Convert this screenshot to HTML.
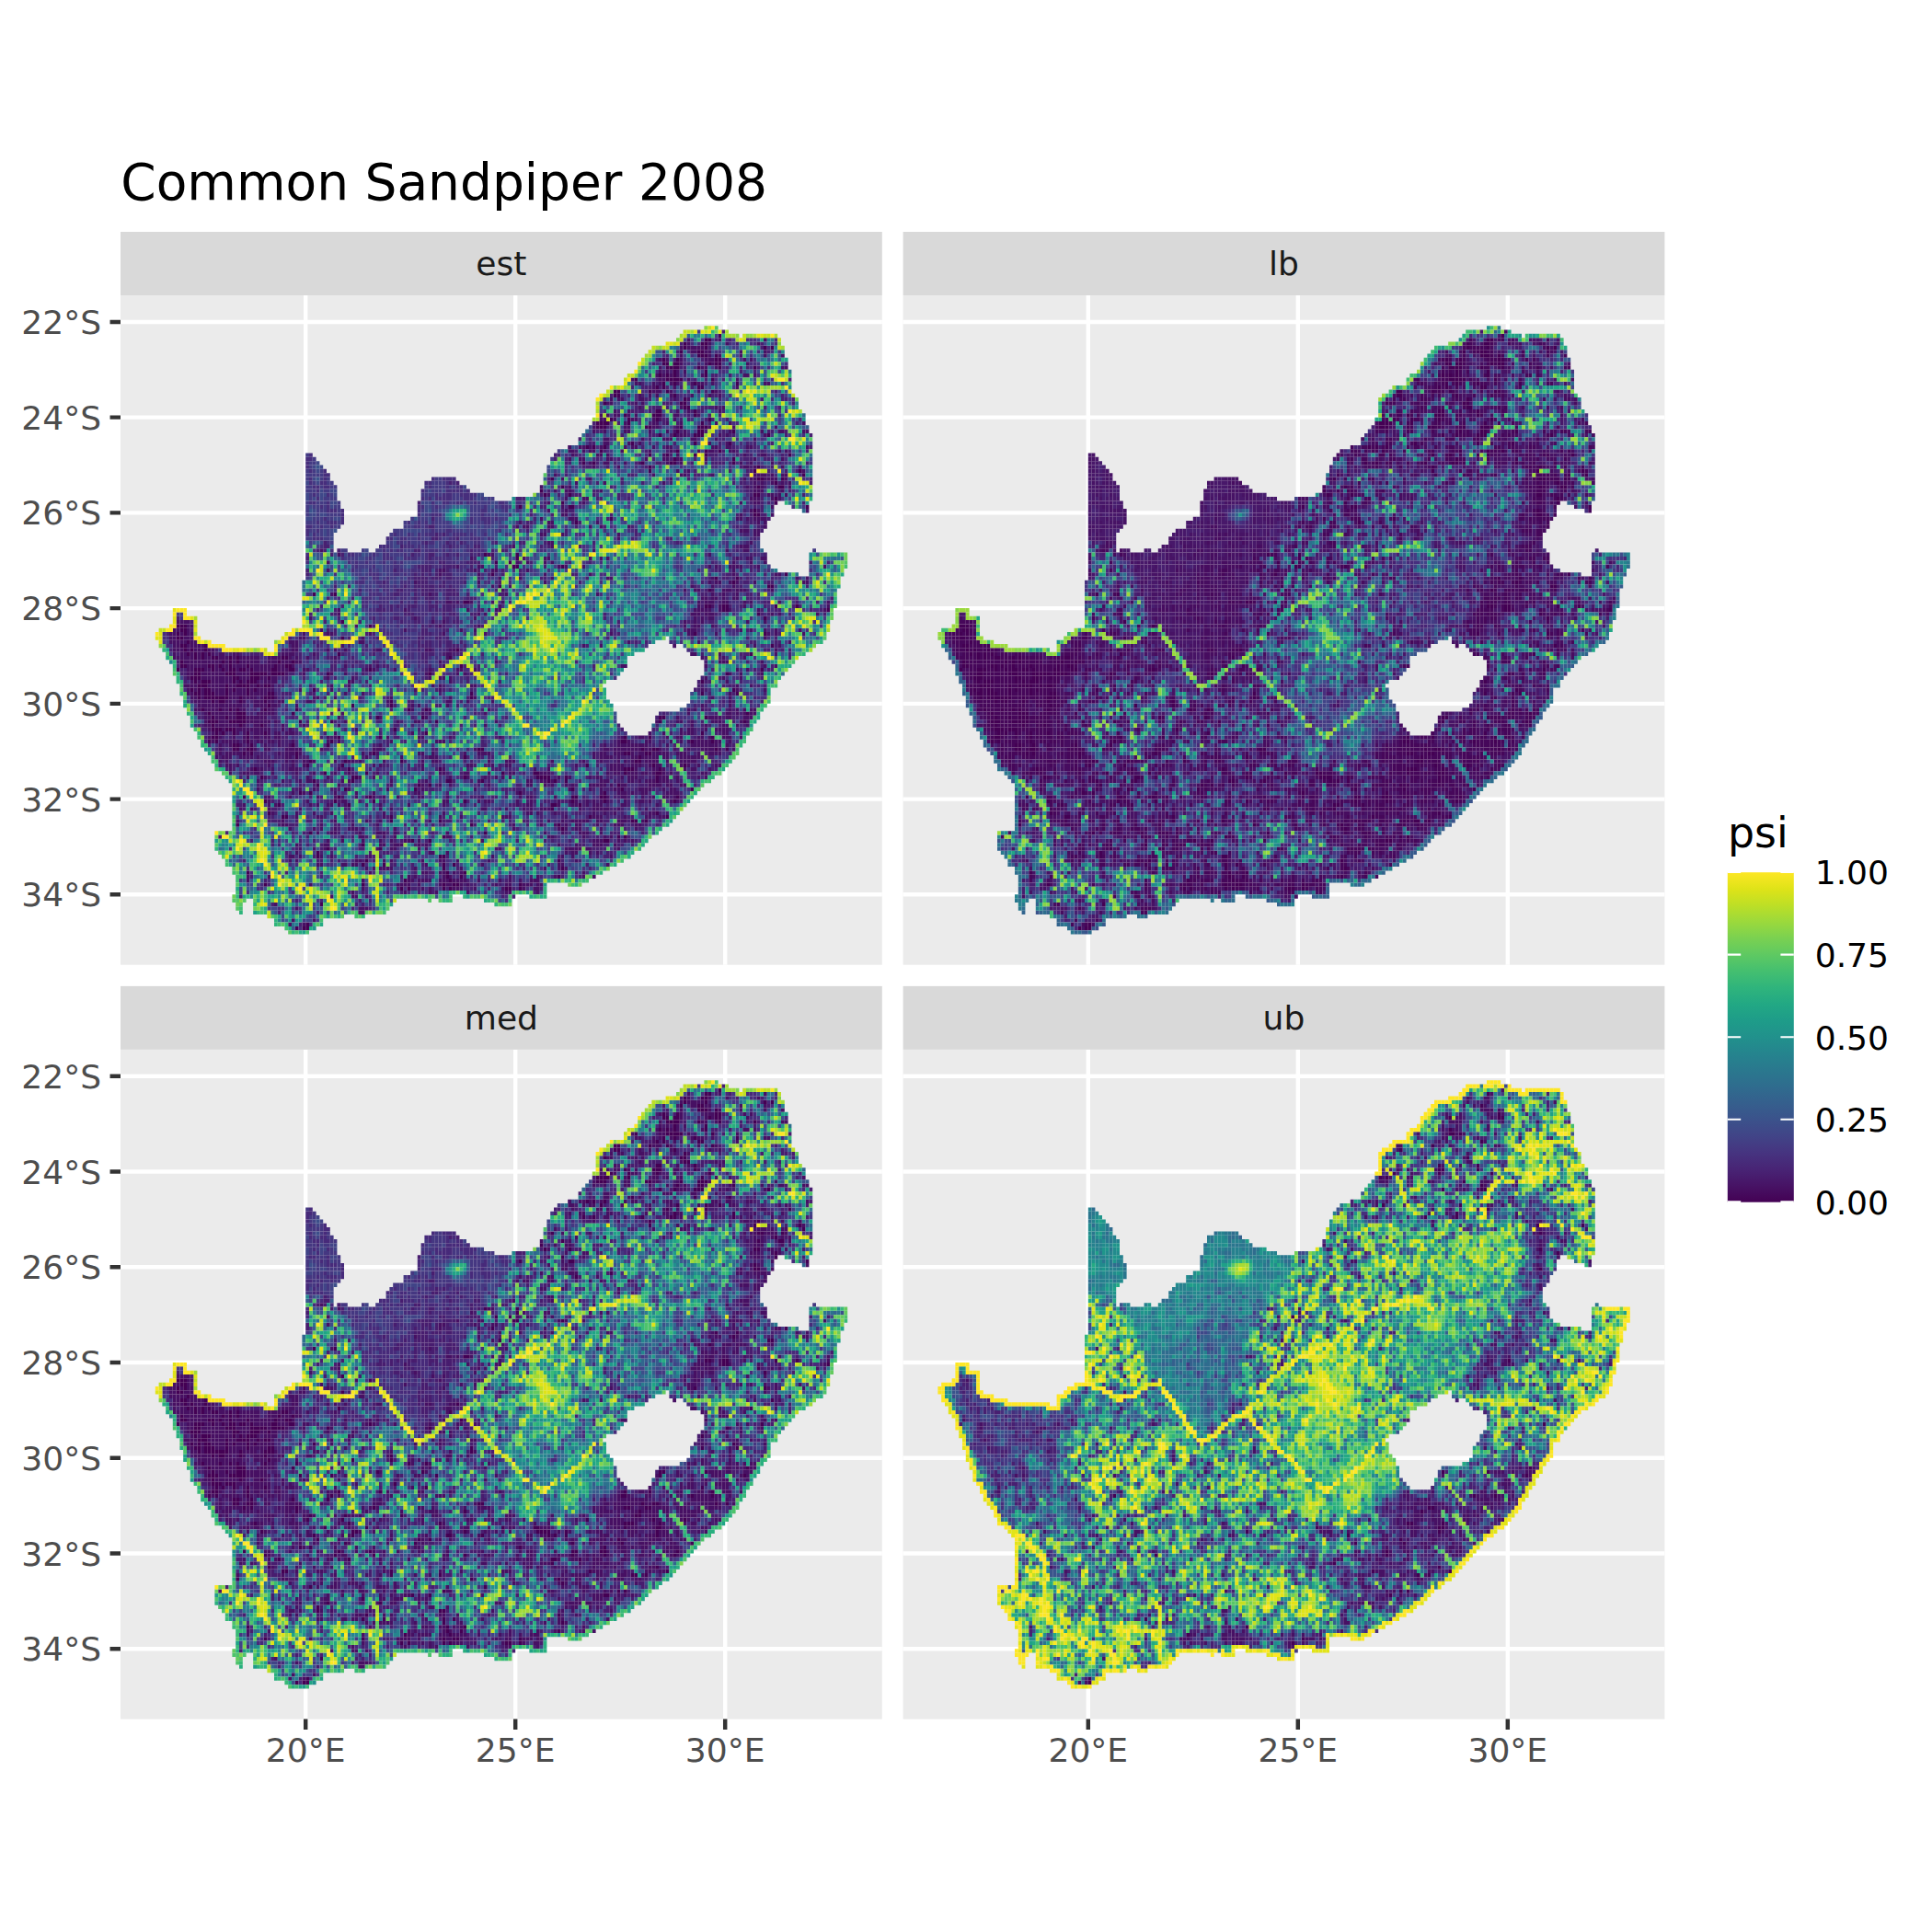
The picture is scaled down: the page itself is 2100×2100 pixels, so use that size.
<!DOCTYPE html>
<html lang="en"><head><meta charset="utf-8"><title>Common Sandpiper 2008</title>
<style>html,body{margin:0;padding:0;background:#fff}svg{display:block}text{font-family:"DejaVu Sans","Liberation Sans",sans-serif}</style></head><body>
<svg width="2100" height="2100" viewBox="0 0 2100 2100">
<defs>
<path id="l0a" d="M162 10h2M156 12h1m5 0h1M160 14h3M150 16h2m2 0h1m11 0h1M162 18h1M142 20h1m9 0h4m8 0h1M148 22h1m1 0h1m9 0h2M136 24h2M156 26h1M148 28h2M140 30h1m7 0h1M132 32h2m12 0h1m13 0h3M160 34h2m18 0h1M132 38h1m21 0h1m7 0h1m3 0h1M170 40h1M146 42h1M190 44h1M182 46h1M182 50h1M124 52h1M176 54h2M108 64h1M102 66h1m3 0h1M180 72h2M50 74h1m5 0h1M94 76h1M168 78h1M12 82h2m52 0h1M14 86h1M16 90h1m1 0h1m3 0h1m3 0h1m1 0h1m13 0h1M12 92h2m6 0h2m4 0h1m15 0h2m48 0h1M16 94h2m8 0h2m4 0h5m1 0h4m12 0h1m113 0h1M16 96h1m1 0h3m11 0h2M20 98h1m29 0h1m119 0h1M20 100h6m10 0h3M72 102h1M20 104h1m7 0h3m13 0h1m129 0h1M20 106h3m3 0h5m15 0h1M22 108h2m2 0h2M22 110h1m123 0h1m17 0h1M28 112h1m3 0h1m11 0h1m9 0h1M30 114h1m1 0h1m107 0h1m5 0h1M142 116h2M60 118h1m25 0h1m53 0h2M62 120h1m51 0h4m4 0h1m25 0h1M80 122h1M46 124h1M36 126h1m19 0h1m67 0h1M118 128h1M42 130h1m29 0h1M28 132h1m91 0h1M78 136h1m55 0h1M54 138h1M86 140h2M64 142h1m5 0h1m19 0h1M88 144h1M76 146h1M106 148h1M52 152h1M48 158h1"/>
<path id="l0b" d="M166 9h1M156 11h1m5 0h1M160 13h2M150 15h1m3 0h1m11 0h1M152 17h3m5 0h1m5 0h1m9 0h1M162 19h1M150 21h1M136 23h2m8 0h1m17 0h1M156 25h1M156 27h2M148 29h2M132 31h3m5 0h1M154 33h1m5 0h2m8 0h1M128 37h1m1 0h1M146 39h1m15 0h1m23 0h1M130 41h1m13 0h1m7 0h2m16 0h1M146 43h1m29 0h1M118 45h1m59 0h1m5 0h1M184 47h1M116 49h1m59 0h2M182 51h1M176 53h1M108 65h1M108 67h1M170 71h1M162 77h2m4 0h1m13 0h1m5 0h1M58 81h1M12 83h2M12 85h1m45 0h1M12 87h2M14 89h1m1 0h1m1 0h1m1 0h1M12 91h1m11 0h1m1 0h1m1 0h1m11 0h1m3 0h1M16 93h3m5 0h1m1 0h2m2 0h1m1 0h1m5 0h2m4 0h1m21 0h1m111 0h1M16 95h2m10 0h1m3 0h3M18 97h2m8 0h4m2 0h1m1 0h2M16 99h2m2 0h2m16 0h1M24 101h1m11 0h1m35 0h1M18 103h1m7 0h1m1 0h1m7 0h1m45 0h1M28 105h3m37 0h1m81 0h1m11 0h1M22 109h1m1 0h1m11 0h1m45 0h1M20 111h1m1 0h1m115 0h2m18 0h1m5 0h1M28 113h1m3 0h1m65 0h1m45 0h1m3 0h1m19 0h1M48 117h1m9 0h1m69 0h1m27 0h1M104 119h1m9 0h1m33 0h2M50 121h1m37 0h2m8 0h1m23 0h1m25 0h1M124 123h1m13 0h1m19 0h1M30 125h1m35 0h1m57 0h2m6 0h2m20 0h1M40 127h1m19 0h1m57 0h2m6 0h1M148 129h1M72 131h1m13 0h1m55 0h1M64 137h1M120 141h1M88 145h1m3 0h1m27 0h1M36 147h1m27 0h1m25 0h2M48 157h1"/>
<path id="l0c" d="M163 10h1M179 12h1m1 0h1M161 14h2m2 0h1M151 16h1m1 0h2m8 0h1m1 0h2M153 18h1M151 20h5M161 22h1M137 24h1m15 0h1M133 26h1m21 0h2M149 28h1m9 0h1M135 30h1m27 0h1M131 32h3m11 0h2m8 0h1m5 0h2M149 34h1m3 0h1m5 0h3M141 36h1m17 0h1m9 0h1M153 40h1M177 42h1M115 48h1M109 52h1m13 0h2m66 0h1M177 54h1M125 56h1M99 64h1M165 70h1m5 0h1M103 72h1m77 0h1M93 76h2M167 78h2m28 0h1M179 80h1M11 82h3M11 84h1m1 0h1m145 0h1m19 0h1M13 88h1m1 0h1m3 0h1m71 0h1M21 90h2m18 0h2m46 0h1M13 92h1m7 0h1m1 0h1m7 0h1m7 0h1m3 0h1M17 94h1m7 0h3m5 0h4m2 0h3m41 0h1M19 96h2m6 0h1m1 0h1m1 0h3m127 0h1M15 98h1m1 0h1m1 0h2m4 0h1m1 0h1m3 0h1m1 0h1M17 100h1m1 0h7m3 0h1m7 0h2m56 0h1M37 102h1m23 0h1M29 104h2M21 106h2m4 0h4m24 0h1m29 0h1m63 0h1m23 0h1M21 108h3m1 0h3m45 0h1M21 110h2m8 0h1m25 0h1m11 0h1m69 0h1M27 112h2M45 114h1m21 0h1m71 0h2m4 0h2M49 116h1m9 0h1m15 0h1m67 0h1M33 118h1m105 0h3m7 0h1M35 120h1m25 0h2m30 0h1m21 0h3M51 122h1m31 0h1m53 0h1M49 124h1m59 0h1m23 0h1M67 126h1m25 0h1m39 0h1m19 0h1M41 130h2m86 0h1m21 0h1M95 132h1M49 134h1m49 0h1M83 136h1m49 0h2M69 138h1M51 140h1m35 0h1M87 142h1M31 144h1m61 0h1M89 146h1M75 148h1m1 0h1m9 0h1m1 0h1m15 0h2m2 0h1M45 158h1m1 0h2"/>
<path id="l0d" d="M161 11h2M155 13h1m5 0h1M165 15h2M151 17h4M149 19h1m1 0h1m1 0h1M153 21h1m5 0h1m11 0h1M137 23h1m13 0h1M157 27h1M139 29h1m7 0h3m9 0h1M131 31h4m26 0h1M161 33h1M133 37h1M151 39h1m7 0h1M127 41h1m25 0h1M189 43h1M177 45h2M121 47h1m55 0h1m5 0h2M123 49h1m53 0h1M121 51h1M135 55h1M107 67h2m12 0h1M101 69h1m83 0h1M163 73h1M163 77h1m3 0h2M177 79h1M13 83h1M11 85h2M13 87h1m5 0h1m161 0h1M57 89h1m117 0h1M11 93h1m5 0h2m2 0h1m5 0h1m1 0h2m8 0h1m3 0h2M15 95h3m9 0h2m4 0h2m2 0h1M17 97h3m5 0h1m3 0h3m5 0h1M17 99h1m1 0h3m3 0h1m5 0h1m5 0h2m56 0h1m65 0h1m9 0h1M21 101h1m1 0h2m4 0h1M23 103h1m21 0h1m31 0h1M21 105h1m3 0h1m3 0h2m50 0h1m67 0h2M21 107h1m7 0h1m5 0h1M27 109h1m3 0h1m129 0h1M31 111h1m23 0h1m83 0h1M27 113h2m2 0h2m64 0h2m48 0h2m16 0h1M45 115h1m47 0h1m49 0h1M147 117h1M53 119h1m11 0h1m47 0h2m24 0h1m9 0h1M61 121h1m27 0h1m27 0h1m1 0h1M59 123h1m19 0h1M57 125h1m67 0h1m7 0h1M119 127h1M37 129h1M141 131h2m2 0h1M121 133h1M87 135h1m49 0h1m1 0h1M51 139h1M65 141h1M87 143h1m33 0h1M87 147h1m3 0h1m17 0h1"/>
<path id="l1a" d="M166 10h1M158 12h4M166 14h1m5 0h1m11 0h1M162 16h1m1 0h1m9 0h1M154 18h1m1 0h1M150 20h1M146 24h1m1 0h1m3 0h1m5 0h1m7 0h1M134 26h2m6 0h1m1 0h1M136 28h1m3 0h1m13 0h1m11 0h1M132 30h2m2 0h1m5 0h1M130 32h1m9 0h1m7 0h1m5 0h1m15 0h1m11 0h1M154 34h3m9 0h1m1 0h1M134 36h1m5 0h1m27 0h1M124 38h1m5 0h1m7 0h1m7 0h1m5 0h1m7 0h1m3 0h1m5 0h1M126 40h2m6 0h2m14 0h2m2 0h2m6 0h1m13 0h1m7 0h1M130 42h1m43 0h1m1 0h1m7 0h1M156 44h1m7 0h1m11 0h4m4 0h2M150 46h1m25 0h1m1 0h1m5 0h1m1 0h1M122 48h2m8 0h1m43 0h3m5 0h1M122 50h1m5 0h1m47 0h2M122 54h1m49 0h1M118 56h1M172 58h3m1 0h2M118 62h1m53 0h3M100 64h2M54 66h1m53 0h1m7 0h1m1 0h1m51 0h1M54 68h1m31 0h2m8 0h1m5 0h1m67 0h1M118 70h1m15 0h2m28 0h1m23 0h1M106 72h1m51 0h1m5 0h1m5 0h1M164 74h1M88 76h2m14 0h1m55 0h1m1 0h3m3 0h1M76 78h1m17 0h1m7 0h2m56 0h4m2 0h1m29 0h1M96 80h1m67 0h1M14 82h2m46 0h1m23 0h1m69 0h1m3 0h1m3 0h1M10 84h1m1 0h1m1 0h2m38 0h2m10 0h1m91 0h1m21 0h1m1 0h1m7 0h1M10 86h4m2 0h1m27 0h2m18 0h1m75 0h1m19 0h1m25 0h1M10 88h3m1 0h1m1 0h3m1 0h2m22 0h2m8 0h1m1 0h1m11 0h2m12 0h2m6 0h1m91 0h1M10 90h6m4 0h1m3 0h2m4 0h5m3 0h3m7 0h1m7 0h1m31 0h1M14 92h6m2 0h1m1 0h2m2 0h3m1 0h7m1 0h2m2 0h1m21 0h1m1 0h1m69 0h2m22 0h1m19 0h1M14 94h2m2 0h7m3 0h4m10 0h1m39 0h1m89 0h1m5 0h1M22 96h5m1 0h1m1 0h1m3 0h1m1 0h4m20 0h2m106 0h1M14 98h1m1 0h1m1 0h1m3 0h3m1 0h1m1 0h3m1 0h1m1 0h5m7 0h1m39 0h1M16 100h1m1 0h1m7 0h3m1 0h4m16 0h2m4 0h1m15 0h1m23 0h1m67 0h1M18 102h12m4 0h3m1 0h2m38 0h1m1 0h1m7 0h1M22 104h6m6 0h5m19 0h1m109 0h2m6 0h1M24 106h2m6 0h6m36 0h1m5 0h1m21 0h1m45 0h1m5 0h2m2 0h1m5 0h3m5 0h1m1 0h1M20 108h1m3 0h1m3 0h10m24 0h1m95 0h1m3 0h1m3 0h3M20 110h1m9 0h1m3 0h1m1 0h2m2 0h1m13 0h1m1 0h1m23 0h2m56 0h1m5 0h1m9 0h2m4 0h2m6 0h2m2 0h1M26 112h1m9 0h1m3 0h1m97 0h8m12 0h8m2 0h1M26 114h4m10 0h1m1 0h3m1 0h1m17 0h1m1 0h1m1 0h1m11 0h2m2 0h1m13 0h3m29 0h1m1 0h2m2 0h3m5 0h1m3 0h4m2 0h3m3 0h1m3 0h3M36 116h3m3 0h1m1 0h1m3 0h1m1 0h1m5 0h1m3 0h2m8 0h1m13 0h2m14 0h1m5 0h2m10 0h1m13 0h1m13 0h3m7 0h4M26 118h1m5 0h1m1 0h2m2 0h1m5 0h2m90 0h3m3 0h1m5 0h1m1 0h1m5 0h1m1 0h2M36 120h1m11 0h1m5 0h1m39 0h1m7 0h1m1 0h1m1 0h1m13 0h1m11 0h1m5 0h1m1 0h3m7 0h2m2 0h1m5 0h1m1 0h1M72 122h1m13 0h1m13 0h1m11 0h1m3 0h1m1 0h1m3 0h1m1 0h1m5 0h4m4 0h2m6 0h4m2 0h1m3 0h1M44 124h1m11 0h1m5 0h1m17 0h1m27 0h1m23 0h1m5 0h2m4 0h2m6 0h3M48 126h1m9 0h2m28 0h1m11 0h1m7 0h1m3 0h1m7 0h1m7 0h1m1 0h1m1 0h1m1 0h1m9 0h1m1 0h1m5 0h1m1 0h1M32 128h1m13 0h1m25 0h1m25 0h2m10 0h1m1 0h1m3 0h2m8 0h1m3 0h5M52 130h1m17 0h1m15 0h1m5 0h1m11 0h3m15 0h1m7 0h3m13 0h1m3 0h1M42 132h1m9 0h1m15 0h1m53 0h1m3 0h1m9 0h3m3 0h2M56 134h1m11 0h3m17 0h1m27 0h1m9 0h3m3 0h1M54 136h1m3 0h1m5 0h1m7 0h1m3 0h2m2 0h1m17 0h1m31 0h3M46 138h1m3 0h1m17 0h1m3 0h2m6 0h1m1 0h1m19 0h2m18 0h5m1 0h2M44 140h1m1 0h1m5 0h1m13 0h1m57 0h1M52 142h1m5 0h2m2 0h1m19 0h1m15 0h1m21 0h2m12 0h1M66 144h1m15 0h1m3 0h2m2 0h1m1 0h1M64 146h1m13 0h1m1 0h4m2 0h3m1 0h4m12 0h1m5 0h3M64 148h1m25 0h3m3 0h1m7 0h1m5 0h1m3 0h1M62 150h1M64 154h1M44 156h1m5 0h1"/>
<path id="l1b" d="M168 11h1M158 13h2m2 0h2m8 0h1M162 15h3M162 17h1m21 0h2M148 19h1m1 0h1m1 0h1m1 0h1m19 0h1m1 0h1M142 21h2m8 0h1m1 0h1m3 0h1m1 0h2m2 0h1m15 0h1M148 23h2m2 0h1m7 0h1M138 25h1m5 0h1M132 29h1m1 0h1m1 0h2m2 0h1m1 0h1m11 0h1m5 0h1M148 31h1m41 0h1M130 33h1m9 0h1m5 0h1m9 0h1m21 0h1m5 0h1m5 0h2M134 35h1m9 0h1m5 0h3m5 0h2m16 0h1M126 37h2m4 0h1m9 0h1m9 0h1m11 0h2m2 0h2m4 0h2M124 39h1m7 0h1m1 0h1m15 0h1m3 0h1m23 0h2M134 41h1m37 0h1M154 43h1m35 0h1M152 45h1m23 0h1m3 0h3M174 47h1m1 0h1m1 0h1m7 0h1M180 49h2M172 51h1m3 0h2M122 53h1M124 55h2m46 0h1m1 0h1m1 0h4M108 57h1m1 0h2m6 0h1m13 0h1m7 0h1M116 59h1m59 0h2M118 61h1M52 63h1m77 0h1m37 0h1m5 0h1M110 65h1m5 0h2m14 0h1m1 0h1m39 0h2m2 0h2M98 67h1m21 0h1m1 0h1m47 0h3m23 0h1M86 69h1m29 0h1m53 0h1m11 0h2M116 71h1m49 0h1m9 0h1m13 0h2M104 73h1m51 0h1m3 0h1m3 0h1m3 0h2m2 0h2M162 75h1m1 0h2m4 0h2M160 77h1m3 0h1m1 0h1M158 79h3m1 0h3m29 0h1M12 81h3m69 0h1m71 0h1m17 0h1M10 83h2m2 0h1m37 0h1m23 0h1m15 0h1m3 0h1m61 0h2m12 0h1m9 0h1M10 85h1m3 0h2m30 0h2m16 0h1M10 87h2m2 0h5m25 0h2m12 0h1m73 0h1m43 0h1M10 89h1m1 0h2m10 0h1m3 0h1m13 0h3m5 0h1m37 0h2m68 0h2m6 0h1m15 0h1M14 91h10m6 0h5m3 0h2m2 0h2m2 0h1m39 0h1m15 0h1m63 0h3m9 0h1M14 93h2m4 0h1m1 0h2m4 0h1m5 0h4m2 0h3m5 0h1m43 0h1m3 0h1m77 0h1M14 95h1m3 0h9m3 0h2m4 0h1m1 0h2m14 0h1m31 0h2m74 0h1m9 0h1M14 97h3m3 0h5m1 0h2m4 0h2m4 0h1m21 0h1m23 0h1m1 0h1m9 0h1M14 99h2m2 0h1m3 0h3m1 0h5m1 0h5m27 0h1M16 101h5m1 0h1m3 0h1m1 0h1m1 0h1m3 0h2m2 0h1m1 0h2m6 0h2m38 0h2m4 0h1M16 103h2m2 0h3m1 0h2m4 0h1m7 0h1m39 0h1m21 0h1m75 0h1M20 105h1m1 0h3m1 0h2m4 0h5m45 0h1m71 0h1m9 0h3m1 0h2m4 0h2M20 107h1m1 0h7m1 0h1m3 0h1m1 0h1m121 0h1m3 0h1m5 0h1m5 0h1M28 109h1m1 0h1m3 0h2m4 0h1m1 0h3m11 0h1m21 0h1m67 0h1m3 0h1m7 0h1m9 0h1M24 111h5m1 0h1m1 0h1m1 0h2m2 0h1m1 0h1m3 0h1m9 0h1m17 0h1m13 0h2m52 0h1m5 0h1m5 0h1m7 0h4m2 0h1M30 113h1m5 0h2m4 0h5m5 0h1m15 0h2m26 0h1m37 0h1m1 0h8m2 0h1m15 0h3m1 0h1m3 0h1M22 115h1m1 0h3m3 0h3m1 0h1m7 0h2m40 0h2m44 0h1m1 0h4m6 0h1m1 0h5m1 0h2m4 0h5M26 117h1m1 0h1m15 0h1m49 0h2m10 0h1m3 0h1m25 0h3m3 0h2m2 0h1m1 0h2m10 0h1m5 0h1M26 119h1m3 0h2m2 0h1m3 0h1m11 0h1m5 0h1m3 0h1m7 0h1m17 0h2m6 0h1m5 0h1m5 0h2m8 0h2m16 0h1m1 0h2m2 0h3m1 0h2m4 0h1m1 0h1m9 0h1M34 121h1m11 0h1m1 0h2m8 0h1m1 0h1m11 0h1m9 0h1m29 0h1m3 0h1m1 0h1m13 0h3m5 0h2m4 0h2m2 0h2m2 0h1M34 123h1m11 0h1m3 0h1m9 0h1m35 0h1m35 0h1m3 0h2m6 0h3m3 0h1m1 0h2M36 125h2m18 0h1m1 0h1m3 0h1m7 0h1m3 0h1m5 0h2m6 0h1m9 0h1m13 0h1m21 0h1m3 0h2m4 0h1m5 0h2M30 127h1m23 0h2m52 0h1m3 0h1m7 0h1m3 0h2m2 0h1m1 0h3m5 0h2m8 0h1M38 129h1m11 0h1m19 0h1m41 0h1m1 0h1m15 0h1m5 0h1m9 0h2M28 131h1m27 0h1m67 0h5m3 0h1m5 0h2m4 0h1M50 133h1m1 0h1m3 0h1m3 0h3m1 0h1m55 0h1m1 0h1m3 0h1m5 0h1m9 0h1M58 135h1m5 0h1m5 0h1m17 0h2m28 0h1M54 137h1m15 0h1m3 0h2m4 0h1m1 0h1m37 0h1m9 0h3m3 0h1M84 139h1m3 0h1m33 0h1m1 0h2M62 141h2m6 0h1m1 0h1m13 0h2m12 0h1M70 143h3m19 0h1m23 0h1m3 0h1m1 0h1M106 145h1m7 0h1m15 0h1M74 147h4m2 0h1m5 0h1m1 0h2m2 0h1m1 0h1m7 0h1m3 0h1m3 0h3m1 0h2M76 149h1m17 0h1m11 0h1m7 0h1M64 153h2"/>
<path id="l1c" d="M157 10h1m21 0h1M155 12h1m1 0h5M155 14h1m7 0h1m15 0h1M155 16h1M149 18h1m1 0h1M141 20h1m7 0h2m6 0h1m13 0h1M147 22h1m5 0h1m17 0h1M143 24h1m19 0h1M135 26h1M157 28h1M133 30h1m7 0h2m4 0h1m1 0h1m3 0h1M139 32h2m6 0h2m14 0h1M155 34h2m22 0h1M133 36h2m8 0h1m19 0h1M123 38h2m2 0h1m1 0h2m32 0h2m4 0h2m12 0h1m1 0h1M123 40h1m3 0h1m7 0h1m9 0h1m5 0h1m3 0h1M137 42h1m35 0h2m14 0h1M119 44h1m27 0h1m7 0h2m20 0h3m1 0h1m3 0h1M125 46h1m7 0h1m47 0h1M119 48h1m3 0h1m53 0h2M127 50h2m46 0h3m3 0h1m1 0h1M121 52h1m59 0h1M121 54h2m58 0h1M109 56h1m7 0h2m12 0h1m45 0h1m1 0h1M173 58h2m2 0h1M137 60h1M107 62h1m65 0h2M57 64h1m43 0h1m61 0h1M111 66h1m63 0h1m3 0h1M87 68h1m13 0h2m8 0h1M103 70h1m5 0h1m25 0h1m55 0h1M101 72h1M55 74h1m27 0h1m21 0h1m25 0h1m35 0h1m3 0h1M89 76h1m1 0h1m3 0h1m5 0h1m61 0h2m2 0h2m4 0h1m1 0h1m7 0h1m13 0h1M57 78h1m45 0h1m55 0h5m5 0h1m7 0h1M49 80h1m29 0h1m79 0h1m1 0h1m1 0h2M15 82h1m81 0h1m61 0h2M9 84h2m4 0h1m31 0h1m7 0h1m31 0h1m11 0h1m35 0h1m21 0h2m6 0h1M9 86h5m1 0h2m26 0h3m17 0h2M11 88h2m4 0h2m2 0h1m23 0h1m13 0h1m9 0h1m13 0h1m5 0h2M11 90h5m1 0h1m1 0h2m2 0h3m1 0h1m1 0h6m2 0h4m2 0h1m1 0h1m115 0h1m5 0h1m5 0h1M15 92h5m5 0h1m1 0h4m2 0h6m2 0h1m17 0h1m27 0h1m51 0h1m39 0h1M15 94h1m3 0h6m4 0h3m5 0h1m9 0h1m7 0h1m3 0h1m31 0h1m1 0h1m75 0h1M15 96h1m1 0h1m3 0h6m10 0h3m21 0h1m27 0h1M21 98h4m4 0h2m4 0h4m16 0h1m23 0h1m81 0h1m9 0h1m7 0h1M15 100h2m10 0h2m2 0h3m1 0h1m3 0h1m11 0h1m37 0h1m79 0h1M17 102h13m3 0h4m2 0h1m5 0h1m115 0h1m7 0h1M19 104h1m1 0h7m7 0h4m42 0h1m1 0h1m15 0h1m57 0h1m11 0h1m1 0h1m1 0h1m1 0h2M19 106h1m3 0h3m5 0h7m1 0h1m19 0h1m19 0h2m74 0h1m9 0h2M29 108h9m3 0h1m1 0h1m111 0h1m1 0h2m6 0h4M23 110h1m3 0h1m5 0h2m2 0h1m1 0h2m30 0h1m9 0h1m7 0h1m13 0h1m39 0h2m6 0h1m3 0h1m5 0h1m1 0h1m3 0h3M23 112h1m5 0h1m1 0h1m11 0h1m25 0h1m63 0h1m3 0h9m5 0h1m7 0h7M23 114h1m1 0h5m1 0h1m11 0h2m36 0h1m11 0h1m3 0h4m32 0h1m3 0h2m2 0h1m1 0h2m2 0h5m3 0h2m6 0h4M23 116h1m1 0h1m11 0h2m8 0h2m12 0h1m1 0h1m17 0h1m3 0h1m19 0h3m19 0h1m9 0h1m1 0h1m1 0h1m3 0h4m2 0h1m3 0h5M35 118h1m7 0h3m11 0h1m23 0h1m5 0h1m25 0h1m3 0h1m17 0h4m8 0h2m10 0h1m3 0h1M31 120h1m31 0h1m3 0h1m21 0h1m9 0h1m23 0h1m5 0h1m1 0h2m8 0h2m6 0h3M57 122h1m23 0h1m7 0h1m21 0h2m16 0h5m1 0h1m3 0h1m7 0h3m1 0h2m2 0h2M47 124h1m19 0h1m11 0h2m56 0h3m1 0h1m3 0h1m5 0h4M37 126h1m21 0h1m27 0h2m8 0h1m1 0h2m22 0h1m1 0h1m13 0h1m3 0h2M29 128h1m7 0h1m31 0h1m29 0h1m5 0h1m9 0h3m13 0h4m2 0h1m7 0h1M45 130h1m5 0h2m52 0h2m24 0h2m6 0h1m5 0h2m2 0h2M41 132h2m18 0h1m45 0h1m7 0h1m3 0h1m5 0h2m4 0h1m5 0h2m4 0h1M51 134h1m3 0h2m6 0h1m5 0h2m2 0h1m47 0h1m5 0h2M69 136h1m7 0h1m53 0h2m4 0h1m1 0h1m1 0h1M53 138h1m19 0h1m29 0h1m19 0h4m2 0h1m7 0h1M43 140h2m10 0h1m45 0h1m19 0h1m13 0h1M51 142h2m6 0h1m1 0h2m58 0h1M81 144h2m4 0h1m39 0h1M31 146h1m45 0h2m2 0h3m3 0h2m2 0h3m3 0h1m5 0h1m5 0h1m3 0h2M81 148h1m1 0h1m7 0h2m20 0h2M55 150h1m5 0h2m2 0h1M39 152h1M63 154h2"/>
<path id="l1d" d="M157 11h1m5 0h1m13 0h1M159 13h1m3 0h1m15 0h1M149 15h1m1 0h1m3 0h1m7 0h2m8 0h1m1 0h1M149 17h1m11 0h2m2 0h1m19 0h1M161 19h1m11 0h2M143 21h1m3 0h1m1 0h1m11 0h1m17 0h2M147 23h3m15 0h1M135 25h1m1 0h2m4 0h2m8 0h1m3 0h1M143 27h1m11 0h1m9 0h1m1 0h1M137 29h1m15 0h2M139 31h1m7 0h2m2 0h1m3 0h1m9 0h1m3 0h1M133 33h1m5 0h2m10 0h1m1 0h1m15 0h1m13 0h2m6 0h1M133 35h2m16 0h2m6 0h1m5 0h1M123 37h1m3 0h1m1 0h1m9 0h1m1 0h2m4 0h1m3 0h2m12 0h1m3 0h1m5 0h1m15 0h1M131 39h2m40 0h1m5 0h1M129 41h1m3 0h2m4 0h1m3 0h1m7 0h1m3 0h1m19 0h1m5 0h1M157 43h1M121 45h1m7 0h1m43 0h1m1 0h2m2 0h4m2 0h1M115 47h1m7 0h1M117 49h1m63 0h1m1 0h1m1 0h1M117 51h1m9 0h1m49 0h1M117 53h1m57 0h1m1 0h1m13 0h1M115 55h1m7 0h3m45 0h2m4 0h3M111 57h1m5 0h2m10 0h1m49 0h1M115 59h2m4 0h1m15 0h1m39 0h1M117 61h2m56 0h1M173 63h2M95 65h1m21 0h1m11 0h1m41 0h1m3 0h1m3 0h1M91 67h1m5 0h2m28 0h1m35 0h1m1 0h1m3 0h4m4 0h1M97 69h1m31 0h1m53 0h1M79 71h1m17 0h1m65 0h1m1 0h2m2 0h1m1 0h1m19 0h1M159 73h2m6 0h3m1 0h3m7 0h1M161 75h2m2 0h1m1 0h1m3 0h1M103 77h1m69 0h1m23 0h1M57 79h1m39 0h1m1 0h1m59 0h2m2 0h2m16 0h1m1 0h1M11 81h4m72 0h1m71 0h1m1 0h1m17 0h1M11 83h1m145 0h3m15 0h1m3 0h1m9 0h1M9 85h2m2 0h3m31 0h1m131 0h1M11 87h1m3 0h4m26 0h1m81 0h1m25 0h1m29 0h1M13 89h1m1 0h1m1 0h1m1 0h1m1 0h1m1 0h2m2 0h2m12 0h4m44 0h1m69 0h1M13 91h11m1 0h1m1 0h1m1 0h6m2 0h3m1 0h3m1 0h2m120 0h2M15 93h1m3 0h2m2 0h1m1 0h1m5 0h1m1 0h5m3 0h2m4 0h2m16 0h1m1 0h1m5 0h1m9 0h1m7 0h2m78 0h1M19 95h8m2 0h3m3 0h2m2 0h1m21 0h1m21 0h1m3 0h1m1 0h1m77 0h1M13 97h4m4 0h4m2 0h1m5 0h1m1 0h1m19 0h1m39 0h2m74 0h1m3 0h1M15 99h1m7 0h2m2 0h4m2 0h4m22 0h1m109 0h1M17 101h4m4 0h2m6 0h3m1 0h2m2 0h1m7 0h1m21 0h1m17 0h1m11 0h1m67 0h1M17 103h1m1 0h4m2 0h1m1 0h1m1 0h2m4 0h1m1 0h2m44 0h1m73 0h1m1 0h1m1 0h1m7 0h1m1 0h1m1 0h1m1 0h2M19 105h2m2 0h2m2 0h1m3 0h6m20 0h1m11 0h1m93 0h4m2 0h1m3 0h3M19 107h2m2 0h6m4 0h2m6 0h1m5 0h1m9 0h1m41 0h1m67 0h2m2 0h1M21 109h1m1 0h1m9 0h3m1 0h1m1 0h2m2 0h2m110 0h1m1 0h2m8 0h2M21 111h1m3 0h4m6 0h1m1 0h2m18 0h1m27 0h3m49 0h1m7 0h2m8 0h1m1 0h1m1 0h5m1 0h2m2 0h1M23 113h1m9 0h1m3 0h1m5 0h4m20 0h3m63 0h2m2 0h7m1 0h2m2 0h1m3 0h1m3 0h1m3 0h4M25 115h2m2 0h4m10 0h1m21 0h1m9 0h1m7 0h3m47 0h3m1 0h1m3 0h2m2 0h4m2 0h1m3 0h6M25 117h2m10 0h1m9 0h1m19 0h1m1 0h1m11 0h1m13 0h1m5 0h1m3 0h2m18 0h1m9 0h4m2 0h3m5 0h1m5 0h1m1 0h1m7 0h2M31 119h1m1 0h2m10 0h1m41 0h1m5 0h2m12 0h1m7 0h3m19 0h1m3 0h2m2 0h1m1 0h1m13 0h2M41 121h1m7 0h1m47 0h1m13 0h2m2 0h2m16 0h2m6 0h1m1 0h1m1 0h3m1 0h3M71 123h1m9 0h1m41 0h1m5 0h1m7 0h1m5 0h4m6 0h1M37 125h1m5 0h1m7 0h1m13 0h1m1 0h1m13 0h1m27 0h1m1 0h2m6 0h1m19 0h1m7 0h1m3 0h1m1 0h1M37 127h1m1 0h1m9 0h1m1 0h1m3 0h1m1 0h1m1 0h1m9 0h1m7 0h1m9 0h1m23 0h2m12 0h1m5 0h2m6 0h1M45 129h1m9 0h1m31 0h1m23 0h2m6 0h1m13 0h1m13 0h1M41 131h1m23 0h1m3 0h1m9 0h1m3 0h1m33 0h1m3 0h1m3 0h4m2 0h2m4 0h3M43 133h1m17 0h2m10 0h1m33 0h1m17 0h2M23 135h1m39 0h2m8 0h1m15 0h1m27 0h2m8 0h1m5 0h1m1 0h1M45 137h1m7 0h2m14 0h2m2 0h3m49 0h1m5 0h2M45 139h1m37 0h2m40 0h1m3 0h1m1 0h1M43 141h1m1 0h1m17 0h1m17 0h1m5 0h1m3 0h1m33 0h1M65 143h1m1 0h1m1 0h4m6 0h1M31 145h1m5 0h1m39 0h1m1 0h1m7 0h1m1 0h1m29 0h1m7 0h1M49 147h1m25 0h3m11 0h1m15 0h2m4 0h2m2 0h1M61 149h1m21 0h1m1 0h1m19 0h2M45 153h1m17 0h3M43 157h1m3 0h1"/>
<path id="l2a" d="M178 12h1M160 16h1M150 18h1m1 0h1m19 0h1m3 0h1M148 20h1m13 0h1m23 0h1M144 22h3m11 0h1M140 24h1m3 0h1m9 0h1m9 0h2m18 0h1M140 26h2m8 0h3M142 28h3m1 0h1m11 0h1m1 0h2M150 30h2m10 0h1m1 0h1m3 0h1M134 32h1M138 34h1m7 0h3m3 0h1m17 0h1m21 0h1M130 36h1m35 0h1m7 0h1m1 0h1M174 38h1m3 0h1m7 0h1M122 40h1m29 0h1m11 0h1m9 0h2m4 0h2M128 42h2m4 0h1m37 0h1m5 0h1M122 44h1m17 0h2m18 0h1m13 0h1m5 0h1M138 46h1m5 0h1m7 0h1m17 0h1m1 0h2m18 0h1M124 48h1m5 0h2m42 0h2m10 0h1M108 50h3m21 0h1m7 0h1m37 0h1M108 52h1m7 0h1m59 0h1m1 0h1M112 54h1m5 0h1m5 0h1m53 0h2M112 56h1m11 0h1m1 0h1m47 0h3M116 58h2m4 0h1m19 0h1m35 0h1M84 60h2m66 0h1m23 0h1M54 62h1m41 0h2m8 0h1m19 0h1M58 64h1m19 0h1m5 0h1m3 0h1m87 0h1M86 66h2m6 0h4m14 0h1m51 0h1m27 0h1M48 68h1m33 0h2m4 0h1m5 0h2m8 0h1m55 0h1m5 0h1m5 0h1M80 70h3m1 0h3m1 0h2m26 0h1m11 0h1m39 0h1m1 0h1m1 0h1m1 0h1M56 72h1m3 0h1m15 0h1m3 0h5m1 0h2m84 0h1M74 74h1m7 0h1m1 0h2m2 0h4m2 0h1m9 0h1m57 0h1m3 0h1m1 0h1m1 0h1m3 0h2M60 76h1m29 0h1m15 0h1m59 0h1m7 0h1m5 0h1m7 0h1m5 0h1M56 78h1m11 0h3m1 0h1m15 0h2m8 0h1m1 0h1m77 0h1m1 0h1m1 0h2m8 0h1M74 80h1m3 0h1m1 0h1m3 0h1m3 0h1m71 0h1m1 0h1M96 82h1m1 0h1m59 0h1M8 84h1m47 0h1m25 0h2m2 0h1m9 0h1M50 86h1m1 0h1m27 0h1m1 0h2m2 0h1m1 0h2m2 0h1m49 0h1m33 0h1m5 0h2M22 88h1m19 0h2m36 0h1m3 0h1m3 0h1m3 0h1m87 0h1m3 0h1m1 0h1M44 90h1m1 0h1m3 0h2m2 0h2m26 0h1m79 0h1m3 0h1m19 0h1M50 92h1m5 0h1m13 0h2m4 0h1m9 0h1m43 0h1m47 0h1M12 94h2m30 0h1m1 0h1m15 0h1m1 0h1m19 0h1m9 0h2M52 96h1m41 0h1m65 0h1m1 0h2m8 0h1M60 98h1m99 0h1m1 0h1m9 0h1M34 100h1m49 0h1m9 0h1m5 0h2m74 0h1M30 102h2m8 0h1m45 0h1m75 0h1M16 104h1m1 0h1m13 0h1m49 0h1m13 0h1m53 0h1m19 0h1m1 0h1M40 106h1m7 0h1m7 0h1m11 0h2m100 0h1M18 108h2m24 0h1m35 0h1m57 0h1M24 110h1m1 0h1m5 0h1m9 0h1m9 0h1m15 0h1m5 0h1m15 0h1m7 0h1m3 0h1m1 0h1m37 0h1M20 112h1m3 0h2m4 0h1m7 0h1m3 0h1m25 0h1m29 0h2m30 0h1m1 0h1m3 0h1m9 0h2m18 0h1m3 0h1M22 114h1m1 0h1m9 0h3m97 0h1m7 0h1m19 0h1M24 116h1m9 0h2m22 0h1m3 0h1m13 0h1m9 0h1m39 0h1m7 0h1m1 0h1m3 0h1m3 0h1m19 0h2M36 118h2m4 0h1m3 0h1m1 0h1m9 0h2m6 0h1m1 0h1m25 0h1m7 0h2m2 0h1m25 0h1m1 0h1m11 0h1m5 0h1m11 0h2M72 120h1m15 0h1m3 0h1m5 0h1m1 0h1m27 0h1m1 0h1m3 0h2m8 0h1m1 0h2m10 0h2M34 122h2m4 0h1m5 0h1m3 0h1m9 0h1m21 0h1m25 0h2m34 0h2M88 124h1m21 0h1m1 0h1m27 0h1m1 0h2m6 0h1M38 126h1m1 0h1m13 0h2m14 0h1m23 0h1m21 0h2m4 0h1m17 0h1m1 0h1M30 128h1m7 0h2m14 0h1m5 0h1m75 0h1m1 0h1M38 130h1m17 0h1m9 0h1m1 0h1m59 0h1m5 0h1m3 0h1m1 0h2m6 0h1M40 132h1m3 0h2m10 0h2m18 0h1m7 0h1m11 0h1m9 0h1m37 0h2m2 0h1M44 134h1m3 0h1m5 0h1m7 0h1m11 0h1m1 0h1m7 0h1m37 0h1m13 0h2m6 0h1M32 136h1m5 0h1m7 0h1m3 0h1m31 0h1m25 0h1m7 0h1m1 0h1m19 0h1m1 0h1m1 0h1M52 138h1m3 0h1m7 0h1m65 0h4m2 0h1M50 140h1m11 0h1m11 0h1m13 0h1m31 0h1m13 0h1M72 142h2m4 0h1m49 0h1M42 144h1m9 0h1m19 0h1m11 0h1M36 146h1m57 0h1m5 0h1M74 148h1m3 0h3m3 0h1m3 0h1m5 0h2m4 0h1M104 150h1M38 152h1m23 0h1m1 0h1M40 154h1"/>
<path id="l2b" d="M178 11h1M150 13h1m3 0h1m25 0h1M148 15h1M156 17h1m11 0h1m3 0h1m1 0h1M156 19h1m7 0h2M144 21h1m3 0h1m13 0h1M162 23h1m3 0h1m15 0h1M146 25h1m5 0h1m1 0h1m11 0h1m11 0h1m5 0h2M142 27h1m1 0h1m3 0h2m12 0h3m1 0h1m5 0h1M166 29h1M130 31h1m15 0h1m3 0h1m3 0h1m33 0h1M132 33h1m29 0h1m17 0h2M126 35h1m19 0h1M134 37h1m9 0h1m5 0h1m15 0h1m3 0h1m5 0h1m15 0h1M120 39h1m31 0h1m11 0h2m8 0h2m8 0h1M122 41h2m2 0h1m9 0h1m5 0h1m5 0h2m4 0h1m3 0h1m3 0h1m1 0h4m6 0h1M156 43h1m17 0h2m4 0h1m7 0h1M128 45h1m9 0h1m53 0h1M122 47h1m25 0h1m33 0h1M120 49h1m1 0h1m1 0h3m3 0h1m47 0h1m3 0h1m7 0h1M80 51h1m35 0h1m9 0h1m51 0h1m1 0h1m9 0h1M124 53h1m53 0h1M84 55h1m49 0h1m45 0h1M84 57h1m89 0h1m3 0h1M122 59h1m19 0h1m31 0h1M82 61h1m5 0h1m3 0h1m9 0h1m7 0h1m5 0h1m13 0h1m23 0h1m19 0h1M80 63h1m23 0h2M48 65h1m47 0h1m73 0h1m1 0h1M80 67h4m4 0h3m11 0h1m13 0h1m49 0h1m9 0h1M48 69h1m39 0h2m10 0h1m3 0h1m19 0h2m42 0h2M70 71h1m9 0h3m43 0h1m37 0h1m9 0h1m5 0h2M74 73h2m6 0h3m3 0h3m11 0h1m59 0h1m7 0h1m3 0h1m5 0h1M54 75h1m27 0h3m3 0h1m5 0h3m71 0h1m5 0h2m22 0h1M52 77h1m5 0h1m13 0h1m1 0h1m3 0h2m4 0h2m2 0h3m81 0h1M56 79h1m19 0h3m11 0h1m5 0h1m5 0h1m75 0h1m1 0h1m5 0h1m9 0h1M80 81h1m7 0h1m1 0h2m66 0h1m1 0h1m3 0h1M54 83h1m1 0h1m25 0h1m5 0h1m67 0h1m3 0h1m7 0h1m5 0h1M60 85h1m7 0h1m11 0h2m4 0h1m1 0h1m45 0h1m23 0h1m15 0h1m7 0h1M60 87h1m19 0h4m2 0h1m1 0h4m36 0h1m45 0h1m7 0h1M22 89h1m3 0h1m5 0h3m5 0h1m5 0h1m11 0h1m23 0h3m5 0h3m5 0h1m73 0h3m11 0h1M36 91h1m19 0h1m5 0h1m5 0h1m13 0h1m79 0h1m11 0h1M12 93h2m42 0h1m1 0h2m4 0h1m3 0h1m13 0h1m1 0h1m79 0h1m11 0h1m3 0h2M42 95h1m13 0h1m5 0h1m3 0h1m15 0h1m11 0h1m71 0h1m11 0h1M40 97h2m24 0h1m7 0h1m85 0h2m8 0h1M42 99h2m6 0h1m3 0h1m31 0h1m83 0h1M32 101h1m17 0h1m27 0h1m13 0h1m77 0h1m7 0h1M42 103h1m29 0h1m25 0h1m59 0h1m3 0h2m4 0h1m1 0h1M18 105h1m19 0h2m4 0h1m21 0h1m11 0h1m69 0h1m21 0h2M18 107h1m27 0h1m1 0h1m25 0h1m3 0h1m13 0h1m3 0h1m51 0h1m17 0h1M20 109h1m5 0h1m5 0h1m57 0h1m61 0h1m3 0h1m9 0h1M36 111h1m5 0h2m32 0h1m3 0h1m1 0h1m15 0h1m5 0h1m31 0h1m13 0h1m3 0h1m13 0h1M22 113h1m1 0h1m1 0h1m27 0h1m15 0h1m13 0h2m8 0h1m37 0h1m17 0h2m2 0h1m1 0h1m1 0h3M36 115h2m2 0h2m2 0h1m1 0h3m15 0h1m3 0h1m13 0h1m11 0h1m3 0h1m1 0h2m4 0h1m29 0h1m1 0h3m13 0h1m9 0h1M34 117h3m1 0h1m3 0h2m26 0h2m8 0h1m15 0h1m3 0h1m33 0h1m5 0h1m3 0h2m6 0h1m11 0h1M32 119h1m9 0h1m1 0h1m7 0h1m23 0h1m11 0h1m3 0h1m17 0h1m7 0h1m19 0h1m7 0h1m7 0h1m3 0h2M30 121h1m49 0h2m8 0h1m9 0h1m25 0h1m9 0h3m3 0h1m9 0h1M44 123h2m10 0h2m22 0h1m1 0h3m15 0h1m3 0h2m2 0h3m19 0h1m3 0h2m4 0h1m1 0h1m11 0h1M52 125h1m25 0h1m17 0h2m4 0h1m33 0h2m2 0h1m5 0h1m5 0h1M28 127h2m52 0h1m5 0h1m7 0h1m9 0h2m2 0h1m23 0h1m5 0h1M42 129h1m29 0h1m33 0h1m11 0h1m1 0h3m3 0h1m5 0h1m1 0h2m2 0h1m5 0h2M38 131h3m7 0h2m2 0h1m13 0h1m1 0h1m19 0h2m10 0h1m3 0h1m1 0h1m3 0h2m10 0h2m10 0h1m5 0h1M68 133h1m39 0h1m15 0h1m19 0h1M48 135h1m19 0h1m59 0h1m5 0h1m5 0h1M38 137h1m1 0h1m5 0h1m1 0h1m3 0h1m19 0h1m53 0h2m6 0h1m3 0h1M42 139h1m9 0h1m13 0h1m3 0h2m8 0h1m51 0h1m1 0h2M30 141h1m21 0h1m11 0h1m61 0h1M78 143h1m31 0h1M32 145h1m19 0h1m25 0h1m3 0h1m29 0h1m13 0h1M70 147h2m24 0h1M60 149h1m3 0h1m15 0h1m3 0h1m19 0h1M52 151h1m13 0h1M66 153h1M46 157h1"/>
<path id="l2c" d="M167 8h1M165 10h1m3 0h1M163 12h1M151 14h1M147 16h1m21 0h1M159 20h1m7 0h1M141 22h1m3 0h2m2 0h1m1 0h1m3 0h1M135 24h1m29 0h1M141 26h1m9 0h2m34 0h1M137 28h1m3 0h4m16 0h1m5 0h1M151 30h1m3 0h1m1 0h1m31 0h1M149 32h1m3 0h1M147 34h2m8 0h1m9 0h1m1 0h2m14 0h1M129 36h2m22 0h1m27 0h1M125 38h1m7 0h1m11 0h1m5 0h1m1 0h1m11 0h1m1 0h1m3 0h1m19 0h1M119 40h1m11 0h1m5 0h1m9 0h1m11 0h1m13 0h3m3 0h3M127 42h3m15 0h1m1 0h1m27 0h1m5 0h1M141 44h1m15 0h1m1 0h2m2 0h1M89 46h1m1 0h1m39 0h1m41 0h1m1 0h1m1 0h1m1 0h1m3 0h1m1 0h1M117 48h1m13 0h1m43 0h1m7 0h1M109 50h2m20 0h2m4 0h1M115 52h2M135 54h1m35 0h1m3 0h1m3 0h1M111 56h2m62 0h2M111 58h1m5 0h1M85 60h1m5 0h1m49 0h1m9 0h2m6 0h1M53 62h2m20 0h1m13 0h1m7 0h1m17 0h1m1 0h1m53 0h1M55 64h1m27 0h2m6 0h1m3 0h1m1 0h1m71 0h1m5 0h2m2 0h1M87 66h1m7 0h3m11 0h1m13 0h1m5 0h1m67 0h1M73 68h1m7 0h3m1 0h1m9 0h1m1 0h1m1 0h1m9 0h1m55 0h2m8 0h1m1 0h1M79 70h4m2 0h2m2 0h1m7 0h1m17 0h2m46 0h1m3 0h2m12 0h1M79 72h6m2 0h1m1 0h1m7 0h1m13 0h1m47 0h1m11 0h2m18 0h1M73 74h2m4 0h1m1 0h2m2 0h1m3 0h3m11 0h2m56 0h2m12 0h1m1 0h1M75 76h1m3 0h1m3 0h1m1 0h1m75 0h1m17 0h2M51 78h1m17 0h2m6 0h1m5 0h1m1 0h1m1 0h3m7 0h2m84 0h1m11 0h1M11 80h1m45 0h1m9 0h1m5 0h2m12 0h2m2 0h1m41 0h1m53 0h1M67 82h1m13 0h1m1 0h1m1 0h1m1 0h1m77 0h1M53 84h1m11 0h1m1 0h1m13 0h3m53 0h1m45 0h1M83 86h1m5 0h1m55 0h1m29 0h2m6 0h1M9 88h1m31 0h3m23 0h1m111 0h2M51 90h1m3 0h1m1 0h1m3 0h1m19 0h2m12 0h1M11 92h1m43 0h2m4 0h1m3 0h1m5 0h1m11 0h1m9 0h1m3 0h1m83 0h1M13 94h1m29 0h2m34 0h1m15 0h1m9 0h1m71 0h1M13 96h1m21 0h1m5 0h1m23 0h1m37 0h1m59 0h1M81 98h1m3 0h1m1 0h1m1 0h1m5 0h1m63 0h2M41 100h1m11 0h1m9 0h1m7 0h1m29 0h1m61 0h1M31 102h1m39 0h1m1 0h1m3 0h1m7 0h2m4 0h1m67 0h1M39 104h1m15 0h1m109 0h1M69 106h1m5 0h1m7 0h1m73 0h1m3 0h1m5 0h1M19 108h1m19 0h1m19 0h1m87 0h1m11 0h1m1 0h1m7 0h1M19 110h1m15 0h1m5 0h2m12 0h1m17 0h2m62 0h1m7 0h1m13 0h1M25 112h1m7 0h1m3 0h2m2 0h2m24 0h2m2 0h1m27 0h1m35 0h2m10 0h1m1 0h1m3 0h1m15 0h2M33 114h4m2 0h1m1 0h1m89 0h1m25 0h1m1 0h1m9 0h1M31 116h1m3 0h1m3 0h1m3 0h1m1 0h1m47 0h1m1 0h1m35 0h1m1 0h2m30 0h1M25 118h1m1 0h1m3 0h1m5 0h1m3 0h2m16 0h1m1 0h1m15 0h1m1 0h1m5 0h1m15 0h3m21 0h1m19 0h2m18 0h1M29 120h1m7 0h1m1 0h1m5 0h1m3 0h1m33 0h1m29 0h1m5 0h1m15 0h1m1 0h1m5 0h2m2 0h1m5 0h1m5 0h1M35 122h1m3 0h2m30 0h1m7 0h1m5 0h1m11 0h1m1 0h1m9 0h1m7 0h1m5 0h1m1 0h1m17 0h3m13 0h1M105 124h1m37 0h1m11 0h1M55 126h1m1 0h1m5 0h1m37 0h1m9 0h1m1 0h1m3 0h1m1 0h1m1 0h2m4 0h1m1 0h1m1 0h1m3 0h1m1 0h1m7 0h1m3 0h1m5 0h1M33 128h1m5 0h1m13 0h2m4 0h2m42 0h1m7 0h1m15 0h1m1 0h1m5 0h2m6 0h1m3 0h1M37 130h2m14 0h1m5 0h1m11 0h1m15 0h1m27 0h1m5 0h1m15 0h2m2 0h1m5 0h2M43 132h3m11 0h1m29 0h1m23 0h1m9 0h1m11 0h1m7 0h1m3 0h1M25 134h1m21 0h2m8 0h1m13 0h1m63 0h3M73 136h1m1 0h1m13 0h1m33 0h1m3 0h1m1 0h1M45 138h1m17 0h2m66 0h3M65 140h1m1 0h1m1 0h1m3 0h2m54 0h1m1 0h1m1 0h2M73 142h1m7 0h1m9 0h1m25 0h1M79 144h1m3 0h2m6 0h1m29 0h1m3 0h1M105 146h1M79 148h2m14 0h1m11 0h1m7 0h1M29 150h1m77 0h1M51 154h1"/>
<path id="l2d" d="M155 11h1m15 0h1M153 15h1m7 0h1m5 0h1M155 17h2m20 0h1M165 19h1m3 0h1M145 25h2m38 0h1m1 0h1M147 27h3m1 0h1m9 0h4m14 0h1m3 0h1M157 29h1m5 0h1m19 0h1M137 31h1m25 0h1M131 33h2m22 0h1m11 0h1m13 0h1m3 0h1M129 35h1m37 0h1M119 39h2m4 0h1m37 0h3m5 0h1m3 0h1m1 0h1M123 41h1m7 0h1m17 0h1m15 0h3m1 0h1m13 0h1m7 0h1M159 43h1m9 0h1m5 0h1m9 0h1M117 45h1m39 0h1M135 47h1m37 0h1m1 0h1m3 0h1M115 49h1m9 0h2m10 0h1m37 0h1M175 51h1M121 53h1m1 0h2m48 0h1M113 55h1m61 0h1M83 57h2m40 0h1m7 0h1m7 0h1m29 0h1m1 0h2m2 0h2M85 59h1m1 0h1m85 0h2M53 61h1m55 0h2M51 63h1m1 0h1m3 0h1m21 0h2m14 0h1m5 0h1m3 0h1m65 0h1M83 65h1m17 0h1M81 67h3m3 0h4m4 0h1m79 0h2M79 69h1m1 0h1m1 0h1m1 0h1m1 0h3m19 0h1m15 0h1m43 0h1m1 0h1m7 0h1M81 71h2m4 0h1m5 0h1m9 0h1m57 0h1m11 0h2m6 0h1M63 73h1m11 0h1m3 0h1m1 0h4m4 0h2M61 75h1m17 0h1m3 0h2m10 0h2m66 0h1m11 0h1m1 0h1M69 77h1m7 0h3m3 0h3m1 0h4m6 0h1m63 0h1m7 0h1m5 0h1m3 0h1m7 0h1m1 0h1M49 79h1m5 0h2m20 0h2m8 0h1m1 0h2m4 0h2m36 0h1m27 0h1m3 0h1M15 81h1m37 0h1m9 0h1m11 0h1m3 0h2m10 0h1m45 0h1m19 0h2m4 0h2M15 83h1m65 0h2m4 0h2m46 0h1m35 0h1M43 85h1m37 0h1m3 0h2m16 0h1m1 0h1M43 87h1m7 0h1m13 0h1m15 0h3m5 0h3m1 0h1M11 89h1m17 0h1m3 0h2m10 0h2m4 0h1m15 0h1m13 0h4m2 0h1m3 0h2m68 0h1m11 0h2M11 91h1m47 0h1m7 0h2m56 0h1M13 93h1m37 0h1m3 0h2m2 0h1m37 0h1m83 0h1M13 95h1m27 0h2m4 0h1m5 0h1m107 0h1M41 97h1m7 0h1m37 0h1m73 0h1m5 0h1m1 0h2m6 0h1m1 0h1M39 99h1m1 0h3m5 0h2m112 0h1m15 0h1M15 101h1m11 0h1m11 0h1m37 0h2m84 0h1m3 0h1m7 0h1M33 103h1m5 0h1m17 0h1m23 0h1m81 0h1M17 105h2m20 0h1m53 0h1m11 0h1m61 0h1m3 0h1M17 107h2m12 0h1m5 0h1m1 0h1m33 0h2m28 0h1m33 0h1m15 0h1m7 0h1m1 0h1m9 0h1M25 109h2m18 0h1m7 0h1m15 0h1m3 0h1m7 0h1m77 0h1m5 0h2M19 111h1m3 0h1m5 0h1m3 0h1m5 0h1m1 0h3m27 0h1m17 0h1m51 0h1m7 0h2M29 113h1m23 0h2m30 0h1m49 0h1m15 0h1m7 0h2M23 115h1m9 0h1m1 0h3m1 0h3m5 0h2m12 0h1m19 0h2m6 0h1m7 0h2m2 0h1m29 0h1m7 0h2m20 0h1m1 0h2M23 117h1m3 0h1m5 0h4m4 0h3m13 0h1m13 0h1m5 0h1m9 0h1m11 0h2m2 0h1m13 0h1m13 0h1m7 0h2m4 0h1m5 0h2m6 0h1M29 119h1m5 0h1m13 0h1m5 0h1m3 0h1m1 0h1m5 0h1m3 0h1m59 0h1m3 0h1m7 0h1m7 0h1m5 0h3M35 121h1m7 0h1m1 0h1m5 0h1m1 0h1m1 0h1m25 0h1m13 0h1m41 0h2m16 0h1M45 123h1m5 0h1m3 0h3m25 0h2m20 0h1m1 0h4m2 0h1m13 0h1m5 0h3m3 0h2m6 0h1m1 0h1M49 125h1m19 0h1m21 0h1m3 0h3m3 0h2m2 0h1m7 0h1m13 0h1m9 0h1m17 0h1M29 127h1m11 0h1m23 0h1m27 0h1m5 0h1m7 0h1m1 0h2m4 0h1m7 0h1m3 0h1m15 0h1m5 0h1M39 129h1m13 0h1m29 0h1m13 0h1m17 0h1m5 0h2m2 0h2m2 0h1m1 0h2m2 0h1m9 0h1m3 0h1m1 0h1M37 131h4m4 0h1m3 0h1m5 0h1m5 0h1m25 0h3m5 0h1m15 0h1m3 0h1m7 0h1m9 0h2m14 0h1M57 133h1m21 0h1m59 0h1m3 0h2M61 135h1m3 0h1m29 0h1m23 0h1m11 0h1M63 137h1m15 0h1m1 0h1m1 0h1m43 0h1m5 0h2m2 0h2m2 0h1M55 139h1m15 0h1m51 0h1m11 0h1M51 141h2m2 0h1m1 0h1m9 0h1m53 0h1M83 143h1m7 0h1m37 0h1M75 145h1m17 0h1m3 0h1m17 0h1m5 0h1M37 147h1m33 0h1m21 0h1m1 0h2m2 0h1m1 0h1m1 0h1M71 149h1m3 0h1m37 0h1M45 151h1m17 0h1M61 153h1"/>
<path id="l3a" d="M168 10h1m5 0h3m5 0h1M180 12h1M150 14h1m7 0h1M148 16h1m7 0h2m18 0h1M148 18h1m17 0h2M158 20h1M138 24h1m3 0h1m13 0h2m4 0h1M154 26h1M152 28h1m3 0h1M158 30h1M128 34h1m7 0h1m27 0h1m25 0h1M142 36h1m1 0h1m1 0h1m1 0h1m21 0h1m1 0h1m7 0h1M134 38h1m47 0h1M48 40h2m80 0h1m1 0h1m3 0h1m29 0h3m3 0h1M48 42h1m73 0h1m1 0h1m17 0h1m1 0h1m19 0h2M54 44h1m65 0h1m21 0h1m39 0h1M52 46h2m28 0h2m4 0h1m1 0h1m83 0h1m5 0h1M88 48h5m1 0h1M86 50h4m4 0h2m20 0h1m33 0h1m33 0h1M52 52h1m1 0h1m25 0h2m22 0h2m16 0h1m3 0h1m47 0h1M58 54h1m21 0h1m3 0h3m11 0h1m7 0h1M54 56h3m1 0h1m21 0h1m1 0h1m1 0h1m15 0h1m7 0h1M48 58h1m35 0h1m3 0h2m46 0h1m3 0h2m2 0h1m19 0h1M50 60h3m19 0h1m3 0h1m3 0h1m5 0h1m3 0h1m5 0h2m2 0h1m41 0h1M52 62h1m17 0h2m4 0h3m1 0h1m1 0h1m5 0h1m1 0h2m2 0h1m21 0h1m13 0h1m1 0h1m35 0h1m1 0h1m5 0h1M48 64h1m11 0h2m8 0h2m4 0h1m3 0h1m1 0h1m7 0h1m5 0h1m1 0h1m7 0h1m55 0h1m5 0h1m3 0h3m3 0h1M48 66h1m11 0h1m1 0h1m7 0h1m11 0h3m3 0h3m1 0h2m28 0h1m5 0h1m3 0h1m41 0h1M66 68h1m7 0h2m2 0h3m11 0h1m17 0h1m1 0h1m51 0h1m15 0h1m11 0h1M64 70h1m3 0h1m9 0h1m11 0h4m4 0h1m1 0h1m5 0h1m35 0h1m15 0h1m3 0h1m19 0h2M70 72h2m16 0h1m1 0h2m62 0h1m5 0h1m5 0h1m1 0h2M66 74h4m2 0h1m3 0h2m2 0h1m17 0h1m9 0h1m15 0h1m7 0h1m23 0h1m3 0h1M64 76h2m2 0h4m10 0h1m3 0h2m4 0h1m65 0h1m11 0h3m5 0h1M66 78h2m6 0h2m2 0h5m1 0h1m1 0h1m3 0h1m19 0h1m19 0h1m33 0h1m5 0h3m17 0h1m3 0h1M66 80h1m3 0h1m1 0h1m3 0h1m13 0h1m67 0h1m21 0h1M70 82h1m3 0h1m7 0h1m1 0h1m3 0h2m90 0h1m3 0h1M46 84h1m23 0h3m7 0h1m3 0h2m42 0h1m7 0h1m17 0h2m4 0h1m9 0h1M46 86h2m18 0h1m5 0h2m4 0h2m4 0h2m16 0h2m48 0h2M58 88h1m1 0h1m3 0h2m10 0h4m6 0h2m70 0h1M36 90h1m23 0h1m15 0h3m1 0h1m21 0h1m65 0h1m3 0h1m3 0h1M64 92h1m15 0h1m1 0h1m13 0h1M52 94h1m35 0h3M14 96h1m27 0h1m37 0h1m9 0h1m1 0h1M40 98h1m31 0h1m3 0h1m19 0h1M40 100h1m23 0h1m5 0h1m107 0h2M16 102h1m25 0h1m39 0h1m19 0h2m14 0h2m40 0h1m3 0h1m1 0h2m2 0h1M66 104h1m13 0h1m17 0h1m65 0h1M38 106h1m19 0h1m93 0h2M38 108h1m1 0h1m1 0h1m29 0h1m75 0h1m11 0h1m11 0h1M28 110h2m8 0h1m5 0h1m105 0h1m7 0h1M22 112h1m27 0h1m33 0h1m49 0h1M38 114h1m53 0h1m59 0h2m14 0h1M26 116h1m1 0h1m1 0h1m9 0h2m12 0h1m9 0h1m15 0h1m41 0h1m5 0h1m31 0h2m4 0h1M40 118h1m15 0h1m13 0h1m7 0h1m1 0h1m27 0h1m15 0h1M34 120h1m3 0h1m5 0h1m13 0h1m27 0h1m25 0h1m5 0h1m17 0h1M42 122h2m14 0h1m31 0h1m5 0h1m37 0h1m1 0h1m3 0h3m7 0h1m3 0h1M34 124h2m12 0h1m9 0h2m18 0h1m13 0h2m24 0h1m5 0h1m5 0h1m3 0h1m1 0h1m9 0h1m1 0h1M52 126h2m26 0h1m17 0h1m19 0h1m7 0h1m21 0h1M40 128h1m49 0h1m11 0h1m17 0h1m7 0h1m19 0h1M28 130h1m15 0h1m3 0h1m1 0h1m9 0h2m52 0h1m3 0h2m16 0h1M80 132h1m1 0h1m3 0h1m27 0h1m1 0h1m13 0h1m9 0h1M30 134h1m1 0h1m31 0h1m39 0h1m25 0h1M40 136h1m29 0h1m19 0h1m1 0h1m27 0h1m5 0h1m9 0h1M26 138h1m17 0h1m29 0h1M38 140h1m3 0h1m11 0h1m1 0h1M54 142h2m30 0h1m1 0h1m25 0h1M32 144h1m3 0h1m41 0h1m19 0h1m29 0h1M104 146h1M34 148h2m40 0h1m5 0h1m3 0h1m21 0h1M66 150h1M66 152h1M46 158h1"/>
<path id="l3b" d="M158 11h1m1 0h1m15 0h1m5 0h1M166 13h1M156 15h1m11 0h1m7 0h1M180 17h1M184 21h1M144 23h2M142 25h1M146 27h1M150 29h1m5 0h1M170 31h2M166 33h1m1 0h1M136 35h1m17 0h1m5 0h1m5 0h1m11 0h1M154 37h1M122 39h1m3 0h1m45 0h1m7 0h2M48 41h1m79 0h1m21 0h1m33 0h2M122 43h1M84 45h1m3 0h3m79 0h1m1 0h1m17 0h1M50 47h2m2 0h1m33 0h1m3 0h1m27 0h1m15 0h1M50 49h1m3 0h1m33 0h2m2 0h5m41 0h3m23 0h1m9 0h1M50 51h1m3 0h1m29 0h1m3 0h1m3 0h1m1 0h1m1 0h1m7 0h1m3 0h2m18 0h1m21 0h1m23 0h1M54 53h3m1 0h1m21 0h1m17 0h2m8 0h1m3 0h1m61 0h1M58 55h1m39 0h3m1 0h1m35 0h1M48 57h2m2 0h1m27 0h1m1 0h1m39 0h1m47 0h1m1 0h1M48 59h1m1 0h1m29 0h1m1 0h3m1 0h1m1 0h1m1 0h4m32 0h2m6 0h1m37 0h1M54 61h1m19 0h2m8 0h1m5 0h1m5 0h2m70 0h1M50 63h1m19 0h1m1 0h1m1 0h2m6 0h4m8 0h1m1 0h3m17 0h1m53 0h1m1 0h1m3 0h1M58 65h1m7 0h1m3 0h3m3 0h4m2 0h1m1 0h6M62 67h1m11 0h1m9 0h3m5 0h2m16 0h1m23 0h1m19 0h2m6 0h1m11 0h1M56 69h1m9 0h3m5 0h1m1 0h1m1 0h1m1 0h1m1 0h1m15 0h1m3 0h1m7 0h1m21 0h2m40 0h1m1 0h1m17 0h1M62 71h3m3 0h2m6 0h2m6 0h1m1 0h1m1 0h5m7 0h1m1 0h1m3 0h1m25 0h1m25 0h1m13 0h1m15 0h1m7 0h1M56 73h1m9 0h1m1 0h1m1 0h2m4 0h3m1 0h1m5 0h2M64 75h3m3 0h4m2 0h1m1 0h1m1 0h1m9 0h2m12 0h1m29 0h1m31 0h1m9 0h1m9 0h3M64 77h2m4 0h2m4 0h1m3 0h3m9 0h2m10 0h1m75 0h1M62 79h1m11 0h1m5 0h3m1 0h2m2 0h1m77 0h1m3 0h1m11 0h1M72 81h1m1 0h1m1 0h3m7 0h1m5 0h1m69 0h1M70 83h1m7 0h2m6 0h1m17 0h1m31 0h1m13 0h2m14 0h1m3 0h1m9 0h2M8 85h1m39 0h1m25 0h4m4 0h2m20 0h1m31 0h1m29 0h1m13 0h1M8 87h2m36 0h1m5 0h1m1 0h1m15 0h1m3 0h2m2 0h1m5 0h2m92 0h1M30 89h2m22 0h1m5 0h1m3 0h1m1 0h1m3 0h1m7 0h1m1 0h1m5 0h1M48 91h1m1 0h1m9 0h2m8 0h1m5 0h1m3 0h2m6 0h1M50 93h1m43 0h1m35 0h1m31 0h1m9 0h1M40 95h1m49 0h1m1 0h2m2 0h1m39 0h1m31 0h1m1 0h2M46 97h1m7 0h1m23 0h1m19 0h1m69 0h1m7 0h1M40 99h1m25 0h1m5 0h1m87 0h1m13 0h2M52 101h1m109 0h1m3 0h1M32 103h1m13 0h1m29 0h1m17 0h1m1 0h1m5 0h1m63 0h1M42 105h2m10 0h1m3 0h1m45 0h1m51 0h1m15 0h1M16 107h1m15 0h1m7 0h1m1 0h1m109 0h1m3 0h2m14 0h1M38 109h1m7 0h1m15 0h1m17 0h1m21 0h1m69 0h1M56 111h1m1 0h1m11 0h1m71 0h1M34 113h1m3 0h1m1 0h2M28 115h1m37 0h1m25 0h1m73 0h1m1 0h1M30 117h1m1 0h1m51 0h3m3 0h1m13 0h1m13 0h1m5 0h1m1 0h2m30 0h1m3 0h1M46 119h1m15 0h1m7 0h1m51 0h1m37 0h1M36 121h1m5 0h1m11 0h1m7 0h2m22 0h1m27 0h1m5 0h1m23 0h1M86 123h1m15 0h1m3 0h1m41 0h1M38 125h1m3 0h1m25 0h1m59 0h1m1 0h2m10 0h1m13 0h1M48 127h1m1 0h1m7 0h1m13 0h1m19 0h1m5 0h1m1 0h1m43 0h3m5 0h1M46 129h1m7 0h1m5 0h2m6 0h1m23 0h1m17 0h1m13 0h1m3 0h1m21 0h1M42 131h1m17 0h1m21 0h1m31 0h1m5 0h1m25 0h1M44 133h1m83 0h1m7 0h2m2 0h1M44 135h1m1 0h1m9 0h1m15 0h1m3 0h2m2 0h1m3 0h1m35 0h1m3 0h1m1 0h1m3 0h1m1 0h1M90 137h1m31 0h2M46 139h1m25 0h1m1 0h1m21 0h1m33 0h1m5 0h1M42 141h1m37 0h1m7 0h1m35 0h1M82 143h1m25 0h1m9 0h1M80 145h2m4 0h1m3 0h2m8 0h1m17 0h1M52 147h1m19 0h1m5 0h2m24 0h1M44 149h1m17 0h1m19 0h1m19 0h2M40 153h2m4 0h1"/>
<path id="l3c" d="M175 10h2M175 14h1M157 16h1m17 0h2m8 0h1M167 18h1M165 20h1m15 0h1M155 24h3m9 0h1m1 0h1M157 26h1M133 28h1m13 0h1M143 30h1M135 32h1M135 34h2M175 36h1M177 38h1m1 0h1M49 40h1m115 0h4m16 0h1M131 42h1m23 0h1m9 0h1m3 0h1m9 0h1M53 44h2m106 0h1m27 0h1M49 46h1m3 0h1m29 0h1m33 0h1m5 0h1m5 0h1M51 48h1m29 0h1m7 0h4m80 0h1m13 0h1M51 50h1m29 0h1m1 0h1m1 0h5m3 0h3m43 0h1m33 0h1M81 52h1m3 0h1m13 0h1m5 0h1m7 0h1m63 0h1m9 0h1M85 54h2m86 0h1M51 56h1m3 0h2m20 0h1m17 0h1m3 0h2m12 0h1m29 0h1m29 0h1M51 58h1m37 0h1m13 0h1m11 0h1m17 0h1m7 0h1M51 60h2m18 0h2m2 0h2m12 0h2m4 0h3m17 0h1m59 0h1m1 0h1M69 62h3m5 0h2m8 0h2m2 0h1m13 0h1m21 0h1m19 0h1m15 0h1M61 64h1m5 0h1m3 0h1m7 0h2m6 0h1m1 0h2m26 0h1m41 0h1m13 0h2m2 0h2M65 66h1m7 0h1m1 0h1m7 0h2m4 0h2m2 0h1m71 0h1m5 0h1M61 68h1m13 0h1m3 0h2m8 0h1m1 0h2m14 0h1m9 0h1m51 0h1M67 70h2m2 0h1m5 0h2m4 0h1m3 0h1m3 0h3m45 0h1m29 0h1m5 0h1m7 0h1m5 0h1M69 72h3m1 0h1m1 0h1m1 0h1m7 0h1m5 0h1m33 0h1m13 0h1m25 0h2m2 0h1M63 74h1m3 0h3m1 0h2m2 0h3m9 0h1m75 0h1m1 0h1m3 0h1M65 76h1m1 0h5m5 0h1m9 0h1m9 0h1m1 0h1m35 0h1m21 0h2m6 0h1m3 0h4M67 78h1m3 0h1m1 0h3m3 0h4m88 0h2m8 0h1m11 0h2M69 80h2m4 0h2m4 0h1m7 0h2m10 0h1m9 0h1m23 0h1m39 0h1M59 82h1m17 0h1m1 0h1m9 0h1m1 0h1m45 0h1m15 0h1m1 0h1m15 0h1m23 0h1M7 84h1m63 0h2m2 0h1m9 0h1m7 0h1m61 0h1m25 0h1m11 0h1M47 86h1m3 0h1m21 0h1m5 0h1m1 0h1m3 0h1m1 0h1m15 0h1m37 0h1m1 0h1m9 0h1m1 0h1M51 88h1m1 0h1m3 0h2m6 0h1m11 0h3m1 0h1m5 0h1m5 0h1m63 0h2m24 0h1M35 90h2m12 0h1m27 0h2m4 0h1m1 0h1M47 92h1m15 0h2m2 0h1m1 0h1m7 0h1M65 94h1m9 0h1m11 0h4m12 0h1m31 0h1M63 96h1m63 0h1M13 98h1m25 0h2m122 0h1M43 100h1m43 0h1m11 0h1m67 0h1m9 0h3M89 102h1m3 0h1m1 0h1m7 0h1m15 0h1m47 0h1m7 0h1m1 0h1M17 104h1m13 0h1m1 0h1m35 0h1m7 0h1m19 0h2m50 0h1m1 0h1m11 0h2m2 0h1M73 106h1m7 0h1m69 0h3m5 0h1M45 108h1m15 0h1m7 0h1m101 0h2M25 110h1m3 0h1m69 0h1m41 0h1m5 0h1m5 0h1M35 112h1m3 0h1m5 0h1m3 0h2m2 0h1m103 0h1M37 114h2m16 0h1m15 0h1m13 0h1m15 0h1m33 0h1m17 0h1m13 0h2M33 116h1m7 0h1m93 0h1m25 0h1M29 118h1m17 0h1m21 0h2m24 0h1m9 0h1m1 0h2m34 0h1m13 0h1M55 120h1m35 0h1m9 0h1m43 0h1m11 0h1m3 0h1M43 122h1m3 0h1m93 0h2m10 0h2M35 124h1m7 0h1m1 0h1m13 0h1m17 0h2m2 0h1m11 0h1m17 0h1m1 0h1m3 0h2M29 126h1m17 0h1m3 0h3m15 0h1m9 0h2m28 0h1m41 0h1M67 128h1m7 0h1m7 0h1m23 0h1m1 0h1m3 0h1M61 130h1m7 0h1m19 0h1m21 0h1m7 0h1m5 0h1m7 0h1m1 0h2M51 132h1m15 0h1m55 0h1m11 0h1m3 0h2m8 0h1M45 134h1m13 0h1m1 0h1m17 0h1m3 0h1m1 0h1m11 0h1m25 0h1m5 0h2M53 136h1m7 0h1m57 0h2m14 0h2m6 0h1M55 138h1M45 140h1m33 0h1M43 142h1m1 0h1m9 0h1m9 0h1m9 0h1m33 0h1M67 144h1M37 146h1m37 0h1m3 0h1m27 0h1M35 148h1m29 0h1m27 0h1m17 0h1M105 150h1"/>
<path id="l3d" d="M169 11h1m5 0h2M157 13h1m7 0h2m10 0h1m3 0h1M159 17h1m7 0h1m7 0h1M177 19h1M155 21h1m9 0h1M145 23h1m7 0h1m3 0h1M133 25h1m47 0h1M171 31h1M135 33h1m11 0h1m9 0h1M135 35h2m34 0h1M131 37h1m39 0h1m1 0h1m3 0h1m1 0h1M49 39h1m93 0h1m1 0h1m21 0h1m13 0h1m3 0h1M171 41h1m5 0h1m7 0h1M49 43h1m3 0h1m89 0h1M49 45h1m3 0h1m33 0h4m60 0h1m7 0h1m27 0h1M51 47h1m1 0h2m28 0h1m7 0h2m32 0h1m45 0h1M85 49h1m1 0h3m3 0h4m34 0h1m7 0h2m38 0h1M49 51h2m36 0h2m2 0h2m10 0h2m4 0h1m45 0h1m25 0h1M55 53h2m42 0h1m5 0h1M53 55h1m41 0h1m3 0h2m30 0h1m41 0h1M49 57h1m5 0h1m23 0h2m24 0h1m1 0h1m27 0h1M73 59h1m3 0h1m5 0h2m6 0h3m1 0h1m3 0h1m5 0h1m19 0h3m3 0h1m11 0h1m25 0h1M75 61h1m1 0h1m3 0h1m1 0h2m4 0h2m2 0h1m3 0h1m3 0h1m5 0h1m13 0h1m31 0h1m1 0h1m17 0h1M55 63h1m19 0h1m7 0h3m1 0h1m1 0h1m7 0h2m10 0h1m5 0h2m10 0h1M71 65h2m4 0h3m5 0h5m1 0h1m19 0h1m61 0h1M67 67h1m5 0h2m4 0h1m5 0h2m6 0h1m11 0h1m49 0h1M67 69h2m4 0h2m18 0h1m39 0h1m29 0h1m3 0h1m5 0h2m6 0h1M63 71h2m4 0h1m1 0h1m3 0h3m5 0h2m4 0h4m6 0h2m78 0h1M71 73h1m1 0h1m3 0h2m6 0h3m3 0h1m13 0h1m55 0h1m17 0h1M57 75h1m7 0h2m2 0h5m1 0h2m8 0h1m3 0h3m1 0h1m57 0h1m3 0h1m29 0h4m2 0h1M65 77h1m5 0h1m1 0h1m1 0h2m4 0h2m8 0h3m77 0h1M69 79h1m3 0h2m4 0h4m2 0h1m5 0h1m87 0h1M57 81h1m9 0h1m9 0h2m2 0h1m1 0h1m1 0h2m2 0h1m5 0h1m3 0h1m55 0h1m37 0h1M69 83h2m4 0h1m1 0h3m5 0h2m64 0h1m9 0h1m3 0h2m2 0h2m10 0h1m1 0h1m7 0h1M7 85h2m36 0h1m5 0h1m11 0h1m3 0h1m7 0h3m5 0h1m3 0h1M9 87h1m65 0h1m1 0h2m6 0h1m59 0h1M25 89h1m5 0h1m3 0h1m13 0h1m9 0h2m8 0h2m6 0h2m30 0h1M35 91h1m19 0h1m1 0h1m3 0h1m1 0h1m9 0h1m7 0h1m5 0h2m14 0h1m73 0h1M45 93h1m3 0h2m20 0h1m9 0h1m11 0h2m82 0h1M81 95h1m11 0h1m33 0h1m43 0h1m5 0h1M39 97h1m3 0h1m15 0h1M79 99h1m93 0h3M31 101h1m31 0h1M31 103h2m68 0h2M37 105h1m5 0h1m1 0h1m5 0h1m27 0h1m75 0h2M85 107h1m3 0h1m61 0h2m4 0h1M19 109h1m9 0h1m11 0h1m35 0h1m59 0h1m1 0h1M45 111h1m29 0h1m5 0h1m17 0h1m33 0h1m1 0h1m11 0h1m23 0h1M25 113h1m15 0h1m49 0h1m75 0h1m1 0h1M87 115h1M45 117h1m29 0h1m3 0h1m5 0h2m40 0h1M43 119h1m31 0h1m7 0h1m21 0h1m3 0h1m43 0h1m9 0h1M63 121h1m19 0h1m9 0h1m5 0h1m3 0h1m27 0h1m21 0h1m5 0h1M35 123h1m33 0h1m15 0h2m12 0h1m1 0h2m38 0h1m9 0h1m5 0h1M45 125h1m85 0h1m13 0h1M47 127h2m64 0h1m3 0h1m11 0h1m3 0h1m11 0h2M41 129h1m19 0h1m13 0h1m51 0h2m8 0h1M71 131h1m47 0h2m8 0h1M33 133h1m17 0h1m3 0h1m7 0h1m7 0h1m5 0h1m41 0h1m17 0h1M69 135h1m7 0h1m21 0h1m15 0h1m13 0h2M121 137h3M43 139h1m25 0h1M59 141h1m1 0h1m11 0h1m25 0h1m1 0h1m33 0h1M31 143h1m43 0h1m5 0h2m16 0h1m15 0h1m11 0h1M81 145h1m1 0h1m7 0h1m3 0h1m11 0h1m17 0h1M35 147h1m43 0h1m33 0h1M31 149h1m5 0h1m27 0h1m11 0h1m19 0h1m1 0h1m3 0h1M105 151h1M41 153h1m25 0h1M49 157h1"/>
<path id="l4a" d="M160 8h1M158 10h1m5 0h1m5 0h1M170 12h2M154 14h1m9 0h1M168 18h1M144 20h1m11 0h1M170 22h1M132 28h1M154 30h1M130 34h1m27 0h1m19 0h1m7 0h1M128 36h1m29 0h1M120 38h1m7 0h1m15 0h1m31 0h1M50 40h1m67 0h1m25 0h1M126 42h1m9 0h1m21 0h1m21 0h1M48 44h5m93 0h1M50 46h1m3 0h2m28 0h4m30 0h1M48 48h3m3 0h1m27 0h1m1 0h3m29 0h1m3 0h1m17 0h1m33 0h1m9 0h1M54 50h3m25 0h1m7 0h3m3 0h1m1 0h1m1 0h2m36 0h1m7 0h1m27 0h1m11 0h1M48 52h1m1 0h2m4 0h2m26 0h1m1 0h2m8 0h3m3 0h2m2 0h1m33 0h1m3 0h1m45 0h1M48 54h1m5 0h4m24 0h2m12 0h2m2 0h1m1 0h1M48 56h3m1 0h2m22 0h1m9 0h3m7 0h3m11 0h1m21 0h1m15 0h1m21 0h2m6 0h1M50 58h1m1 0h1m1 0h1m19 0h2m6 0h2m2 0h2m2 0h3m1 0h3m1 0h2m2 0h1m65 0h1M48 60h2m4 0h1m19 0h1m3 0h2m2 0h2m4 0h1m3 0h3m3 0h1m37 0h1m21 0h1m1 0h1M72 62h1m11 0h1m1 0h1m5 0h2m4 0h1m29 0h1m19 0h1M62 64h2m2 0h1m1 0h1m3 0h4m10 0h1m5 0h3m59 0h1m15 0h1M64 66h1m1 0h2m4 0h1m1 0h1m55 0h1m23 0h1m3 0h1m3 0h1M62 68h2m4 0h1m1 0h3m3 0h2m12 0h1m9 0h1m21 0h1m17 0h1m13 0h2m20 0h1M48 70h1m21 0h1m1 0h2m28 0h1m29 0h1m17 0h1m15 0h1m9 0h2m14 0h1M66 72h1m1 0h1m3 0h1m1 0h1m3 0h1m13 0h1m9 0h1m37 0h1m1 0h1m31 0h1m7 0h1M48 74h2m12 0h1m7 0h1m81 0h1m27 0h2M66 76h1m7 0h1m1 0h1m1 0h1m1 0h2m2 0h1m45 0h1m13 0h1m7 0h1m43 0h1m1 0h1M64 78h2m30 0h1m61 0h1m27 0h2M12 80h1m51 0h1m3 0h1m13 0h2m14 0h1m49 0h3m27 0h1m17 0h1M54 82h1m17 0h2m2 0h1m1 0h1m15 0h2m56 0h1M48 84h1m9 0h2m14 0h1m1 0h4m8 0h1m11 0h1m5 0h2m26 0h1m13 0h1M8 86h1m33 0h1m25 0h1m5 0h4m18 0h1m35 0h1m25 0h1M46 88h1m1 0h1m1 0h1m1 0h1m13 0h1m103 0h1M62 90h1m5 0h2m16 0h1m3 0h1m7 0h1M46 92h1m11 0h1m1 0h1m1 0h1m39 0h1M66 94h1m11 0h1m1 0h2m44 0h1M54 96h1m115 0h1m3 0h3M74 98h1m7 0h1m5 0h1m77 0h1m9 0h1m1 0h1M42 100h1m5 0h1m39 0h1m85 0h1M32 102h1m61 0h1m1 0h1m3 0h2m2 0h1m53 0h1m17 0h1M78 104h1m9 0h1m65 0h2m4 0h1m1 0h1M42 106h1m21 0h1m23 0h2m6 0h1m7 0h1M58 108h1m15 0h1m7 0h1m1 0h1m71 0h1M48 110h1m35 0h1m3 0h1m17 0h1m29 0h1m25 0h1M70 112h1m35 0h1m9 0h2m8 0h1m21 0h1m7 0h1M90 114h1M46 116h1m107 0h1M30 118h1m41 0h1m19 0h1m19 0h1m3 0h1m11 0h1m33 0h1M42 120h1m23 0h1M38 122h1M40 124h1m1 0h1m23 0h1m29 0h2M28 126h1m35 0h1m1 0h1m37 0h1M48 128h2m24 0h1m9 0h2m28 0h1m25 0h1m3 0h1m1 0h1m3 0h1M116 130h2m2 0h1m5 0h2M60 132h1m5 0h1m11 0h1m53 0h1m13 0h1M38 134h1m3 0h1m77 0h1M42 136h1m5 0h1m25 0h1m19 0h1m27 0h1m1 0h1m3 0h1M104 138h1M78 140h1m3 0h1m33 0h1m13 0h1m5 0h1M110 142h1m7 0h1M106 144h1m13 0h1m1 0h1M110 146h2M46 154h1"/>
<path id="l4b" d="M164 11h1m5 0h1M172 15h1M150 17h1m13 0h1M146 19h1m19 0h1M146 21h1M148 25h1m19 0h1m17 0h1M160 27h1m21 0h1M158 29h1M160 31h1m1 0h1M128 35h1M148 37h1m23 0h1M48 39h1m93 0h1m23 0h1m3 0h1M50 41h1m125 0h1m1 0h1m13 0h1M48 43h1m1 0h1m1 0h1m71 0h1m19 0h1M48 45h1m3 0h1m1 0h1m31 0h1m87 0h1M48 47h2m2 0h1m3 0h1m25 0h1m1 0h4m2 0h1m27 0h1m49 0h1m3 0h1M82 49h3m1 0h1m3 0h2M48 51h1m3 0h2m36 0h1m7 0h3m9 0h1m13 0h1m15 0h1M48 53h1m3 0h2m30 0h2m10 0h2m6 0h1m11 0h1M50 55h3m1 0h2m22 0h1m1 0h3m3 0h1m9 0h2m6 0h2m12 0h1m13 0h1m31 0h1M50 57h2m2 0h1m1 0h2m18 0h3m7 0h4m4 0h1m5 0h1m3 0h1m7 0h1m23 0h1m5 0h1m33 0h1M52 59h1m1 0h1m17 0h1m1 0h2m2 0h1m15 0h1m1 0h1m1 0h1m69 0h1M72 61h1m3 0h1m1 0h3m5 0h2m6 0h2m2 0h1m53 0h1m19 0h1m3 0h1M58 63h2m4 0h1m3 0h2m6 0h3m7 0h1m1 0h1m1 0h2m10 0h1m11 0h1m13 0h1m19 0h1M60 65h3m17 0h2m8 0h1m7 0h1m3 0h1m61 0h1M64 67h3m3 0h3m5 0h1m15 0h1m17 0h1m51 0h1m15 0h1M62 69h2m8 0h1m11 0h1m5 0h3m37 0h1m53 0h1M56 71h1m1 0h1m7 0h2m10 0h1m31 0h1m45 0h1m5 0h1M72 73h1m21 0h1m5 0h1m53 0h1M56 75h1m17 0h1m17 0h1m53 0h1m3 0h1m5 0h1m23 0h1M68 77h1m25 0h2m38 0h1m17 0h1m17 0h1m21 0h1m3 0h1M12 79h1m53 0h3m1 0h3m13 0h1m49 0h1m15 0h1m15 0h1m15 0h1M68 81h4m10 0h1M72 83h3m5 0h1m3 0h1m79 0h1m11 0h1M44 85h1m21 0h1m5 0h2m4 0h2m4 0h1m17 0h1m5 0h1m33 0h1m17 0h3M64 87h1m27 0h1m49 0h1m37 0h1m3 0h1M62 89h1m5 0h1m65 0h1m3 0h1M58 91h1m5 0h1m13 0h2m16 0h1m67 0h1M54 93h1m17 0h1m7 0h1m9 0h1M50 97h1m13 0h1m23 0h1m73 0h1m15 0h1M48 99h1m7 0h1m25 0h1m13 0h1m19 0h2m44 0h1m5 0h1m7 0h1M64 101h1m93 0h1m1 0h1m7 0h1M34 103h1M40 105h1m57 0h2m2 0h1m55 0h1m1 0h1M38 107h1m37 0h1m3 0h2m2 0h1M18 109h1m53 0h1m81 0h1m5 0h1m1 0h1m7 0h1M100 111h1m29 0h1m39 0h1M64 113h1M38 115h1m41 0h1m5 0h1m1 0h1m7 0h1m17 0h1m37 0h1M24 117h1m15 0h1m15 0h1m3 0h1m11 0h1m35 0h1m13 0h2M84 119h1m27 0h1M38 121h1m55 0h1M98 123h1m19 0h1m37 0h1M44 125h1m1 0h1m17 0h1m27 0h2m6 0h1m3 0h1m3 0h1M36 127h1m31 0h1m35 0h1m37 0h1M78 131h1m13 0h1m25 0h1m29 0h1M48 133h2m24 0h1M34 135h1m25 0h1m61 0h1m13 0h1m1 0h1M50 137h1m77 0h1M50 139h1m25 0h1m1 0h2m2 0h1m21 0h1M58 141h1m7 0h1m31 0h1m3 0h1m29 0h1M44 143h1m19 0h1m11 0h1m11 0h1m23 0h1m11 0h1m5 0h1M84 145h1m25 0h1M62 147h1m45 0h1M96 149h1M44 151h1m1 0h1M44 153h1m5 0h1m7 0h1M50 155h1"/>
<path id="l4c" d="M161 10h1M171 12h1M149 16h1m11 0h1m5 0h1m9 0h1M145 18h1m15 0h1M179 20h1M165 22h1M139 24h1m45 0h1M143 26h1M153 28h1m11 0h1m17 0h1m1 0h1M161 30h1m21 0h1m3 0h1M129 34h2m2 0h1m47 0h1M167 36h1M135 38h1m37 0h1m1 0h2M177 40h1M49 42h1m83 0h1m5 0h1m9 0h1M49 44h4m64 0h1m19 0h1m35 0h1M55 46h1m29 0h3m61 0h1m1 0h1M49 48h2m2 0h2m30 0h2m6 0h1m65 0h1m3 0h1M49 50h1m3 0h4m34 0h2m8 0h1m19 0h1M51 52h1m1 0h1m3 0h1m29 0h1m7 0h4m4 0h1m21 0h1m1 0h1m45 0h1m1 0h1M51 54h1m3 0h3m25 0h1m11 0h3m1 0h2m12 0h1m9 0h1m33 0h1M49 56h2m2 0h1m3 0h1m21 0h1m1 0h1m3 0h4m8 0h2m2 0h1m1 0h1m11 0h1m19 0h1m3 0h1m29 0h3M49 58h2m22 0h3m5 0h3m1 0h3m3 0h2m2 0h2m2 0h1m7 0h1m1 0h1m61 0h1m3 0h1M49 60h1m3 0h2m22 0h3m1 0h3m3 0h2m4 0h2m6 0h1m9 0h1M51 62h1m27 0h1m1 0h1m1 0h2m8 0h1m1 0h1m13 0h1m65 0h1M63 64h1m9 0h3m1 0h1m3 0h1m3 0h2m6 0h2m18 0h1m5 0h1m7 0h1M61 66h1m1 0h2m2 0h1m1 0h1m11 0h1m3 0h1m5 0h1m35 0h1m41 0h1M63 68h1m3 0h2m2 0h2m4 0h1m15 0h1m9 0h1m1 0h1m7 0h1m11 0h1m29 0h1m7 0h1m15 0h1M63 70h1m1 0h1m7 0h1m1 0h1m25 0h2m14 0h1m7 0h1m31 0h1m3 0h1m11 0h1m3 0h1m1 0h1M63 72h1m1 0h2m88 0h1m11 0h1m5 0h2M49 74h1m85 0h1m15 0h2m4 0h1m15 0h1m7 0h1m13 0h1M53 76h1m19 0h2m6 0h1m21 0h1m73 0h1m9 0h1M65 78h1m41 0h1m3 0h1m25 0h1m19 0h2m28 0h1M71 80h1m5 0h1m5 0h1m1 0h1m63 0h2m6 0h1m7 0h1M65 82h1m7 0h1m21 0h1m9 0h1m29 0h1m15 0h2m8 0h1M59 84h1m13 0h2m2 0h3m25 0h3m53 0h1m7 0h1m1 0h1M7 86h2m44 0h1m13 0h2m6 0h3m15 0h1m45 0h1m41 0h1m3 0h1M23 88h1m51 0h1m9 0h1M47 90h1m5 0h1m15 0h1m1 0h1m7 0h1m53 0h1m3 0h1M45 92h2m2 0h1m31 0h1m17 0h1m27 0h1m9 0h1M51 94h1m1 0h1m7 0h1m19 0h1m81 0h1m7 0h1M43 96h1m3 0h1m125 0h4M49 98h1m1 0h1m5 0h1M131 100h1M79 102h1m19 0h3m61 0h1M41 104h1m5 0h1m107 0h1M57 106h1m31 0h1m13 0h2m58 0h1M137 108h1m35 0h1M45 110h1m41 0h2m60 0h1M117 112h1m37 0h2M47 114h1m17 0h1m37 0h1m25 0h1M71 116h1m25 0h1m3 0h1M65 118h1m5 0h2m2 0h1m39 0h2m34 0h1m1 0h1M69 120h1m41 0h1m9 0h1m11 0h1m5 0h1m15 0h1M41 122h1m17 0h1m17 0h1m23 0h1m17 0h1m1 0h1M55 124h1m27 0h1m13 0h1m27 0h1m9 0h1M31 126h1m7 0h1m33 0h1m1 0h1m1 0h1m13 0h1m23 0h1m31 0h1M41 128h1m7 0h1m35 0h1m1 0h1m13 0h1m37 0h2m8 0h2M39 130h1m3 0h1m5 0h1m23 0h1m9 0h1m23 0h1m9 0h1m5 0h1m3 0h1M69 132h1m57 0h1M67 134h1m43 0h1m5 0h1m7 0h1m19 0h1M117 136h1M41 138h1m75 0h1M81 140h2m14 0h1m17 0h2M63 142h1m33 0h1m1 0h1m5 0h1m1 0h1m15 0h1M65 144h1m3 0h1m3 0h1m15 0h1m13 0h1m7 0h1m7 0h2M29 146h1m65 0h1m15 0h1M43 148h1m27 0h1m13 0h1M63 152h1M47 156h1m3 0h1"/>
<path id="l4d" d="M165 9h1M183 13h1M155 19h1M157 21h1M155 23h1m11 0h1m13 0h1M139 25h1m15 0h1M135 29h1m19 0h1M135 31h1m7 0h1m5 0h1m33 0h1m5 0h1M159 33h1M145 35h1m9 0h1m17 0h1m5 0h1M153 37h1M123 39h1m3 0h1m7 0h1m47 0h1m3 0h1M49 41h2m86 0h1m19 0h1m15 0h1M119 43h1m17 0h1m3 0h1m39 0h1M85 45h2m104 0h1M49 47h1m5 0h2m28 0h3m1 0h2m94 0h1M49 49h1m1 0h1m3 0h1m25 0h4m6 0h1m49 0h1m3 0h1m5 0h1m35 0h1M51 51h3m3 0h1m31 0h2m4 0h1m1 0h4m4 0h1m9 0h1M51 53h3m3 0h1m23 0h1m3 0h1m9 0h3m3 0h1m7 0h1m57 0h1m13 0h1M51 55h2m2 0h1m25 0h2m2 0h2m10 0h1m3 0h1m1 0h3M51 57h1m1 0h2m2 0h1m19 0h2m2 0h1m3 0h5m7 0h1m1 0h2m2 0h2m14 0h1m27 0h1M51 59h2m22 0h1m5 0h1m7 0h1m85 0h1M49 61h1m5 0h1m15 0h2m6 0h2m6 0h1m3 0h1m3 0h1m51 0h1m11 0h1m7 0h1M59 63h1m9 0h1m1 0h1m1 0h1m3 0h2m2 0h1m9 0h1m1 0h1m5 0h1m77 0h1m15 0h1M59 65h4m2 0h1m1 0h1m5 0h1m7 0h1m11 0h1m61 0h1m7 0h2M57 67h1m3 0h1m1 0h4m4 0h2m2 0h1m43 0h1m33 0h1m19 0h1M49 69h1m13 0h1m1 0h1m3 0h1m1 0h2m2 0h1m1 0h1m13 0h2m10 0h1m9 0h1m25 0h1m35 0h1M67 71h1m5 0h1m11 0h1m31 0h1m17 0h1m39 0h1m7 0h1M51 73h1m13 0h1m1 0h1m39 0h1m41 0h1m7 0h1M67 75h1m9 0h1m3 0h1m5 0h1m81 0h1m9 0h2M67 77h2m26 0h1m69 0h1m15 0h1m13 0h2M11 79h2m54 0h2m2 0h2m2 0h1m7 0h1M69 81h3m1 0h1m23 0h1m37 0h1m29 0h1m17 0h1M55 83h1m15 0h4m8 0h2m6 0h1m1 0h1m31 0h1M55 85h1m1 0h1m1 0h1m11 0h3m5 0h1m51 0h1m13 0h1m9 0h1m5 0h2M67 87h1m11 0h1m7 0h1m91 0h2M9 89h1m69 0h1m5 0h1m81 0h1M47 91h1m21 0h1m7 0h3m3 0h1m1 0h1M57 93h1m21 0h2m4 0h1m89 0h1m3 0h1M43 95h1m11 0h1m23 0h1m11 0h1M73 97h1m23 0h1m5 0h1m17 0h1M65 99h1m51 0h1m3 0h1M45 101h1m1 0h1m7 0h1m27 0h1m3 0h1m3 0h1m3 0h1m23 0h1M41 103h1m9 0h1m9 0h1M47 105h1m25 0h1m9 0h1m3 0h1m11 0h1m11 0h1m41 0h1m3 0h2M81 107h1m13 0h1m63 0h1M89 109h1m57 0h1m21 0h2M47 111h1m1 0h1m19 0h1m49 0h1m23 0h1m7 0h1M21 113h1m17 0h1m15 0h1m75 0h1M57 115h1m1 0h1m107 0h1M29 117h1m19 0h1m5 0h2m8 0h1m27 0h1m29 0h1m9 0h1M57 119h1m11 0h1m19 0h1m39 0h1m3 0h1M125 121h1m13 0h1M49 123h1m39 0h1m7 0h2m26 0h1M79 125h1m3 0h1m3 0h1m5 0h1m41 0h1M33 127h1m19 0h1m13 0h2m6 0h1m59 0h1m1 0h1m15 0h1M29 129h1m39 0h1m3 0h1m25 0h1m17 0h1m21 0h1M29 131h1m13 0h1m7 0h1m7 0h1m31 0h2m4 0h1m9 0h1M49 133h1m9 0h1m7 0h1m1 0h1m23 0h1m15 0h1m17 0h1m5 0h1M57 135h1m1 0h2m10 0h1m53 0h1M117 137h1m1 0h1M73 139h1m5 0h1m41 0h1M29 141h1m11 0h1m7 0h1m35 0h1m3 0h1m33 0h1M51 143h1M103 145h1m1 0h1m3 0h2M55 147h1m9 0h1m19 0h1m11 0h1m9 0h2M81 149h1M51 151h1M37 153h1M49 155h2"/>
<path id="l5a" d="M156 10h1M166 12h1M156 14h1M158 16h1M172 20h1m3 0h1M162 22h2M160 24h1m21 0h1M132 26h1m3 0h2m28 0h1M164 28h1M166 30h2M138 32h1m11 0h3m25 0h1M150 34h1M160 36h1m31 0h1M148 38h1m9 0h1m21 0h2m2 0h1M138 40h1m53 0h1M50 42h1m1 0h1m79 0h1m7 0h1m15 0h1m9 0h2m2 0h1m17 0h1M132 44h1m29 0h1M48 46h1M52 48h1m3 0h1m61 0h1m31 0h1m37 0h1M48 50h1m1 0h1m1 0h1m31 0h1m35 0h1m59 0h1M82 52h2m4 0h1m11 0h1M50 54h1m1 0h2m50 0h2m68 0h1M78 56h1m15 0h1m7 0h1m35 0h1m3 0h1M76 58h5m29 0h1M170 60h1m3 0h1M74 62h1m29 0h1m59 0h1m1 0h1M52 64h1m49 0h1m33 0h1M68 66h1m7 0h5m85 0h1m11 0h1m19 0h1M64 68h2m18 0h1m29 0h1m5 0h1M66 70h1m7 0h1m1 0h1m33 0h1M64 72h1m33 0h2m56 0h1m19 0h1m7 0h1M78 74h1m55 0h1m9 0h2m2 0h1m1 0h1m21 0h1m3 0h1M72 76h1m67 0h1M52 78h1M50 80h1m43 0h2m70 0h1m19 0h1M80 82h1m9 0h1m45 0h1m17 0h1m11 0h2m10 0h1M60 84h1m105 0h1m7 0h1m17 0h1M48 86h1m97 0h1m19 0h1m7 0h1M62 88h1m67 0h1M70 90h1m13 0h1M48 92h1m25 0h1m9 0h2m40 0h1M60 94h1m47 0h1m61 0h1m5 0h1M62 96h1m5 0h1m17 0h2m38 0h1M44 98h2m20 0h1m23 0h1m23 0h1M14 100h1m37 0h1m5 0h1m107 0h1m1 0h1m1 0h1m1 0h1M54 102h2m12 0h1m29 0h1m69 0h1M42 104h1m25 0h1m33 0h1m49 0h1m3 0h1m1 0h1M18 106h1m59 0h1m57 0h1m19 0h1M92 108h1m59 0h1M58 110h1M104 112h1m45 0h1m1 0h1M52 114h2m20 0h1m21 0h1m61 0h1M32 116h1m39 0h1m21 0h1m1 0h1m27 0h1m13 0h1M88 118h1m25 0h1m45 0h1M46 120h1m13 0h1m17 0h1m11 0h1m17 0h1m15 0h1M62 122h1m5 0h1m9 0h1m9 0h1m13 0h1m11 0h1m45 0h1M114 124h1m13 0h2m26 0h1M32 126h1m27 0h1m13 0h1m3 0h1m57 0h1M34 128h1m51 0h1m1 0h1m17 0h1m15 0h1M36 130h1m3 0h1m13 0h1m9 0h2m14 0h1m15 0h1m13 0h1M28 134h1m31 0h1m37 0h1M44 136h1M30 138h1m31 0h1m23 0h1m21 0h1m5 0h1m23 0h2M64 140h1m25 0h1m1 0h1m9 0h1m29 0h1M44 142h1m11 0h1m35 0h1m29 0h1M70 144h1m25 0h2m18 0h1m9 0h1M96 146h1m1 0h1m9 0h1M72 148h1m39 0h1M46 150h1M50 152h1M44 154h1M48 156h2"/>
<path id="l5b" d="M164 13h1M160 15h1M178 17h1M158 19h1M166 21h1m5 0h1m3 0h1M150 23h1M164 25h1M132 27h1M172 29h1M134 33h1m1 0h1m1 0h1m13 0h1M164 35h1m3 0h2m4 0h1M140 37h1M182 39h1M132 41h1m7 0h1m41 0h1m3 0h1M138 43h2m2 0h1m15 0h1m7 0h1m15 0h1m1 0h1M50 45h1m75 0h1m5 0h1m21 0h1M150 47h1m29 0h1M48 49h1m3 0h2m2 0h1m41 0h1M56 51h1m25 0h2m2 0h1m15 0h1m9 0h1m9 0h1m11 0h1M50 53h1m31 0h1m3 0h1m13 0h1m19 0h1M48 55h2m6 0h2m36 0h1m27 0h1m5 0h1m7 0h1M90 57h1m5 0h1m1 0h1m25 0h1m1 0h1M76 59h1m25 0h1m3 0h1m57 0h1M52 61h1m61 0h1m5 0h1m15 0h2m10 0h1m9 0h1M92 63h1m25 0h1m43 0h1M64 65h1m3 0h2m4 0h2m16 0h1m1 0h1m11 0h1m47 0h1m7 0h1m13 0h2M68 67h2m6 0h1m19 0h1M64 69h1m5 0h1m41 0h1m1 0h1m3 0h1m17 0h1m3 0h1m25 0h1M52 71h1m19 0h1m1 0h1m93 0h1m23 0h1M54 73h2m8 0h1m27 0h1m3 0h1M68 75h1m17 0h1m19 0h1m51 0h1m1 0h1m11 0h1M66 77h1m19 0h1M98 79h1m9 0h1m25 0h1m7 0h3m3 0h1m1 0h1m5 0h2M96 81h1m1 0h1m25 0h1m9 0h1m13 0h1m31 0h1M100 83h1m23 0h1M56 85h1m35 0h1m97 0h1m3 0h1M50 87h1m25 0h1m17 0h1m7 0h1m23 0h1m17 0h1M52 89h1m3 0h1m19 0h1M54 91h1m17 0h1m11 0h1m51 0h1m33 0h1M12 95h1m33 0h1m1 0h1m9 0h1m21 0h1m19 0h1M44 97h1m47 0h2m10 0h2m66 0h1M58 99h1m1 0h1m59 0h1m9 0h1m27 0h1m19 0h1M14 101h1m31 0h1m127 0h1m1 0h1M40 103h1m21 0h1m93 0h1m15 0h1M48 105h1m61 0h1m1 0h1m23 0h1M56 107h1m103 0h1M136 109h1m1 0h1M48 111h1m15 0h1m3 0h1m23 0h1m1 0h1m21 0h1m17 0h1m13 0h1m7 0h1M66 113h1m63 0h1M52 117h1m13 0h1m1 0h1m19 0h2m24 0h1m17 0h1M28 119h1m79 0h1M52 121h1m55 0h1m21 0h1m27 0h1m1 0h1M114 123h1m5 0h1M94 125h1m15 0h1m3 0h1M46 127h1m23 0h1m15 0h1m7 0h1m21 0h1m37 0h1M36 129h1m11 0h2m2 0h1m25 0h1m9 0h1m13 0h1M44 131h1m51 0h1m5 0h1M32 133h1m25 0h1m17 0h1m39 0h1M38 135h1m59 0h1m1 0h1m7 0h1M118 137h1m5 0h1M90 139h1M46 141h1m49 0h1M74 143h1m25 0h1m13 0h1m13 0h1M54 145h1m61 0h2m4 0h1M32 147h1m1 0h1m63 0h1M38 149h1m31 0h1m1 0h3M62 151h1m9 0h1M38 153h2m22 0h1"/>
<path id="l5c" d="M177 10h1M159 14h1m11 0h1M155 18h1m17 0h1M147 20h1M159 22h1m3 0h1M145 24h1M137 26h1m7 0h1M145 28h1m25 0h1M139 30h1m27 0h1M129 32h1m21 0h2m34 0h1M165 34h1M135 36h1m15 0h1m21 0h1M161 38h1m19 0h1m7 0h1M169 40h1M117 42h1m25 0h1m17 0h1m5 0h1m15 0h1m3 0h2M123 44h1M51 46h1M55 48h2m26 0h1m3 0h1m91 0h1M97 50h1m1 0h1m41 0h1M49 52h1m5 0h1m27 0h1m35 0h1m19 0h1m31 0h1M49 54h2m2 0h1m27 0h1m5 0h1m13 0h1m1 0h3m3 0h1m15 0h1M83 56h1m5 0h1m3 0h2M53 58h1m1 0h1m21 0h4m12 0h1m3 0h1m3 0h1m21 0h1m23 0h1m15 0h1M55 60h1m17 0h1m25 0h1m25 0h1m41 0h1M49 62h1m23 0h2m10 0h1m13 0h1m21 0h1m31 0h1m23 0h1M59 64h1m5 0h1m3 0h1m101 0h1M71 66h1m5 0h4m20 0h1m15 0h1m17 0h1m37 0h1m3 0h2M57 68h1m7 0h1m3 0h1m91 0h1m5 0h1M49 70h1m19 0h1M67 72h1m25 0h1m5 0h1m63 0h1M61 74h1m3 0h1m59 0h1m19 0h1M145 76h1m43 0h1M91 78h1m3 0h1m49 0h1m7 0h1m11 0h1M53 80h1m41 0h1m9 0h1m65 0h1m11 0h1m1 0h2M55 82h1m13 0h1m1 0h1m3 0h1m91 0h1m1 0h1M101 84h1m7 0h1m29 0h1M65 86h1m3 0h1m27 0h1m65 0h1M71 88h1m89 0h1m15 0h1M65 90h1m9 0h1M73 92h2m4 0h1m5 0h1m85 0h1m3 0h1m1 0h1M45 94h1m21 0h1m1 0h1M87 96h1m3 0h1m1 0h1m31 0h2m42 0h1m9 0h1M45 98h1m85 0h1M81 100h1M55 102h1m1 0h1m49 0h1m49 0h1M85 104h1m9 0h1m9 0h1M53 106h1m45 0h1m11 0h1m59 0h1M77 108h1m21 0h1M43 110h1m3 0h1m5 0h1m81 0h1M81 112h1M53 114h1M27 116h1m29 0h1m59 0h1M39 118h1m89 0h1m1 0h1M53 120h1m33 0h1m15 0h1M45 122h1m7 0h1m37 0h1m3 0h1M37 124h1m3 0h1m15 0h1m49 0h1m21 0h1m19 0h1M49 126h1m21 0h1m35 0h1M51 128h1m21 0h1m47 0h2M65 130h1m27 0h1m7 0h1M37 132h1m11 0h1m43 0h1m35 0h1m17 0h1M31 134h1m1 0h1m3 0h1m105 0h1M31 136h1m19 0h1m27 0h1m1 0h1m39 0h1M71 138h1m49 0h1m13 0h1m3 0h1M27 140h1m1 0h1m17 0h1m15 0h2m40 0h1m1 0h1m15 0h1m3 0h1M77 142h1m55 0h1M75 144h1m21 0h1m1 0h1M53 146h1m17 0h1m29 0h1M29 148h1m17 0h1m51 0h1m3 0h1M85 150h1m17 0h1M41 156h1m7 0h1"/>
<path id="l5d" d="M179 11h1m1 0h1M175 13h1M159 15h2M167 19h1m3 0h1M141 21h1m3 0h1m17 0h1M139 23h1m43 0h1M167 25h1m3 0h1M141 27h1m29 0h1M179 31h1M129 33h1M131 35h1m7 0h1m3 0h1m25 0h1m7 0h1M125 37h1m17 0h1m39 0h1M51 41h1m93 0h1m1 0h1M51 43h1m65 0h1m7 0h1m1 0h1m11 0h1m11 0h1m35 0h1M123 45h1M93 47h1m63 0h1M53 49h1m43 0h2m36 0h1M55 51h2m24 0h3m1 0h2m6 0h1m7 0h2m28 0h1m47 0h1M103 53h1M49 55h1m7 0h1m25 0h1m3 0h1m21 0h1m33 0h1M93 57h1m1 0h2m4 0h1M49 59h1m3 0h1m1 0h1m23 0h1m17 0h1m3 0h2m8 0h1m17 0h1m37 0h1M73 61h1m11 0h1m51 0h1m13 0h1m25 0h1M65 63h1m103 0h1m5 0h1M63 65h2m4 0h1m5 0h1m37 0h1m5 0h1m19 0h1m25 0h1m3 0h1m7 0h1M55 67h1m3 0h1m9 0h1m67 0h1m23 0h1m5 0h1m25 0h1M61 69h1m33 0h1m3 0h1m35 0h2m24 0h1M65 71h1m43 0h1m17 0h1m17 0h1m13 0h1m7 0h2M55 73h1m13 0h1m39 0h1m21 0h1m21 0h1m1 0h1m21 0h1M97 75h1m51 0h1m7 0h2M147 77h1M65 79h1m71 0h1m3 0h4m12 0h1m13 0h1M49 81h1m89 0h1m37 0h1M133 83h1M49 85h1m103 0h1m3 0h1m7 0h1m11 0h1M41 87h1m11 0h1m5 0h1m1 0h1m7 0h1m3 0h1m101 0h1M47 89h1m7 0h2m4 0h1m67 0h1M95 91h1m83 0h1M127 93h1m7 0h1M63 95h1m9 0h1m21 0h1m11 0h1m55 0h1M65 97h1m19 0h1m3 0h1m3 0h1m11 0h1m59 0h1M87 99h1M73 101h1m23 0h1M89 103h1M151 105h1M165 107h1M153 109h1M63 113h1m1 0h2m6 0h1m15 0h1m11 0h1M27 115h1m79 0h1M51 117h2m36 0h1m17 0h1m1 0h1m51 0h1M39 119h1m57 0h1m21 0h1m3 0h1M57 121h1m15 0h1m13 0h1m33 0h1m7 0h2m4 0h1M47 123h1m29 0h1m39 0h1m13 0h1M47 125h1m13 0h1m13 0h1m9 0h1m3 0h1m9 0h1m7 0h1m9 0h1m5 0h1m19 0h1M73 127h1m7 0h1m19 0h1m1 0h1m1 0h1m41 0h1M49 129h1m1 0h2m6 0h1m83 0h1M77 131h1M99 133h1m23 0h1m17 0h1m5 0h1M33 135h1m21 0h1m27 0h1m57 0h1m1 0h1M43 137h1m5 0h1m53 0h1m1 0h1m23 0h1m9 0h1M117 139h1m15 0h1m5 0h1M119 141h1m13 0h1M73 143h2m28 0h1m3 0h1m17 0h1M51 145h1m65 0h1M31 147h2m36 0h1m3 0h1m7 0h1m1 0h1M29 149h1m13 0h1m19 0h1m9 0h2m20 0h1m19 0h1M103 151h1M39 153h1M41 155h1"/>
<path id="l6a" d="M178 14h1m1 0h1M146 16h1m37 0h1M160 18h1M152 22h1m1 0h1M186 26h1M162 28h1m9 0h1m9 0h1M184 30h1m3 0h1M190 32h1M176 34h1M132 36h1m45 0h1M150 38h1M124 40h1m53 0h1M152 42h2M170 44h1M140 46h1M134 48h1m9 0h1M168 50h1M94 52h1m15 0h1m45 0h1M116 54h1m47 0h1M104 56h1m25 0h1m15 0h1m15 0h1m9 0h1M56 58h1m43 0h1m11 0h1m35 0h1m1 0h1m19 0h1M102 60h1m7 0h1m5 0h1m37 0h1m1 0h1m11 0h1M110 62h1m3 0h1m39 0h1M56 64h1m7 0h1m83 0h1m15 0h1m29 0h1M134 66h1m37 0h1M60 68h1m75 0h1m13 0h1M62 70h1m31 0h1m45 0h1m5 0h1m31 0h1m1 0h1m3 0h1m5 0h1m3 0h1M62 72h1m47 0h1m39 0h2m10 0h1M64 74h1m21 0h1m5 0h2m60 0h1M184 76h1m5 0h1M50 78h1m103 0h2M86 80h1m13 0h1m33 0h1m5 0h1m1 0h1m1 0h1m11 0h1m15 0h1M144 82h1m23 0h1M90 84h1m73 0h1M62 86h1m27 0h1m73 0h1m7 0h2M40 88h1m33 0h1m87 0h1M72 90h1m31 0h2m28 0h1m47 0h1M72 92h1m5 0h1M48 94h1m9 0h1m45 0h1m69 0h1M40 96h1m89 0h1m35 0h2M78 98h1m23 0h1m13 0h1M124 100h1m35 0h1M70 102h1m101 0h1M40 104h1m35 0h1m7 0h1m9 0h1m41 0h1M76 106h1m5 0h1m1 0h1m45 0h1m3 0h1m25 0h1M78 108h1m21 0h1m53 0h1M46 110h1m19 0h1m5 0h1m67 0h1m7 0h1m21 0h1M56 112h1m9 0h1m29 0h2m2 0h1M70 114h1m11 0h1m21 0h1M108 116h1m5 0h1M28 118h1m47 0h1m5 0h2m6 0h1m13 0h1m39 0h1M30 120h1m19 0h1m59 0h1M48 122h1m35 0h1M36 124h1m13 0h2m16 0h1M90 126h1m47 0h1M100 128h1m23 0h1m17 0h1M108 130h1m35 0h1M62 132h2m24 0h1m3 0h1m41 0h1M34 134h1m15 0h1m1 0h1m5 0h1m81 0h1M76 138h1m63 0h1M58 140h1m11 0h1m13 0h1m37 0h1m3 0h1M38 142h1m21 0h1m39 0h1m1 0h1m3 0h1m17 0h3M40 144h1m33 0h1m35 0h1m3 0h1M32 146h1m37 0h1m1 0h1m29 0h1M36 148h1m15 0h1M64 150h1m37 0h1M50 154h1m1 0h1m1 0h1M44 158h1"/>
<path id="l6b" d="M148 13h2M174 15h1m5 0h1M146 17h1M172 23h1M140 25h1m21 0h1M134 27h1m3 0h1m15 0h1M124 37h1M138 39h1m37 0h1M120 43h1m15 0h1M146 45h1m13 0h1m25 0h1M138 47h1M134 49h1m11 0h1M102 53h1m33 0h1m35 0h1M144 55h1M92 57h1m9 0h1m41 0h1m17 0h1M100 59h1m37 0h2m20 0h1m9 0h2M50 61h1m109 0h1M52 65h1m59 0h1m1 0h1M128 67h1m3 0h1m3 0h1m55 0h1M94 69h1m1 0h1m41 0h1m15 0h1m1 0h1M136 71h1M62 73h1m47 0h1m41 0h1m13 0h1m11 0h1m3 0h1M130 75h1m5 0h1m41 0h1m3 0h3M150 81h1m17 0h1M90 83h1m63 0h1m7 0h2m24 0h1M106 85h1m31 0h2m4 0h1m11 0h1M68 87h1m55 0h1M48 89h1m61 0h1m73 0h1M52 91h2m44 0h1m73 0h1M46 93h1m41 0h1M74 95h1m43 0h1m1 0h1m5 0h1m49 0h1M42 97h1m33 0h1m29 0h1m15 0h1M46 99h1m5 0h1m41 0h1M70 101h1m11 0h1m13 0h1M50 103h1m109 0h1M86 105h1m7 0h1M58 107h2m2 0h2m24 0h1m15 0h1m59 0h1M52 109h1m79 0h1M132 111h1m11 0h1M82 113h1m9 0h1m11 0h1M58 115h1M36 119h1m3 0h2m24 0h1m13 0h1m1 0h1m41 0h1M44 121h1m11 0h1m47 0h1m19 0h1M68 123h1m19 0h1m23 0h1m15 0h1M40 125h1m41 0h1m39 0h1M102 127h1M32 129h1m1 0h1m27 0h1m3 0h1m13 0h1m3 0h1m1 0h1m3 0h1M30 131h1m23 0h1m9 0h1m47 0h1M70 133h1m35 0h1m3 0h2m6 0h1M32 135h1m7 0h1m9 0h1m27 0h1m27 0h1m35 0h1M42 137h1m45 0h1m15 0h1m5 0h1m29 0h1m1 0h1M38 139h1m19 0h1m43 0h1m5 0h1m11 0h1M28 141h1m9 0h1m5 0h1m11 0h1m3 0h1m15 0h2m12 0h1m31 0h1M66 143h1M104 145h1m3 0h1M38 147h1m15 0h1m45 0h1M52 153h1M48 155h1"/>
<path id="l6c" d="M169 12h1M183 14h1M159 16h1M177 18h1m1 0h1m3 0h1M147 24h1m1 0h1m33 0h1M153 26h1M179 28h1M137 30h1m7 0h1M179 32h1M139 34h1m11 0h1m19 0h1m3 0h2m12 0h1M165 36h1M147 38h1M133 40h1m29 0h1m19 0h1M51 42h1m71 0h1m1 0h1m27 0h1m3 0h1m1 0h1m31 0h1M131 44h1M121 46h1m17 0h2m4 0h1M149 48h1M115 50h1m1 0h1m5 0h1m23 0h1M89 52h1m11 0h1m45 0h1M111 54h1M105 58h1m25 0h1m7 0h1M109 60h2m20 0h1m11 0h1m29 0h1M51 64h1m53 0h1m45 0h1M113 66h1m5 0h1m33 0h1m1 0h1m7 0h1M55 68h1m115 0h1m21 0h1M127 70h1m15 0h1M55 72h1m95 0h1m25 0h1M93 74h1m53 0h1m37 0h1M143 76h1M149 78h1m5 0h1m35 0h1M59 80h1m5 0h1m41 0h1m31 0h2M143 82h2m34 0h1M127 84h1m17 0h1m17 0h2m12 0h1M107 86h1m53 0h1m11 0h1M55 88h1m125 0h1M59 90h1m45 0h1m65 0h1M91 92h1m11 0h1m59 0h1M63 94h1m61 0h1m41 0h1M77 96h1m1 0h1m1 0h1m41 0h1m43 0h1M43 98h1m31 0h1m1 0h2m12 0h1m29 0h1m55 0h1M85 100h1M41 102h1m5 0h1m33 0h1m1 0h1m33 0h1m47 0h1M43 104h1m35 0h1M87 106h1m7 0h1m9 0h1m7 0h1m19 0h2M101 110h1M21 112h1m33 0h2m40 0h1m33 0h1M87 114h1m19 0h1m19 0h1M29 116h1m137 0h1M51 118h1m31 0h1m77 0h1M71 120h1m1 0h1m1 0h1m5 0h1M63 122h1m43 0h1M51 124h1m35 0h1m7 0h1m31 0h1m3 0h1m25 0h1M103 126h1M45 128h1m19 0h1m5 0h1m17 0h1m7 0h1m21 0h1M67 130h1m27 0h1m47 0h2M39 132h1m13 0h1m1 0h1m7 0h1m19 0h1m25 0h1M105 134h1m9 0h1m17 0h1m13 0h1M47 136h1m19 0h1m3 0h1M51 138h1m9 0h1m13 0h2m6 0h1m31 0h1M83 140h2M53 142h1m25 0h1m9 0h1m5 0h1m17 0h1m11 0h2M51 144h1M35 146h1m29 0h1m33 0h1m15 0h1M31 148h1M71 150h1M45 152h1m19 0h1m1 0h1M39 154h1"/>
<path id="l6d" d="M149 13h1m17 0h1M157 15h1M169 17h1M157 19h1M159 23h1m3 0h1m21 0h1M151 25h1M177 27h1M161 29h1M159 31h1m7 0h1m19 0h1M149 33h1m15 0h1M141 35h1m33 0h1m7 0h1M167 37h1M121 39h1m25 0h1m21 0h1M187 41h1M123 43h1m25 0h1m3 0h1m37 0h1M51 45h1m67 0h1M149 47h1m31 0h1M133 49h2m38 0h1m17 0h1M187 51h1M49 53h1m33 0h1m3 0h1m27 0h1M79 55h1m67 0h1m9 0h1m7 0h1M91 57h2m16 0h1m11 0h1m5 0h1m31 0h1m9 0h1M123 59h1m15 0h1m1 0h1m23 0h1m5 0h1M99 61h1m71 0h1M117 63h1m45 0h1M51 65h2m4 0h1m49 0h1m29 0h1m15 0h1m47 0h1M77 67h1m121 0h1M117 69h1m23 0h1M61 71h1M49 73h1m11 0h2m62 0h1m13 0h1m5 0h1m19 0h2m8 0h1M145 75h1m37 0h2m12 0h1M109 77h1m31 0h1m11 0h1m3 0h1m1 0h1M107 79h1m3 0h1m37 0h1m17 0h1m19 0h1m7 0h1M65 81h1m119 0h1m9 0h1M141 83h1m21 0h1M65 85h1m23 0h1m37 0h1m5 0h1m5 0h1m1 0h1m39 0h1M95 87h1m41 0h1m39 0h1M65 89h1m5 0h1m3 0h1m87 0h1M49 91h1m1 0h3m121 0h1M53 93h1m15 0h1M105 95h1m19 0h2m46 0h1m1 0h2M127 97h1m35 0h1m9 0h1M67 99h1m13 0h1m95 0h1M65 101h1m13 0h1m5 0h1m73 0h1m17 0h1M43 103h1m35 0h1m11 0h1m3 0h1M97 105h1M59 107h1m3 0h1m15 0h1M91 109h1m3 0h1m15 0h1m37 0h1m13 0h1M131 111h2M35 113h1m59 0h1m3 0h1M67 115h1m61 0h1m35 0h1M39 117h1m19 0h1m23 0h1m7 0h1m21 0h1m5 0h1m43 0h1M27 119h1m13 0h1m5 0h1m29 0h1m33 0h1m9 0h1M37 121h1m1 0h1m7 0h1m61 0h1m3 0h1m9 0h2M33 123h1m27 0h1m11 0h1m37 0h2m42 0h1M59 125h1m69 0h1M89 127h1m5 0h1M105 129h1m7 0h1m9 0h1M67 131h1m33 0h1M45 133h1m19 0h1m45 0h1m5 0h2m12 0h1m13 0h1M121 135h1M57 137h1M77 141h1m37 0h1M63 143h1m13 0h1m15 0h1m15 0h1m9 0h1m3 0h1M51 147h1M59 153h1"/>
<path id="l7a" d="M154 12h1m9 0h1M148 14h1m21 0h1M166 20h1M166 22h1M168 24h1M150 28h1M146 30h1m13 0h1m21 0h1M184 32h1M134 34h1M164 36h1M148 40h1m9 0h1M154 42h1M118 44h1m9 0h1m23 0h1M122 46h1m7 0h1m15 0h1M136 48h1m31 0h1M120 52h1m7 0h1m35 0h1M94 54h1m19 0h1m17 0h1M92 56h1m51 0h1m21 0h1M104 58h1m29 0h1M126 60h1m3 0h1m9 0h1m9 0h1m11 0h1m9 0h1M48 62h1m103 0h1M50 64h1m63 0h1m13 0h1M120 66h1m19 0h1M58 68h1m59 0h1m5 0h1m33 0h2m18 0h1M126 70h1m11 0h1m9 0h1M126 72h1m5 0h1m15 0h1M136 74h1m47 0h1m11 0h1M96 76h1m3 0h1m27 0h2m8 0h1m9 0h4m24 0h1M108 78h1m19 0h2m8 0h1m9 0h1m27 0h1M56 80h1m35 0h1M124 82h1m17 0h1m7 0h1m11 0h1M68 84h1m69 0h1m5 0h1m23 0h1M94 86h1m97 0h1M178 88h1M52 90h1m13 0h1M120 94h1m61 0h1M96 96h1m9 0h1m25 0h1M54 98h1m29 0h1m9 0h1M86 100h1m3 0h1M74 102h1M100 104h1m5 0h1M86 106h1m3 0h1M76 108h1m33 0h1m19 0h1M82 110h2m12 0h1m3 0h1m11 0h1m9 0h1m7 0h2M64 112h1m43 0h1M48 114h1m7 0h1m37 0h2m32 0h1M68 116h1m13 0h2M50 118h1m23 0h1m9 0h1m45 0h1M32 122h1m65 0h1m11 0h1M54 124h1m39 0h1m3 0h1m7 0h1M46 126h1m29 0h1M44 128h1m35 0h1m23 0h1M78 130h1M38 132h1m9 0h1m9 0h1M72 134h1m13 0h1m21 0h1m15 0h1M52 136h1m13 0h1m21 0h1M38 138h1m9 0h1M32 140h1m43 0h1m3 0h1m15 0h1m7 0h1M30 146h1m7 0h1m9 0h2M32 148h1M72 150h1M58 152h1M42 156h1"/>
<path id="l7b" d="M162 9h1M158 17h1M160 19h1M170 21h1m11 0h1M138 23h1m15 0h1M134 25h1m1 0h1m23 0h1m9 0h1M136 27h2m14 0h1M184 31h1M182 33h1M130 35h1M138 41h1m7 0h1m33 0h1M118 43h1M116 45h1m41 0h1M116 47h1m7 0h1M114 49h1M106 51h1m31 0h1M88 53h1m5 0h1m53 0h1M116 55h1m53 0h1M166 57h1M104 59h1m9 0h1m21 0h1m3 0h1m21 0h1M106 61h1m15 0h2m22 0h1m9 0h2m8 0h1M106 63h1m15 0h1M56 65h1M54 67h1m45 0h1m39 0h1m17 0h3m17 0h1M50 69h1m77 0h1M60 71h1m37 0h1m41 0h1m41 0h1M108 73h1m15 0h1m13 0h1m7 0h1M128 75h1m19 0h1M108 77h1m11 0h1m9 0h1m7 0h1m9 0h1m5 0h1m19 0h1M138 79h1M66 81h1m85 0h1m25 0h1M94 83h1m45 0h1m43 0h1m5 0h1M50 85h1m113 0h1m5 0h1M40 87h1m21 0h1m3 0h1m71 0h1m17 0h1M74 89h1M66 91h1m37 0h2m24 0h2m48 0h1M74 93h1m3 0h1m21 0h1m35 0h1M60 95h1M72 97h1m17 0h1M62 99h1M80 101h1m39 0h1M48 103h1m31 0h1m37 0h1M74 105h1m15 0h1m61 0h1M68 107h1m3 0h1m39 0h1M84 109h1m3 0h1M90 111h1M78 113h1m73 0h1M56 115h1m63 0h1m1 0h1m3 0h1M74 117h1m1 0h1M48 119h1m53 0h2M40 121h1m51 0h1M90 123h1m25 0h1M28 125h1m19 0h1m67 0h1m9 0h1M136 127h1M40 129h1m35 0h1m5 0h1m15 0h1m17 0h1m23 0h1M34 131h1m59 0h1m21 0h1m13 0h1M28 133h1m63 0h1m21 0h1M28 135h1m37 0h1m23 0h1m3 0h1m19 0h1M56 137h1m1 0h1m57 0h1M44 139h1M26 141h1m21 0h1m5 0h1m51 0h1m21 0h1M34 143h1m23 0h1m25 0h1m41 0h1M48 147h1m1 0h1m31 0h1M78 149h1M64 151h1m39 0h1M68 153h1"/>
<path id="l7c" d="M143 20h1m25 0h1M143 22h1M167 26h1M169 30h1m5 0h1M159 32h1m31 0h1M137 36h1m9 0h1m23 0h1m5 0h1M121 38h1m9 0h1m9 0h1m45 0h1M141 42h1M125 44h1m41 0h1M187 46h1M125 48h1m7 0h1m23 0h1m13 0h1m13 0h1M135 50h1m9 0h1m3 0h1m13 0h1m15 0h1M91 52h1m1 0h1m61 0h1m23 0h1m9 0h1M117 54h1m19 0h1m7 0h1M107 56h1m39 0h1m1 0h1M129 58h1m25 0h1m9 0h1M107 60h1M55 62h1m45 0h1m21 0h1m5 0h1m25 0h1m11 0h1M109 64h1M59 66h1m71 0h1m7 0h2m10 0h1M53 68h1m73 0h1m7 0h1m23 0h1m13 0h1m7 0h1m17 0h1M99 70h1m7 0h1m25 0h1m7 0h1m13 0h1m29 0h1M53 72h1m3 0h1m59 0h1m17 0h1m1 0h1m3 0h1m1 0h1m3 0h2M155 74h1M47 76h1m11 0h1m69 0h1m19 0h3m7 0h1M125 78h1m3 0h1m13 0h1m7 0h1M99 80h1m45 0h1m1 0h1m29 0h1M93 82h1m63 0h1M45 84h1m15 0h1m41 0h1m71 0h1M49 86h1m41 0h1m37 0h1m39 0h1m7 0h1M159 88h1M87 90h1m9 0h1M129 92h1M107 94h1m19 0h1m1 0h1M53 96h1m13 0h1M41 98h1m41 0h2m18 0h1m19 0h1m45 0h1m3 0h1M77 100h1m49 0h1m37 0h1M51 104h1m37 0h1m21 0h1m41 0h1m5 0h1M47 106h1m81 0h1M87 108h1m75 0h1M75 110h1m7 0h1m21 0h1m25 0h1m1 0h1m37 0h1M59 112h1m13 0h1m5 0h1m49 0h1M75 114h1m19 0h1M73 116h1m3 0h1m5 0h1m3 0h1m35 0h1m1 0h1M49 118h2m16 0h1m43 0h1m21 0h1M95 120h1m1 0h1m29 0h1M49 122h1m11 0h1m5 0h1m5 0h1m13 0h1M73 124h1m49 0h1M61 126h1m43 0h1m35 0h1M55 128h1m37 0h1m1 0h1M63 130h1m49 0h1M79 132h1m5 0h1m19 0h1M43 134h1m31 0h1m13 0h1m23 0h1m5 0h1m21 0h1M41 136h1m15 0h1m29 0h2m6 0h1M47 138h2M125 140h1M27 142h1m3 0h1m87 0h1M37 144h1m11 0h1m13 0h1m13 0h1M49 146h1m35 0h1M97 148h1M45 150h1m41 0h1m13 0h1M47 152h1M41 154h1m17 0h1"/>
<path id="l7d" d="M157 9h1M159 11h1M171 13h1M183 15h1M179 19h1M181 21h2M137 27h1m47 0h1M143 29h1M145 33h1M163 35h1M135 41h1m43 0h2M145 43h1m1 0h1m19 0h1m5 0h1M135 45h1m5 0h1m41 0h1M147 47h1m19 0h1M119 49h1m1 0h1M129 51h1m13 0h1m1 0h1m17 0h1m5 0h1M107 53h1m35 0h1M161 55h1M123 57h1m29 0h1m3 0h1M117 59h1m29 0h1M51 61h1m63 0h1m7 0h1m33 0h1M119 63h1M111 67h1m45 0h4M53 69h1m61 0h1m37 0h1M57 71h1m1 0h2m78 0h2M101 73h1m39 0h1m1 0h1M55 75h1m49 0h1m37 0h1m9 0h1M125 77h1m3 0h2m4 0h1m9 0h1M93 79h1m23 0h1m17 0h1m11 0h1m3 0h1M143 81h1m5 0h1m31 0h1M51 83h1m53 0h1m31 0h1m5 0h1m11 0h1M91 85h1m67 0h1m15 0h1M97 87h1m87 0h1M101 89h1m67 0h1m1 0h1m9 0h1m5 0h1M105 91h1m1 0h1m23 0h1M61 93h1M57 95h1m111 0h1M71 97h2m2 0h1m1 0h1m5 0h1M71 99h1m39 0h1M93 101h1m15 0h1m51 0h1M67 103h1m87 0h1M67 105h1M75 107h1m73 0h1m5 0h1M93 109h1m37 0h1m1 0h1M103 111h1m13 0h1m11 0h1M93 113h1m9 0h1m1 0h1m21 0h1m1 0h1M49 115h1m29 0h1m19 0h1m17 0h1M31 117h1m97 0h1M51 119h1m51 0h1M67 121h1m3 0h1m13 0h1m15 0h1m3 0h1M65 123h1m37 0h1m15 0h1M41 125h1m13 0h1m15 0h1M31 129h1m35 0h1m39 0h1M37 133h1m37 0h1m7 0h1m5 0h1m45 0h1M79 135h1m25 0h1m17 0h1M39 137h1m27 0h1m29 0h1m11 0h1M53 139h1m23 0h1m23 0h1M83 141h1m13 0h1m7 0h2m4 0h1M131 143h1M41 145h1m7 0h1m3 0h1m57 0h1M55 149h1M67 151h1M51 153h1"/>
<path id="l8a" d="M174 14h1m1 0h1M168 16h1M158 18h1m15 0h2M146 20h1m33 0h1M150 24h1M150 36h1M128 40h2M124 44h1m19 0h2M142 48h1m11 0h1m35 0h1M90 52h1m45 0h1m25 0h1m9 0h1M166 58h1M138 60h1M100 62h1m45 0h1M140 64h1M98 66h1m43 0h1m13 0h1m19 0h1m17 0h1M156 68h2M154 70h1M50 72h1M102 74h1m23 0h1m59 0h1M192 76h1M124 78h1m19 0h1m11 0h1M176 80h1m7 0h1M56 82h1m35 0h1m11 0h1m25 0h1m9 0h1m5 0h1m27 0h1M92 84h1m15 0h1m1 0h1m13 0h1M126 86h1M96 90h1m39 0h1m47 0h1M52 92h1m37 0h1m13 0h1m59 0h1M56 94h2m40 0h1m7 0h1m5 0h1m23 0h1m27 0h1m19 0h1M44 96h1m19 0h1m7 0h1m1 0h1m47 0h1M174 98h2M46 100h1m13 0h1m13 0h1m43 0h1M92 102h1m27 0h1M46 104h1m23 0h1M16 106h2m88 0h1M52 108h1m59 0h1M134 110h1M34 112h1M118 114h1M92 116h1m5 0h1m63 0h1M122 118h2M40 120h1m15 0h1m25 0h1m43 0h1M94 122h1M104 124h1M30 126h1m13 0h1m27 0h1m23 0h1m9 0h1M28 128h1m35 0h1m29 0h1M84 130h1m39 0h1M64 132h1m45 0h1m17 0h1M36 134h1m75 0h1m5 0h1m15 0h1m7 0h1M68 136h1m15 0h1M58 138h2m10 0h1m45 0h1M48 140h1m23 0h1m27 0h1M50 142h1m23 0h1m29 0h1m25 0h1M44 144h1M66 148h2M48 152h1M38 154h1m17 0h1"/>
<path id="l8b" d="M166 11h2M156 13h1m21 0h1M152 15h1m25 0h1M144 17h1M184 29h1m5 0h1M128 33h1m15 0h1m13 0h1M132 35h1m9 0h1m13 0h1M146 37h1m9 0h1m29 0h1M144 39h1m23 0h1M168 41h1M132 43h1m31 0h2m26 0h1M130 45h1M130 47h1M150 49h1m41 0h1M144 51h1m9 0h1M106 53h1m3 0h1m17 0h2m14 0h1m11 0h1m13 0h1m19 0h1M112 55h1m1 0h1m5 0h2M150 57h1M100 61h1m3 0h2m56 0h1M178 63h1M54 65h1m65 0h1m23 0h1m23 0h1M48 67h1m11 0h1m89 0h1m5 0h1m37 0h1M142 69h1m7 0h1m13 0h1m7 0h1m7 0h1m11 0h1M184 71h1m1 0h1M140 73h1m3 0h1m3 0h1m45 0h1m3 0h1M60 75h1m59 0h1m5 0h1m13 0h1M62 77h1m81 0h1m1 0h1m29 0h1M92 79h1m13 0h1M144 81h1M62 83h1m69 0h1m5 0h2M128 85h2m10 0h1m37 0h1m7 0h1m5 0h1M42 87h1m97 0h1M108 89h1m11 0h1m5 0h1m9 0h1m27 0h1m3 0h1M108 91h1M52 93h1m7 0h1m37 0h1m9 0h1m59 0h1M64 95h1m3 0h1m37 0h1m17 0h1m5 0h1M124 97h2M44 99h1m39 0h1m19 0h1m59 0h1M86 101h1M44 103h1m43 0h1m15 0h2m8 0h1M76 105h1m11 0h1m17 0h2m8 0h1M52 107h1M130 109h1M78 111h1m9 0h1m23 0h1M60 113h1m39 0h1m1 0h1m23 0h1M118 115h2M46 117h1m45 0h1M126 119h1m3 0h1M96 121h1m31 0h1M58 123h1m5 0h1M54 125h1m65 0h1M32 127h1m45 0h1m43 0h1M44 129h1M62 131h1m17 0h1m17 0h1m51 0h1M66 133h1m67 0h1M62 137h1m15 0h1M92 139h1m21 0h1m11 0h1M74 141h2M86 143h1m3 0h1m7 0h1M42 151h1M42 153h1"/>
<path id="l8c" d="M167 12h1M149 14h1M175 18h1M163 20h1M173 26h1m7 0h1M181 32h1M127 34h1m15 0h1M127 36h1m11 0h1m5 0h1m45 0h1M149 38h1M129 40h1m27 0h1M185 42h1M121 44h1m11 0h1m11 0h1m5 0h1m13 0h1M143 46h1m27 0h1M145 48h1m1 0h1m19 0h1m13 0h1M113 50h1m5 0h1m35 0h1m9 0h1m19 0h1M131 52h1m19 0h1M91 56h1m37 0h1m33 0h1m3 0h1M151 58h1m5 0h1m3 0h1M161 60h1M103 64h1m61 0h1M137 66h1m3 0h2M59 68h1m79 0h1m11 0h1m1 0h1m3 0h1M61 70h1m87 0h1m9 0h1M127 72h1m29 0h1m27 0h1m11 0h1M115 74h1m13 0h1M51 76h1m5 0h1m83 0h1m11 0h1M99 78h1m73 0h1m5 0h1M93 80h1m43 0h1m15 0h1m13 0h1M139 82h2m4 0h2M57 84h1m31 0h1m5 0h1m33 0h1m23 0h1M73 88h1M63 90h1m27 0h1m7 0h1m35 0h2M51 92h2m4 0h1m49 0h1M57 94h1M85 96h1m9 0h1m85 0h1M99 98h1m15 0h1m59 0h1M55 100h1m35 0h1m23 0h1m5 0h1m53 0h1M15 102h1m27 0h1m25 0h1m41 0h1M17 106h1m49 0h1m9 0h1M63 108h1m47 0h2m4 0h1M85 110h1m21 0h1m11 0h1M103 112h1m3 0h1m11 0h1M63 114h1M123 118h1M43 120h1m3 0h1m17 0h1m11 0h1M33 122h1m59 0h2M65 124h1m3 0h1m1 0h1m13 0h1m5 0h1m7 0h1M81 126h1m1 0h1m11 0h2M43 128h1m19 0h2m60 0h1m27 0h1M55 130h1M59 132h1m29 0h1M53 134h1M23 138h1m19 0h1m15 0h1m21 0h1M53 140h1m31 0h1M49 142h2m64 0h1m13 0h2M63 148h1m3 0h1m33 0h1M69 150h1M37 152h1m13 0h1M45 154h1"/>
<path id="l8d" d="M167 11h1m5 0h1M171 15h1M163 17h1M163 19h1M187 27h1M151 29h1m27 0h1M141 33h1m29 0h1m7 0h1M145 37h2M189 39h1M141 41h1M161 43h1m3 0h1M163 47h1M113 51h1M125 53h1m1 0h3m7 0h1M121 55h1m23 0h1m5 0h1M113 57h1m61 0h1M107 59h1m27 0h1m17 0h1m7 0h1m1 0h1M103 61h3M167 63h1M131 65h1m3 0h1m15 0h1m7 0h1m37 0h1m1 0h1M135 67h1m43 0h1m17 0h1M107 69h1m87 0h1M47 71h1m59 0h1m7 0h1m9 0h1m17 0h1m7 0h1m1 0h1M47 73h1m87 0h1m15 0h1m33 0h1M129 75h1m9 0h2m6 0h1M57 77h1m79 0h1M185 79h1M93 81h1m9 0h1m47 0h1m21 0h1M53 83h1m35 0h1m37 0h1m11 0h1m9 0h1m3 0h1m39 0h1M99 85h1m29 0h1m13 0h1m47 0h2M47 87h1m1 0h1M63 89h1m69 0h1M71 91h1M77 93h1m23 0h1m1 0h1m1 0h1m67 0h1M129 95h2M45 97h1m79 0h1M53 99h1m23 0h1m13 0h1m11 0h2m10 0h1m15 0h1M57 101h1M15 103h1m33 0h1m47 0h1m7 0h1m11 0h1M75 105h2m8 0h1m21 0h1M83 107h1m47 0h1m15 0h1M57 109h1m3 0h1m9 0h1M51 111h1m7 0h1m5 0h1m1 0h1m27 0h1m19 0h1M47 113h1m35 0h1m33 0h1M53 115h1m19 0h1m45 0h1M31 121h1m95 0h2M71 129h1M85 131h1m27 0h1M95 133h1m1 0h1m31 0h1M45 135h1m1 0h1M47 137h1M61 139h1m41 0h1M27 141h1m47 0h1M55 143h1m41 0h2M33 145h1M53 147h1M101 149h1"/>
<path id="l9a" d="M168 12h1m3 0h1M152 14h1M164 18h1m21 0h1M160 20h2M186 24h1M148 26h1m13 0h1M156 32h1m9 0h1M154 36h1m1 0h1M140 40h1m19 0h1M138 42h1m23 0h1m5 0h1M138 44h1m9 0h1M128 46h1m13 0h1m45 0h1M114 50h1m11 0h1m17 0h1m7 0h1M92 52h1m39 0h1m37 0h1m9 0h1M120 54h1m45 0h1M106 56h1M106 58h1m47 0h1M112 60h1m1 0h1M120 62h1M118 64h1M58 66h1M50 68h1m77 0h1m1 0h1m63 0h1m3 0h1M112 70h1m9 0h1m21 0h1m15 0h1M54 72h1m45 0h1m35 0h1M120 74h1m19 0h1m57 0h1M48 76h1m9 0h1m87 0h1m9 0h1M152 78h1m31 0h1M194 80h1M58 82h1M126 84h1m5 0h1m13 0h1m9 0h1m5 0h1m9 0h1M130 86h1m3 0h1M104 88h1m21 0h1m1 0h1m5 0h1M58 90h1m49 0h3M108 92h1m13 0h1m5 0h1M162 94h1M88 96h1m27 0h1M58 98h2m38 0h1m27 0h1m37 0h2M76 100h1m5 0h1m21 0h1m25 0h1M44 102h1m77 0h1M114 106h1m1 0h2m8 0h1M94 108h1m39 0h1M78 110h1m29 0h1m23 0h1M72 112h1m9 0h2M72 114h1m15 0h1M104 116h1m11 0h1m3 0h1M126 118h1M28 120h1m67 0h1M44 122h1m7 0h1M116 124h1M42 126h1m59 0h1M68 128h1m13 0h1m25 0h1M62 130h1m31 0h1m3 0h1M72 132h1m25 0h1m9 0h1m15 0h1M66 134h1m33 0h1M86 136h1M24 138h1m15 0h1M30 142h1m101 0h1M46 144h1m1 0h1m69 0h1M60 146h1M54 148h1m47 0h1M88 150h1m11 0h1"/>
<path id="l9b" d="M158 15h1M170 19h1m1 0h1M168 21h1m9 0h1M158 25h1M170 27h1M138 29h1M168 31h1M172 33h2M182 35h1M136 37h2m42 0h1M188 39h1m3 0h1M140 45h1M148 49h1m35 0h1m1 0h1M118 51h1m67 0h1M88 55h1m67 0h1m1 0h1M148 57h1M154 59h1m3 0h1M128 61h1m41 0h1M108 63h1m41 0h1m15 0h1M118 65h1m37 0h1m41 0h1m1 0h1M118 67h1M126 69h1m61 0h1M94 71h1m1 0h1m45 0h1m3 0h1m3 0h1M48 73h1m77 0h1m7 0h1m23 0h1m25 0h1m7 0h1M108 75h1m23 0h1m19 0h1m43 0h1M142 77h1m15 0h1m19 0h1M154 79h1m21 0h1M142 83h1M90 85h1m19 0h1m19 0h1m21 0h1m23 0h1M160 89h1m1 0h1M118 91h1m7 0h1m5 0h1m43 0h1M62 93h1m7 0h1m33 0h1m61 0h1M52 95h1m17 0h3M126 97h1m3 0h1M76 99h1m1 0h1m13 0h1m25 0h1m13 0h1M100 101h1m1 0h1m15 0h1m3 0h1m49 0h1M68 103h1M16 105h1m47 0h1m7 0h1m7 0h1M100 107h1m13 0h1m35 0h1M112 109h1m21 0h1m13 0h1M90 113h1M52 115h1m55 0h1M102 117h1M78 119h2m52 0h1M102 121h1M32 123h1m21 0h1m17 0h1M76 125h2m8 0h1M56 127h1m7 0h1m9 0h1m1 0h1M28 129h1m45 0h1m25 0h2M70 131h1m5 0h1M36 133h1m17 0h1m25 0h1m13 0h1m1 0h1m15 0h1M52 135h1m91 0h1M92 137h1m15 0h1M60 139h1m57 0h2m18 0h1M130 141h1M46 143h1m33 0h1M34 145h1m13 0h1m23 0h2m50 0h1M84 147h1M40 149h2m46 0h1m9 0h1M60 153h1M44 157h1"/>
<path id="l9c" d="M181 10h1M153 12h1M157 18h1M145 20h1m15 0h1M141 24h1m17 0h1M165 26h1M139 28h1M159 30h1M141 32h1m41 0h1m5 0h1M145 34h1m37 0h1M149 36h1M155 38h1m3 0h1M139 40h2m8 0h1M135 42h1M139 48h1m25 0h1M143 50h2m6 0h2m18 0h1M157 52h1M107 54h1m21 0h1m13 0h1m11 0h1M141 56h1M135 58h1M105 60h1m15 0h1m25 0h1m21 0h1M113 62h1m35 0h1m1 0h1M135 64h1m7 0h1M159 66h1M59 70h1m51 0h2m74 0h1M47 72h1m57 0h1m3 0h1m35 0h1m3 0h1m11 0h1m17 0h1m3 0h1M119 74h2m22 0h1M53 78h1m93 0h1M97 80h1m25 0h1m1 0h1m5 0h1m11 0h1m11 0h1m25 0h1M141 82h1m21 0h1m19 0h1M127 86h1M61 88h1m125 0h1M109 90h2m16 0h1m41 0h1M121 92h2M71 94h1m37 0h1m21 0h1m41 0h1M51 96h1m3 0h1m15 0h1m1 0h1m1 0h1m29 0h1m5 0h1m65 0h1M59 98h1m47 0h1m5 0h1m3 0h1m47 0h1M47 100h1m1 0h1m7 0h1m1 0h1m37 0h1M121 102h2m50 0h1M101 104h1m17 0h1M51 106h1m49 0h1m15 0h1M47 108h1m3 0h1m49 0h1m13 0h1m17 0h2M49 110h1m27 0h2m50 0h1M83 112h1m17 0h1m7 0h1M69 114h1m13 0h1m31 0h1m3 0h1M67 116h1m11 0h1m19 0h1m19 0h2M91 118h1M109 120h1M113 122h1M53 124h1m9 0h1m51 0h2M47 128h1m29 0h1M29 132h1M29 134h1m65 0h1M33 136h1m5 0h1m9 0h1m13 0h1m1 0h1M49 138h1m27 0h1M89 140h1m3 0h1M57 142h1m11 0h1m23 0h1M71 144h1m35 0h1m7 0h1M125 146h1M59 148h1M43 150h1m3 0h1M41 152h1"/>
<path id="l9d" d="M159 9h1M177 15h1m3 0h1M157 17h1m21 0h1m1 0h1M185 21h1M141 23h1m19 0h1M165 25h1M159 27h1M173 33h1M157 35h1m3 0h1M137 37h1M149 39h1m5 0h1M135 43h1M131 45h1m29 0h1m7 0h1M117 47h1m9 0h1m11 0h1M153 49h1M123 51h1m65 0h1M179 53h1M93 55h1m25 0h1M133 59h1m17 0h1M125 61h1m37 0h1m5 0h2M111 63h1m53 0h2M103 65h1M51 67h1m71 0h1M59 69h1m51 0h1m37 0h1m7 0h1m7 0h1m27 0h1M55 71h1m45 0h1m9 0h1m37 0h2m26 0h1M93 73h1m3 0h1m21 0h1m27 0h1M151 77h1M197 79h1M147 81h1m5 0h1m13 0h1m3 0h1M57 83h1m1 0h1m85 0h1M93 85h1m15 0h2m58 0h1m3 0h1M63 87h1m61 0h1m15 0h1m1 0h1M53 89h1m57 0h1m19 0h1m53 0h1M171 91h1m1 0h1M89 93h1m17 0h1m55 0h1M59 95h1m7 0h1m3 0h2m2 0h1m41 0h1m15 0h1m1 0h1M57 97h1m3 0h1m1 0h1m51 0h1M63 99h1m43 0h1M53 101h1m27 0h1m35 0h2m2 0h2m6 0h1M59 103h1m27 0h1m33 0h1m45 0h1M59 105h1M113 107h2m18 0h1M99 109h1M109 111h1M71 113h1m7 0h1m7 0h1m19 0h1M95 115h1m31 0h1m25 0h1M61 117h1M37 119h1m25 0h1m15 0h1m47 0h1M77 121h1M53 123h2m36 0h1M35 125h1m27 0h1m13 0h1m63 0h1M61 127h1m9 0h1m25 0h1M43 129h1m13 0h1m27 0h1m15 0h1M91 133h1M49 135h1m1 0h2m60 0h1M71 137h1m63 0h1M33 139h1m41 0h1m13 0h1m29 0h1M127 141h1M29 143h1m5 0h1m53 0h1m21 0h1M73 145h1M41 149h1m37 0h1M37 151h1m15 0h1M47 153h1"/>
<path id="l10a" d="M180 10h1M152 12h1m29 0h1M180 16h1M144 18h1M142 22h1m21 0h1M170 26h1m17 0h1M170 28h1m7 0h1M158 32h1M126 36h1m25 0h1M122 38h1m3 0h1m9 0h1m3 0h1m31 0h1m15 0h1M186 40h2M160 42h1m29 0h1M192 44h1M136 46h2m30 0h1M162 48h1M112 50h1m49 0h1m9 0h1M138 52h1m29 0h1M108 54h1m35 0h1m9 0h1m3 0h3m9 0h1m9 0h1M90 56h1m23 0h1M120 58h2m4 0h1M148 60h1M126 64h1m7 0h1m9 0h1m15 0h1M136 66h1m13 0h1M116 68h1m17 0h1m47 0h1m17 0h1M58 72h1m61 0h1m31 0h1m25 0h1M54 74h1m41 0h1m13 0h1m19 0h1m15 0h1m43 0h1m3 0h1M52 76h1m83 0h1M62 78h1m51 0h1m1 0h1m1 0h1m15 0h1M58 80h1m49 0h1m21 0h1M148 82h1m39 0h1M150 84h1m35 0h1M138 86h1m15 0h1m15 0h1M100 90h2m72 0h1M54 92h1m117 0h1M68 94h1m63 0h1m47 0h1M46 96h1m73 0h1M42 98h1m13 0h1m47 0h1m5 0h1m7 0h1m9 0h1M80 100h1m39 0h1m41 0h1M46 102h1m17 0h1M64 104h1m25 0h1m13 0h1m5 0h1m3 0h1m3 0h1m11 0h1M44 106h2m74 0h1M92 110h2m62 0h1M46 112h2m40 0h1m13 0h1m17 0h1m7 0h1M86 114h1m29 0h1m3 0h1m5 0h1M62 118h1m47 0h1M32 120h2m42 0h1M30 122h1m45 0h1m27 0h2M74 124h1m11 0h1M50 128h1m5 0h2m38 0h1M100 130h1m1 0h1M50 132h1m67 0h1M46 134h1m45 0h1M34 136h1m25 0h1m49 0h1M90 138h1M28 140h1m1 0h2M76 142h1m3 0h1m35 0h1M100 144h1M50 150h1M40 152h1M40 156h1"/>
<path id="l10b" d="M160 9h1M172 11h1m7 0h1M174 13h1M168 19h1M140 21h1M142 23h1m13 0h1M150 25h1M140 27h1m35 0h1M162 29h1M148 35h1M136 39h1M124 41h1M126 43h1m13 0h1m11 0h1m17 0h1M120 45h1m29 0h1M144 47h1M132 49h1M126 53h1m13 0h1m13 0h1m3 0h1m21 0h1M110 55h1m35 0h1m7 0h2m6 0h2M130 57h2M150 61h1M154 63h1M50 65h1m99 0h1m45 0h1M144 67h1m7 0h1m15 0h1M60 69h1m99 0h1m25 0h1M148 71h1m5 0h2m4 0h1M142 73h1m47 0h1M98 75h1m55 0h1M110 77h1m25 0h1M94 79h1m51 0h1M54 81h1m39 0h1m45 0h2m4 0h1m7 0h1m41 0h1M102 83h1m19 0h1m21 0h1m1 0h1M168 85h1m15 0h2M186 87h2M112 89h1M138 91h1M128 93h2M48 97h1m53 0h1m11 0h1m13 0h1m45 0h1M164 103h1M50 105h1m33 0h1m7 0h1m35 0h2M98 107h1m21 0h1m13 0h1m19 0h1M48 109h1m61 0h1m9 0h1M84 111h1m21 0h1M56 113h1m29 0h1m29 0h1m1 0h2M54 115h1m47 0h1m25 0h1M84 121h1m25 0h1M52 123h1m13 0h1m3 0h1m3 0h1m47 0h1m3 0h1M60 125h1m23 0h1m5 0h1m27 0h1M38 127h1m13 0h1M104 129h1M74 131h1m9 0h1M72 133h1m13 0h1M82 135h1m33 0h1M24 137h1M30 139h1m25 0h1m29 0h2M112 141h1m3 0h1m17 0h1M36 145h1m33 0h1m23 0h1m1 0h1m1 0h2M32 149h1m33 0h1M44 155h1"/>
<path id="l10c" d="M159 10h1M177 12h1M177 14h1M175 20h1M179 24h1m1 0h1M155 28h1M143 32h1M131 34h1M121 40h1m65 0h1M139 44h1m3 0h1m9 0h1M137 46h1m3 0h1M169 48h1M133 50h1M137 52h2m14 0h1m9 0h1M115 54h1m15 0h1m21 0h2m4 0h2m4 0h1M105 56h1m17 0h1m37 0h1m3 0h1M121 58h1m21 0h1M129 60h1m33 0h1M161 62h1m7 0h1M115 64h1m25 0h1m15 0h1m9 0h1M55 66h1m1 0h1m109 0h1m25 0h1M95 70h1m41 0h1m7 0h1M113 72h1M95 74h2m30 0h1m5 0h1m5 0h1m9 0h1m47 0h1M49 76h1m81 0h1m1 0h1m5 0h1M47 78h1m83 0h1m1 0h2M63 80h1M101 82h1m31 0h1m59 0h1M95 86h1m35 0h1m27 0h1m31 0h1M127 88h1m61 0h1M67 90h1m33 0h1M53 92h2m58 0h1M49 94h1m65 0h1M45 96h2m2 0h1m47 0h1M61 98h1m65 0h2M65 100h1m7 0h1m9 0h1m9 0h1m13 0h1m1 0h1m51 0h2m8 0h1M63 102h2M45 104h1m25 0h1m3 0h1m11 0h1M41 106h1m3 0h1m69 0h1M79 108h1m1 0h1m21 0h1m31 0h1M65 110h1m27 0h1M47 112h1m13 0h1m23 0h1M49 114h1m29 0h1m11 0h1m31 0h1M91 116h1m37 0h1M55 118h1m17 0h1M33 120h1M105 122h1M119 124h1M41 126h1m1 0h1m45 0h1M57 128h1M91 130h1M65 132h1m5 0h1m45 0h2M65 134h1m43 0h1M55 136h1M39 138h1m49 0h2m6 0h1M31 140h1m29 0h1m57 0h1M39 142h1m27 0h1m33 0h1M29 144h1m79 0h1m19 0h1M33 148h1M57 154h1"/>
<path id="l10d" d="M165 11h1M179 15h1M171 17h1m1 0h1M143 19h1M151 21h1M147 25h1m29 0h1M141 29h1M141 31h1M177 33h1M147 35h2m42 0h1M153 39h1M163 41h1m25 0h1M145 45h1m19 0h1M159 47h1m9 0h1m19 0h1M189 49h1M89 53h1m59 0h1m13 0h1M155 55h1m7 0h1M131 57h1m5 0h1m5 0h1m5 0h1m11 0h1m1 0h1M129 63h1M133 65h1m7 0h1m3 0h1M129 67h1m11 0h1m1 0h2M159 69h2m16 0h1M141 71h1m13 0h1m1 0h1m27 0h1M95 73h1m87 0h1m15 0h1M53 75h1m47 0h1m21 0h1m7 0h1m3 0h1m57 0h1M119 77h1m71 0h1M61 79h1m63 0h1m19 0h2m8 0h1M105 81h1m3 0h1m23 0h1m7 0h1m3 0h2m28 0h1M95 83h1m5 0h2m6 0h1M101 85h1m35 0h1m9 0h1m23 0h1m11 0h3m1 0h1m5 0h1M187 87h1M95 89h1m3 0h1M99 91h1M123 93h1m1 0h1m3 0h1m39 0h1M45 95h1m3 0h1m15 0h1m3 0h1m33 0h1m7 0h1M47 97h2m74 0h1m7 0h1M93 99h1m31 0h1m33 0h1M133 101h1M93 103h1m9 0h1M103 105h1m25 0h1M93 107h1m7 0h1m13 0h1M65 109h1m39 0h1m23 0h1M53 111h1m9 0h1m15 0h1m47 0h1M119 113h1M81 119h1m17 0h1M33 121h1M29 123h1m57 0h1M103 125h1M31 127h1m89 0h1m19 0h1M63 129h1m13 0h1m31 0h1M53 131h1m19 0h2m30 0h1m29 0h1m11 0h1M41 133h1m11 0h1m51 0h1M93 135h1m3 0h1M59 137h1m29 0h1m23 0h1M47 139h1m11 0h1m27 0h1m5 0h1m19 0h1M37 141h1m33 0h1m7 0h1m51 0h1M43 143h1M99 145h1M45 147h1M87 149h1M51 155h1M45 157h1"/>
<path id="l11a" d="M186 22h1M176 28h1m3 0h1M144 34h1m39 0h1M182 40h1M120 42h1m27 0h1M120 46h1m3 0h1m7 0h1m25 0h2m2 0h1m3 0h1M126 48h1m1 0h1m35 0h1m1 0h1M114 52h1m33 0h2m4 0h1M88 54h1m21 0h1m19 0h1m17 0h1m1 0h1M158 56h1M160 58h1m1 0h1M120 60h1m1 0h1m1 0h1M102 62h1m19 0h1M116 64h1m3 0h1m37 0h1m33 0h1M104 66h1m19 0h1m13 0h1m5 0h1m7 0h1m7 0h2m34 0h1M98 68h1m39 0h1m13 0h1M56 70h2m98 0h1M96 72h1m33 0h1m13 0h1m1 0h1m45 0h1m5 0h1M106 74h1m35 0h1m39 0h1M50 76h1m103 0h1M54 78h1m37 0h1m53 0h1M124 80h1m11 0h1M102 82h1M102 84h1m37 0h2M104 86h2m78 0h1M70 88h1m27 0h1m25 0h1m63 0h1M138 90h2M106 92h1m61 0h2m10 0h1M70 94h1m1 0h2m18 0h1m7 0h1m13 0h1M70 96h1M48 98h1M108 100h1m3 0h1m3 0h1m41 0h1M48 102h1m1 0h1m11 0h1m51 0h2M60 104h1m1 0h1m53 0h1M72 106h1m27 0h1m9 0h1m21 0h1m17 0h1M116 108h1M114 110h1m9 0h1M78 112h1m33 0h1m5 0h1M102 114h1m3 0h1m7 0h1m9 0h1M78 116h1m9 0h1m1 0h1m59 0h1M70 122h1m49 0h1M52 124h1M92 126h1M70 128h1m7 0h2M58 130h1M106 136h1M42 138h1m45 0h1M118 140h1M108 142h1M30 144h1m19 0h1m53 0h1m3 0h1m15 0h1M62 146h1m11 0h1M70 148h1M32 150h1m7 0h1m3 0h1M44 152h1"/>
<path id="l11b" d="M184 13h1M144 19h1M168 23h1M182 25h2M158 27h1m21 0h1M148 33h1m1 0h1m25 0h1M166 47h1M118 49h1m47 0h2M164 51h2M168 53h1M126 55h1m33 0h1M116 57h1m37 0h1M146 59h1m3 0h1M48 61h1m59 0h1M140 65h1m25 0h2M50 67h1m79 0h1m7 0h1M54 69h2m122 0h1M58 73h1m71 0h1m19 0h1M50 75h1m91 0h1m1 0h1M96 77h1m31 0h1M64 79h1m45 0h1m13 0h1m63 0h1M136 81h1m1 0h1m33 0h1m11 0h1M50 83h1m59 0h1m83 0h1M146 85h1M130 87h1M132 89h1M112 93h1m9 0h1m3 0h1m7 0h1M110 95h1M112 97h1m3 0h1M124 99h1m3 0h1M84 101h1m23 0h1m7 0h1M70 103h1m39 0h1M132 105h1m1 0h1M70 107h1m31 0h1m13 0h2m10 0h1m1 0h1m5 0h1M74 109h1m21 0h1M60 111h1m1 0h1m63 0h1M80 113h1m27 0h2m10 0h1m7 0h1M74 115h1M78 117h1m37 0h1m13 0h1M64 119h1m7 0h1m1 0h1m15 0h1m7 0h1M66 121h1m1 0h3m7 0h1M40 123h2m36 0h1m13 0h1M42 127h2m70 0h1M104 133h1M62 135h1m29 0h1m3 0h1M44 137h1M40 139h1m21 0h1m1 0h1M78 141h1m5 0h1M52 143h1m3 0h1m37 0h1M44 145h1m29 0h1M30 147h1m29 0h1M86 149h1"/>
<path id="l11c" d="M147 14h1M171 16h1M163 18h1M173 22h1M151 24h1M139 26h1m21 0h1m15 0h1M173 28h1M155 36h1m23 0h1M143 40h1m47 0h1M171 42h1M129 44h1m19 0h1m41 0h1M119 46h2m38 0h1M107 50h1m61 0h1m19 0h1M149 52h1m19 0h1M169 54h1M121 56h1M153 58h1M103 60h1m49 0h1m1 0h1m9 0h1m5 0h1M135 62h1M125 64h1m21 0h1m7 0h1M49 66h1m107 0h1m3 0h1M115 68h1m5 0h1m11 0h1m15 0h1M51 70h1m5 0h1m61 0h1m3 0h1M153 72h1M141 74h2m16 0h1M191 76h1m3 0h1M63 78h1m45 0h1m31 0h1M51 80h1m9 0h1M53 82h1m67 0h1m59 0h1M91 84h1m49 0h1M105 86h1M49 88h1m135 0h1M117 90h1m21 0h1m39 0h1M119 92h1m49 0h1M73 94h1m63 0h1M105 98h1m5 0h1M119 100h1M115 102h1M67 104h1m47 0h2m6 0h1M43 106h1m63 0h1m11 0h1M95 108h1m33 0h1m23 0h1M93 112h1m33 0h1M89 114h1m27 0h1M69 116h1m45 0h1M85 120h1m21 0h1m17 0h1M65 122h1m37 0h1M121 124h1M79 128h1m1 0h1M29 130h1m55 0h1M25 136h1m79 0h2m6 0h1M57 140h1m59 0h2m18 0h1M127 142h1M35 144h1m7 0h1m41 0h1M39 146h1m21 0h2m10 0h2M67 150h1M47 154h1m1 0h1"/>
<path id="l11d" d="M163 9h1M151 13h1m17 0h1M147 17h1M159 25h1m9 0h1m3 0h1m9 0h1M133 27h1M145 31h1m35 0h1M149 37h1m9 0h1m29 0h1M155 43h1M139 45h1m13 0h1M129 47h1m1 0h1m5 0h1m13 0h1M167 49h1M135 51h1m1 0h1m27 0h1M171 53h1M89 55h1m17 0h1m21 0h1M103 59h1m45 0h2m6 0h1M135 61h1M151 63h1m3 0h1M97 65h1m25 0h1m19 0h1m3 0h1m19 0h1M101 67h1m11 0h1m19 0h1m17 0h1M55 69h1m71 0h1M133 71h1M193 73h1M63 75h1m53 0h1m23 0h2M55 77h1m49 0h1m33 0h1m3 0h1m33 0h1M115 79h1m37 0h1m15 0h1M135 85h1m27 0h1M129 87h2m2 0h1m57 0h1M127 89h1m11 0h1m43 0h1M9 91h1m55 0h1m43 0h1m53 0h1m1 0h1m15 0h1M181 95h1M123 99h2m40 0h1m1 0h1M61 101h1m37 0h1m3 0h1m11 0h2m8 0h1m39 0h1M73 103h1m35 0h2m8 0h1M77 105h1m81 0h1M69 107h2m6 0h1m39 0h1M59 109h1m27 0h1m15 0h1m15 0h1M59 113h1m17 0h1m31 0h1M121 115h1M63 117h1m9 0h1m47 0h1M69 121h2m20 0h1M37 123h1m3 0h1m53 0h1m25 0h1M43 127h1m19 0h1m19 0h1M91 129h1M47 131h1m51 0h1M31 133h1m81 0h1m1 0h1M27 135h1m57 0h1m15 0h1m5 0h1M25 137h1m1 0h1m65 0h1M31 139h1M31 141h1m37 0h1m25 0h1m33 0h1M39 143h1m77 0h1M63 147h1M33 149h1m5 0h1M65 151h1m3 0h1"/>
<path id="l12a" d="M146 18h1M146 26h1m25 0h1m9 0h1M168 28h1m5 0h1M190 30h1M132 34h1M156 38h1m11 0h1m21 0h1M118 42h1M158 44h1M146 48h1m5 0h1m3 0h1M130 50h1m5 0h1m21 0h1m5 0h1M150 52h1M136 54h1M120 56h1m35 0h2m6 0h1m3 0h1M132 58h1M118 60h1m45 0h1M112 62h1m21 0h1m23 0h1M150 64h1m5 0h1m43 0h1M148 66h2M174 68h1M186 70h1M52 72h1m41 0h1m43 0h1m51 0h1M58 74h1m129 0h1M134 76h1M58 78h1m81 0h1m1 0h1m7 0h1M104 80h1m33 0h1m15 0h1m27 0h1M172 82h1m3 0h1m17 0h1M128 86h1m15 0h1m33 0h1m1 0h1M138 88h1m3 0h1M122 90h1m41 0h1M166 92h1m9 0h1M166 94h1M104 96h1m75 0h1M62 98h1M44 100h1m21 0h1M90 102h1m17 0h2m6 0h1M112 104h2m8 0h1M54 106h1m7 0h1m7 0h1m41 0h1M60 108h1m9 0h1m37 0h1m11 0h1m11 0h1M64 110h1m11 0h1m43 0h1M94 112h1M108 114h1M52 116h2m20 0h1m27 0h2m26 0h1M52 118h1M84 120h1M66 122h1m25 0h1m33 0h1M28 124h2m72 0h1m17 0h1M50 126h1m63 0h1M42 128h1M30 132h1m43 0h1M80 134h1m21 0h1M24 136h1m37 0h1M60 138h1m33 0h1m5 0h1m19 0h1M66 142h1m17 0h1m27 0h1M112 144h1M52 146h1m31 0h1m35 0h1M98 148h1M60 150h1M46 152h1m13 0h1M48 154h1M46 156h1M50 158h1"/>
<path id="l12b" d="M174 11h1M144 29h1m33 0h1M142 31h1m35 0h1M174 33h1M140 35h1M178 37h1M148 43h1M142 45h1m21 0h1M152 47h1m5 0h1m11 0h1m19 0h1M156 49h1m15 0h1M130 51h1m5 0h1m31 0h1M92 55h1m37 0h1m35 0h1M128 57h1m9 0h1m17 0h1M144 59h2m10 0h1M124 61h1M54 63h1m85 0h1m5 0h1m5 0h1m11 0h1M160 65h1m31 0h1M104 67h1M198 69h1M128 71h1m15 0h1m33 0h1m19 0h1M50 73h1m135 0h1m9 0h1M138 75h1M56 77h1m41 0h3m25 0h1m13 0h1M52 79h1m69 0h1M166 81h1m9 0h1M106 83h1m41 0h1m29 0h1M126 85h1m21 0h2M48 87h1m59 0h1m55 0h1M102 89h1M102 93h1m3 0h1m11 0h1m5 0h1m13 0h1M44 95h1m5 0h1m61 0h1M70 97h1M88 99h3m7 0h1m27 0h1M42 101h1m23 0h1m1 0h1m21 0h1m21 0h1M60 103h1m29 0h1m17 0h1m11 0h1M118 105h2M132 107h1m37 0h1M118 109h1M46 111h1m61 0h1m9 0h1m1 0h1M76 115h1M98 117h1m51 0h1M58 119h1m37 0h1M42 123h1M50 125h1M50 131h1M30 133h1m11 0h1M36 135h1M96 137h1m1 0h1M54 143h1m7 0h1m33 0h1M46 145h1M116 147h1M34 149h1m65 0h1M40 151h1M46 155h1"/>
<path id="l12c" d="M167 10h1M173 12h1M157 14h1m23 0h1M173 16h1M165 18h1M157 22h1m9 0h1m9 0h1M157 32h1M177 34h1M131 36h1M125 40h1M169 44h1m13 0h1M127 46h1m25 0h1M137 48h1m23 0h1m27 0h1M167 50h1M89 54h1m51 0h1M137 56h1m19 0h1M119 58h1m49 0h1M133 60h1M131 64h1M143 66h1m5 0h1M147 70h1M61 72h1m61 0h1m7 0h1M121 74h1m31 0h1m33 0h2M155 76h1M61 78h1M55 80h1m139 0h1M119 82h1m5 0h1m21 0h1M111 84h1m39 0h1M133 86h1m13 0h1M47 88h1m93 0h2M131 90h1M115 92h1m9 0h1M99 94h1m11 0h1m1 0h1m9 0h1m57 0h1M115 96h1m15 0h1M105 100h1m7 0h1m3 0h1m41 0h1M49 102h1m59 0h1m3 0h1m11 0h1m9 0h1M93 104h1m9 0h1m9 0h1m3 0h1M61 106h2m30 0h1m33 0h1m7 0h1M85 108h1m7 0h1M91 110h1m3 0h1m13 0h1m3 0h1M63 112h1M121 114h1M53 116h1m49 0h1m9 0h1M89 118h1m37 0h1M41 120h1m63 0h1M75 122h1M29 124h1M79 130h1M73 132h2m6 0h1m9 0h1m9 0h1M87 134h1m13 0h2M93 136h1M31 138h1m5 0h1m49 0h1m25 0h1m27 0h1M35 142h1m47 0h2M47 144h1m69 0h1M47 146h1M53 148h1m19 0h1M43 156h1m1 0h2"/>
<path id="l12d" d="M147 15h1m21 0h1M183 17h1M141 25h1M181 27h1M185 31h1M149 35h1M133 39h1m3 0h1M125 41h1M133 43h1M133 45h1M143 47h1m43 0h1M125 51h1m23 0h1m1 0h1m21 0h1m17 0h1M145 53h1m7 0h1m3 0h1m1 0h1M149 55h1m9 0h1M151 57h1M145 59h1M131 61h1m29 0h1M99 65h1M53 67h1m45 0h1m3 0h2m4 0h1m7 0h1m21 0h1m9 0h1M151 69h1M95 71h1M189 73h1M113 75h1m19 0h1M99 77h2m30 0h1m23 0h1M51 79h2M117 81h1m1 0h1m5 0h1m5 0h1M95 85h1m11 0h1m41 0h1m17 0h1m27 0h1M55 87h1m49 0h1M97 91h1m19 0h1m67 0h1M63 93h1m119 0h1M69 97h2m58 0h1M85 99h1m3 0h2M51 101h1m55 0h1m15 0h1M47 103h1m63 0h1M55 105h1m57 0h1m1 0h1m1 0h3m7 0h1M45 107h1m81 0h1m1 0h1m45 0h1M47 109h1m73 0h1m1 0h1M91 111h1M19 113h1m61 0h1m43 0h1M103 115h1m21 0h1M97 117h2m12 0h1M75 121h1M75 123h1M27 125h1m87 0h1M65 129h1M103 131h1M41 135h1M61 137h1m15 0h1m29 0h1M95 139h1m41 0h1M53 141h1M35 145h1m7 0h1m41 0h1m27 0h1M29 147h1m31 0h1M69 149h1M59 151h1m1 0h1M43 153h1"/>
<path id="l13a" d="M184 18h1M138 26h1m41 0h1M138 30h1m17 0h1m29 0h1M188 32h1M156 40h1M134 44h1m15 0h1m37 0h1M158 48h1M142 50h1m47 0h1M112 52h1m5 0h1M162 54h1M136 56h1M104 60h1M160 62h1m1 0h1M104 64h1m17 0h1M146 66h1M106 68h1M104 70h1M114 72h1m73 0h1M142 76h1M136 78h1M146 80h1M64 82h1m131 0h1M112 84h1m29 0h2m8 0h1m23 0h1M98 86h1m1 0h1m5 0h1m17 0h2m42 0h1M8 88h1M64 90h1m47 0h1m17 0h1m47 0h1M116 92h1m53 0h1m3 0h1M74 94h1m35 0h1M48 96h1m1 0h1m15 0h1m43 0h1m67 0h1M122 98h1M106 100h1m15 0h1m9 0h1M110 102h1m1 0h1m13 0h1m7 0h1M124 106h1m3 0h1M102 108h1m47 0h1m19 0h1M126 110h1m25 0h1M54 114h1M168 116h1M52 120h1m17 0h1m9 0h1M128 122h1m29 0h1M70 124h1M84 126h1m25 0h1M62 128h1m29 0h1M34 130h1m41 0h2m10 0h1m23 0h1m29 0h1M54 132h1M90 134h1M22 136h1M98 138h1M60 140h1m67 0h1M94 142h1M54 144h1m9 0h1M54 146h1M44 148h1M30 150h1m7 0h1m31 0h1m11 0h1m11 0h1M72 152h1M42 154h2"/>
<path id="l13b" d="M176 13h1m5 0h1M148 17h1M178 19h1M158 23h1m25 0h1M188 27h1M138 31h1m13 0h1m3 0h2m6 0h1M180 35h1M128 39h1m1 0h1M172 43h1M156 45h1M126 47h1m35 0h1M162 51h1M90 53h2m22 0h1m27 0h1m19 0h1M140 55h1m9 0h1M110 59h1m21 0h1m33 0h1M164 61h2M100 63h1m37 0h1M58 67h1m139 0h1m1 0h1M108 69h1M118 71h1m11 0h1m21 0h1M120 73h1M60 77h1M54 79h1m45 0h1m71 0h1m1 0h1M142 81h1M108 83h1M166 87h1m3 0h1M170 89h1M114 91h1m67 0h1M170 93h1M128 95h1m51 0h1M118 97h1m1 0h1m45 0h1M80 99h1m19 0h1m11 0h2m8 0h1m43 0h1M62 101h1m47 0h1m15 0h1m7 0h1M52 103h1m63 0h1m7 0h2M62 105h1m33 0h1m29 0h1M90 107h1m17 0h1m9 0h1M68 109h1m7 0h1m15 0h1m29 0h1M50 111h1m63 0h1M20 113h1m85 0h1M60 115h1m11 0h1M62 117h1m19 0h1M54 119h1M26 121h1m47 0h1M38 123h1M148 125h1M66 127h1M96 129h1m11 0h1M58 131h1m31 0h1m61 0h1M40 133h1m41 0h1m5 0h1m9 0h1M30 135h2m22 0h1m57 0h1M54 139h1M82 141h1m53 0h1M38 143h1M102 145h1M48 149h1M34 151h1m35 0h1M70 153h1M40 155h1m13 0h1"/>
<path id="l13c" d="M165 12h1M167 14h1M179 16h1M161 24h1M163 28h1M137 38h1M171 40h1M135 46h1M141 48h1m9 0h1M111 50h1m41 0h1M107 52h1m21 0h1m13 0h1M93 54h1m33 0h1m11 0h1m9 0h1m1 0h1M119 56h1M145 58h1m13 0h1M127 60h1m11 0h1m17 0h1M145 62h1m19 0h1M121 66h1M131 68h1m63 0h1M129 70h1m23 0h1M137 74h1m45 0h1M63 76h1m53 0h1m29 0h1m37 0h1m13 0h1M59 78h1m33 0h1m21 0h1m1 0h1m17 0h2M127 80h1m13 0h1m47 0h1M63 82h2m38 0h1m85 0h1M143 84h1m29 0h1M125 86h1m45 0h1M107 88h1m21 0h1m13 0h1M175 90h1m9 0h1M121 94h1M97 98h1m31 0h1M79 100h1M87 102h1m9 0h1m73 0h1M109 104h1m21 0h1M131 106h1M89 108h1m17 0h1m23 0h1M105 112h1M73 114h1M51 116h1m13 0h1m55 0h1M59 120h1M61 124h1M27 126h1m129 0h1M123 128h1M77 130h1M75 132h1m1 0h1m35 0h1M39 134h1m67 0h1M45 136h1m13 0h1m25 0h1m13 0h1M25 138h1m31 0h1M37 140h1m11 0h1M29 142h1m81 0h1M105 144h1M39 148h1M37 150h2M33 154h1m9 0h1"/>
<path id="l13d" d="M185 15h1M167 21h1m15 0h1M173 27h1M171 29h1M157 31h1M189 33h1M153 35h1M157 37h1m5 0h1M141 39h1M171 45h1M133 47h1m11 0h1M159 49h1m5 0h1M107 51h1m45 0h1M91 53h1M127 55h1m9 0h1m31 0h1M139 57h1m15 0h1m9 0h1M159 59h1M129 61h1m35 0h1M161 63h1M55 65h1m105 0h1M137 69h1m5 0h1m11 0h1M49 71h1m3 0h1m67 0h1m65 0h1M187 73h1m3 0h1m5 0h1M125 75h1m11 0h1M115 77h1m33 0h1M53 79h2m76 0h1M107 83h2M101 87h1m37 0h1M141 89h1M101 91h1m31 0h1m3 0h1M111 93h1m9 0h1m15 0h1M51 95h1M111 97h1M51 99h1m61 0h1M131 101h1m39 0h1M69 103h1m43 0h1m1 0h2m8 0h1M41 105h1m7 0h1m83 0h1M15 107h1m109 0h1M85 109h1m15 0h1m7 0h1m17 0h1m7 0h1m37 0h1M73 111h1m23 0h1m3 0h1m3 0h1m1 0h1m59 0h1M109 115h1M115 117h1M91 119h1m3 0h1m5 0h1M65 121h1M63 123h1M121 125h1M79 127h1m75 0h1M27 129h1m19 0h1m105 0h1M57 131h2m84 0h1M85 133h1M31 135h1m21 0h2M23 137h1m41 0h1M39 139h1m23 0h1m41 0h1M33 143h1m11 0h1m15 0h1m23 0h1m15 0h1M57 147h1M93 149h1m17 0h1M43 155h1m3 0h1M47 159h1"/>
<path id="l14a" d="M178 10h1M172 16h1M178 20h1M176 24h2M186 32h1M172 34h1M184 36h1M188 40h1M150 42h1m41 0h1M136 44h1m35 0h1M126 46h1m37 0h1M148 48h1m21 0h1M148 50h1M134 54h1m5 0h1m5 0h1m5 0h1M140 56h1M118 58h1m9 0h1m23 0h1m3 0h1M146 60h1M138 64h1M196 68h1M52 70h2m60 0h1m15 0h1M200 72h1M60 74h1m97 0h1m33 0h2M48 80h1m71 0h1m11 0h1m35 0h1M106 82h1m75 0h1M188 86h1M106 88h1m15 0h2m12 0h1m7 0h1M8 90h1m119 0h1M112 92h1m1 0h1m5 0h1m11 0h1m1 0h1m49 0h3M116 94h1m11 0h1M58 96h1m55 0h1m9 0h1M112 98h1m7 0h1m3 0h2m54 0h1M114 100h1M124 102h1m7 0h1m41 0h1M92 104h1m27 0h2M162 106h1m5 0h1m7 0h1M136 108h1M94 110h1m15 0h1M48 112h1m27 0h2M20 114h1m37 0h2m50 0h1M110 116h1M24 118h1m75 0h1M56 122h1M84 124h1m41 0h1M52 128h1m13 0h1M82 130h1M46 132h1m23 0h1M78 134h1m59 0h1M56 136h1M84 138h1M140 140h1M26 142h1m7 0h1m101 0h1M34 144h1m41 0h1m3 0h1m49 0h1M44 146h1m13 0h1M28 148h1m13 0h1m13 0h1M56 150h1m19 0h1m35 0h1"/>
<path id="l14b" d="M182 15h1m1 0h1M140 23h1M186 29h1M182 31h1M172 35h1M190 37h1M186 43h1M124 45h1m9 0h1m1 0h2m28 0h1M132 47h1m55 0h1M128 49h1m13 0h1M156 51h1m3 0h1m9 0h1M118 53h1m47 0h1M90 55h2m14 0h1m1 0h1m33 0h1m9 0h1M134 57h1m11 0h1M124 59h1m27 0h1M140 61h1M124 63h1m31 0h1M138 65h1m13 0h1m5 0h1M56 67h1m89 0h1m1 0h1M152 69h1m5 0h1M48 71h1M52 73h2m52 0h1m25 0h1m3 0h2M62 75h1m61 0h1M48 77h1m67 0h1m5 0h1m67 0h1M118 79h1m7 0h1m3 0h1m1 0h1M50 81h1m13 0h1m65 0h1m1 0h1M126 83h1m69 0h1M100 85h1m23 0h1m29 0h1m17 0h1m15 0h1M118 87h1M104 89h1m23 0h1m11 0h1M110 91h1M88 95h1m33 0h1m9 0h1m1 0h1m29 0h1M52 97h1m3 0h1M180 99h1M66 103h1m7 0h1m55 0h1m43 0h1M56 105h1m13 0h1m51 0h1M86 107h2m18 0h1M54 109h1m3 0h1m11 0h1M50 113h1m21 0h1m15 0h1M116 115h1M76 123h1m17 0h1M152 129h1M102 133h1M42 135h2m60 0h1M26 137h1m9 0h1m31 0h1m15 0h1m59 0h1M94 139h1m17 0h1m27 0h2M32 141h1M102 143h1m3 0h1M76 145h1M42 149h1m49 0h1M56 151h1M36 153h1M52 157h1M46 159h1"/>
<path id="l14c" d="M171 18h1M177 24h1M171 26h1m13 0h1M191 34h1M121 42h1M117 52h1m43 0h1M149 58h1M117 60h1M193 64h1M99 66h1m3 0h1m43 0h1M119 68h1m17 0h1M53 70h1m59 0h2m36 0h1M187 72h1M51 74h1m141 0h1M105 76h1m13 0h1M55 78h1m119 0h1M151 80h1M149 82h1m25 0h1M191 84h1M103 88h1m1 0h2m16 0h1m9 0h1m41 0h1M103 90h1m7 0h1m3 0h1m61 0h1M105 92h1m11 0h1m67 0h2M165 94h1m13 0h1M125 98h1m7 0h1M67 100h1m43 0h1M13 102h1m117 0h2M91 104h2m28 0h1m13 0h1m41 0h1M97 106h1m27 0h1M57 108h1m51 0h1m11 0h1m3 0h1M67 110h1m29 0h1m19 0h1m39 0h1M51 112h1m13 0h1m11 0h1m37 0h1M59 114h1M89 116h1m19 0h2M93 118h1m73 0h1M51 120h1m5 0h1M89 124h1m57 0h1m11 0h1M65 126h1M31 128h1M57 130h1m39 0h1m11 0h1M97 132h1m53 0h1M93 134h1M107 136h1m37 0h1M65 138h1m27 0h1m15 0h1m9 0h1M41 140h1M103 142h1m27 0h1M95 144h1M33 146h1m83 0h1M59 150h1m55 0h1M67 154h1M43 158h1m5 0h1"/>
<path id="l14d" d="M145 17h1M159 19h1M175 21h1M139 27h1m35 0h1M165 29h1m7 0h1m15 0h1M181 35h1m3 0h1M135 37h1M163 43h1M127 45h1m9 0h1M153 47h1m37 0h1M147 49h1M139 51h1M131 53h1m7 0h1M91 55h1M127 61h1M49 63h1m81 0h1m21 0h1M115 67h1M201 69h1M147 71h1M53 73h1m45 0h1m37 0h1M99 75h1m7 0h1m11 0h1m61 0h1m7 0h1M185 77h1M47 79h1m61 0h1m79 0h1M187 81h1M103 83h1m17 0h1m25 0h1m25 0h1m3 0h1M123 87h1m41 0h1M97 89h1m39 0h1M113 91h1m13 0h1m11 0h1M67 97h1m23 0h1m21 0h1M97 99h1m11 0h1m17 0h1m5 0h1M13 101h1M53 103h1m31 0h1m13 0h1m65 0h1M15 105h1m37 0h1m77 0h1m45 0h1M87 107h1M75 109h1m3 0h1m27 0h1m63 0h1M111 115h1m11 0h1M79 121h1M67 123h1m25 0h2M29 125h1m1 0h1m1 0h1m39 0h1M91 127h1M95 129h1M93 131h1M29 133h1m51 0h1m5 0h1m61 0h1M37 135h1m5 0h1m31 0h1M41 137h1M81 139h1m15 0h1m43 0h1M47 141h1m45 0h1M59 143h1M47 145h1M39 147h1M99 151h1M57 155h1"/>
<path id="l15a" d="M164 8h1M160 10h1M176 12h1M170 18h1M168 20h1m1 0h1M174 26h1M134 28h1M152 30h1m23 0h1M142 32h1M174 34h1m13 0h1M136 36h1m45 0h1m3 0h1m1 0h1M186 42h1M126 44h1m3 0h1M148 46h1M124 50h1m9 0h1m25 0h1m31 0h1M142 52h1m9 0h1M90 54h1m35 0h1m1 0h1m13 0h1m13 0h1M134 56h1m25 0h1M128 60h1m3 0h1m11 0h1m21 0h1M108 62h1m35 0h1m11 0h1M112 64h1m53 0h1M114 66h1M168 68h1M54 70h1m5 0h1m135 0h1M108 72h1M98 76h1m21 0h1M126 78h1M54 80h1m51 0h1m9 0h2M62 84h1m41 0h1M108 86h1m3 0h1M110 88h1m49 0h1M118 90h1m1 0h2M10 92h1m89 0h1M50 94h1m67 0h1m5 0h1M12 96h1m99 0h1m5 0h1m9 0h1M92 98h1M92 100h1M58 102h1m7 0h1m63 0h1m47 0h1M14 104h1m59 0h1m53 0h2m4 0h1M108 106h1m9 0h1M56 108h1m9 0h2m20 0h1m15 0h1m17 0h1m5 0h1m45 0h1M62 110h1m7 0h1m57 0h1M18 112h1m33 0h1m119 0h1M50 114h2m10 0h1M96 118h1m21 0h1m47 0h1M164 120h1M36 122h1m27 0h1M64 124h1m25 0h1m31 0h1M68 126h1m13 0h1m73 0h1M152 130h1M112 132h1M148 134h1M104 136h1m39 0h1M22 138h1m89 0h1M26 140h1M62 144h1m69 0h1M56 146h1m61 0h1m3 0h2M116 148h1M28 150h1m5 0h1m81 0h1M42 152h1m27 0h1m31 0h1M34 154h1m1 0h1m23 0h1"/>
<path id="l15b" d="M158 9h1M170 17h1m11 0h1M186 19h1M174 21h1M172 31h1M162 37h1m21 0h1M156 39h1M118 41h1m1 0h2M130 43h2M162 45h1M154 47h1m9 0h1M152 49h1m7 0h1m1 0h1M92 53h2m56 0h1m1 0h1M106 57h1m45 0h1m5 0h1m1 0h1M130 59h1m17 0h1M120 63h1m37 0h1M142 65h1m3 0h1M120 69h1m27 0h1M108 71h1M60 73h1M58 75h1m43 0h1m11 0h1M150 77h1m5 0h1m37 0h1m3 0h1M52 81h1m3 0h1m47 0h1M58 83h1m61 0h1m9 0h1m3 0h1M192 87h1M100 89h1m21 0h1m67 0h1M10 91h1m101 0h1m15 0h2M114 93h2M76 95h1m31 0h1m7 0h1M62 97h1m101 0h1m15 0h1M12 99h1m95 0h1m5 0h1M76 101h1m37 0h1m9 0h1m39 0h1M178 103h1M100 105h1m19 0h1M54 107h1m67 0h1m1 0h1M100 109h1m3 0h1m23 0h1M66 111h1m7 0h1m53 0h1m43 0h1M62 113h1m11 0h1M50 115h1m61 0h1M22 117h1m27 0h1M128 119h1m27 0h1M156 121h2M36 123h1M106 125h1m51 0h1M84 127h1M56 129h1m97 0h1M46 133h2m98 0h1M74 135h1M24 139h1m91 0h1M50 141h1m67 0h1M104 143h1M30 145h1m29 0h1M56 149h1m33 0h1m25 0h1M88 151h1m11 0h1m5 0h1M64 155h1M42 157h1m7 0h1M44 159h1"/>
<path id="l15c" d="M147 18h1m21 0h2M169 22h1M147 26h1m1 0h1m29 0h1M169 28h1m5 0h1M185 30h1M173 34h2M119 42h1M135 44h1m51 0h1M155 46h1m7 0h1M129 48h1M159 50h2m26 0h1M167 52h1M161 54h1M133 56h2m16 0h1m7 0h2M113 58h1m13 0h1M135 60h1M131 62h1m27 0h1M161 64h1M133 66h1M129 68h1m11 0h1m55 0h1M131 70h1M115 72h1m83 0h1M125 76h1m11 0h1M101 78h1m37 0h1M109 80h1m7 0h1m1 0h1M147 84h1m1 0h1m17 0h1M121 86h1m13 0h1m43 0h1m15 0h1M7 88h1m55 0h1m73 0h1m53 0h1M107 90h1m13 0h1m7 0h1M111 92h1m11 0h1m43 0h1m15 0h1M11 94h1m163 0h1M11 96h2m44 0h1m1 0h1m61 0h1m43 0h1m5 0h1M65 98h1m1 0h1m3 0h1m1 0h1M123 100h1m1 0h1m7 0h1M129 104h1m3 0h2m26 0h1M71 106h1m19 0h1m83 0h1M67 108h1m15 0h1m13 0h1M59 110h1m67 0h2m44 0h1M113 112h1m11 0h1m41 0h1M51 114h1m61 0h1M111 116h1m37 0h1m19 0h1M23 118h1m85 0h1M25 120h1m53 0h1m83 0h2M39 124h1m63 0h1M61 128h1m89 0h1M27 132h1m19 0h1M41 134h1m89 0h1M43 136h1m47 0h1m17 0h1m5 0h1M85 138h1m15 0h1m41 0h1M33 140h1m5 0h1m31 0h1m23 0h1m17 0h1M53 144h1m47 0h1m11 0h1M63 146h1m59 0h1m3 0h1M31 150h1m7 0h1m11 0h1m11 0h1m15 0h1m13 0h1m19 0h1M33 152h1m35 0h2M29 154h1m23 0h1M39 156h1"/>
<path id="l15d" d="M161 9h1m5 0h1M153 13h1M145 19h1M143 33h1M139 39h1M121 41h1m37 0h1M121 43h1m9 0h1M143 45h1m11 0h1M129 49h1m25 0h1m1 0h1M141 51h1m5 0h1m37 0h1M93 53h1m17 0h1m43 0h1m9 0h1M119 61h1m25 0h1m3 0h1M149 65h1M49 67h1M57 69h1m73 0h1M159 75h1m13 0h1m25 0h1M47 77h1m11 0h1m73 0h1M123 79h1m3 0h1m11 0h1m33 0h1M107 81h1m89 0h1M167 83h1M99 87h1m31 0h1M107 89h1m27 0h1M115 91h1m13 0h1M115 93h1M11 95h1m87 0h1m31 0h1m51 0h1M117 97h1M105 99h1M123 103h1m7 0h1M91 105h1M97 107h1m9 0h1M17 109h1m37 0h1m11 0h1M77 111h1m75 0h1M115 113h1m5 0h1m1 0h1M63 115h1m51 0h1m33 0h1M85 119h1M157 121h1m3 0h1M27 123h1m15 0h1M39 125h1M89 129h1M33 131h1m117 0h1M47 133h1M109 135h1m35 0h1M37 137h1m17 0h1m31 0h1m3 0h1m19 0h1M41 139h1m65 0h1m7 0h2M107 141h1M113 143h1m19 0h1M55 145h1m67 0h1M125 147h1M89 149h2m16 0h1m1 0h1M87 151h2M39 157h1"/>
<path id="l16a" d="M152 16h1m25 0h1M180 18h1M168 22h1M178 24h1M172 30h1M182 34h1M190 36h1M142 38h1M142 40h1M168 44h1M134 46h1m21 0h1M180 48h1M170 50h1M188 52h1M92 54h1m75 0h1M150 56h1M114 58h1m9 0h1m5 0h1m7 0h1M150 62h1M198 64h1M52 66h1m3 0h1m43 0h1M108 68h1m17 0h1m5 0h1m11 0h1M58 70h1m37 0h1m39 0h1m15 0h1m45 0h1M186 72h1M118 76h1m3 0h1M120 78h1M112 80h1m5 0h1m3 0h1m29 0h1m21 0h1M110 82h1m7 0h1m3 0h1m63 0h1M130 84h1m63 0h1M114 86h1m75 0h1m3 0h1M96 88h1m67 0h1M132 90h1M98 92h1m19 0h1M102 94h1m19 0h1m7 0h1M100 96h1m1 0h1M70 98h1M126 100h1M52 102h1M48 104h1m83 0h1m33 0h1M98 106h1M16 108h1m29 0h1m17 0h1m33 0h1m15 0h1M86 110h1m31 0h1m47 0h1M62 112h1m23 0h1m37 0h1M112 114h1M22 116h1M54 118h1M26 120h1m47 0h1m77 0h1m3 0h1M28 122h1m77 0h1M30 124h1m69 0h2M86 126h1M58 128h1m17 0h1m75 0h1m1 0h1M46 130h1m43 0h1M94 132h1m55 0h1M96 134h1m13 0h1m3 0h1m31 0h1M114 136h1M66 138h1m25 0h1m17 0h2M138 140h1M32 142h2m62 0h1M58 144h1M28 146h1m17 0h1m79 0h1m1 0h1M40 148h1m17 0h1m1 0h1M36 150h1m21 0h1m15 0h2m2 0h1m7 0h1m9 0h2m8 0h1m7 0h1M54 152h1m49 0h2M62 154h1m7 0h1M52 156h1M42 158h1"/>
<path id="l16b" d="M164 9h1M146 15h1M186 21h1M180 25h1M184 27h1m1 0h1M152 29h1m21 0h2M158 31h1M142 33h1M138 37h1m43 0h1M140 39h1m7 0h1m41 0h1M188 41h1M128 43h2m20 0h1M122 45h1m21 0h1m3 0h1M140 47h1m15 0h1M136 49h1m7 0h1m9 0h1m33 0h1M120 51h1m37 0h1M130 53h1m29 0h1M168 55h1M114 57h1m5 0h1m43 0h1M128 59h1M134 61h1m3 0h1m5 0h1M126 63h1m33 0h1M130 65h1m17 0h1M142 67h1m59 0h1M58 69h1m47 0h1m37 0h1m55 0h1M124 71h1m13 0h1M192 75h1M50 77h1m51 0h1M60 79h1m55 0h1m23 0h1M106 81h1m11 0h1m51 0h1m19 0h1M118 83h2m32 0h1M132 85h1M98 87h1m5 0h1m9 0h1m43 0h1M8 89h1m97 0h1m9 0h1m13 0h1M10 93h1m109 0h1M114 95h1m59 0h1m7 0h1M12 97h1m169 0h1M106 99h1M60 101h1m45 0h1m73 0h1M58 103h1m25 0h1m1 0h1m25 0h1m9 0h1m5 0h1M46 105h1m5 0h1m61 0h1m61 0h1M82 107h1m11 0h1M86 109h1m37 0h3m37 0h1m9 0h1M18 111h1m77 0h1M110 113h1m11 0h1M90 115h1m19 0h1M168 117h1M120 119h1m43 0h2M32 121h1m73 0h1m55 0h2M62 123h1M62 127h1m27 0h1m59 0h2M64 129h1m77 0h1M32 131h1m75 0h1M78 133h1m21 0h1m47 0h1M102 135h1M94 137h2M32 139h1m77 0h1M92 141h1m45 0h1M48 143h1m11 0h1M28 145h2M56 147h1m67 0h1M28 149h1m7 0h1M36 151h1m21 0h1M56 155h1m5 0h1M40 157h1M48 159h1"/>
<path id="l16c" d="M173 14h1M159 18h1M163 26h1m19 0h1M135 28h1M165 30h1m5 0h2M157 36h1M147 46h1m17 0h1m3 0h1M121 48h1m31 0h1M161 50h1M141 52h1M127 56h1m17 0h1m9 0h1M137 58h2M119 60h1m25 0h1M107 64h1m45 0h1m47 0h1M193 70h1M49 72h1M47 74h1m5 0h1m3 0h1m51 0h1m79 0h1M55 76h1m5 0h1m45 0h1m13 0h2m4 0h1m65 0h1M197 80h1M117 82h2m8 0h1m1 0h1m47 0h1M113 84h1m11 0h1m61 0h1M99 86h1m1 0h1m21 0h1m41 0h1M99 88h1m9 0h1m21 0h1m39 0h1M123 90h1M117 94h1m15 0h1m49 0h1M129 96h1M93 98h1M65 102h1m113 0h1M15 104h1m49 0h1m61 0h1M15 106h1M71 108h1m55 0h1m21 0h1m25 0h1M17 110h1m103 0h1m43 0h2M19 112h1m55 0h1m15 0h1m29 0h1M77 114h1m27 0h1m3 0h1m15 0h1M21 116h2M69 122h1M101 124h1M45 126h1M141 128h1M27 130h1m71 0h1M91 134h1M37 136h1m87 0h1M27 138h1m51 0h1m15 0h1m15 0h1M59 140h1m15 0h1m15 0h1m11 0h1M25 142h1m7 0h1m101 0h1M27 144h1m95 0h1M67 146h1m51 0h1M55 148h1M75 150h1m1 0h2m2 0h1m1 0h1m5 0h1m7 0h1m1 0h1M43 152h1m13 0h1m47 0h1M35 154h1"/>
<path id="l16d" d="M179 25h2M135 27h1M175 29h1M127 35h1M185 37h1M129 43h1M147 45h2m14 0h1m3 0h1M161 47h1m3 0h1M163 49h1m7 0h1M167 51h1m3 0h1M133 53h1m13 0h1m3 0h1M117 55h1m15 0h1m7 0h1m25 0h2M167 57h1M109 59h1M111 61h1m21 0h2M147 63h1m1 0h1m9 0h2M105 65h1M129 71h1m1 0h1m63 0h1M123 73h1M51 75h1m75 0h1M63 77h1m129 0h1M63 79h1m111 0h1m17 0h1M59 81h1m63 0h1M63 83h1m55 0h1m9 0h1m1 0h1M105 89h2m82 0h1M119 91h1m1 0h1m65 0h1M99 93h1m13 0h1m5 0h2m46 0h1M121 95h1M51 97h1m49 0h1m5 0h1m73 0h2M55 99h1m27 0h1M67 101h1m43 0h1m1 0h1m59 0h1M71 103h1m3 0h1m59 0h1M89 105h1m35 0h1m35 0h1M43 107h1m47 0h1m17 0h1M125 109h2m24 0h1M173 111h1M171 113h1M21 115h1m29 0h1m117 0h1M153 117h1m13 0h2M125 119h1m29 0h1m9 0h1M163 121h1M159 123h1M149 125h1M27 127h1m123 0h1M81 129h1m21 0h1M39 133h1M95 137h1M27 139h1m37 0h1m19 0h1M25 141h1m13 0h1M29 145h1M89 151h1m11 0h1M29 153h1m5 0h1m21 0h1m11 0h1M39 155h1m13 0h1M45 159h1"/>
<path id="l17a" d="M174 12h2M170 16h1M174 20h1M158 26h2M184 28h1M144 30h1M136 32h1m7 0h1M116 44h1M160 46h2M192 48h1M118 50h1m37 0h2M138 54h1M116 56h1M146 58h1M50 62h1M54 64h1m87 0h1M50 66h1m59 0h1m91 0h1M142 68h2m2 0h1m1 0h1M48 72h1m55 0h1m91 0h1M138 74h1M124 76h1m57 0h1M112 78h1m19 0h1m41 0h1M60 80h1m109 0h1m17 0h1M50 82h1m9 0h1m65 0h1m5 0h1m59 0h1M94 84h1m25 0h1m67 0h2m6 0h1M156 86h2m4 0h1M94 88h1m25 0h1m11 0h1m57 0h1M94 90h1m31 0h1M136 92h1M10 94h1M56 96h1m19 0h1M12 98h1m93 0h1m61 0h1M54 100h1m55 0h1M56 102h1m3 0h1M50 108h1m35 0h1m3 0h1m33 0h1m39 0h1M58 112h1m1 0h1m31 0h1m17 0h2m10 0h1M170 114h2M66 116h1m85 0h1M22 118h1M68 120h1M60 124h1m21 0h1m75 0h1M62 126h1M34 132h1m69 0h1M26 134h2M78 138h1m39 0h1m15 0h1M24 140h1m69 0h1m13 0h1M28 144h1m65 0h1M68 146h1M42 150h1m41 0h1"/>
<path id="l17b" d="M168 13h1M180 19h1m3 0h1M168 27h2m8 0h1M146 29h1m41 0h1M144 31h1m35 0h1M192 35h1M158 37h1m1 0h1M190 41h1M162 43h1m5 0h1M146 47h1M146 51h1m1 0h1M146 53h1M148 55h1M168 57h1M112 61h1M48 63h1M128 65h1m7 0h1M134 69h1m11 0h1m49 0h1M54 71h1m57 0h1M112 73h1m5 0h1m57 0h1M184 77h1m1 0h1M120 79h1m71 0h1m5 0h1M182 81h1m5 0h1M60 83h1m125 0h1M94 85h1m17 0h1m83 0h1M100 87h1m11 0h1m9 0h1m11 0h1M96 89h1m17 0h2m72 0h1M100 91h1m23 0h1m9 0h1m51 0h1M184 93h1M104 95h1M68 97h1m41 0h1M130 101h1M92 103h1m13 0h1M130 105h1M64 107h1m61 0h1M98 109h1M48 113h1m75 0h1M170 115h1M24 119h2m140 0h1M64 121h1M160 123h1M156 127h1M94 129h1M136 131h1M34 133h1m103 0h1M86 135h1m23 0h1M22 137h1m9 0h2M100 139h1m27 0h1M94 141h1M32 143h1m99 0h1M42 145h1M28 147h1M108 149h1m1 0h1m1 0h1M28 151h1m1 0h1m7 0h1m11 0h1m35 0h1M28 153h1M38 155h1m3 0h1m15 0h1"/>
<path id="l17c" d="M175 12h1M153 14h1M181 16h1M143 18h1m37 0h1M173 20h2M159 26h1M181 28h1M157 38h1M163 42h1M157 46h1m3 0h1m5 0h1M155 48h1M129 50h1m27 0h1M165 52h1M133 54h1m29 0h1m3 0h1M153 56h1M167 58h1M113 60h1m9 0h1M103 62h1m7 0h1M111 64h1m25 0h1m57 0h1m3 0h1M107 66h1m7 0h1M49 68h1m93 0h1m1 0h2M59 72h1m35 0h1M97 74h1m1 0h1m7 0h1m15 0h1m75 0h1M123 78h1M169 80h2m2 0h1M49 82h2m72 0h1m7 0h2M185 84h1m3 0h1M113 86h1m23 0h1m19 0h1m35 0h1M115 88h1m49 0h1M9 90h1m173 0h1m3 0h1M107 96h1m25 0h1M47 98h1m15 0h1m55 0h1M13 100h1m61 0h1M123 102h1M61 104h1m11 0h1M123 108h2M111 110h1M95 112h1m15 0h1M171 114h1M53 118h1m67 0h1M31 122h1m23 0h1m71 0h1m29 0h1m3 0h1M33 124h1M27 128h1m63 0h1M153 130h1M27 134h1m49 0h1M23 136h1m3 0h1M91 138h1m13 0h1M99 140h1m39 0h1M85 142h1M33 144h1m5 0h1m91 0h1M51 146h1m3 0h1M37 148h1m13 0h1m17 0h1M73 150h1m21 0h1M29 152h1m23 0h1m7 0h1m9 0h1m31 0h1M61 154h1m3 0h1"/>
<path id="l17d" d="M165 7h1M147 19h1m27 0h1M169 21h1M153 27h1m15 0h1M169 29h1m11 0h1M153 31h1m19 0h1M137 33h1M187 37h1M191 39h1M155 47h1M149 49h1m11 0h1M119 51h1M119 53h1m41 0h1M115 57h1M113 63h1m27 0h1m15 0h1M49 65h1m3 0h1m61 0h1M131 67h1m13 0h1m1 0h1m47 0h1M145 69h2m40 0h1m11 0h1M137 71h1m59 0h1m1 0h1M127 73h1M59 75h1m135 0h1M61 77h1m49 0h1m9 0h1m77 0h1M113 79h1m5 0h2m8 0h1M191 81h1M97 83h1m1 0h1m23 0h1M7 87h1m165 0h1M115 89h1m5 0h1m55 0h1M113 95h1M53 97h1M13 99h1m85 0h1m19 0h1M177 103h1M101 105h1m33 0h1M67 107h1m37 0h1m63 0h1M83 111h1m9 0h1m17 0h1m1 0h1m9 0h1M155 113h1M55 115h1m13 0h1m43 0h1M53 117h1M25 119h1M39 123h1M157 125h1M85 127h1M33 129h1M27 131h1M27 133h1M81 135h1M33 137h1m17 0h1m91 0h1M23 139h1m67 0h1m17 0h1m17 0h2M33 141h1M27 143h1m67 0h1M63 145h1m7 0h1m57 0h1M59 149h1M27 151h2m4 0h1m49 0h1M71 153h1M45 155h1m17 0h1M41 157h1m9 0h1M43 159h1"/>
<path id="l18a" d="M182 14h1M182 18h1M172 22h1m11 0h1M172 24h1M164 26h1M176 32h1M140 34h2M192 38h1M120 40h1m25 0h1m43 0h1M166 44h1M116 46h1M122 56h1m5 0h1m23 0h1m1 0h1M106 60h1M124 64h1m7 0h1m19 0h1m49 0h1M200 66h2M50 70h1m149 0h1M128 72h1M128 74h1m49 0h1M186 76h1M60 78h1m137 0h1M126 80h1m71 0h1M112 82h1m15 0h1m5 0h1m3 0h1M122 84h1m55 0h1M100 88h2m70 0h2m2 0h1M108 96h1m55 0h1M52 98h1m11 0h1M78 100h1m49 0h1m51 0h1M14 102h1m113 0h2M50 104h1m35 0h1M92 106h1m1 0h1M54 108h1M154 112h1M112 116h1M154 118h1M64 120h1M54 122h1M38 124h1M150 126h1M74 130h1M32 132h1m67 0h1M96 136h1m15 0h1M96 138h1M40 140h1m65 0h1M28 142h1m13 0h1m3 0h2M68 144h1m33 0h1M30 148h1M80 150h1M28 152h1m77 0h1M68 154h2"/>
<path id="l18b" d="M170 13h1M142 19h1M188 25h1M168 29h1m13 0h1M186 31h1M186 33h1M184 35h1M158 39h1M160 43h1M128 47h1m5 0h1M158 49h1M114 51h1m27 0h1m9 0h1m35 0h1M164 53h1M108 59h1m3 0h2M132 61h1M110 63h1m31 0h1M122 65h1m71 0h1m7 0h1M106 67h1m7 0h1M162 69h1M100 75h1m89 0h1M54 77h1m63 0h1M50 79h1m7 0h1M102 81h1m23 0h1M114 85h1m5 0h1m29 0h1M106 87h1M176 89h1M106 91h1m13 0h1m63 0h1M182 93h1M84 95h1m17 0h1M58 97h1m49 0h2M74 99h1m35 0h1M54 101h1m77 0h1M134 103h1M60 105h1M60 107h1m5 0h1M94 109h1m11 0h1m1 0h1M102 111h1m19 0h1m1 0h2M112 113h1M70 115h1m7 0h1M54 117h1m99 0h1M76 121h1M48 123h1M34 125h1M80 127h1M38 133h1M22 135h1m3 0h1m119 0h1M66 137h1m19 0h1m15 0h1m9 0h1M104 141h1M30 143h1m37 0h1m65 0h1M68 145h1m59 0h1M66 147h1m59 0h1M54 149h1M102 151h1M48 153h1M52 155h1"/>
<path id="l18c" d="M165 8h1M145 16h1m37 0h1M175 22h1m3 0h1M169 26h1m5 0h1M137 32h1m35 0h1M137 34h1m3 0h1M143 38h1M171 44h1M135 48h1M119 54h1M125 58h1M149 60h1M133 62h1M197 64h1M105 66h1m93 0h3M175 72h1m17 0h1m1 0h1M117 74h1M113 78h1m13 0h1M61 82h1m45 0h1m65 0h1m11 0h1M97 84h1m21 0h1m11 0h1m1 0h1M109 86h1m57 0h1m19 0h1m1 0h1M101 88h1m37 0h1m33 0h1M125 90h1M135 92h1m29 0h1m7 0h1M113 96h1m5 0h1M69 100h1M51 102h1m1 0h1m21 0h1m53 0h1m3 0h1M49 104h2m6 0h1M49 106h1m13 0h1m45 0h1m59 0h1M65 108h1m25 0h1m13 0h1m45 0h1M79 110h1m43 0h1m1 0h1M89 112h1m81 0h1M161 114h1M55 116h1m97 0h1m9 0h1M119 118h1M37 122h1m77 0h1M85 126h1M31 130h1M31 132h2m2 0h1M23 134h1m57 0h1M127 138h1M77 140h1M47 142h1m23 0h1M41 144h1m3 0h1m9 0h1m3 0h1M45 146h1M61 148h1M27 150h1m5 0h1m15 0h1M55 154h1m13 0h1"/>
<path id="l18d" d="M145 15h1M135 23h1M163 25h1M145 27h1M177 29h1M189 35h1M155 37h1M119 41h1M119 47h1M127 49h1m41 0h1M111 51h1m45 0h1M113 53h1m55 0h1M111 55h1m41 0h1M113 59h1M107 63h1m31 0h1M125 67h1M147 69h1M123 71h1M103 73h1m7 0h1M121 75h1M49 77h1m1 0h1m1 0h2M191 79h1M101 81h2m8 0h1m9 0h1M65 83h1m129 0h1M111 85h1m1 0h2m10 0h1M109 87h1m51 0h1m5 0h1m1 0h1M117 89h1M93 91h1m41 0h1M133 93h1m31 0h1M101 95h2m20 0h1M109 97h1m9 0h1M45 99h1m15 0h1M59 101h1M55 103h1m77 0h2M65 105h1m55 0h1M55 107h1m79 0h1M83 109h1M121 111h2m2 0h1M49 113h1m25 0h1M77 115h2M59 121h1M53 125h1M93 129h1m47 0h1M75 131h1m5 0h1m27 0h1M57 139h1M103 141h2M41 143h1m7 0h1m3 0h1M65 145h1M33 147h1m89 0h1M91 149h1M47 151h1M33 153h1m19 0h1M55 155h1"/>
<path id="l19a" d="M154 10h1M136 22h1m3 0h1m15 0h1m19 0h1m3 0h1M170 24h1m3 0h1m5 0h1M138 28h1M180 32h1M162 34h1M154 44h1M154 50h1m11 0h1M160 52h1M108 58h1M136 62h1M196 64h1M162 68h1M124 70h1M116 72h1m1 0h1M102 76h1M102 80h2m86 0h1M108 82h1m11 0h1M50 84h1m13 0h1m49 0h1M118 86h2m2 0h1M108 88h1m5 0h1m1 0h1m23 0h1M106 90h1m7 0h1M124 92h1M134 94h1M182 96h1M108 98h1M68 100h1m29 0h1M76 102h1m7 0h1M68 108h1M18 110h1M114 112h1M74 122h1M72 124h1M90 132h1M24 134h1m69 0h1M28 136h1m7 0h1m63 0h2M142 138h1M40 142h1M56 144h1m3 0h1M50 146h1M50 148h1m11 0h1M98 150h1M68 152h1M58 154h1m7 0h1"/>
<path id="l19b" d="M162 7h1M174 9h2M152 13h1M156 21h1M172 25h1M174 27h1M164 29h1m11 0h1M166 31h1M188 33h1M170 35h1M188 37h1M156 41h1M142 47h1M168 49h1m1 0h1M166 51h1M138 53h1M126 61h1M144 63h1M104 65h1m21 0h1M122 69h1M120 71h1m13 0h1m65 0h1M114 73h1m73 0h1M110 75h1m5 0h1m1 0h1m3 0h1m71 0h1M104 79h1m7 0h1m1 0h1m75 0h1M100 81h1m7 0h1M98 83h1m13 0h1m15 0h1M6 87h1m113 0h1m39 0h1m1 0h1m5 0h1m19 0h1M124 89h1M94 91h1m21 0h1m5 0h1M116 93h2M132 97h1M172 99h1M56 101h1m17 0h1m23 0h1M14 103h1m39 0h1m77 0h1M44 107h1M52 111h1m57 0h1M58 113h1m55 0h1M104 115h2m56 0h1M44 127h1M58 129h1M36 131h1M84 133h1m5 0h1m39 0h1M60 137h1m15 0h1m29 0h1M28 139h1M110 141h1M28 143h1m7 0h1M42 147h1m15 0h1M30 149h1m19 0h1m7 0h1M60 151h1M34 153h1"/>
<path id="l19c" d="M149 12h1M177 20h1M139 22h2M151 28h1M171 32h1m5 0h1M127 44h1M127 48h1M125 50h1M133 52h1m11 0h1m13 0h2M91 54h1m55 0h1M121 64h1m1 0h1m25 0h1M51 66h1m1 0h1m71 0h1m19 0h1M201 68h1M105 70h1m15 0h1M107 72h1m13 0h1M191 74h1M49 78h1m55 0h1m79 0h1M103 80h1m9 0h1m7 0h1M191 82h1M121 84h1m1 0h1M39 86h1m71 0h1m7 0h1M33 88h1m61 0h1m25 0h1m13 0h1m31 0h1M101 92h1m29 0h1M101 94h1M117 96h1M101 98h1M67 102h1M59 104h1m3 0h1M17 108h1m31 0h1M63 110h1M87 112h1m35 0h1M21 114h1m35 0h1M97 118h1m57 0h1M27 120h1M27 122h1M155 128h1M103 130h1M103 132h1M139 134h1M35 136h2m64 0h1M99 138h1M121 146h1M57 148h1M35 150h1"/>
<path id="l19d" d="M171 9h1m3 0h1M183 11h1M173 13h1M143 17h1M183 19h1M173 21h1M169 23h1m7 0h1m1 0h1M145 29h1M187 33h2M181 37h1M129 39h1M171 43h1M141 47h2M113 49h1M161 51h1M141 53h1M155 59h1M113 61h1m29 0h1M103 63h1m33 0h1m5 0h2M109 65h1m15 0h2m66 0h1m1 0h1M201 67h1M51 69h1m53 0h1M51 71h1m53 0h1m83 0h1m3 0h1M57 73h1m71 0h1M49 75h1m53 0h1M101 77h1m21 0h1m59 0h1M101 79h1M61 81h1m65 0h1M111 83h2M121 85h1m1 0h1M103 87h1m3 0h1m3 0h1m45 0h1m13 0h1m21 0h1M39 89h1m63 0h1m15 0h1m45 0h1M89 91h1M117 93h1m13 0h1m53 0h1M109 95h1m5 0h1m49 0h1m13 0h1M47 99h1m9 0h1m15 0h1M69 101h1m109 0h1M127 103h1M61 105h1M49 107h1m73 0h1M113 109h1M111 113h1M71 115h1m19 0h1m13 0h1M73 119h1M35 129h1m43 0h1M35 131h2m26 0h1M103 133h1M85 137h1m15 0h1M25 139h1M113 141h1m23 0h1M105 143h1M39 145h1m17 0h1M67 147h1M45 149h1m7 0h1M29 151h1m11 0h1m15 0h1m13 0h1"/>
<path id="l20a" d="M158 8h1m9 0h1M148 12h1m35 0h1M146 14h1M144 16h1M178 18h1M178 22h1m3 0h2M134 24h1M160 26h1m7 0h1m9 0h1M130 30h2m38 0h1m7 0h3M168 32h1M142 34h1M138 36h1M182 42h1M140 48h1M134 52h1m23 0h1m7 0h1M158 58h1M108 60h1M124 62h1m13 0h1M56 68h1M112 72h1m9 0h1m11 0h1M100 74h1m21 0h1M56 76h1m59 0h1m9 0h1M104 78h1M16 80h1m45 0h1m47 0h1M48 82h1m51 0h1m15 0h1m53 0h1M16 84h1m81 0h1M54 86h2m54 0h1m25 0h1M34 88h1m67 0h1m9 0h1m53 0h1m25 0h1M74 90h1m95 0h1M78 96h1m19 0h1M100 98h1m31 0h1M56 104h1m51 0h1m17 0h1M60 106h1m5 0h1M96 108h1m9 0h1m19 0h1M74 112h1m15 0h1M78 114h1m43 0h1M64 118h1M36 128h1M102 136h1M32 138h2M34 140h1m33 0h1m41 0h3m1 0h1M48 142h1M34 146h1m7 0h1m73 0h1m7 0h1M48 148h1M52 150h2M34 152h1"/>
<path id="l20b" d="M168 9h3m5 0h1m5 0h1M170 23h2M176 25h1M150 27h1M136 31h1M138 35h1m49 0h1M168 45h1m19 0h1M160 47h1m31 0h1M118 59h1M112 63h1M100 65h1M124 67h1M52 69h1M104 71h1m9 0h1m7 0h1M98 73h1m17 0h1M48 79h1M48 81h1m13 0h1m51 0h1m5 0h1m1 0h1m5 0h2M64 83h1m127 0h1M96 85h1m25 0h1M72 87h1m23 0h1m13 0h1m61 0h1M118 89h1m59 0h1m1 0h1M74 91h1M110 93h1m21 0h1M82 97h1m11 0h1M70 99h1M44 101h1m13 0h1M108 105h1M66 109h1M124 115h1M120 117h1M28 123h1M72 125h1M30 129h1M46 131h1M30 137h1M26 139h1m21 0h2m18 0h1m37 0h1M108 141h2M50 143h1M50 145h1m11 0h1m1 0h1M44 147h1m23 0h1M52 149h1M54 153h1"/>
<path id="l20c" d="M171 10h1M145 14h2m22 0h1M185 18h1M181 22h3M173 24h1M131 26h1M131 28h1m57 0h1M131 30h1m47 0h2M185 32h1M183 36h1m1 0h1M139 38h1M141 40h1M151 42h1M143 48h1M111 52h1M119 62h1m23 0h1M53 64h1m79 0h1m5 0h1m5 0h1M195 70h1m1 0h1m1 0h1M51 72h1m137 0h1M123 76h1M189 78h1M47 82h2m8 0h1M63 84h1M55 86h1m61 0h1M31 88h1m65 0h1m13 0h2m4 0h1m7 0h1M113 90h1m49 0h1m1 0h1M95 92h1m13 0h1M119 94h1M69 96h1M109 98h1m57 0h1M61 100h1m111 0h1M59 102h1m45 0h1m21 0h1M53 104h1m53 0h2M65 106h2M55 108h1m63 0h1M51 110h1M75 124h1M81 130h1M103 134h1M29 138h1m3 0h1m33 0h1m39 0h1M109 140h4M37 142h1M41 148h1M41 150h1m11 0h1"/>
<path id="l20d" d="M155 9h1m13 0h2M147 13h1M171 23h1M161 25h1M133 29h1M163 33h1m11 0h1M161 37h1M149 45h1M143 49h1M159 51h1M139 55h1M139 61h1M121 65h1m5 0h1M121 69h1m1 0h1M115 73h2m4 0h1m11 0h1m61 0h1M117 77h1m9 0h1M103 79h1m1 0h1M51 81h1m3 0h1m57 0h2m14 0h1m39 0h1M45 83h1m15 0h1m5 0h1m45 0h1m71 0h1m1 0h1m9 0h1M115 87h1m5 0h1m41 0h1m25 0h1M111 91h1m11 0h1m59 0h1M109 93h2M75 99h1m25 0h1M63 103h1m65 0h1M95 105h1M71 107h1m47 0h1M51 109h1m11 0h1m33 0h1m17 0h1M51 113h1m5 0h1M27 121h1m79 0h1M115 123h1M67 135h1m23 0h1m19 0h1M115 137h1M29 139h1m7 0h1m11 0h1m17 0h2M109 141h1m7 0h1M67 145h1m1 0h1M41 147h1M35 149h1m11 0h1M43 151h1"/>
<path id="l21a" d="M156 8h2m4 0h1M150 12h2M168 14h1M182 16h1M182 20h1M174 22h1M184 26h1M134 30h1M186 44h1M154 46h1M160 48h1M130 52h1m15 0h1M134 60h1M140 62h2M110 64h1M126 66h1M52 68h1M108 70h1m11 0h1M194 72h1M112 74h1m3 0h1m1 0h1M112 76h4m16 0h1M122 78h1m65 0h1M114 80h2m12 0h1M16 82h1m35 0h1m61 0h1M42 84h1m75 0h1M40 86h1m15 0h1m59 0h1m3 0h1M32 88h1m3 0h1m131 0h2m4 0h1M124 90h1m63 0h1M88 92h2m4 0h1M86 94h1M82 96h1M80 98h1M72 104h1M50 106h1M60 114h1m15 0h1M98 118h2M76 124h1M102 132h1M40 134h1m41 0h1M26 136h1M106 138h1M36 140h1m61 0h1M40 146h1M56 152h1"/>
<path id="l21b" d="M156 9h1m23 0h1M146 13h1M144 15h1m25 0h1M140 19h2m40 0h1M134 23h1m43 0h1m1 0h1M132 25h1m41 0h2M170 29h1M176 31h2M164 33h1M178 43h2M132 51h1M132 53h1m1 0h2M142 61h1M132 63h1M52 67h1M122 73h1M52 75h1M112 77h3m17 0h1M128 79h1M112 81h1m3 0h1m75 0h1M6 83h2m58 0h1M98 85h1M190 87h1M90 91h1m1 0h1M76 93h1m9 0h1M98 95h1M128 101h1M64 103h2m60 0h1M50 109h1m13 0h1M76 113h1M64 117h1m47 0h1M28 137h1m71 0h1M34 139h1M68 141h1m45 0h1M40 143h1m1 0h1M68 149h1M48 151h2m18 0h1"/>
<path id="l21c" d="M157 8h1M155 10h1m17 0h1m9 0h1M147 12h1m3 0h1m31 0h1M139 20h1m45 0h1M137 22h1M133 24h1m53 0h1M187 28h1M177 30h1m3 0h1M167 32h1m1 0h1M187 34h1M189 36h1M191 48h1M141 62h1m15 0h1M49 64h1M195 66h1M55 70h1M119 72h1m13 0h1M101 74h1m77 0h1M111 76h5M119 78h1m1 0h2M47 80h1m67 0h1m75 0h1M99 82h1m11 0h1m1 0h2M69 84h1m45 0h1m79 0h1M19 86h1M119 88h1m43 0h1m5 0h1M119 90h1m61 0h1M89 92h1m43 0h1M85 94h2M101 96h1m7 0h1M69 98h1M45 100h1M125 104h1M121 106h1m1 0h1M53 108h1m21 0h1m37 0h1M61 110h1m53 0h1M57 112h1M111 114h1M99 118h1M27 124h1M33 126h1m1 0h1M75 130h1M99 132h1M35 134h1M97 136h1m5 0h1M35 138h1M41 142h1M57 144h1M43 146h1m13 0h1M57 150h1M59 152h1M37 154h1"/>
<path id="l21d" d="M163 7h1M173 9h1m5 0h2M153 11h1M141 19h1m43 0h1M177 21h1M143 23h1m29 0h1m1 0h1M149 25h1m25 0h1M131 27h1M167 29h1m17 0h1m1 0h1M175 31h3M137 35h1M161 39h1M161 41h1M179 43h1M125 45h1m63 0h1M135 53h1M145 57h1M123 63h1m1 0h1m19 0h1M157 65h1M119 69h1M59 73h1M109 75h1m5 0h1M107 77h1m5 0h2M115 81h2m72 0h1M7 83h1m109 0h1M115 85h1M57 87h1m55 0h1m3 0h1m1 0h1m15 0h1m23 0h1M93 89h1m19 0h1m9 0h1M169 91h1M75 93h2M85 95h1m11 0h2m20 0h1M99 97h1M69 99h1m59 0h1M43 101h1M65 103h1M71 105h1M61 111h1M61 113h1m51 0h1M29 121h1M101 133h1M29 135h1m5 0h1m67 0h1M31 137h1m3 0h1m63 0h2M37 143h1m9 0h1M101 145h1M51 149h1m5 0h1m9 0h2M35 151h1m13 0h1m23 0h1M49 153h1M37 155h1"/>
<path id="l22a" d="M166 8h1M172 10h1M138 22h1M176 26h1M188 28h1M174 30h1M164 32h2m6 0h1m1 0h2M190 46h2M188 50h1M142 62h1M146 64h1M168 66h1M124 72h1M52 74h1m61 0h1M54 76h1m7 0h1M10 78h1m37 0h1M10 80h1m41 0h1m139 0h2M68 82h1m121 0h1M6 84h1m109 0h2m66 0h1M6 86h1m51 0h1m11 0h1M28 88h1m1 0h1m41 0h1M116 90h1M110 92h1M96 94h2M84 96h1M68 98h1M62 100h1M106 102h1M52 104h1m1 0h1m69 0h1M52 106h1M48 108h1M50 110h1M80 112h1M120 118h1M34 126h1M30 130h1m1 0h2M106 134h1M30 136h1M36 138h1M68 142h1M38 148h1m29 0h1M48 150h1m19 0h1M36 152h1"/>
<path id="l22b" d="M178 9h1M152 11h1m1 0h1M176 23h1m9 0h1M180 29h1M174 31h1M162 35h1m27 0h1M160 41h1M134 43h1M120 59h1M134 63h2M124 65h1M126 67h1M50 71h1m143 0h1M128 73h1M48 75h1M124 77h1M10 81h1m5 0h1m93 0h1m75 0h1m7 0h1M16 83h1m51 0h1m45 0h3M6 85h1m55 0h1m7 0h1m45 0h4M56 87h1m59 0h1m19 0h1M36 89h2M78 95h1M68 99h1m33 0h1M104 101h2M56 103h1M124 105h1M50 107h2M60 109h1M62 115h1M34 127h2M114 137h1M36 139h1m61 0h1M34 141h1m1 0h1m3 0h1M56 145h1m1 0h2m6 0h1M46 147h2M46 149h1"/>
<path id="l22c" d="M159 8h1m1 0h1m1 0h1M175 24h1M177 28h1M173 30h2M165 32h1m9 0h1M163 34h1M187 36h1M161 40h1m27 0h1M191 46h1M191 50h1M135 52h1M125 62h1m11 0h1m1 0h1M129 64h1M147 68h1M129 72h1M109 76h1M15 80h1m113 0h1m63 0h1M51 82h1m57 0h1m5 0h1m71 0h1m9 0h1M51 84h1m65 0h1M17 86h1m39 0h2m56 0h1M27 88h2m84 0h1M73 90h1M97 94h1M83 96h2m14 0h1M103 100h1m25 0h1M61 114h1M63 118h1M33 130h1m13 0h1M33 132h1M111 136h1M25 140h1m9 0h1M61 144h1M41 146h1m27 0h1M45 148h1m3 0h1M35 152h2m12 0h1m5 0h1"/>
<path id="l22d" d="M177 9h2M151 11h2M181 19h1M139 21h1M157 39h1M119 59h2M141 61h1M121 63h1m11 0h3M113 71h1M113 73h1M47 75h2M59 79h1m61 0h1M115 83h2M5 85h2m34 0h1m75 0h3m69 0h1M37 89h1m35 0h1m51 0h1m53 0h1M75 91h1m15 0h1M95 93h1M81 97h1M75 101h1m29 0h1M63 105h1M51 107h1m13 0h1M49 109h1M35 127h1m9 0h1M31 131h1M39 135h1M29 137h1M35 139h2m74 0h1M57 143h1M45 145h1m13 0h1m1 0h1M43 147h1m3 0h1m11 0h1M49 149h1M39 151h1m15 0h1"/>
<path id="l23a" d="M142 18h1M140 20h1m43 0h1M132 24h1M186 28h1M162 36h1M130 64h1M108 76h1m1 0h1M12 78h2m92 0h1M14 80h1M10 82h1M44 84h1m7 0h1M18 86h1m1 0h1m39 0h2M24 88h3m91 0h1M92 90h2m86 0h1M76 94h2M130 98h1M102 100h1M122 106h1M118 108h1M60 110h1m55 0h1M32 124h1M36 132h1M22 134h1M28 138h1m5 0h1M36 142h1M38 144h1M66 146h1M46 148h1M54 150h1"/>
<path id="l23b" d="M164 7h1M174 23h1M186 35h2M160 39h1M136 63h1M112 75h1M106 77h1M10 79h1M60 81h1M8 83h2m34 0h1m1 0h4M16 85h2m24 0h1m9 0h3M20 87h5M38 89h1m33 0h1m21 0h1M80 97h1m19 0h1M110 107h2M114 109h1m1 0h2M28 121h1M30 123h2M32 125h1M24 135h2M34 137h1M38 145h1m1 0h1M40 147h1M54 151h1M56 153h1"/>
<path id="l23c" d="M143 16h1M183 20h2M135 22h1m49 0h1M171 24h1M161 36h2M175 44h1M189 46h1M51 68h1m71 0h1M59 74h1m51 0h1m1 0h1M181 76h1M11 78h3M13 80h2M9 82h2M5 84h1m37 0h2m4 0h1M41 86h1m17 0h3m9 0h1M25 88h2m2 0h1m5 0h1m3 0h1M93 90h1M75 92h1M77 94h1M53 98h1M29 122h1M31 124h2M35 128h1M35 130h1M29 136h1M59 146h1"/>
<path id="l23d" d="M181 9h1M131 25h1M131 29h1M187 35h1M177 43h1m5 0h1M133 51h1M197 69h1M119 71h1M117 73h1M111 75h2M13 79h1M47 81h1M9 83h1m37 0h3M17 85h1m35 0h2m6 0h1m7 0h1m27 0h1M21 87h4m14 0h1m31 0h1M87 93h1M77 95h1M79 97h2M127 101h1M107 103h1M109 105h1m13 0h1M53 107h1m7 0h1m49 0h1m9 0h1M117 109h1M31 123h1M35 133h1M25 135h1M99 139h1M35 141h1M55 153h2"/>
<path id="u0a" d="M162 10h1M166 16h1M152 20h1m1 0h1M160 22h1M156 26h1M148 28h1M148 30h1M160 34h2M132 38h1m21 0h1M182 50h1M106 66h1M174 104h1M146 114h1M140 118h1M148 120h1M118 128h1M134 136h1M64 142h1M76 146h1M106 148h1M48 158h1"/>
<path id="u0b" d="M160 13h1M146 23h1M148 29h2M160 33h1M162 39h1M144 41h1M176 43h1M168 77h1M178 93h1M162 105h1M158 111h1m5 0h1M148 119h2M122 121h1M124 123h1m13 0h1M148 129h1M142 131h1M48 157h1"/>
<path id="u0c" d="M151 16h1m13 0h2M151 20h2M137 24h1M159 28h1M135 30h1m27 0h1M155 32h1M149 34h1m11 0h1M153 40h1M177 54h1M173 106h1M145 114h2M139 118h2m8 0h1M93 120h1M137 122h1M67 126h1m65 0h1M129 130h1m21 0h1M93 144h1"/>
<path id="u0d" d="M165 15h1M151 19h1M149 29h1m9 0h1M131 31h1m1 0h1M153 41h1M189 43h1M177 45h1M177 49h1M149 105h1M55 111h1M143 115h1M113 119h1m35 0h1M133 125h1M145 131h1M137 135h1m1 0h1M109 147h1"/>
<path id="u1a" d="M156 12h1m5 0h1M160 14h4M150 16h1m3 0h1M162 18h1M142 20h1m7 0h1m13 0h1M148 22h1m1 0h1M136 24h1M144 26h1M154 28h1M140 30h1M132 32h2m12 0h1m13 0h3M180 34h1M130 38h1m31 0h2m2 0h1M150 40h1m19 0h1M146 42h1M190 44h1M182 46h1M124 52h1M176 54h1M174 62h1M108 64h1M102 66h1M164 70h2M180 72h2M50 74h1M94 76h1m67 0h1m5 0h1M162 78h1m3 0h4M164 80h1M164 82h1M12 92h1m79 0h1M34 94h2m18 0h1m113 0h1M50 98h1m119 0h1M36 100h1M72 102h1M172 106h1m1 0h1M166 108h3M22 110h1m123 0h1m13 0h2m2 0h1M44 112h1m97 0h1m1 0h2m14 0h3m1 0h2m2 0h1M140 114h2m8 0h1m3 0h1m5 0h1M142 116h2m2 0h1m1 0h1m7 0h1m1 0h2M60 118h1m25 0h1m49 0h1m1 0h1m9 0h1m1 0h1m5 0h1m1 0h1M62 120h1m51 0h4m4 0h1m15 0h1m1 0h2m12 0h1m7 0h1M80 122h1m51 0h2m12 0h2M138 124h1m5 0h2m6 0h1m1 0h1M120 126h1m3 0h1m3 0h1m1 0h1m1 0h1m1 0h1m11 0h1m5 0h2M112 128h1m21 0h1M72 130h1m57 0h3m13 0h1M120 132h1m5 0h1m15 0h2M126 134h3m3 0h1M78 136h1M54 138h1m71 0h1m1 0h2M86 140h2M70 142h1m19 0h1M82 144h1m5 0h1M78 146h1m1 0h1m5 0h2m2 0h1m15 0h1m7 0h1M90 148h2M52 152h1"/>
<path id="u1b" d="M166 9h1M156 11h1m5 0h1M158 13h1M150 15h1m3 0h1m7 0h1m3 0h1M152 17h3m5 0h1m5 0h1m9 0h1M152 19h2m8 0h1M150 21h1M136 23h2m26 0h2M156 25h1M156 27h2M136 29h1M132 31h1m1 0h1m5 0h1M154 33h1m15 0h1M128 37h1m1 0h1M146 39h1m39 0h1M130 41h1m21 0h1m17 0h1M146 43h1M118 45h1m57 0h1m1 0h1m5 0h1M184 47h1M116 49h1m59 0h1M176 51h1m5 0h1M176 53h1M140 57h1M108 65h1m69 0h1M108 67h1m61 0h1M116 69h1M170 71h1M164 73h1M162 77h2m18 0h1m5 0h1M58 81h1m97 0h1M158 83h2M58 85h1M66 93h1M18 97h1m17 0h2M72 101h1M82 103h1M164 105h3m7 0h2M168 107h1m5 0h1M22 109h1m59 0h1M138 111h2m26 0h1M98 113h1m43 0h4m2 0h2m12 0h2m4 0h1M142 115h1m1 0h1m1 0h3m1 0h1m5 0h1m1 0h1m1 0h1M48 117h1m9 0h1m69 0h1m7 0h1m1 0h1m3 0h2m2 0h4m6 0h1m9 0h1M104 119h1m9 0h1m25 0h3m7 0h1M50 121h1m37 0h2m8 0h1m33 0h2m6 0h2m4 0h1m1 0h1m1 0h1m3 0h1M144 123h1m1 0h1m5 0h1m5 0h1M30 125h1m35 0h1m57 0h2m6 0h1m1 0h1m3 0h2m14 0h1M40 127h1m19 0h1m57 0h3m5 0h1m1 0h1m1 0h2m6 0h2M112 129h1M86 131h1m39 0h1m1 0h1m3 0h1m5 0h1m5 0h1M126 133h1m15 0h1M130 137h1m1 0h1m3 0h1M122 139h1M120 141h1M122 143h1M88 145h2m2 0h1m27 0h1M64 147h1m9 0h3m3 0h1m5 0h2m2 0h3m1 0h1m15 0h3m1 0h1M106 149h1"/>
<path id="u1c" d="M163 10h1M181 12h1M161 14h3m1 0h1M153 16h2m8 0h1M149 18h1m3 0h1M153 20h1m1 0h1M161 22h1M153 24h1M133 26h1m21 0h1M149 28h1M131 32h3m11 0h2m14 0h2M153 34h1m1 0h1m3 0h1M141 36h1m17 0h1m9 0h1M163 38h1M145 40h1M173 42h1m3 0h1M177 44h1M115 48h1m61 0h1M177 50h1M109 52h1m13 0h2m66 0h1M125 56h1m51 0h1M177 58h1M99 64h1M165 70h1m5 0h1M103 72h1m77 0h1M93 76h2M103 78h1m57 0h2m4 0h3m27 0h1M179 80h1M13 82h1m145 0h1M159 84h1m19 0h1M91 88h1M89 90h1M43 92h1M17 94h1m17 0h1M95 100h1M29 104h1m141 0h1m1 0h1m1 0h1M27 106h1m1 0h1m25 0h1m29 0h1m63 0h1M73 108h1m93 0h2M57 110h1m11 0h1m69 0h1m21 0h1m5 0h1m1 0h1M139 112h1m5 0h1m13 0h4m2 0h1M45 114h1m21 0h1m65 0h1m3 0h1m1 0h3m5 0h1m1 0h2m12 0h1M49 116h1m9 0h1m15 0h1m61 0h1m3 0h3m11 0h2m2 0h1M33 118h1m107 0h1m5 0h2M35 120h1m25 0h2m52 0h3m23 0h1m7 0h1m1 0h1M51 122h1m31 0h1m49 0h1m5 0h1m7 0h1m3 0h1m3 0h1M49 124h1m59 0h1m23 0h1m3 0h2m2 0h1m3 0h1m5 0h2M93 126h1m45 0h1m13 0h1M117 128h1m13 0h1m5 0h1m7 0h1M41 130h1m89 0h2m6 0h1m5 0h2M95 132h1m29 0h2m16 0h1M49 134h1m49 0h1m27 0h2M133 136h1m3 0h1m3 0h1M69 138h1m53 0h1m1 0h2m2 0h1m7 0h1M87 140h1m33 0h1M121 142h1M31 144h1M77 146h2m8 0h1m1 0h2m12 0h1m5 0h1M75 148h1m1 0h1m3 0h1m5 0h1m1 0h3m13 0h1m3 0h1M45 158h1m1 0h1"/>
<path id="u1d" d="M161 11h2M155 13h1m5 0h1M151 17h4M149 19h1m3 0h1M149 21h2m2 0h1m5 0h1m11 0h1M137 23h1m13 0h1m13 0h1M157 27h1M139 29h1m7 0h1M139 31h2m20 0h1M161 33h1M133 37h1m17 0h1M151 39h1m7 0h1M127 41h1M175 45h2M121 47h1m55 0h1m5 0h2M123 49h1M121 51h1M135 55h1M177 59h1M121 67h1M101 69h1m83 0h1M163 73h2m4 0h1m3 0h1M163 77h1m3 0h1m5 0h1M163 79h1m13 0h1M161 81h1M159 83h1M181 87h1M57 89h1m117 0h1M17 93h1m21 0h1M33 95h1M37 97h1M19 99h1m75 0h1m65 0h1m9 0h1M45 103h1M81 105h1m83 0h2m2 0h1m3 0h3M167 107h2M161 109h1m5 0h1M139 111h1m17 0h1m1 0h1m1 0h1m1 0h1m1 0h2m2 0h1M97 113h2m38 0h1m3 0h5m1 0h3m3 0h1m7 0h3m1 0h1M93 115h1m47 0h2m4 0h2M141 117h3m3 0h3m5 0h2m8 0h2M53 119h1m11 0h1m71 0h1m1 0h4m2 0h1m1 0h1M61 121h1m27 0h1m27 0h1m15 0h1m7 0h1m1 0h1m1 0h2M59 123h1m19 0h1m57 0h1m5 0h2M57 125h1m67 0h1m13 0h1m7 0h1m3 0h1m1 0h2M119 127h2m4 0h2m4 0h1m7 0h1M37 129h1m73 0h2M121 131h1m3 0h2m4 0h2m4 0h2m2 0h1M121 133h1M87 135h1m45 0h1m1 0h1M51 139h1m77 0h1m1 0h1M65 141h1M87 143h1m33 0h2M89 145h1M75 147h2m10 0h1m1 0h4m18 0h2M105 149h2"/>
<path id="u2a" d="M166 14h1m5 0h1M162 16h1m1 0h1M154 18h1M148 24h1m9 0h1M134 26h1m7 0h1M136 28h1m29 0h1M136 30h1m5 0h1M140 32h1m29 0h1M154 34h1m1 0h1M134 36h1m5 0h1m27 0h1M124 38h1m13 0h1m31 0h1M176 40h1M176 42h1M156 44h1m7 0h1m11 0h1m1 0h1M176 46h1m1 0h1M176 48h1m1 0h1m5 0h1M172 54h1M176 58h1M100 64h1M108 66h1m7 0h1m1 0h1m51 0h1M54 68h1m115 0h1M134 70h2M106 72h1m57 0h1m5 0h1M56 74h1m107 0h1M104 76h1m59 0h1M96 80h1M12 82h1m53 0h1M54 84h1m127 0h1m7 0h1M16 90h1m1 0h1m3 0h1m33 0h1M26 92h1m39 0h1m1 0h1m69 0h2M16 94h1m9 0h1m11 0h1m133 0h1M16 96h1m3 0h1M20 100h2m2 0h1m13 0h1m11 0h2m20 0h1m91 0h1M28 104h1m15 0h1m123 0h3m5 0h1M20 106h3m7 0h1m15 0h1m107 0h1m3 0h1m5 0h4m2 0h1M22 108h1m3 0h2m134 0h1M56 110h1m81 0h1m15 0h1m13 0h1m3 0h1M28 112h1m3 0h1m21 0h1m83 0h1m1 0h2m16 0h1m7 0h1m3 0h1M30 114h1m1 0h1m31 0h1m15 0h1m3 0h1m45 0h1m1 0h1m3 0h1m1 0h1m5 0h1m3 0h1m7 0h1m7 0h3M56 116h1m13 0h1m29 0h1m31 0h1m3 0h1m3 0h1m23 0h2M142 118h1m3 0h1m17 0h1M106 120h1m13 0h1m11 0h1m9 0h1m3 0h2m2 0h1m7 0h1m1 0h1M86 122h1m25 0h1m3 0h1m5 0h1m1 0h1m5 0h2m6 0h1m9 0h2m2 0h1m3 0h1M46 124h1m9 0h1m23 0h1m27 0h1m23 0h1m17 0h1M36 126h1m19 0h1m31 0h1m19 0h1m3 0h1m31 0h2m8 0h1M98 128h2m10 0h1m5 0h1m9 0h1m3 0h1m1 0h2m2 0h1m1 0h1M42 130h1m27 0h1m51 0h1m17 0h2m6 0h3M28 132h1m39 0h1m53 0h1m13 0h3M56 134h1m59 0h1m19 0h2M58 136h1m17 0h1m53 0h3M68 138h1m11 0h1m41 0h1m1 0h1M124 140h1M62 142h1m35 0h1M66 144h1m19 0h2m2 0h1M82 146h2m4 0h1m3 0h2m18 0h2M78 148h1m1 0h1m11 0h1m3 0h1m3 0h1m3 0h1m5 0h1m3 0h1M44 156h1"/>
<path id="u2b" d="M168 11h1M150 19h1m3 0h1M142 21h1m9 0h1m1 0h1m3 0h1m1 0h2m18 0h1M148 23h2m2 0h1M134 29h1M148 31h1M140 33h1m15 0h1m21 0h1m5 0h1M134 35h1m15 0h1M152 37h1m15 0h2m4 0h1M134 39h1m15 0h1m27 0h2M172 41h1M180 45h1M174 47h1m1 0h1m1 0h1M122 53h1M174 55h1m1 0h1m1 0h1M108 57h1M116 59h1M174 63h1M174 65h1M120 67h1m51 0h1M170 69h1M116 71h1m49 0h1M160 73h1m7 0h1M162 75h1m7 0h1M160 77h1m5 0h1M158 79h3m1 0h1m1 0h1m29 0h1M12 83h2M12 85h1M14 89h1m1 0h1m1 0h1m1 0h1M12 91h1m11 0h1m3 0h1M16 93h1m1 0h1m5 0h1m1 0h1m3 0h1m1 0h1m5 0h1m5 0h1m47 0h1M16 95h2m14 0h1m1 0h1m137 0h1M28 97h4m2 0h1m25 0h1M20 99h2m16 0h1M48 101h1M26 103h1m1 0h1m71 0h1m75 0h1M68 105h2m80 0h1m3 0h1m13 0h1m1 0h1M162 107h1M24 109h1m11 0h1m3 0h1m105 0h1m3 0h1m7 0h1m9 0h1M20 111h1m1 0h1m31 0h1m17 0h1m67 0h1m5 0h1m13 0h1m1 0h1m5 0h1M28 113h1m105 0h1m3 0h3m5 0h1m13 0h1m3 0h1m1 0h1m3 0h1M84 115h2m46 0h4m18 0h2M140 117h1m3 0h2m14 0h1m3 0h1M50 119h1m5 0h1m29 0h2m28 0h1m17 0h1m1 0h1m1 0h1m5 0h1m1 0h1m5 0h1m1 0h1m7 0h1M48 121h2m84 0h1m3 0h1M34 123h1m11 0h1m3 0h1m45 0h1m35 0h1m1 0h3m5 0h1m7 0h1m3 0h1M56 125h1m5 0h1m25 0h1m51 0h1m3 0h1m5 0h1M112 127h1m19 0h1m15 0h1M70 129h1m43 0h1m11 0h1m3 0h1m3 0h3m9 0h2M56 131h1m15 0h1m51 0h1M60 133h2m58 0h1m1 0h1m9 0h1M58 135h1m5 0h1m63 0h1m5 0h1M64 137h1m55 0h1m5 0h1M88 139h1m35 0h2M62 141h1m9 0h1m13 0h1M70 143h1M78 145h2m26 0h1m7 0h1M36 147h1m51 0h1m13 0h1m3 0h1M76 149h1m17 0h1"/>
<path id="u2c" d="M179 10h1M159 12h1m1 0h1m17 0h1M179 14h1M155 16h1M149 20h1M147 22h1M163 24h1M141 30h2m6 0h1M139 32h2m22 0h1M179 34h1M123 38h2m2 0h1M151 40h1m3 0h1M127 50h1m53 0h1M173 58h1M175 66h1M103 70h1m31 0h1m55 0h1M101 72h1M131 74h1m35 0h1m3 0h1M163 76h2m2 0h1m15 0h1M159 78h1m3 0h1m13 0h1M159 80h1m3 0h1M11 84h1m1 0h1m143 0h1m7 0h1M13 88h1m1 0h1m3 0h1m69 0h1M21 90h2m138 0h1m11 0h1M87 92h1m51 0h1M25 94h2m6 0h1m7 0h1m41 0h1m85 0h1M19 96h2m6 0h1m1 0h1m131 0h1M15 98h1m17 0h1m137 0h1M19 100h3m1 0h2m12 0h2m12 0h1M37 102h1m23 0h1m107 0h1M81 104h1m87 0h2M21 106h2m56 0h1m85 0h3M25 108h3m129 0h1m7 0h1M21 110h1m9 0h1m71 0h1m47 0h1m11 0h1M133 112h1m3 0h2m2 0h1m1 0h1m19 0h1m5 0h2M97 114h1m45 0h2m6 0h1m3 0h2m2 0h1m5 0h2M47 116h1m13 0h1m23 0h1m19 0h1m33 0h2m4 0h1m1 0h1m3 0h1m5 0h1m7 0h1M81 118h1m5 0h1m25 0h1m21 0h1m1 0h1m7 0h2m12 0h1m3 0h2M63 120h1m25 0h1m9 0h1m23 0h1m5 0h1m1 0h2m2 0h1m1 0h1m9 0h1M81 122h1m47 0h3m3 0h1m9 0h1m3 0h1M139 124h1m3 0h1m9 0h1M87 126h2m10 0h1m43 0h3M99 128h1m15 0h2m12 0h2m2 0h1m1 0h2M105 130h1m31 0h1m3 0h1m7 0h2M41 132h1m73 0h1m15 0h1m5 0h2m2 0h1M69 134h1m51 0h1m15 0h1M83 136h1m43 0h1m3 0h2m6 0h1M73 138h1M51 140h1m83 0h1M61 142h2m24 0h1M81 144h1m5 0h1m39 0h1M31 146h1m49 0h3m7 0h3m3 0h1m15 0h1M83 148h1m11 0h2m10 0h1m5 0h2"/>
<path id="u2d" d="M157 11h1M179 13h1M163 15h1m9 0h1m1 0h1M149 17h1m15 0h1m19 0h1M161 21h1M149 23h1M135 25h1m7 0h1M143 27h1m21 0h1M137 29h1m15 0h1M151 31h1m17 0h1M133 33h1m5 0h2m28 0h1m21 0h1M123 37h1m41 0h1m3 0h1m21 0h1M179 39h1M129 41h1m9 0h1m3 0h1m31 0h1M129 45h1m43 0h1m5 0h2M117 49h1M117 51h1m59 0h1M175 53h1m1 0h1m13 0h1M123 55h1M111 57h1M115 59h2m20 0h1M175 61h1M173 63h2M179 65h1M97 67h1m9 0h1m55 0h1m1 0h1m5 0h2M129 69h1m53 0h1M97 71h1m67 0h2m2 0h1m1 0h1m19 0h1M167 73h2M165 75h1m1 0h1M103 77h1m93 0h1M57 79h1m101 0h2M159 81h1M13 83h1m161 0h1M13 87h1m5 0h1m133 0h1M89 89h1m69 0h1M11 93h1m9 0h1m21 0h2m22 0h1M17 95h1m9 0h1m33 0h1m21 0h1M17 97h1m1 0h1m9 0h3m139 0h1M21 99h1m15 0h2M23 101h1m145 0h1M77 103h1m81 0h1m9 0h1m1 0h1m1 0h1m1 0h2M21 105h1m3 0h1m3 0h1m39 0h1m93 0h1M21 107h1m7 0h1m141 0h1M31 109h1m11 0h1m111 0h1m1 0h2M31 111h1m53 0h1m51 0h1m7 0h2m8 0h1M27 113h2m2 0h1m101 0h2m4 0h2m16 0h1m1 0h2M45 115h1m39 0h1m47 0h3m1 0h1m1 0h1m5 0h1m5 0h1m3 0h1m1 0h1m1 0h1M81 117h1m19 0h1m3 0h1m19 0h1m9 0h1m1 0h1m1 0h2m4 0h1m5 0h1m5 0h1m1 0h2M87 119h1m5 0h1m49 0h2m16 0h2M41 121h1m7 0h1m47 0h1m17 0h1m3 0h1m17 0h2m8 0h1m1 0h1m1 0h1m3 0h1M123 123h1m5 0h1m5 0h2m2 0h1m5 0h1m1 0h1m5 0h2M67 125h1M39 127h1m37 0h1m9 0h1m23 0h2M45 129h1m9 0h1m31 0h1m31 0h1m9 0h2m2 0h4m8 0h3M41 131h1m23 0h1m51 0h1m9 0h1m5 0h1m5 0h1M61 133h1m45 0h1m17 0h1M89 135h1m27 0h1m9 0h2M69 137h1m3 0h1m51 0h2m4 0h1m1 0h1M83 139h1m41 0h1M125 141h1M67 143h1M31 145h1m45 0h3m7 0h1M77 147h1m15 0h1m11 0h2m8 0h1M61 149h1m21 0h1M65 153h1M47 157h1"/>
<path id="u3a" d="M158 12h1m1 0h1M156 18h1M146 24h1m5 0h1M140 28h1M132 30h2M130 32h1m17 0h1m5 0h1m27 0h1M166 34h1m1 0h1M146 38h1m5 0h1m7 0h1m13 0h1m3 0h1M126 40h2m26 0h1m7 0h1m21 0h1M130 42h1m43 0h2m8 0h1M180 44h2M184 46h1M122 48h1m51 0h2M122 50h1m53 0h1m1 0h1M178 52h1M118 56h1M172 58h1m1 0h1M176 60h1M118 62h1m53 0h2M176 64h1M54 66h1M102 68h1m69 0h1M118 70h1m51 0h1M158 72h1m13 0h1M166 74h1m1 0h1M160 76h1m5 0h1M102 78h1m57 0h1M162 80h1M14 82h1m141 0h1m1 0h1m1 0h1M12 84h1m1 0h1m143 0h1M12 86h1m1 0h1m49 0h1m75 0h1m45 0h1M14 88h1m29 0h1m9 0h1m13 0h2m20 0h1m91 0h1M14 90h1m5 0h1m5 0h1m1 0h1m1 0h1m3 0h1m7 0h1M14 92h1m1 0h1m3 0h2m6 0h1m1 0h2m2 0h1m7 0h1M18 94h3m7 0h5m3 0h2m2 0h1m1 0h1m39 0h1M18 96h1m7 0h1m5 0h2m26 0h2m106 0h1M14 98h1m1 0h5m13 0h1m1 0h1m1 0h1m7 0h1m39 0h1M22 100h1m7 0h1M18 102h1m3 0h1m5 0h1m9 0h1m39 0h1m1 0h1m7 0h1M20 104h1m1 0h1m7 0h1m141 0h1M24 106h1m1 0h1m1 0h1m73 0h1M62 108h1m95 0h1M40 110h1m39 0h1m63 0h2M146 112h2M68 114h1m31 0h1m33 0h1m7 0h1m19 0h1M36 116h1m13 0h1m55 0h2m10 0h1m15 0h1m9 0h1m15 0h1M134 118h1m17 0h1M94 120h1m7 0h1m1 0h1m29 0h1m9 0h2M100 122h1m17 0h1m17 0h1m3 0h1m3 0h1m5 0h1m3 0h1M44 124h1m17 0h1m71 0h1m5 0h1m1 0h1m5 0h1M48 126h1m9 0h2m40 0h1m21 0h2m16 0h1m1 0h1m5 0h2M104 130h1m1 0h1m21 0h1m5 0h1m1 0h1m1 0h1M42 132h1m9 0h1m87 0h1m3 0h2M68 134h1m1 0h1m17 0h1m33 0h1m7 0h1M80 136h1m57 0h1m1 0h1M46 138h1m25 0h1m29 0h1m27 0h4m2 0h1M66 140h1M58 142h1m23 0h1m37 0h1M92 144h1M88 148h1m5 0h1M62 150h1M64 154h1"/>
<path id="u3b" d="M162 13h1M164 15h1M162 17h1m21 0h1M148 19h1m25 0h1M160 23h1M138 25h1M132 29h1m7 0h1m13 0h1m5 0h1M190 31h1M146 33h1m43 0h1M144 35h1m13 0h2m16 0h1M126 37h2m4 0h1m9 0h1m21 0h1m11 0h1M154 39h1M154 43h1m19 0h1m5 0h1M152 45h1m29 0h1M186 47h1M180 49h2M172 51h1M124 55h2m46 0h1M132 57h1M176 59h1M118 61h1M130 63h1m37 0h1M110 65h1m21 0h1m1 0h1m35 0h2M98 67h1m23 0h1m73 0h1M124 69h1m57 0h1M176 71h1m13 0h1M104 73h1m51 0h1m13 0h3M164 75h1m3 0h1m5 0h1M164 77h1M158 81h1m1 0h1m3 0h1m9 0h1M52 83h1m39 0h1m3 0h1m75 0h1m9 0h1M14 85h1M12 87h1m31 0h2m86 0h1m43 0h1M50 89h1m107 0h1m23 0h1M16 91h1m9 0h2m2 0h1m3 0h1m5 0h1m3 0h1m41 0h1m15 0h1m65 0h1M22 93h1m5 0h2m10 0h1m55 0h1M28 95h1m25 0h1m31 0h1M20 97h2m16 0h1M14 99h4m4 0h4m10 0h1m27 0h1M16 101h1m1 0h1m5 0h1m9 0h1m1 0h3m55 0h1m75 0h1M18 103h3m15 0h1m1 0h1m129 0h1m1 0h1M28 105h1m1 0h1m51 0h1m89 0h1M26 107h1m7 0h3m121 0h1m7 0h1M34 109h1m7 0h1m1 0h1m11 0h1m109 0h1M38 111h1m5 0h1m41 0h1m63 0h1m1 0h1m1 0h1M32 113h2m8 0h1m9 0h1m43 0h1m39 0h1m13 0h2m2 0h1m1 0h1m1 0h1M30 115h1m99 0h1m5 0h1m1 0h1m1 0h1m23 0h1M106 117h1m3 0h1m23 0h1m17 0h1m5 0h1M34 119h1m3 0h1m21 0h1m39 0h1m5 0h2m50 0h2M46 121h1m11 0h1m13 0h1m9 0h1m29 0h1m5 0h1m17 0h1m5 0h1m9 0h1M130 123h1m9 0h1m7 0h2M36 125h2m36 0h1m5 0h2m16 0h1m13 0h1m23 0h2m8 0h1m5 0h1M108 127h2m14 0h1m9 0h1m5 0h1m3 0h2M38 129h1m81 0h2m10 0h1m5 0h1m5 0h1M28 131h1m77 0h1m3 0h2m10 0h2m10 0h1m5 0h1M52 133h1m71 0h1m19 0h1M70 135h1m47 0h1m11 0h2m8 0h1M54 137h1m15 0h1m9 0h1m1 0h1m51 0h1M84 139h1m47 0h1M70 141h1M72 143h1m19 0h1m23 0h1m3 0h1M82 145h1m47 0h1M96 147h1M80 149h1m3 0h2m18 0h1m9 0h1M64 153h1"/>
<path id="u3c" d="M157 10h1M155 12h1M151 18h1M157 20h1m13 0h1M153 22h1M143 24h1M135 26h1M157 28h1M133 30h1m13 0h1m5 0h1M147 32h2M143 36h1m19 0h1M129 38h1m39 0h1m13 0h1m1 0h1M123 40h1m3 0h1m47 0h1M137 42h1m37 0h1m13 0h1M147 44h1m7 0h1m23 0h3M125 46h1M119 48h1m55 0h1M175 50h2m6 0h1M181 52h1M175 54h1m5 0h1M131 56h1m47 0h1M137 60h1M107 62h1m65 0h1M175 64h2M111 66h1m67 0h1M101 68h2m8 0h1M109 70h1m57 0h1M105 74h1M95 76h1m5 0h1m71 0h1m1 0h1m21 0h1M49 80h1m111 0h2M11 82h1m85 0h1M47 84h1m7 0h1m79 0h1M11 88h1m57 0h1M23 90h1m17 0h2m124 0h1M13 92h2m6 0h1m1 0h1m7 0h1m7 0h1m19 0h1m119 0h1M19 94h2m2 0h1m3 0h6m4 0h1m1 0h2m50 0h1M15 96h1m1 0h2m2 0h1m9 0h3m27 0h1M17 98h4m4 0h1m1 0h1m3 0h1m23 0h1m105 0h1M17 100h1m7 0h1m3 0h2m2 0h1m135 0h1M45 102h1m115 0h1M27 104h1m55 0h1m15 0h1m65 0h1M33 106h1m25 0h1m95 0h1m5 0h1M21 108h1m1 0h1m11 0h1m7 0h1m111 0h1m5 0h1m7 0h1M71 110h1m71 0h3m9 0h1m3 0h1M27 112h1m41 0h1m77 0h1m1 0h1m1 0h1M23 114h1m7 0h1m61 0h1m5 0h2m56 0h1m11 0h1M63 116h1m43 0h1m25 0h2M57 118h1m59 0h1m39 0h1m7 0h1M143 120h3m7 0h1m5 0h1M89 122h1m21 0h1m31 0h2m14 0h1M47 124h1m31 0h1m75 0h1M59 126h1m37 0h1m25 0h1m1 0h1m1 0h1m1 0h1m1 0h1m3 0h1m1 0h1m11 0h1m5 0h1M69 128h1m35 0h1m5 0h1m15 0h1m15 0h1m3 0h1M45 130h1m69 0h1m5 0h1m25 0h1M61 132h1m45 0h1m11 0h1m1 0h1m11 0h1m1 0h1m9 0h1M55 134h1m79 0h1M123 136h1m5 0h1M53 138h1m77 0h3M129 140h1m3 0h1M51 142h1M105 146h1M79 148h1M55 150h1m5 0h2m2 0h1M63 154h2"/>
<path id="u3d" d="M177 11h1M159 13h1M149 15h1m1 0h1m3 0h1M143 21h1m35 0h1M147 23h1M153 25h1m3 0h1M167 27h1M147 31h1m7 0h1m9 0h1M151 33h1m1 0h1m29 0h1M133 35h1m17 0h1m7 0h1m5 0h1M127 37h1m1 0h1m9 0h1m1 0h2m4 0h1m27 0h2M131 39h1m41 0h1M133 41h1m17 0h1m3 0h1m25 0h1M157 43h1M181 45h2m2 0h1M115 47h1m7 0h1m51 0h1m3 0h1M181 49h1M127 51h1M117 53h1M125 55h1m45 0h2m4 0h1m1 0h1M129 57h1m43 0h1m5 0h1M171 63h1M129 65h1m41 0h1m3 0h1M127 67h1m41 0h1m5 0h1m1 0h1M169 69h1m1 0h1M171 73h2m8 0h1M161 75h1m1 0h2m6 0h1M165 79h1m15 0h1M11 81h1M157 83h1M11 85h1m35 0h1M45 87h1m81 0h1M15 89h1m3 0h1M15 91h2m4 0h1m3 0h3m5 0h2m2 0h1m5 0h2m122 0h2M19 93h1m5 0h1m1 0h3m1 0h1m33 0h1m7 0h1m17 0h1M15 95h1m21 0h1M21 97h1m3 0h1m1 0h1m5 0h1m21 0h1M15 99h3m5 0h3m5 0h1m3 0h2m132 0h1M21 101h1m7 0h1m7 0h2m10 0h1m51 0h1m73 0h1M19 103h2m2 0h1m5 0h1m127 0h1m3 0h1m1 0h1M19 105h1m13 0h1m23 0h1m109 0h1m3 0h2M35 107h2m126 0h1m9 0h1M27 109h1m131 0h1m5 0h2M27 111h1m29 0h1m83 0h1M23 113h1m9 0h1m11 0h1m21 0h1m1 0h1m65 0h2m14 0h1M75 115h1m7 0h1m77 0h1m1 0h2M69 117h1m25 0h1M33 119h2m10 0h1m61 0h1m7 0h1m15 0h1m3 0h1m15 0h1m5 0h3M111 121h2M71 123h1m9 0h1m51 0h1m15 0h1M37 125h1m13 0h1m13 0h1m15 0h1m27 0h1m9 0h1m7 0h1m9 0h1m17 0h1M37 127h1m13 0h1m3 0h1m53 0h1m17 0h1m15 0h3m3 0h1M115 129h1m5 0h1m3 0h1m5 0h2m4 0h2m10 0h1m1 0h1M83 131h1m27 0h1m3 0h1m7 0h1m25 0h1M73 133h1m65 0h1m3 0h2M63 135h1m9 0h1m57 0h1M45 137h1m7 0h2m20 0h1m51 0h1m9 0h1m3 0h1M45 139h1m89 0h1M43 141h1m19 0h1m57 0h1M65 143h1m3 0h1m1 0h2m6 0h1M93 145h1m25 0h1m7 0h1M49 147h1m21 0h1m23 0h2m2 0h1m1 0h1m1 0h1M75 149h1m9 0h1M63 153h2M43 157h1"/>
<path id="u4a" d="M166 10h1M184 14h1M174 16h1M152 18h1M154 24h1m9 0h1m1 0h1M140 26h1m11 0h1M142 28h2m14 0h1M134 32h1M138 34h1m9 0h1m3 0h1m17 0h1M130 36h1m43 0h1M164 38h1M134 40h2m16 0h1m11 0h1m9 0h1M172 42h1m5 0h1M174 44h1m9 0h2M150 46h1m35 0h1M132 48h1M128 50h1M176 52h1M122 54h1m55 0h1M174 56h3M142 58h1m35 0h1M174 66h1M96 68h1M116 70h1m51 0h1m3 0h1m1 0h1m13 0h1M104 74h1m65 0h1m3 0h2M174 76h1M76 78h1m17 0h1m101 0h1M160 80h1M62 82h1M66 84h1m113 0h1M16 86h1m143 0h1M12 88h1m3 0h1m3 0h1m35 0h1m25 0h1M38 90h1m49 0h1M18 92h1m5 0h1m11 0h1m1 0h1m1 0h1m3 0h1m85 0h1m31 0h1m19 0h1M14 94h1m7 0h1m1 0h1m153 0h1M24 96h2m2 0h1m1 0h1m3 0h1m1 0h1m1 0h2M24 98h1m1 0h1m1 0h3m1 0h1m139 0h1M16 100h1m39 0h1m39 0h1m3 0h2m74 0h1M20 102h2m2 0h4m8 0h1m133 0h1M38 104h1m19 0h1M32 106h1m1 0h1m1 0h1m19 0h1m17 0h1m5 0h1m67 0h1M20 108h1m7 0h1m1 0h1m141 0h1M30 110h1m5 0h1m17 0h1m49 0h1m37 0h1M136 112h1M28 114h2m12 0h1m1 0h1m21 0h1m31 0h1m53 0h2m14 0h1M38 116h1m5 0h1m3 0h1m11 0h1m23 0h1M34 118h1m3 0h1m5 0h2m86 0h1M36 120h1m11 0h1m5 0h1m43 0h1m1 0h1m29 0h1m5 0h1M72 122h1m61 0h1m7 0h1M88 124h1m47 0h1m9 0h1M38 126h1m55 0h1m21 0h1M32 128h1m13 0h1m25 0h1m55 0h1m19 0h1M52 130h1m33 0h1m5 0h1m21 0h1m3 0h2M40 132h1m65 0h1m23 0h1m17 0h1M144 134h1M54 136h1m9 0h1m7 0h1m25 0h1m27 0h1m15 0h1M50 138h1m31 0h1M44 140h1m1 0h1m3 0h1m1 0h1m67 0h1m13 0h1M52 142h1m75 0h1m5 0h1M52 144h1m19 0h1M64 146h1m29 0h1m5 0h1M64 148h1m9 0h1m9 0h1m1 0h1m21 0h1M104 150h1M50 156h1"/>
<path id="u4b" d="M172 13h1M172 17h1M164 19h1m11 0h1M148 21h1m15 0h1M162 23h1m3 0h1M144 25h1m1 0h1m5 0h1M162 27h1m1 0h1m1 0h1M142 29h1M154 31h1M130 33h1m1 0h1m29 0h1M152 35h1M150 37h1m15 0h1M124 39h1m7 0h1m19 0h1m21 0h2M134 41h1m13 0h1M190 43h1M182 47h1M178 49h1M178 51h1M178 53h1M110 57h1m7 0h1m55 0h1m3 0h1M174 59h1M130 61h1m43 0h1M116 65h2m54 0h1M176 67h1M174 71h1M174 73h1M172 77h1M166 79h1M84 81h1M14 83h1m145 0h1M46 85h1m17 0h1m69 0h1M14 87h1m1 0h3m39 0h1M24 89h1m17 0h1m1 0h1m43 0h1m77 0h1M38 91h2m6 0h1m119 0h1m11 0h1M20 93h1m13 0h2m12 0h1m125 0h1m1 0h1M20 95h1m17 0h2m122 0h1M16 97h1m9 0h1m5 0h1m51 0h1m1 0h1m9 0h1M18 99h1m9 0h1m5 0h1m135 0h1M20 101h1m1 0h1m5 0h1m59 0h2M16 103h2m6 0h1m53 0h1m79 0h1m3 0h1M20 105h1m13 0h1m1 0h1m7 0h1M22 107h4m4 0h1m141 0h1M28 109h1m1 0h1m47 0h1m93 0h1M24 111h1m5 0h1m1 0h1m1 0h1M36 113h1m7 0h1m1 0h1m21 0h1m63 0h1M22 115h1m77 0h1m65 0h1M94 117h1m67 0h1M26 119h1m41 0h1m19 0h1m5 0h1M34 121h1m25 0h1m29 0h1m25 0h1m27 0h1M60 123h1m21 0h1m1 0h1M58 125h1m11 0h1m25 0h2m4 0h1m27 0h2m10 0h1m13 0h1M30 127h1m23 0h1m27 0h1m5 0h1m21 0h1m31 0h1m3 0h1m5 0h1M50 129h1m55 0h1m11 0h1m3 0h1m5 0h1M120 131h1m25 0h1M50 133h1m5 0h1m5 0h1m1 0h1m43 0h1m19 0h1m7 0h2m2 0h1M88 135h1m35 0h1m1 0h1m5 0h1M74 137h1m47 0h2m14 0h1M130 139h1m3 0h1M100 141h1m25 0h1M112 145h1M70 147h1m1 0h1m5 0h2m24 0h1"/>
<path id="u4c" d="M157 12h1M155 14h1M141 20h1m25 0h1M149 22h1m1 0h1m3 0h1m15 0h1M137 28h1m3 0h3M151 30h1m5 0h1M153 32h1M147 34h2M133 36h1m19 0h1M145 38h1M135 40h1m37 0h2m6 0h1M181 42h1M119 44h1m21 0h1m15 0h1m1 0h1m25 0h1M133 46h1m39 0h1m1 0h1m1 0h1m1 0h1m1 0h1M123 48h1M137 50h1M121 52h1M121 54h2M109 56h1m7 0h1m57 0h2M151 60h1m7 0h1M57 64h1m105 0h1M129 66h1M87 68h1m87 0h1m1 0h1M171 72h1M55 74h1m105 0h1m7 0h2m4 0h1M91 76h1m69 0h1M57 78h1M79 80h1m53 0h1M165 82h1M99 84h1m37 0h1M13 86h1m49 0h1M59 88h1M11 90h1m1 0h1m1 0h1m3 0h1m7 0h1m15 0h1M15 92h1m1 0h2m10 0h1m3 0h1M55 94h1m3 0h1m33 0h1M25 96h1m13 0h1m49 0h1M29 98h2m4 0h1m1 0h1m41 0h1m99 0h1M35 100h1m3 0h1m49 0h1m11 0h1M17 102h1m1 0h3m1 0h5m147 0h1M19 104h1m17 0h2m118 0h1M23 106h1m15 0h1M41 108h1m129 0h2M27 110h1m53 0h1m7 0h1M43 112h1m91 0h2m16 0h1M29 114h1m51 0h1m49 0h1m21 0h1m13 0h2M23 116h1m57 0h1m45 0h1m3 0h1m3 0h1m25 0h1M43 118h3m97 0h1M67 120h1m89 0h1m3 0h1M57 122h1m21 0h1m29 0h1m31 0h2m10 0h1M67 124h1M37 126h2m72 0h1m1 0h1m5 0h1m1 0h1m29 0h1M29 128h1m7 0h1M51 130h2m66 0h1m5 0h1m7 0h1m1 0h1M87 132h1m23 0h1m11 0h1m15 0h1M51 134h1m11 0h1m9 0h1m55 0h1M69 136h1m7 0h1m57 0h1M103 138h1M43 140h2m10 0h1m45 0h1m29 0h1M59 142h1m13 0h1M79 144h1M75 146h1m31 0h1M93 148h1m21 0h1M107 150h1M39 152h1"/>
<path id="u4d" d="M163 11h1M163 13h1M161 15h1M155 17h1m5 0h1M161 19h1m11 0h1M147 21h2M137 25h1M149 27h1m5 0h1M137 31h1m25 0h1M163 39h1m11 0h1m1 0h1M175 43h1M121 45h1M173 47h1M175 49h1m7 0h1m1 0h1M175 51h1M115 55h1m59 0h1M117 57h2m22 0h1m29 0h1m5 0h2M121 59h1m51 0h2M117 61h1M95 65h1m21 0h1M97 69h1m27 0h1m53 0h1M79 71h1m83 0h1m9 0h2M159 73h1M175 75h1M161 77h1m7 0h1M97 79h1m1 0h1m33 0h1m27 0h1m21 0h1M13 81h1m73 0h1m49 0h1m25 0h1m15 0h1M11 83h1m123 0h1m43 0h1m9 0h1M13 85h1m89 0h1m75 0h1M11 87h1m5 0h2m72 0h1m91 0h1M13 89h1m3 0h1m5 0h2m16 0h2M13 91h1m9 0h1m7 0h1m7 0h1m85 0h1M15 93h1m7 0h1m9 0h3m1 0h1m9 0h2m34 0h1m87 0h1M29 95h1m1 0h1m7 0h1m47 0h1m1 0h1m77 0h1M15 97h2m18 0h1m59 0h2m78 0h1M59 99h1m103 0h1M17 101h1m17 0h1m5 0h1m29 0h1m17 0h1M17 103h1m9 0h1m55 0h1M23 105h1m3 0h1M19 107h1m3 0h3m15 0h1m5 0h1m9 0h1m41 0h1m61 0h1M21 111h1m65 0h1m83 0h1M167 113h1m1 0h1M25 115h1m3 0h1m35 0h1M25 117h1m11 0h1m9 0h1m19 0h1M117 119h1m35 0h1m9 0h1M95 121h1m43 0h1m13 0h1m5 0h1M141 123h1m9 0h1m5 0h1M43 125h1m25 0h2m26 0h1m13 0h1m19 0h1m13 0h1M49 127h1m7 0h1m1 0h1m9 0h1m23 0h1m13 0h1m15 0h1m5 0h1m3 0h1M69 131h1m9 0h1m15 0h1m33 0h1M43 133h1m93 0h1M23 135h1m95 0h1m9 0h1M121 137h3M123 139h1M45 141h1m35 0h1m5 0h1m3 0h1M37 145h1m37 0h1m15 0h1m5 0h1m17 0h1M79 147h1m33 0h1M71 149h1m41 0h1M45 153h1"/>
<path id="u5a" d="M160 16h1M150 18h1m21 0h1m3 0h1M148 20h1m13 0h1M144 22h3M184 24h1M144 28h1m1 0h1m13 0h1M150 30h1m11 0h1M146 34h1m45 0h1M166 36h1m9 0h1M180 40h1M128 42h1M140 44h1M144 46h1m7 0h1m17 0h1m1 0h1m1 0h1m17 0h1M124 48h1M108 50h2M116 52h1M124 54h1M112 56h1M122 58h1M152 60h1M174 64h1M86 66h1m105 0h1M48 68h1m37 0h1m17 0h1m55 0h1m5 0h1M80 70h2m46 0h1m13 0h1M56 72h1m109 0h1m1 0h2M82 74h2m78 0h1M60 76h1m27 0h2m16 0h1m63 0h3M100 78h1m29 0h1m39 0h1m11 0h1M86 82h2m8 0h1M10 84h1m125 0h1m23 0h1M44 86h1m97 0h1m33 0h1m5 0h2M10 88h1m7 0h1m69 0h1M10 90h1m21 0h1m15 0h1m1 0h1m111 0h1m3 0h1M32 92h1m17 0h1m19 0h1m15 0h1M62 94h1m1 0h1m19 0h1m9 0h1M162 96h1M160 98h1M18 100h1m7 0h2m66 0h1m83 0h1M118 102h1m43 0h1m3 0h2M96 104h1m53 0h1M48 106h1M32 108h1m1 0h1m103 0h1m21 0h1M42 110h1m55 0h1m59 0h1M36 112h1m93 0h1m1 0h1M26 114h1m19 0h1M58 116h1m3 0h1m13 0h1m49 0h1m27 0h1m11 0h1M26 118h1m5 0h1m13 0h1m21 0h1m33 0h2m58 0h1M72 120h1M60 122h1m21 0h1M110 124h1m1 0h1m17 0h1M40 126h1m29 0h1m55 0h1M30 128h1m23 0h1m65 0h1m19 0h1m3 0h1m1 0h1m3 0h1M66 130h1m1 0h1M76 132h1m19 0h1m17 0h1m1 0h1m15 0h1M44 134h1m29 0h1M118 136h1m1 0h1m1 0h1m5 0h1m7 0h1M52 138h1M62 140h1m25 0h1M78 142h1M78 144h1m5 0h1M36 146h1m67 0h1m5 0h2M76 148h1m5 0h1M62 152h1"/>
<path id="u5b" d="M150 13h1m3 0h1M148 15h1M156 17h1m11 0h1M156 19h1M144 21h1m17 0h1M182 23h1M166 25h1M142 27h1m1 0h1m3 0h1M146 31h1m3 0h1m37 0h1M146 35h1M134 37h1m9 0h1m25 0h1M120 39h1M122 41h1m13 0h1m17 0h1m3 0h1m3 0h1m11 0h1M122 47h1m25 0h1M124 49h2m56 0h1M116 51h1m9 0h1m53 0h1M142 59h1M154 61h1M52 63h1m51 0h2m70 0h1M48 65h1M90 67h2m10 0h1m13 0h1m49 0h1m7 0h1M48 69h1m37 0h2m12 0h1m3 0h1m63 0h1m5 0h1m1 0h1M126 71h1m5 0h1m31 0h1m7 0h1M82 73h1m19 0h1m59 0h1m17 0h1M166 75h1m31 0h1M76 79h1m19 0h1m5 0h1m67 0h1m7 0h1m7 0h1m9 0h1M90 81h1m71 0h1M10 83h1m65 0h1m79 0h1m11 0h1M158 85h1M10 87h1m77 0h2m38 0h1M28 89h1m61 0h2m6 0h1M14 91h1m5 0h1m1 0h1m9 0h1m23 0h1m105 0h1M42 93h1m25 0h1m95 0h1M18 95h2m4 0h2m68 0h1m83 0h1M22 97h1m1 0h1m135 0h1M32 99h2m8 0h2m6 0h1M26 101h1m13 0h1m37 0h1m99 0h1M72 103h1m93 0h1M26 105h1m121 0h1M46 107h1m1 0h1m25 0h1m3 0h1M152 109h1m3 0h1m5 0h1m7 0h1M40 111h1m57 0h1m5 0h1m31 0h1m33 0h1M26 115h1m5 0h1m13 0h2m20 0h1m37 0h1m45 0h1m15 0h1M26 117h1m17 0h1m35 0h1m19 0h1M30 119h2m44 0h1m15 0h1m67 0h1M30 121h1m49 0h2m18 0h1M80 123h1m23 0h2m4 0h1m45 0h1M52 125h1m25 0h1m49 0h1M28 127h1m67 0h1m9 0h1M72 129h1m37 0h1m13 0h1m25 0h1M40 131h1m27 0h1m19 0h1m15 0h1m9 0h1m33 0h1M68 135h1m51 0h1m15 0h1m1 0h1M38 137h1m7 0h1m1 0h1m79 0h1M136 139h1M124 141h1M78 143h1M32 145h1m19 0h1m27 0h2m4 0h1m3 0h1m9 0h1m25 0h1M108 147h1M60 149h1m3 0h1m17 0h1m19 0h1M46 157h1"/>
<path id="u5c" d="M167 8h1M163 12h1M159 20h1M141 22h1m3 0h2M135 24h1M141 26h1m9 0h1M167 28h1M155 30h1M149 32h1M167 34h1M129 36h1m45 0h2m4 0h1M125 38h1m7 0h1m17 0h1m1 0h1m13 0h1m9 0h1M119 40h1m11 0h1m15 0h1m11 0h1m19 0h2M147 42h1M163 44h1M183 46h1M117 48h1m65 0h1M109 50h1m21 0h1M177 52h1M171 54h1m7 0h1M173 56h1M171 62h1M101 64h1m77 0h1M109 66h1m13 0h1m47 0h1m25 0h1M81 68h1m13 0h1m13 0h1M79 70h3m33 0h1m47 0h1m5 0h1m5 0h1M111 72h1m47 0h1m9 0h1M83 74h1m19 0h1m61 0h1m11 0h1M89 76h1m81 0h2m6 0h1M51 78h1M91 80h1M87 82h1M9 84h2m76 0h1m95 0h1M9 86h1m79 0h1m55 0h1m29 0h2m6 0h1M17 88h2m26 0h1m21 0h1m15 0h1M17 90h1m7 0h1m5 0h2m4 0h1m17 0h1m1 0h1m37 0h1M19 92h1m7 0h1m7 0h1m1 0h1m17 0h1m5 0h1m31 0h1M15 94h1m5 0h1m25 0h1m57 0h1m71 0h1M23 96h1m41 0h1m37 0h1M21 98h1m59 0h1m5 0h1m7 0h1m63 0h2M15 100h1m11 0h1m25 0h1m9 0h1m7 0h1m91 0h1m13 0h2M35 102h1m3 0h1m37 0h1m89 0h1M167 104h1M25 106h1m9 0h1m33 0h1m5 0h1m81 0h1M59 108h1m99 0h2m12 0h1M39 110h1m15 0h1m17 0h1m63 0h1M23 112h1m5 0h1m1 0h1m35 0h1m89 0h1M43 114h1m91 0h1M37 116h1m7 0h1M35 118h1m43 0h1m5 0h1m17 0h1m47 0h1m1 0h1M31 120h1m7 0h1m9 0h1m33 0h1m29 0h1m25 0h1m15 0h1M35 122h1m3 0h1m31 0h1m13 0h1m11 0h1m19 0h1m5 0h1m1 0h1M135 124h1M57 126h1m5 0h1m37 0h1m15 0h1m29 0h1M59 128h1m43 0h1m3 0h1m1 0h1m3 0h1m25 0h2M71 130h1m15 0h1m23 0h1m15 0h1M57 132h1m69 0h1M47 134h1m75 0h1M73 136h1m15 0h1M45 138h1m17 0h1M65 140h1m1 0h1m5 0h1M81 142h1m35 0h1M83 144h2m6 0h1m29 0h1m3 0h1M79 146h1m31 0h1M111 148h1"/>
<path id="u5d" d="M155 11h1M153 15h1m13 0h1M145 25h1M151 27h1m9 0h1m1 0h1M157 29h1M131 33h1m23 0h1m11 0h1m13 0h1m3 0h1M167 35h1M177 37h1M165 39h1m5 0h1M131 41h1m17 0h1m17 0h1m9 0h1m13 0h1M117 45h1m39 0h1M135 47h1M125 49h1M173 53h1M113 55h1m59 0h1M125 57h1m7 0h1M109 61h1M105 63h1M173 65h1M83 67h1m7 0h1M79 69h1m7 0h1m85 0h2M103 71h1m57 0h1M177 75h1M89 77h1m7 0h1m77 0h1m11 0h1m1 0h1M49 79h1M63 81h1m15 0h1m77 0h1M161 83h1m9 0h1M15 85h1m89 0h1M15 87h1m49 0h1m23 0h1M21 89h1m45 0h1m23 0h1m69 0h1m11 0h1M17 91h1m1 0h2m20 0h1m25 0h1M41 93h2m16 0h1m37 0h1M19 95h1m1 0h1m3 0h1M87 97h1m79 0h1m9 0h1M29 99h1m3 0h1m7 0h3m135 0h1M19 101h1m5 0h2m50 0h2m88 0h1M21 103h1m35 0h1M31 105h1m3 0h1m57 0h1m11 0h1M103 107h1m33 0h1m15 0h1M23 109h1m11 0h1m3 0h1m129 0h2M37 111h1m33 0h1m75 0h1m1 0h1M37 113h1m5 0h1M31 115h2m14 0h1m41 0h1m11 0h1m29 0h1M57 117h1m19 0h1m39 0h1m13 0h1M31 119h1m29 0h1m5 0h1m3 0h1m61 0h1M43 121h1m1 0h1m35 0h1m49 0h1M83 123h1m21 0h1m3 0h2m2 0h1m13 0h1M91 125h1m3 0h1m5 0h1m3 0h1m7 0h1m21 0h1M41 127h1m57 0h1m15 0h1m1 0h1m17 0h1m1 0h1M39 129h1m43 0h1m43 0h1m11 0h1M45 131h1m3 0h1m37 0h2m30 0h1M119 133h1m13 0h1M61 135h1m63 0h1M63 137h1m19 0h1M51 141h1m3 0h1m11 0h1M129 143h1M81 145h1m1 0h1M37 147h1M77 149h1m19 0h1m1 0h1M63 151h1M61 153h1"/>
<path id="u6a" d="M178 12h1M158 14h1M156 16h2M148 18h1m17 0h1M186 20h1M158 22h1M140 24h1m3 0h1m17 0h1M150 26h1M156 28h1M158 30h1m5 0h1m3 0h1M164 34h1M142 36h1m1 0h1m1 0h1M176 38h1M122 40h1m49 0h1M134 42h1m7 0h1m1 0h2M122 44h1m37 0h1M138 46h1m41 0h1M130 48h2m54 0h1M132 50h1m7 0h1m9 0h1M108 52h1m65 0h1M112 54h1M124 56h1m1 0h1M116 58h2m22 0h1m3 0h1M96 62h1m9 0h1m19 0h1m49 0h1M58 64h1m113 0h2M94 66h3m15 0h1m15 0h1m3 0h1m31 0h1M82 68h1m5 0h1m5 0h1M82 70h1m5 0h1M60 72h1m113 0h1M74 74h1m15 0h2m2 0h1m29 0h1m31 0h1M158 76h1m21 0h1m7 0h1m5 0h1M56 78h1m41 0h1m65 0h1m13 0h1m1 0h1m11 0h1M80 80h1m3 0h1m3 0h1M98 82h1M56 84h1m39 0h1m31 0h1M10 86h2m40 0h1m39 0h1m9 0h2M180 88h1m3 0h1m1 0h1M12 90h1m11 0h1m57 0h1m19 0h1m83 0h1M22 92h1m33 0h1m121 0h1M22 96h1m29 0h1m41 0h1m77 0h1M22 98h1m139 0h1M28 100h1m3 0h1M34 102h1m129 0h1m11 0h2M82 104h1m81 0h1M68 106h1M18 108h1m17 0h2m6 0h1m35 0h1M20 110h1m13 0h1m17 0h1m15 0h1m33 0h1m47 0h1m11 0h1M40 112h1m27 0h1m29 0h2m34 0h1m13 0h1m7 0h1M40 114h1m117 0h1M24 116h2m16 0h2m42 0h1m51 0h1M36 118h1m57 0h1m11 0h1m53 0h1M88 120h1m3 0h1m35 0h1M34 122h1m5 0h1m5 0h1m3 0h1m57 0h1M78 124h1m13 0h2m30 0h1M54 126h2m24 0h1m55 0h1M38 128h1m21 0h1M38 130h1m17 0h1m59 0h2m8 0h1M44 132h2m38 0h1m61 0h1M48 134h1m5 0h1m7 0h1m13 0h1m7 0h1M32 136h1m5 0h1m7 0h1m3 0h1m31 0h1m25 0h1m7 0h1m7 0h1M74 140h1M72 142h1M42 144h1M112 148h1M38 152h1"/>
<path id="u6b" d="M158 11h1m19 0h1M180 13h1M174 17h1M142 25h1m11 0h1M172 27h1M166 29h1M130 31h1M180 33h1M126 35h1m9 0h1m17 0h1m5 0h1M192 37h1M164 39h1m7 0h1M126 41h1m15 0h1m21 0h3m9 0h1m1 0h1M156 43h1m31 0h1M128 45h1m9 0h1m53 0h1M120 49h1m1 0h1m3 0h1m47 0h1M150 51h1m23 0h1m15 0h1M124 53h1m49 0h1M134 55h1m45 0h1M122 59h1m49 0h1M82 61h1m5 0h1m3 0h1m9 0h1m7 0h1M170 63h1m1 0h1M82 67h1m71 0h1M88 69h2m20 0h1m21 0h2M158 71h1m21 0h2M54 75h1m27 0h1m1 0h1m11 0h1M52 77h1m5 0h1m25 0h1M56 79h1m123 0h1M12 81h1m1 0h1m73 0h1M54 83h1m1 0h1m31 0h1m15 0h1m61 0h1m7 0h1M10 85h1m49 0h1m7 0h1m11 0h1m5 0h1m17 0h1m31 0h1m37 0h1m7 0h1M60 87h1m21 0h2m90 0h1m7 0h1M10 89h1m21 0h1m1 0h1m23 0h1m23 0h2m8 0h1m79 0h1m13 0h1M18 91h1m43 0h1m5 0h1m105 0h1M58 93h1m71 0h1m49 0h2M14 95h1m11 0h1m3 0h1m5 0h1m19 0h1m5 0h1m3 0h1m29 0h1m39 0h1m29 0h1M66 97h1m7 0h1m95 0h1M26 99h1m3 0h1m23 0h1m119 0h2M50 101h1m115 0h1M22 103h1m75 0h1m3 0h1M22 105h1m9 0h1m33 0h1m37 0h1M28 107h1m63 0h1m3 0h1m51 0h1M90 109h1M28 111h1m13 0h1m37 0h1m1 0h1m59 0h1M30 113h1m23 0h1m15 0h1m13 0h1M24 115h1m9 0h1m7 0h3m19 0h1m17 0h1m11 0h1m3 0h1M28 117h1m67 0h1m27 0h1m1 0h1M32 119h1m9 0h1m1 0h1m65 0h1m7 0h1M126 121h1m31 0h1M56 123h2m42 0h1m1 0h1m5 0h1M92 127h1M92 129h1M38 131h2m8 0h1m17 0h1m33 0h1M68 133h1M48 135h1m73 0h1M52 137h1m19 0h1M42 139h1m27 0h2M30 141h1m33 0h1M108 143h1m1 0h1M84 145h1M98 147h1M96 149h1M52 151h1m13 0h1M66 153h1"/>
<path id="u6c" d="M165 10h1m3 0h1M151 14h1M147 16h1m9 0h1m11 0h1M157 24h1m7 0h1m1 0h1M187 26h1M147 28h1m13 0h1M143 30h1m45 0h1M135 32h1M157 34h1m11 0h1M165 38h1m5 0h1m7 0h1m11 0h1M137 40h1m39 0h1M129 42h1m15 0h1m9 0h1m23 0h1M131 46h1m53 0h1M131 48h1m41 0h1M139 50h2m32 0h1M135 54h1m37 0h1M143 56h1M117 58h1M85 60h1m55 0h1m33 0h1m1 0h1M89 62h1m25 0h1m1 0h1M91 64h1m5 0h1m71 0h1m3 0h1m3 0h1M87 66h1m7 0h2M85 68h1m13 0h1m17 0h1m47 0h1m3 0h1M97 70h1m41 0h1m41 0h1M79 72h1m17 0h1m27 0h1m39 0h1m7 0h2M79 74h1m1 0h1m7 0h3m71 0h1m9 0h1M85 76h1m71 0h2m6 0h1m3 0h1M87 78h1m1 0h1m7 0h2m72 0h1m11 0h1m11 0h1M57 80h1m53 0h1m75 0h1M15 82h1m51 0h1m69 0h1m17 0h1M15 84h1m37 0h1m11 0h1m15 0h1m1 0h1m71 0h1M11 86h1m3 0h1m27 0h1m1 0h1m57 0h1m37 0h1m1 0h1M21 88h1M29 90h1m3 0h1m5 0h1m11 0h1m9 0h1M25 92h1m15 0h1m55 0h1M79 94h1m15 0h1M37 96h1m125 0h1M31 100h2m8 0h1m125 0h1M29 102h1m3 0h2m36 0h1m1 0h1m17 0h1m67 0h1m17 0h1M21 104h1m1 0h1m1 0h1m29 0h1m107 0h2M19 106h1m11 0h1m5 0h1m45 0h1m75 0h1m3 0h1m7 0h1M31 108h1m1 0h1m3 0h1m109 0h1M23 110h1m9 0h2m2 0h1m103 0h1m5 0h1m5 0h1M99 112h1m55 0h2M25 114h1M25 116h1m17 0h1m49 0h1m1 0h1M59 118h1m1 0h1m15 0h1m23 0h1m23 0h1M29 120h1m7 0h1m7 0h1m55 0h1m17 0h1m13 0h1M99 122h1M81 124h1m11 0h1m11 0h1m43 0h1M55 126h1m23 0h2m28 0h1M33 128h1m19 0h1m21 0h1m7 0h1m65 0h1M37 130h2m14 0h1m5 0h1m57 0h1m5 0h1M43 132h3m83 0h1m19 0h1M25 134h1m31 0h1m13 0h1m53 0h1m19 0h1M119 136h1m23 0h1M91 142h1M95 146h1M85 148h1M29 150h1m75 0h1M51 154h1"/>
<path id="u6d" d="M157 13h1M177 17h1M165 19h1m3 0h1M155 21h1m9 0h1M185 25h1m1 0h1M147 27h1m31 0h1m3 0h1M163 29h1m19 0h1M129 35h1M131 37h1M119 39h1m5 0h1m19 0h1M123 41h1m41 0h2m2 0h1m13 0h1M159 43h1m9 0h1m15 0h1M159 45h1M115 49h1m63 0h1M155 51h1M121 53h1m1 0h2M135 57h1M143 59h1m31 0h1M155 61h1m17 0h1M53 63h1m3 0h1m43 0h1M87 67h1M81 69h1m1 0h1m1 0h1m3 0h1m19 0h2m22 0h1m33 0h1M175 71h1m3 0h3M75 73h1m7 0h1m21 0h1M79 75h1m89 0h1M79 77h1m85 0h1m5 0h1m7 0h1M77 79h1m9 0h1m7 0h1M53 81h1M81 83h1m83 0h2M9 85h2M83 87h1m9 0h1m51 0h1M27 89h1m23 0h1m31 0h1M45 91h1m13 0h1m43 0h1M55 93h1m125 0h1M23 95h1m23 0h1m79 0h1m33 0h1M13 97h1m147 0h1m7 0h2m8 0h1M175 99h1M163 101h1M25 103h1m9 0h1m1 0h1m43 0h1m19 0h2M27 107h2m44 0h1m83 0h1m7 0h1M33 109h1m3 0h1m7 0h1m7 0h1m15 0h1m3 0h1m7 0h1m55 0h1M35 111h1m53 0h1m43 0h1M53 113h2M43 115h2m16 0h1m19 0h2m14 0h2m68 0h1M87 117h1m11 0h1m3 0h1m29 0h1m27 0h1M55 119h1m3 0h1M51 121h1m1 0h1m1 0h1m37 0h1M45 123h1m5 0h1m3 0h3m27 0h1m21 0h2M49 125h1m93 0h1M29 127h1m35 0h1m47 0h1m33 0h1m5 0h1M53 129h1m43 0h1m19 0h1m25 0h1M37 131h3m15 0h1m5 0h1m27 0h1M57 133h1m21 0h1m47 0h1M65 135h1m29 0h1M81 137h1m47 0h1M55 139h1m15 0h1m49 0h1M57 141h1m77 0h1M83 143h1m7 0h1M95 145h1m7 0h1m3 0h1m13 0h1M83 147h1m1 0h1m11 0h2m8 0h1M103 149h1M45 151h1"/>
<path id="u7a" d="M168 10h1M180 12h1M150 14h1M148 16h1M158 20h1M138 24h1m3 0h1m13 0h1M154 26h1M152 28h1M128 34h1m7 0h1M148 36h1m23 0h1m7 0h1M134 38h1m47 0h1m3 0h1M132 40h1M164 42h2m14 0h1M182 44h1M110 50h1m63 0h1M122 52h1M118 54h1M178 56h1M136 58h1m27 0h1M84 60h1m57 0h1M54 62h1m61 0h1m13 0h1m1 0h1m35 0h1m1 0h1M78 64h1m5 0h1m3 0h1m17 0h1m55 0h1m5 0h1m1 0h1m7 0h1M48 66h1m73 0h1M110 68h1m1 0h1m9 0h1m41 0h1m11 0h1m3 0h1M84 70h3m63 0h1m25 0h1M76 72h1m3 0h1m1 0h3m1 0h1m53 0h1m13 0h1m5 0h1M84 74h2m2 0h1m19 0h1m23 0h1m39 0h1M90 76h1m1 0h1m51 0h1m33 0h1M70 78h1m1 0h1m15 0h1m21 0h1m61 0h1M74 80h1m3 0h1m71 0h1m7 0h1M82 84h1m3 0h1m47 0h1m19 0h1M50 86h1m29 0h1m1 0h1m3 0h1m1 0h1m43 0h1m19 0h1M60 88h1m3 0h1m15 0h1m11 0h2m64 0h1M40 90h1m13 0h1m113 0h1m3 0h1M76 92h1m19 0h1M12 94h1m33 0h1M92 96h1m67 0h1M60 98h1m35 0h1M64 100h1m19 0h1m89 0h1M40 102h1m1 0h1m39 0h1m3 0h1m15 0h2m56 0h1m7 0h1M16 104h1m1 0h1m5 0h1m1 0h1m7 0h3m61 0h1m63 0h1M40 106h1M24 108h1m47 0h1M74 110h1m15 0h1m45 0h1m33 0h1M20 112h1m5 0h1M80 116h1m41 0h1m5 0h1M48 118h1m7 0h1m1 0h1m7 0h1m11 0h1m1 0h1m43 0h1m19 0h1M38 120h1m79 0h1M90 122h1m5 0h1m63 0h1M156 124h1M98 126h1m19 0h1m19 0h1M90 128h1m11 0h1m11 0h1m27 0h1M44 130h1m3 0h1m71 0h1m23 0h1M56 132h1m29 0h1m47 0h1M32 134h1m71 0h1m15 0h1M40 136h1M44 138h1m11 0h1m7 0h1M38 140h1m15 0h1m1 0h1m73 0h1m5 0h1M114 142h1M32 144h1m3 0h1m61 0h1m29 0h1M96 146h1m1 0h1m9 0h1M34 148h1M64 152h1M40 154h1"/>
<path id="u7b" d="M160 11h1m21 0h1M156 15h1m11 0h1m7 0h1M144 23h2M178 25h1m5 0h1M146 27h1M150 29h1m5 0h1M166 33h1M178 35h1M154 37h1M126 39h1m53 0h2m2 0h1M128 41h1M172 45h1m1 0h1M136 47h1M130 49h2m6 0h2m24 0h1m25 0h1M108 51h1M112 53h1M138 55h1m25 0h1M84 57h1m37 0h1m47 0h1m1 0h1m3 0h1M126 59h1m7 0h1M116 61h1m51 0h1m7 0h1M80 63h1M58 65h1m37 0h1M80 67h1m7 0h2m20 0h1m23 0h1m27 0h1M98 69h1m3 0h1M62 71h1m7 0h1m9 0h3m17 0h1m5 0h1m81 0h1M74 73h1m9 0h1m3 0h3M88 75h1m5 0h2m38 0h1m11 0h1m29 0h1m9 0h1M72 77h1m1 0h1m3 0h1m9 0h1m1 0h1m13 0h1m29 0h1m35 0h1M78 79h1m11 0h1m77 0h1m13 0h1M80 81h1M82 83h1m53 0h1m13 0h2m12 0h1m5 0h1m9 0h1M88 85h1m19 0h1m33 0h1m17 0h2m18 0h1M54 87h1m31 0h1m3 0h1m87 0h1M12 89h1m13 0h1m57 0h1m49 0h1m39 0h1M36 91h1m5 0h1m17 0h2m8 0h1m5 0h1m5 0h1M14 93h1m21 0h1m19 0h1m7 0h1m17 0h1m1 0h1M22 95h1m19 0h1m39 0h1m85 0h1M14 97h1m31 0h1m51 0h1m69 0h1m7 0h1M72 99h1m13 0h1m73 0h1M30 101h1m21 0h1m39 0h1m69 0h1M30 103h1m11 0h1m129 0h1M18 105h1m5 0h1m13 0h2m18 0h1m19 0h2m76 0h1M18 107h1m1 0h1M32 109h1m29 0h1m39 0h1m57 0h1M26 111h1m43 0h1m5 0h1M22 113h1m71 0h1M36 115h1m11 0h1M36 117h1m1 0h1m3 0h2m26 0h2m18 0h1M52 119h1m9 0h1m7 0h1m51 0h1M62 121h1m23 0h1m73 0h1M44 123h1m41 0h1m11 0h2m6 0h1M38 125h1M48 127h1m1 0h1m47 0h1m1 0h1m53 0h1M42 129h1m3 0h1m21 0h1M42 131h1m9 0h1m65 0h1M44 133h1M44 135h1m1 0h1M40 137h1m83 0h1M52 139h1m13 0h1m13 0h1M52 141h1M76 143h1m41 0h1m5 0h1M110 145h1M46 153h1"/>
<path id="u7c" d="M175 10h1M175 16h1M167 18h1M165 20h1M155 24h2m12 0h1M157 26h1M135 34h2m48 0h1M173 38h1m1 0h1M127 42h1m37 0h1m3 0h1M161 44h1M91 46h1m37 0h1M115 52h1m57 0h1m1 0h1M157 54h1M111 56h1M111 58h1m29 0h1m33 0h1M91 60h1M53 62h2m42 0h1m49 0h1m15 0h1m11 0h1M55 64h1m27 0h2m10 0h1m63 0h1M97 66h1m67 0h1M73 68h1m9 0h1m13 0h1m9 0h1M85 70h2m2 0h1m35 0h1m47 0h1m9 0h1m5 0h1M83 72h2m4 0h1m49 0h2m26 0h1m23 0h1M73 74h1m11 0h1M75 76h1m3 0h1m3 0h1m13 0h1m37 0h1M69 78h2m6 0h1m5 0h1m1 0h1m95 0h1M11 80h1m55 0h1m5 0h2m12 0h1m13 0h1m33 0h1m21 0h2m6 0h1m9 0h1M81 82h1m1 0h1m69 0h1m7 0h1m9 0h1M67 84h1m37 0h1M43 88h1m43 0h1m5 0h1m85 0h1M45 90h1m35 0h1M11 92h1m51 0h1m1 0h1m5 0h1m11 0h1m43 0h1m53 0h1M65 94h1m37 0h1m31 0h1M63 96h1m63 0h1M23 98h1m61 0h1m3 0h1M43 100h1m55 0h1m79 0h1M85 102h2m16 0h1m15 0h1m43 0h1M35 104h2m40 0h1m71 0h1M73 106h1m79 0h1M29 108h1m15 0h1m15 0h1m7 0h1M19 110h1m21 0h1M41 112h1m7 0h1m3 0h1m17 0h1M27 114h1m43 0h1m13 0h1m15 0h1M35 116h1M31 118h1m37 0h1m25 0h1m65 0h1M91 120h1M47 122h1M35 124h1m23 0h1m17 0h1m5 0h1m27 0h1m5 0h1M29 126h1m17 0h1m5 0h1M39 128h1m27 0h1M89 130h1m17 0h1M51 132h1m15 0h1M117 134h1M75 136h1m45 0h1M55 138h2m78 0h1M45 140h1m23 0h1m9 0h1m43 0h1m3 0h1M43 142h1m1 0h1m63 0h1m13 0h1M67 144h1m5 0h1m37 0h1M37 146h1m63 0h1M71 148h1m27 0h1m3 0h1"/>
<path id="u7d" d="M171 11h1M165 13h1m11 0h1m3 0h1M159 17h1m7 0h1M145 23h1m7 0h1m3 0h1M133 25h1M171 31h1M135 33h1m11 0h1m9 0h1M135 35h1M171 37h1m1 0h1m5 0h1M143 39h1m37 0h1M171 41h1m13 0h1M151 45h1m35 0h1M171 47h1M131 49h1m5 0h3M181 51h1M83 57h2M85 59h1m39 0h2m42 0h1M53 61h1m99 0h1M51 63h1m27 0h2m14 0h1m1 0h1m79 0h1M83 65h1m17 0h1m9 0h1m43 0h1M89 67h1m5 0h1m59 0h1m17 0h1M139 69h1m35 0h1M81 71h2m4 0h1m5 0h1m5 0h2M63 73h1m15 0h1m1 0h1m7 0h2m88 0h1M61 75h1m21 0h1m11 0h1m55 0h1m3 0h1M77 77h2m4 0h1m1 0h1m1 0h2M55 79h1m33 0h2m88 0h1M75 81h1m15 0h1m43 0h1m19 0h1m9 0h1M87 83h1m63 0h1m17 0h2m20 0h1M81 85h1m3 0h1m45 0h1m29 0h1M51 87h1m29 0h1M29 89h1m13 0h1m15 0h1m21 0h1m5 0h1m21 0h1M11 91h1m17 0h1m25 0h1m5 0h1m25 0h1m89 0h1M51 93h1m19 0h1m21 0h1m83 0h1M13 95h1m21 0h1m17 0h1m39 0h1m77 0h1m5 0h1M23 97h1m25 0h1m9 0h1m61 0h1M27 99h1m11 0h1m9 0h1m67 0h1m55 0h1M33 101h1m29 0h1m55 0h1M17 105h2m20 0h1m11 0h1m27 0h1m75 0h2M33 107h1m3 0h1m1 0h1m45 0h1M21 109h1m117 0h1M19 111h1m5 0h2m2 0h1m9 0h1m3 0h1m1 0h1m35 0h1m17 0h1m35 0h1m7 0h1m7 0h1M85 113h1M23 115h1m17 0h1m45 0h1m77 0h1M35 117h2m6 0h1m27 0h1m3 0h1m51 0h1m35 0h1M35 119h1m13 0h1m79 0h1M35 121h1m47 0h1m15 0h1m3 0h1m31 0h1M99 123h1m1 0h1M45 125h1M41 129h2m18 0h1M71 131h1m35 0h1M131 133h1m9 0h1M141 135h1m1 0h1M79 137h1m39 0h1M69 139h1m63 0h1M123 141h1M31 143h1m43 0h2m4 0h1m17 0h1m27 0h1M105 145h1m3 0h2m14 0h1M73 147h1m7 0h1M65 149h1m15 0h1m13 0h1"/>
<path id="u8a" d="M174 10h1m1 0h1M176 16h1M144 20h1M154 30h1M190 34h1M170 36h1M130 40h1m5 0h1m29 0h3M122 42h1m1 0h1M54 44h1m65 0h1m21 0h1m3 0h1M88 46h2M172 48h1M88 50h1m27 0h1m67 0h1M104 52h2m20 0h1m17 0h1M80 56h1m27 0h1m61 0h1M168 58h1M50 60h1m35 0h1m13 0h1m35 0h1m23 0h1M70 62h2m22 0h1M48 64h1m27 0h1m3 0h1m15 0h1M84 66h1m3 0h3m39 0h1m23 0h1m3 0h1M80 68h1m11 0h1m47 0h1M90 70h1m1 0h2m4 0h1m1 0h1m5 0h1m25 0h1m25 0h1m3 0h1m3 0h1m15 0h1M142 72h1M66 74h1m5 0h1m25 0h1m53 0h1m7 0h1M64 76h1m5 0h1m59 0h1m21 0h1M66 78h1m1 0h1m9 0h2m2 0h1m7 0h1m67 0h1m31 0h1m3 0h1M90 80h1m57 0h1m17 0h1M74 82h1m7 0h1m69 0h1m13 0h1m13 0h1m3 0h1M72 84h1m7 0h1m25 0h2m40 0h1m21 0h1M66 86h1m11 0h1m5 0h1M22 88h1m19 0h1m15 0h1m25 0h1M60 90h1m19 0h1m17 0h1m77 0h1M102 92h1M44 94h1m7 0h1m35 0h3m35 0h1M42 96h1m47 0h1m83 0h1M72 98h1m3 0h1M70 100h1m101 0h1M100 102h2m2 0h1M66 104h1m13 0h1M58 106h1m45 0h1m47 0h1M148 108h1M24 110h1m7 0h1m11 0h1m61 0h1M24 112h1m17 0h1m7 0h1m33 0h1m31 0h1m9 0h1m25 0h1M22 114h1m1 0h1m11 0h1M34 116h1m29 0h1M40 118h3m27 0h1m37 0h1m19 0h1M34 120h1m9 0h1m41 0h1m25 0h1M42 122h1M34 124h1m13 0h1m9 0h1m37 0h2m20 0h1m9 0h2M104 126h1M40 128h1m65 0h1m15 0h1m1 0h1M28 130h1m21 0h1m9 0h2m48 0h1M80 132h1m1 0h1M64 134h1m75 0h1M90 136h1m1 0h1M26 138h1m47 0h1m63 0h2M42 140h1M54 142h2m30 0h1m35 0h1M106 144h1m13 0h1m1 0h1M72 146h1M72 148h1M66 150h1M66 152h1M46 158h1"/>
<path id="u8b" d="M176 11h1M166 13h1M146 21h1m37 0h1M160 27h1M158 29h1M160 31h1m1 0h1m7 0h1M168 33h1M166 35h1M148 37h1M122 39h1M150 41h1m33 0h1M122 43h1m21 0h1M84 45h1m85 0h1M88 47h1M140 49h2M80 51h1m47 0h1M56 53h1m1 0h1m49 0h1M84 55h1M48 57h1m93 0h1M48 59h1m35 0h1m3 0h1m79 0h1M74 61h2m76 0h1m19 0h1M50 63h1m33 0h2m10 0h1m19 0h1m31 0h1M66 65h1m15 0h1m1 0h1m3 0h1M62 67h1m11 0h1m17 0h2M56 69h1m9 0h2m10 0h1m1 0h1m1 0h1m47 0h1m63 0h1M86 71h1m1 0h2m2 0h1m9 0h1m7 0h1m45 0h1m5 0h1M76 73h1m1 0h1m75 0h1M64 75h1m5 0h3m5 0h1m11 0h2m12 0h1m45 0h1m21 0h1m15 0h1M76 77h1m3 0h1m1 0h1m9 0h2m58 0h1M62 79h1m19 0h1m1 0h1m3 0h1m47 0h1m15 0h1M76 81h1m1 0h1M78 83h1M74 85h3m25 0h1m59 0h1m3 0h1M52 87h1m25 0h1m1 0h1m3 0h1M40 89h1m13 0h1m9 0h1m5 0h1m67 0h1M50 91h1m37 0h1M12 93h2m80 0h1m67 0h1m9 0h1M90 95h1m1 0h1m77 0h1M40 97h2m12 0h1m23 0h1M40 99h1m25 0h1m49 0h1m59 0h1M32 101h1m135 0h1m5 0h1M46 103h1m29 0h1m17 0h1m1 0h1M54 105h1m103 0h1m1 0h1M42 107h1m109 0h1m3 0h1m7 0h1M46 109h1m33 0h1m73 0h1M56 111h1m1 0h1m71 0h1m25 0h1M24 113h1m1 0h1M66 115h1m25 0h1m21 0h1M34 117h1m49 0h3m17 0h1m13 0h1m13 0h1M46 119h1M36 121h1m83 0h1m9 0h1M42 125h1m25 0h1m23 0h2m6 0h1M72 127h1m31 0h1m31 0h1M54 129h1m5 0h1m79 0h1M60 131h1m21 0h1m47 0h1M56 135h1m15 0h1m3 0h2m2 0h1m3 0h1m57 0h1M90 137h1M46 139h1m27 0h1m21 0h1M42 141h1m45 0h1m43 0h1M82 143h1M118 145h1M52 147h1m29 0h1m17 0h1M44 149h1m17 0h1m9 0h1m1 0h1M40 153h2"/>
<path id="u8c" d="M175 14h1M161 16h1m23 0h1M145 18h1M181 20h1M133 28h1m19 0h1m11 0h1M129 34h1M167 36h1M165 40h4m16 0h1M131 42h1m17 0h1M173 44h1m15 0h1M89 46h1m27 0h1m5 0h1m25 0h1m1 0h1M81 48h1m77 0h1m3 0h1m23 0h1M87 50h2m6 0h1M81 52h1m17 0h1m5 0h1m7 0h1m73 0h1M115 58h1m17 0h1M115 60h1M69 62h3m3 0h1m29 0h1m21 0h1M71 64h1m7 0h2m6 0h1m29 0h1m9 0h1m43 0h1M83 66h2m4 0h2m2 0h1m33 0h1m41 0h1m3 0h1M79 68h2m8 0h1m1 0h2m86 0h1M87 70h1m5 0h1m23 0h1m59 0h1M81 72h1m3 0h1m1 0h1m3 0h1m63 0h1M71 74h2m14 0h1m47 0h1m15 0h2m4 0h1M77 76h1m9 0h1m11 0h1M71 78h1m1 0h1m5 0h1m1 0h2m24 0h1m3 0h1m25 0h1m19 0h2m6 0h1m27 0h2M69 80h1m11 0h1m7 0h2M59 82h1m25 0h1m49 0h1M93 84h1m13 0h1m53 0h1m7 0h2m10 0h1m11 0h1M51 86h1m21 0h1m7 0h1m1 0h2m54 0h1m13 0h1m1 0h1M9 88h1m43 0h1m3 0h2m6 0h1m15 0h1m75 0h1m25 0h1M49 90h1m33 0h1m49 0h1M67 92h1m1 0h1m29 0h1m37 0h1M43 94h2m42 0h4M13 96h1m21 0h1m5 0h2m130 0h2M163 98h1M131 100h1M89 102h1m3 0h1m1 0h1m3 0h3M39 104h1m29 0h1m27 0h1m53 0h1M81 106h1m69 0h2M35 110h1m63 0h1m49 0h1M45 112h1M35 114h2m2 0h1m1 0h1m13 0h1M167 116h1M25 118h1m1 0h1m9 0h1m3 0h2m62 0h1m1 0h2m22 0h1M55 120h1M77 122h1M43 124h1m1 0h1m51 0h1m15 0h1m15 0h1M51 126h1m17 0h1m3 0h1m1 0h1m1 0h1m13 0h1m23 0h1m25 0h1M85 128h1m1 0h1m33 0h2M61 130h1m7 0h1m73 0h1M147 132h1M45 134h1m13 0h1m1 0h1m23 0h1m11 0h1m35 0h1m9 0h1M53 136h1m63 0h1M117 138h1m3 0h1m17 0h1M115 140h1M55 142h1m9 0h1m9 0h1M69 144h1m5 0h1m13 0h1m13 0h1M71 146h2M65 148h1"/>
<path id="u8d" d="M169 11h1m5 0h2M177 19h1M157 21h1M155 23h1m11 0h1M139 25h1m41 0h1M135 29h1M143 31h1m5 0h1M159 33h1M145 35h1m9 0h1m15 0h1m1 0h1M49 39h1m117 0h1m17 0h1M173 41h1M49 43h1m93 0h2m36 0h1M53 45h1m35 0h1M83 47h1m41 0h1M95 49h1m45 0h1m9 0h1M55 53h2m110 0h1M95 55h1m35 0h1M105 57h1m1 0h1m39 0h1M87 59h2m16 0h1m21 0h1m3 0h1M75 61h1m1 0h1m11 0h1m3 0h1m13 0h1m13 0h1m25 0h1m11 0h1M83 63h3m23 0h1m5 0h2m10 0h1m47 0h1M77 65h1M81 67h1m11 0h1m25 0h1m33 0h1M67 69h1m95 0h1m17 0h1M63 71h1m7 0h1m11 0h1m5 0h1m27 0h1m17 0h1m31 0h1M85 73h1m5 0h1m57 0h1m11 0h1M57 75h1m11 0h4m2 0h1m9 0h1m3 0h3m1 0h1m93 0h2m2 0h1M65 77h1m3 0h1m3 0h1m19 0h1M73 79h1m7 0h2m8 0h1M15 81h1m67 0h1m1 0h1m3 0h1m5 0h1m3 0h1M15 83h1m61 0h2m46 0h1m55 0h1m1 0h1M43 85h1m7 0h1m11 0h1m3 0h1m7 0h2m10 0h1m57 0h1M43 87h1m33 0h2M49 89h1m19 0h2M63 91h1m9 0h1m7 0h1M13 93h1m35 0h1m31 0h1M41 95h1m39 0h1M41 97h1m1 0h1M121 99h1M15 101h1M39 103h1M43 105h1m1 0h1m65 0h1M17 107h1m71 0h1m61 0h2m6 0h1M25 109h1m15 0h1m105 0h1m15 0h1M23 111h1m17 0h1m33 0h1m43 0h1M91 113h1M37 115h1m1 0h1M23 117h1m17 0h1m3 0h1m33 0h1m5 0h2m36 0h1M29 119h1m45 0h1m7 0h1m21 0h1m3 0h1M63 121h1m65 0h2M69 123h1m19 0h1m35 0h1m5 0h1m23 0h1M83 125h1m3 0h1m5 0h1M47 127h1M75 129h1M51 133h1m3 0h1m7 0h1m7 0h1m5 0h1m31 0h1m13 0h1m23 0h1M69 135h1m7 0h1m21 0h1m15 0h1M117 137h1m21 0h1M43 139h1M59 141h1m13 0h1m27 0h1M115 143h1M35 147h1M31 149h1m5 0h1m77 0h1M105 151h1M41 153h1m25 0h1M49 157h1"/>
<path id="u9a" d="M160 8h1M158 10h1m11 0h1m11 0h1M154 14h1m9 0h1M168 18h1M156 20h1M132 28h1M152 32h1M130 34h1m27 0h1m19 0h1M158 36h1M120 38h1m23 0h1m3 0h1M48 40h2m94 0h1m33 0h1M48 42h1m109 0h1M52 46h2m28 0h2m6 0h1M88 48h5m1 0h1m43 0h1m43 0h1M86 50h1m7 0h1m51 0h1m33 0h1M52 52h1m1 0h1m25 0h1m59 0h1M58 54h1m25 0h3m11 0h1m7 0h1m67 0h1M54 56h2m2 0h1m25 0h1m15 0h1m9 0h1m21 0h1m15 0h1M48 58h1m35 0h1m3 0h2M52 60h1m19 0h1m3 0h1m13 0h1m5 0h2m60 0h1m15 0h1M52 62h1m23 0h1m3 0h1m1 0h1m7 0h2m6 0h1m29 0h1m19 0h1M60 64h2m8 0h1m11 0h1m15 0h1m55 0h1M60 66h1m1 0h1m7 0h1m11 0h1m9 0h1m79 0h1M66 68h1m7 0h2m2 0h1m21 0h1m53 0h2m36 0h1M64 70h1m13 0h1M70 72h2m16 0h1m1 0h1m11 0h1m73 0h1M48 74h2m18 0h1m7 0h2m2 0h1m53 0h1m9 0h2m2 0h1m1 0h1m25 0h1m3 0h1M68 76h2m12 0h1m3 0h1m53 0h1M74 78h2m4 0h1m3 0h1m1 0h1m9 0h1M66 80h1m3 0h1m1 0h1m3 0h1m21 0h1m81 0h1M88 82h2m4 0h2M70 84h2m12 0h2m14 0h2M72 86h1m23 0h1m61 0h1M66 88h1m9 0h2m8 0h1m43 0h1m39 0h1M44 90h1m1 0h1m29 0h3m11 0h1M60 92h1m3 0h1m15 0h1m1 0h1m43 0h1M108 94h1M80 96h1m45 0h1m43 0h1m5 0h1M40 98h1m73 0h1m61 0h1m1 0h1M34 100h1m53 0h1m79 0h1m1 0h1M94 102h1m1 0h1m61 0h1m13 0h1M32 104h1m45 0h1m9 0h1m71 0h1M64 106h1m31 0h1M42 108h1m15 0h1m15 0h1m9 0h1m71 0h1M26 110h1m21 0h1m39 0h1M30 112h1m7 0h1m31 0h1m35 0h1m43 0h1M34 114h1m55 0h1m1 0h1M54 116h1M72 118h1m39 0h1M58 120h1M58 122h1m19 0h1M42 124h1M28 126h1m23 0h1m13 0h1m7 0h1M74 128h1m9 0h1M108 130h1M30 134h1M42 136h1m5 0h1m21 0h1m23 0h1M104 138h1M116 140h1m5 0h1m3 0h1m5 0h1M88 142h1m29 0h1M70 144h1m3 0h1M70 146h1m31 0h1M46 154h1"/>
<path id="u9b" d="M164 11h1m5 0h1M150 17h1m13 0h1m15 0h1M146 19h1m19 0h1M148 25h1m15 0h1m3 0h1m17 0h1M134 33h1M128 35h1m45 0h1M140 37h1m31 0h1M142 39h1m27 0h1m5 0h1M48 41h1M88 45h1m1 0h1m99 0h2M50 47h1m3 0h1m37 0h1m25 0h1m1 0h1m29 0h1m17 0h1m3 0h1M54 49h1m33 0h1m3 0h1m1 0h1m1 0h1M50 51h1m33 0h1m3 0h1m3 0h1m1 0h1m1 0h1m7 0h1m19 0h1m15 0h1M54 53h1m25 0h1m17 0h2M58 55h1m39 0h3m1 0h1M80 57h1m1 0h1m21 0h1m7 0h1M80 59h1m1 0h1m3 0h1m3 0h2M54 61h1m29 0h1m5 0h1m5 0h2M70 63h1m1 0h1m1 0h2m18 0h1m3 0h1m15 0h1m13 0h1M70 65h3m3 0h1m1 0h2m6 0h2m76 0h1m11 0h2M84 67h2m26 0h1m51 0h1M68 69h1m45 0h1m21 0h1m3 0h1m43 0h1M64 71h1m3 0h2m6 0h2m12 0h2m76 0h1m27 0h1M56 73h1m9 0h1m1 0h1m11 0h1m5 0h2M66 75h1m9 0h1m3 0h1m75 0h1m3 0h1m19 0h1M64 77h1m5 0h2m108 0h1M74 79h1m5 0h1m27 0h1m25 0h1m7 0h3m3 0h1m1 0h1M72 81h1m1 0h1m11 0h1m5 0h1m31 0h1m9 0h1m13 0h1M70 83h1m15 0h1m37 0h1m51 0h1M48 85h1M64 87h1m5 0h1m3 0h2m16 0h1m9 0h1m39 0h1M22 89h1m23 0h1m13 0h1m1 0h1m3 0h1m11 0h1m1 0h1m5 0h1M48 91h1m9 0h1m37 0h1m39 0h1M50 93h1m3 0h1M100 95h1M178 97h1M48 99h1m7 0h1m73 0h1m37 0h1m9 0h1M158 101h1m17 0h2M42 105h1m59 0h1m7 0h1M16 107h1m63 0h2m78 0h1M20 109h1m5 0h1m45 0h1m65 0h1M116 111h1m17 0h1m9 0h1m3 0h1M64 113h1M40 115h1m39 0h1m5 0h1m1 0h1m7 0h1M56 117h1m3 0h1m11 0h1m35 0h1m13 0h1M84 119h1M42 121h1m11 0h1m39 0h1m19 0h1M118 123h1M44 125h1m1 0h1m57 0h1m3 0h1M58 127h1m35 0h1m21 0h1M92 131h1m19 0h1M116 133h1M118 137h1m21 0h1m1 0h1M50 139h1m21 0h1m47 0h1M80 141h1m17 0h2m2 0h1m19 0h1M64 143h1m9 0h1m13 0h1m23 0h1m15 0h1m1 0h1M104 145h1M44 151h1M44 153h1M50 155h1"/>
<path id="u9c" d="M161 10h1M149 16h1m17 0h1M155 18h1m5 0h1M163 22h1m1 0h1M139 24h1m5 0h1M143 26h1M161 30h1M133 34h1M135 38h1M49 40h1M133 42h1m5 0h1M53 44h1M49 46h1m3 0h1m29 0h1M89 48h4m86 0h1M51 50h1m29 0h1m3 0h2m6 0h2m26 0h1M85 52h1m41 0h1M85 54h2M51 56h1m3 0h1m21 0h1m21 0h2m12 0h1m25 0h1m29 0h1m1 0h1M51 58h1m37 0h1m13 0h1m59 0h1m7 0h1M51 60h2m18 0h2m16 0h2m4 0h3m69 0h1M87 62h1m3 0h1m17 0h1m67 0h1M61 64h1m27 0h1m29 0h1M65 66h1m7 0h1m1 0h1m59 0h1m41 0h1M61 68h1m13 0h1m27 0h1m1 0h1m19 0h1m29 0h1m7 0h1m7 0h1M71 70h1m5 0h2m4 0h1m7 0h1m65 0h1m3 0h1m17 0h1M71 72h1m1 0h1m1 0h1M49 74h1m13 0h1m11 0h3m47 0h1m19 0h1M65 76h1m3 0h1m1 0h1m31 0h1m41 0h1M67 78h1m7 0h1m77 0h1M75 80h2m28 0h1m43 0h1M77 82h1m1 0h1m9 0h1m1 0h1m3 0h1m9 0h1m45 0h1m15 0h1m27 0h1M71 84h1m13 0h1m15 0h1m7 0h1m29 0h1m31 0h1M85 86h1m1 0h1M41 88h1m9 0h1m25 0h1m1 0h1M69 90h1m7 0h2m6 0h1m51 0h1M47 92h1m29 0h1M13 94h1m47 0h1m13 0h1m95 0h1M125 96h2m48 0h2M39 98h2m8 0h1M87 100h2M47 104h1m107 0h1M89 106h1m13 0h1m7 0h1M19 108h1m19 0h1m97 0h1m25 0h1M45 110h1m89 0h1m35 0h1M33 112h1m83 0h1M33 114h2m30 0h1m37 0h1m25 0h1M39 116h1m31 0h1m29 0h1M47 118h1m23 0h2m2 0h1m53 0h1M43 122h1m47 0h1m9 0h1m17 0h1M125 124h1m5 0h1m25 0h1M49 128h1m51 0h1m17 0h1M43 130h1m39 0h1M69 132h1M79 134h1m3 0h1m27 0h1m29 0h1M61 136h1M97 142h1m9 0h1m25 0h1M65 144h1m33 0h1m19 0h1M85 146h1m13 0h1M35 148h1m61 0h1M85 150h1M63 152h1"/>
<path id="u9d" d="M175 17h1M155 19h1M181 23h1M155 25h1M155 29h1M135 31h1m53 0h1M177 35h1m1 0h1M143 37h1m9 0h1M135 39h1m47 0h1M157 41h1M53 43h1m65 0h1M49 45h1m37 0h2m102 0h1M53 47h2m130 0h1M85 49h1m1 0h2m56 0h1M87 51h2m14 0h2m4 0h1m69 0h1M99 53h1m5 0h1m75 0h1M99 55h2M49 57h1m5 0h1m23 0h2M91 59h1m1 0h1m1 0h1M81 61h1m15 0h1m3 0h1m65 0h1m9 0h1M55 63h1m19 0h1m11 0h1m1 0h1m79 0h1m23 0h1M71 65h2m6 0h1m5 0h3m1 0h1m87 0h1M67 67h1m5 0h1m5 0h1m5 0h1m19 0h1M73 69h1m19 0h1m9 0h1m9 0h2m20 0h2M69 71h1m5 0h3m13 0h1m17 0h1m73 0h1M71 73h1m1 0h1m3 0h1m9 0h1m19 0h1m23 0h1m21 0h1m3 0h1m19 0h1M73 75h1m75 0h1m29 0h2m4 0h1M71 77h1m3 0h1m5 0h1m9 0h1m55 0h1m47 0h1M69 79h1m9 0h2m4 0h1m51 0h1m3 0h4m12 0h1m9 0h1m3 0h1M57 81h1m9 0h1m9 0h1m3 0h1m15 0h1m41 0h1m43 0h1m9 0h1M55 83h1m13 0h2m4 0h1m3 0h1m5 0h2m46 0h1M45 85h1m9 0h1m1 0h1m19 0h1m5 0h1m71 0h1M67 87h1m7 0h1m9 0h1M11 89h1m21 0h1m11 0h2m30 0h2m50 0h1M57 91h2M57 93h1m77 0h1M55 95h1M39 97h1m33 0h1m23 0h1m5 0h1M79 99h1M27 101h1m11 0h1m5 0h1m45 0h1m3 0h1m81 0h1M41 103h1m19 0h1M47 105h1m35 0h1m69 0h1m3 0h1M31 107h1m49 0h1M77 109h1M33 111h1m15 0h1m19 0h1M29 113h1m101 0h1M33 115h1m23 0h1M27 117h1m5 0h1m15 0h1m15 0h1m27 0h1M43 119h1M125 121h1M35 123h1m61 0h1M79 125h1m5 0h1m3 0h1m9 0h1m7 0h2m8 0h1m11 0h1M33 127h1m41 0h1m29 0h1M69 129h1m3 0h1m25 0h1m13 0h1m9 0h1M29 131h1m13 0h1m7 0h1m39 0h2m4 0h1M33 133h1m15 0h1m9 0h1m33 0h1m35 0h1m5 0h1m9 0h1M57 135h1m1 0h1m61 0h1M117 139h1m21 0h1M41 141h1m7 0h1m11 0h1m23 0h1m13 0h1m19 0h1m13 0h1M73 143h2m50 0h1M55 147h1m9 0h1m3 0h1M73 149h1M51 151h1M37 153h1"/>
<path id="u10a" d="M164 10h1M166 12h1m3 0h2M156 14h1M158 16h1M162 22h1m7 0h1M160 24h1M136 26h2m28 0h1M164 28h1M166 30h1M138 32h1m11 0h1M150 34h1m35 0h1M128 36h1m31 0h1M128 38h1m29 0h1m21 0h1M50 40h1m67 0h1m19 0h1M126 42h1m9 0h1m19 0h1M50 44h1m111 0h1M54 46h2m62 0h1M48 48h4m2 0h1m29 0h1m31 0h1m3 0h1m29 0h1M54 50h1m27 0h2m6 0h2m4 0h1m1 0h1m1 0h2m36 0h1m47 0h1M56 52h2m38 0h3m7 0h1m83 0h1M54 54h3m23 0h1m1 0h1m13 0h1M48 56h3m1 0h2m2 0h1m25 0h1m3 0h1m9 0h3m39 0h1m3 0h1m29 0h1M50 58h1m1 0h1m21 0h2m6 0h1m13 0h1m1 0h2M48 60h1m31 0h1m1 0h1m11 0h1m59 0h1m15 0h1M72 62h1m5 0h2m4 0h1m1 0h1m1 0h1m77 0h1M66 64h2m4 0h1m17 0h1m1 0h1m43 0h1M64 66h1m1 0h1m67 0h1m27 0h1m15 0h1M62 68h2m6 0h2m42 0h1m5 0h1m15 0h1m13 0h1M48 70h1m19 0h1m3 0h1m29 0h1m7 0h1m29 0h1m51 0h1M74 72h1m3 0h1m71 0h1m5 0h1m25 0h1M70 74h1M66 76h2m6 0h1m3 0h1m1 0h1m115 0h1m1 0h1M64 78h2m120 0h2M64 80h1m3 0h1m73 0h1m1 0h1m11 0h1m21 0h1m17 0h1M54 82h1m15 0h1m5 0h1m7 0h1m51 0h1m7 0h1m9 0h1m13 0h2M8 84h1m37 0h1m11 0h2m14 0h2m2 0h1m9 0h1m77 0h1M68 86h1m7 0h1m69 0h1m19 0h1M50 88h1m1 0h1m25 0h1M36 90h1m25 0h1m5 0h1m17 0h1M58 92h1m3 0h1M66 94h1m13 0h1M14 96h1m39 0h1M74 98h1m7 0h1m5 0h1m77 0h1M40 100h1m1 0h1m5 0h1m75 0h1m41 0h1M16 102h1m13 0h2M102 104h1m51 0h1m1 0h1m1 0h1M42 106h1m87 0h1m5 0h1m19 0h1m3 0h1M38 108h1m1 0h1m41 0h1M84 110h1m55 0h1m7 0h1M22 112h1m81 0h1M40 116h1m5 0h1m115 0h1M92 118h1m23 0h1M42 120h1m23 0h1m41 0h1M38 122h1m29 0h1m19 0h1m13 0h1M40 124h1m25 0h1m47 0h1M64 126h1m13 0h1m11 0h1M48 128h1m37 0h1m1 0h1M36 130h1m59 0h1m27 0h1M60 132h1m5 0h1m11 0h1m49 0h1M38 134h1m3 0h1m81 0h1m9 0h1M74 136h1M140 138h1M78 140h1m3 0h1M110 142h1m13 0h3M96 144h2m12 0h1m15 0h1M102 150h2"/>
<path id="u10b" d="M164 13h1M160 15h1m11 0h1M158 19h1M166 21h1M150 23h1M182 27h1M136 33h1m1 0h1m13 0h1M164 35h1M48 39h1m117 0h1m15 0h1M192 41h1M50 43h1m73 0h1m13 0h1m3 0h1m15 0h1m23 0h1M52 45h1m33 0h1m67 0h1M56 47h1m25 0h1m7 0h2m88 0h1M50 49h2m30 0h1m1 0h1m1 0h1m3 0h2M52 51h1m1 0h1m55 0h1M84 53h2m10 0h1m7 0h1m11 0h1M54 55h1m25 0h1m37 0h1m13 0h1M50 57h4m2 0h1m19 0h3m7 0h1m1 0h1m11 0h1m35 0h1M50 59h2m20 0h4m16 0h1m1 0h1m1 0h1m1 0h2m64 0h1M72 61h1m3 0h1m1 0h1m1 0h1m5 0h2m6 0h2m40 0h2m10 0h1m9 0h1M58 63h2m4 0h1m11 0h1m5 0h1m5 0h1m1 0h2m10 0h1m15 0h1M60 65h1m1 0h1m17 0h2m8 0h2m6 0h1m3 0h1m3 0h1m47 0h1m7 0h2M64 67h3m19 0h1m7 0h1m41 0h2m42 0h1M72 69h1m1 0h4m6 0h1m5 0h1m1 0h1m25 0h1m47 0h1M56 71h1m1 0h1m19 0h1m5 0h1m51 0h1M70 73h1m1 0h1m21 0h1m5 0h1m65 0h1M56 75h1m17 0h1m17 0h1m13 0h1m23 0h1m5 0h1M94 77h2m96 0h1m3 0h1M68 79h1m1 0h1m1 0h1m13 0h1m11 0h1m57 0h1m27 0h1M68 81h2m80 0h1M72 83h3m5 0h1m19 0h1m61 0h2M8 85h1m57 0h1m11 0h2m2 0h1m1 0h1m21 0h1M8 87h1m115 0h1m1 0h1m17 0h1m35 0h1m3 0h1M68 89h1m41 0h1M64 91h1m15 0h1m83 0h1M72 93h1m7 0h1m9 0h1M40 95h1m77 0h1m7 0h1M50 97h1m13 0h1m23 0h1m3 0h1m11 0h2m56 0h1m9 0h1M82 99h1m13 0h1m23 0h1m41 0h1M64 101h1m95 0h1M32 103h2M98 105h2m12 0h1m23 0h1M40 107h1m35 0h1m7 0h1M136 109h1M36 111h1m63 0h1M38 113h1m27 0h1m63 0h1m21 0h1M112 119h1M38 121h1M128 123h1M64 125h1m29 0h1m15 0h1m3 0h1M36 127h1m31 0h1m1 0h1m15 0h1M78 129h1m9 0h1m13 0h1M78 131h1M48 133h1m25 0h1m59 0h1M34 135h1m25 0h1M50 137h1M76 139h1m1 0h2m2 0h1m21 0h1m21 0h1M58 141h1m7 0h1m61 0h1M44 143h1M108 145h1m7 0h1m5 0h1M62 147h1M70 149h1m7 0h1M46 151h1M50 153h1m7 0h1"/>
<path id="u10c" d="M171 12h1M159 14h1M177 16h1M147 20h1m31 0h1M159 22h1M185 24h1M137 26h1m7 0h1M145 28h1m37 0h1m1 0h1M139 30h1m43 0h1m3 0h1M129 32h1M165 34h1m15 0h1M135 36h1m15 0h1m21 0h1M161 38h1M169 40h1M49 42h1m111 0h1M117 44h1m19 0h1M55 46h1m31 0h1M49 48h3m41 0h1M49 50h1m33 0h1m5 0h3m9 0h1M57 52h1m29 0h1m7 0h4m4 0h1m21 0h1m45 0h1M55 54h2m42 0h1m13 0h1m9 0h1M49 56h2m2 0h1m25 0h1m15 0h4m2 0h1m1 0h1m11 0h1m19 0h1M49 58h2m24 0h1m11 0h1m11 0h1m7 0h1m1 0h1m37 0h1M75 60h1m1 0h1m1 0h2m6 0h1m5 0h2m16 0h1m61 0h1M77 62h3m15 0h1m57 0h1M67 64h1m17 0h1m27 0h1M81 66h1m3 0h1m31 0h1m35 0h1M63 68h1m7 0h1m21 0h1m19 0h2m46 0h1m5 0h1m5 0h1M63 70h1m3 0h2m32 0h2M69 72h1m7 0h2m20 0h1m63 0h1M67 74h1m1 0h2m76 0h1m33 0h1m13 0h1M53 76h1m13 0h1m5 0h2m68 0h1m33 0h1m9 0h1M65 78h1m79 0h1m41 0h1M171 80h1M65 82h1m77 0h2m24 0h1M59 84h1m13 0h3m1 0h2m48 0h1m35 0h1M47 86h1m19 0h2m6 0h2m2 0h1m13 0h1m69 0h1m17 0h1m3 0h1M53 90h1m17 0h1m7 0h1M49 92h1m31 0h1M51 94h1m1 0h1m109 0h1M43 96h1m79 0h1m45 0h1m9 0h1M13 98h1m37 0h1m5 0h1m73 0h1M31 102h1m47 0h1m27 0h1m9 0h1m47 0h1M17 104h1m15 0h1m7 0h1m53 0h1m9 0h1M57 106h1m55 0h1M87 110h1M25 112h1m11 0h1M31 116h1m1 0h1m63 0h1M29 118h1m35 0h1m49 0h2m16 0h1M69 120h1m17 0h1m23 0h1m9 0h1M41 122h1m17 0h1m35 0h1m25 0h1M55 124h1m51 0h1M31 126h1m7 0h1m31 0h1m35 0h1M41 128h1m31 0h1M39 130h1m9 0h1m23 0h1m27 0h1m11 0h1M109 132h1M67 134h1m79 0h1M41 138h1M81 140h2m14 0h1m27 0h1M63 142h1m13 0h1m21 0h1m5 0h1m19 0h2M97 144h1M29 146h1m85 0h1M43 148h1M103 150h1M47 156h1m3 0h1"/>
<path id="u10d" d="M165 9h1M183 13h1M159 15h2M167 19h1M141 21h1m3 0h1m17 0h1M139 23h1M167 25h1m3 0h1M141 27h1M183 31h1M139 35h1m3 0h1m31 0h1M123 39h1m3 0h1m59 0h1M49 41h1m87 0h1m7 0h1m1 0h1M137 43h2m2 0h2m8 0h1M85 45h2M49 47h1m1 0h1m3 0h2m32 0h3m65 0h1M51 49h1m29 0h2m6 0h3m1 0h1m93 0h1M49 51h1m1 0h2m4 0h1m31 0h1m1 0h1m3 0h1m1 0h1m1 0h1m5 0h1m9 0h1M57 53h1m27 0h1m23 0h1M51 55h1m1 0h2m42 0h1m3 0h1m1 0h1m39 0h1M51 57h3m23 0h2m6 0h2m10 0h1m21 0h1M51 59h1m21 0h3m1 0h1m3 0h1m1 0h1m5 0h1m9 0h1m67 0h1m3 0h1M71 61h2m10 0h1m3 0h1m3 0h1m3 0h1m41 0h1m13 0h1m19 0h1M59 63h1m11 0h1m19 0h1m7 0h1M67 65h1m13 0h1m9 0h1m21 0h1m25 0h1m23 0h1m1 0h1m3 0h1M57 67h1m3 0h1m1 0h4m8 0h1m61 0h1m23 0h1m5 0h1M49 69h1m25 0h3M73 71h1m53 0h1m17 0h1M51 73h1m15 0h1m41 0h1m15 0h1m19 0h1m9 0h1m9 0h2m8 0h1M65 75h1m1 0h1m13 0h1m5 0h1m69 0h1M95 77h1m13 0h1m31 0h1m17 0h1m21 0h1M75 79h1m7 0h1m23 0h1m3 0h1M69 81h1m3 0h1M73 83h2m8 0h1m7 0h1m1 0h1m69 0h1M59 85h1m11 0h1m1 0h1m5 0h1m47 0h1m5 0h1m19 0h1m3 0h1m7 0h1M79 87h1m99 0h2M35 89h1m131 0h1M69 91h1m7 0h1m1 0h2m2 0h1M45 93h1m33 0h2m46 0h1m47 0h1m3 0h1M91 95h1m15 0h1m17 0h2M105 97h1m21 0h1M65 99h1M47 101h1m7 0h1m27 0h1m3 0h1M33 103h1m17 0h1M37 105h1m35 0h1m13 0h1m11 0h1M95 107h1M89 109h1m63 0h1M47 111h1m83 0h1M55 113h1m7 0h1M35 115h1m23 0h1M55 117h1M57 119h1m11 0h1m19 0h1m33 0h1M87 121h1M49 123h1m27 0h1m39 0h1M75 125h1m47 0h1M53 127h1m13 0h2m4 0h1m7 0h1m19 0h1m1 0h1M29 129h1M59 131h1M67 133h1m1 0h1m41 0h1M71 135h1m51 0h1M73 139h1m5 0h1M29 141h1m59 0h1M51 143h1m51 0h1m3 0h1M51 145h1m59 0h1M49 155h1"/>
<path id="u11a" d="M156 10h1M160 18h1M172 20h1m3 0h1M152 22h1m1 0h1M182 24h1M132 26h1M162 28h1M178 32h1M176 34h1M178 36h1m13 0h1M150 38h1m33 0h1M192 40h1M132 42h1m7 0h1m11 0h1m13 0h2m2 0h1m17 0h1M48 44h2m2 0h1m79 0h1M50 46h1m33 0h3M52 48h2m28 0h2m2 0h1m57 0h1m43 0h1M48 50h1m7 0h1m35 0h1m75 0h1M48 52h1m1 0h2m32 0h1m1 0h1m15 0h1m53 0h1M48 54h1m51 0h1m1 0h1m61 0h1M76 56h1m11 0h1m57 0h1M54 58h1m31 0h1m3 0h3m1 0h2m6 0h1m7 0h1m37 0h1m1 0h1m19 0h1M54 60h1m19 0h1m3 0h1m9 0h1m3 0h1m5 0h1m57 0h1m11 0h1M92 62h2m10 0h1m49 0h1m9 0h1M62 64h2m4 0h1m5 0h2m10 0h1m7 0h1m7 0h1m45 0h1M72 66h1m1 0h1m65 0h1m25 0h1M68 68h1m3 0h1m3 0h2m12 0h1M70 70h1m75 0h1m31 0h1M64 72h3m1 0h1m3 0h1m19 0h2m4 0h1m27 0h1m21 0h1M62 74h1m91 0h1M76 76h1m7 0h1m43 0h1M128 78h1m19 0h2m4 0h2M50 80h1m31 0h2m10 0h2m38 0h1m5 0h1m31 0h1m13 0h1M72 82h2m4 0h1m83 0h1m15 0h1M48 84h1m27 0h1m87 0h1m9 0h1M46 86h1m27 0h1m99 0h1M48 88h1M104 90h2m28 0h1M74 92h1M60 94h1m17 0h1m25 0h1M62 96h1m5 0h1m61 0h1m1 0h1M44 98h2m44 0h1m11 0h1m13 0h1M52 100h1m5 0h1M68 102h1m29 0h1M42 104h1m25 0h1m83 0h1M38 106h1m39 0h1m9 0h1m45 0h1M152 108h1M38 110h1m19 0h1m63 0h1M38 114h1m13 0h2m20 0h1M26 116h1m3 0h1m41 0h1m21 0h1m1 0h1m27 0h1M114 118h1m15 0h1M46 120h1m13 0h1m17 0h1m11 0h1m33 0h1M84 122h1m29 0h1M32 126h1m27 0h1M34 128h1M40 130h1m23 0h2m14 0h1M124 132h1M28 134h1m31 0h1m81 0h1M44 136h1M114 138h1M64 140h1m25 0h1M44 142h1m11 0h1m35 0h1M114 144h1m1 0h1M46 150h1M50 152h1M44 154h1M48 156h2"/>
<path id="u11b" d="M148 13h1M146 17h1m31 0h1M172 21h1m3 0h1M140 25h1M132 27h1m5 0h1m15 0h1M172 29h1M168 35h2M138 39h1M50 41h1m81 0h1m7 0h1m41 0h1m3 0h1M48 43h1m3 0h1m113 0h1m17 0h1M48 45h1m5 0h1m77 0h1m13 0h1M48 47h1m3 0h1m31 0h4M146 49h1M48 51h1m41 0h1m7 0h1m1 0h1m1 0h1m31 0h1M48 53h1m3 0h2m66 0h1m51 0h1M50 55h1m1 0h1m25 0h1m3 0h2m2 0h1m9 0h1m7 0h2m22 0h1m7 0h1m7 0h1M54 57h1m39 0h1m1 0h1m1 0h2m26 0h1m17 0h1m17 0h1M52 59h1m1 0h1m21 0h1m1 0h1m27 0h1m31 0h1m21 0h1m9 0h1M98 61h1m21 0h1M68 63h2m8 0h1m7 0h1m5 0h2m68 0h1M68 67h1m1 0h3m5 0h1m49 0h1m3 0h1M62 69h2m48 0h1m25 0h1m15 0h1m1 0h1m15 0h1M52 71h1m13 0h2m124 0h1M54 73h2m54 0h1m13 0h1m21 0h1m5 0h1M68 75h1m59 0h1m29 0h1M68 77h1m61 0h1m17 0h1M66 79h2M70 81h2m10 0h1m13 0h1m1 0h1m69 0h1m11 0h1M84 83h1m69 0h1M44 85h1m11 0h1m15 0h1m19 0h1m45 0h2m16 0h1m33 0h1m3 0h1M46 87h1m3 0h1M30 89h2M54 91h1m17 0h1m5 0h1m19 0h1m5 0h2m64 0h1M48 95h1m9 0h1m61 0h1M44 97h1m61 0h1m15 0h1M58 99h1m1 0h1M46 101h1M62 103h1m93 0h1m3 0h1M40 105h1m7 0h1M32 107h1m23 0h1M18 109h2m18 0h1m93 0h1M48 111h1m15 0h1m3 0h1m23 0h1m1 0h1m37 0h1M24 117h1m5 0h1m1 0h1m35 0h1m45 0h1M108 119h1M52 121h1m55 0h1M88 123h1m31 0h1M82 125h1m39 0h1m3 0h1M46 127h1m55 0h1M36 129h1m11 0h2m2 0h1m63 0h1M44 131h1m51 0h1m5 0h1m13 0h1m33 0h1M58 133h1m17 0h1m29 0h1m3 0h1m7 0h1M98 135h1m1 0h1m7 0h1M90 139h1M46 141h1m49 0h1M100 143h1m13 0h1M32 147h1m51 0h1M72 151h1M38 153h1m23 0h1"/>
<path id="u11c" d="M177 10h1M171 14h1M159 16h1M173 18h1M147 24h1m1 0h1M153 26h1M171 28h1M145 30h1m21 0h1M151 32h1M139 34h1m11 0h1m23 0h2M165 36h1m11 0h2M147 38h1m33 0h1m7 0h1M163 40h1M143 42h1m23 0h1m15 0h1m3 0h2M49 44h1m1 0h2m70 0h1M85 46h2m58 0h1M53 48h1m29 0h1m1 0h2m62 0h1M53 50h1m1 0h2m84 0h1m5 0h1M51 52h1m1 0h1m65 0h1m19 0h1m7 0h1M51 54h1m1 0h1m3 0h1m25 0h1m11 0h1m1 0h1m7 0h1m3 0h1M57 56h1m23 0h1m1 0h1m1 0h1m1 0h2M73 58h1m7 0h1m1 0h1m1 0h2m4 0h2m2 0h1m27 0h1m15 0h1M49 60h1m3 0h2m26 0h1m1 0h1m17 0h1m23 0h1m5 0h1m11 0h1M51 62h1m29 0h1m1 0h1m1 0h1m7 0h1m27 0h1M63 64h1m9 0h3m1 0h1m3 0h1m11 0h2m56 0h1M61 66h1m1 0h1m3 0h1m1 0h1m21 0h1m63 0h1M57 68h1m9 0h2m8 0h1m49 0h1M49 70h1m15 0h1m7 0h1m1 0h1m51 0h1m5 0h1m7 0h1m1 0h1M63 72h4m26 0h1m41 0h1m15 0h1m25 0h1M61 74h2M81 76h1M149 78h1m5 0h1M71 80h1m5 0h1m5 0h1m1 0h1m9 0h1m11 0h1m31 0h2m4 0h1m37 0h1m1 0h2M55 82h1m15 0h3M7 84h1m71 0h1m65 0h1M53 86h1m11 0h1m11 0h1m19 0h1m9 0h1M71 88h1m3 0h1m9 0h1m75 0h1m15 0h1M65 90h1m39 0h1M73 92h2m28 0h1m71 0h1M69 94h1m11 0h1m43 0h1m3 0h1M47 96h1m39 0h1m5 0h1M45 98h1m75 0h1m1 0h1m53 0h1M81 100h1m45 0h1M55 102h1m1 0h1m99 0h1M31 104h1M53 106h1m45 0h1m5 0h1m23 0h1m3 0h2M77 108h1M29 110h1m23 0h1M35 112h1m3 0h1m91 0h1M47 114h1m5 0h1m73 0h1M41 116h1m15 0h1m59 0h1M53 120h1m21 0h1m5 0h1m21 0h1M53 122h1M37 124h1m3 0h1m15 0h1m29 0h1m7 0h1m31 0h1M49 126h1M51 128h1m19 0h1m17 0h1m7 0h1m27 0h1M65 130h1m27 0h1M37 132h1m11 0h1M31 134h1m1 0h1m71 0h1m9 0h1m3 0h1M31 136h1m47 0h1m1 0h1M27 140h1m19 0h1m59 0h1M77 144h1M53 146h1M29 148h1m17 0h1m53 0h1M101 150h1M49 156h1"/>
<path id="u11d" d="M181 11h1M167 13h1m7 0h1M157 15h1M157 19h1m13 0h1M163 23h1m19 0h1M171 27h1M161 29h1M159 31h1m19 0h1M129 33h1m19 0h1m15 0h1M131 35h1m9 0h1m27 0h1M183 37h1M147 39h1M179 41h1M117 43h1m7 0h1m1 0h1m11 0h1m47 0h1M123 45h1M85 47h3m61 0h1m31 0h1M49 49h1m5 0h1m27 0h1m89 0h1M53 51h1M51 53h3m27 0h1m13 0h1m1 0h1m3 0h1M55 55h1m1 0h1m23 0h3m1 0h2m18 0h1m41 0h1m9 0h1m7 0h1M57 57h1m23 0h1m5 0h1m1 0h1m9 0h1m3 0h1m55 0h1m9 0h1M111 59h1m17 0h1m11 0h1M49 61h1m5 0h1m23 0h1M69 63h1m3 0h1m3 0h2m2 0h1m11 0h1M59 65h1m1 0h1m3 0h1m7 0h1m19 0h1m25 0h1m17 0h1m15 0h1M71 67h2M63 69h1m1 0h1m3 0h1m1 0h1m19 0h1m7 0h1m17 0h1m23 0h1m19 0h1M67 71h1m17 0h1m53 0h1m19 0h1M55 73h1m9 0h1m73 0h1m1 0h1m1 0h1M77 75h1m19 0h1m47 0h1M67 77h2m84 0h1m3 0h1M11 79h1m53 0h3m3 0h1m77 0h1M49 81h1m21 0h1m105 0h1M71 83h1m69 0h1M7 85h1m131 0h1m1 0h1M9 87h1m49 0h1m1 0h1m7 0h1m3 0h1m13 0h1m49 0h1M25 89h1m5 0h1m47 0h1m5 0h1M35 91h1m11 0h1m37 0h1m9 0h1m9 0h1m25 0h1m47 0h1M85 93h1M63 95h1m15 0h1m15 0h1m9 0h1M85 97h1m3 0h1m3 0h1m71 0h1m7 0h1M87 99h1m89 0h1M73 101h1m23 0h1M151 105h1M19 109h1m9 0h1m81 0h1m37 0h1M21 113h1m3 0h1m15 0h1m23 0h1m7 0h1m27 0h1M107 115h1m21 0h1m23 0h1M51 117h1m55 0h1m1 0h1M97 119h1m21 0h1M73 121h1m47 0h1M47 123h1m25 0h1M47 125h1m13 0h1m79 0h1M89 127h1m5 0h1m45 0h1M49 129h1m55 0h1m1 0h1M77 131h1m57 0h1M99 133h1m17 0h2M33 135h1m49 0h1M49 137h1m53 0h1m1 0h1M77 143h1m41 0h1m3 0h1M117 145h1M31 147h2M29 149h1m33 0h1m37 0h1M103 151h1M41 155h1"/>
<path id="u12a" d="M178 14h1M146 16h1M166 20h1M166 22h1M160 30h1m27 0h1M132 36h1m31 0h1M124 40h1m23 0h1m9 0h1M50 42h1m1 0h1M152 44h1m17 0h1M48 46h1m91 0h1M56 48h1m61 0h1M52 50h1m31 0h1m35 0h1M82 52h2m4 0h1m11 0h1M50 54h1m1 0h1m51 0h1M78 56h1m15 0h1m7 0h1m27 0h1m13 0h1m17 0h1M76 58h1m1 0h3M110 60h1m5 0h1m33 0h1m11 0h1m9 0h1M74 62h1m39 0h1M52 64h1m75 0h1m35 0h1m29 0h1M76 66h5m39 0h1m55 0h1m21 0h1M64 68h2m58 0h1m33 0h1m19 0h1M66 70h1m7 0h1m1 0h1m49 0h1m11 0h1m9 0h1m31 0h1m13 0h1M110 72h1m21 0h1m29 0h1m21 0h1M136 74h1M72 76h1m65 0h1m9 0h4M50 78h1m1 0h1m55 0h1m29 0h1M12 80h1m87 0h1M80 82h1m9 0h1m33 0h1m17 0h1M60 84h1m49 0h1m27 0h1m5 0h1m47 0h1M42 86h1m47 0h1m73 0h1M62 88h1m99 0h1M70 90h1m1 0h1M48 92h1m23 0h1m11 0h2M120 94h1m49 0h1m3 0h1m1 0h1M86 96h1m19 0h1m59 0h2M66 98h1m11 0h1M54 102h1M84 104h2m8 0h1m41 0h1M76 106h1m7 0h1M92 108h1m7 0h1m9 0h1m19 0h1m23 0h1M28 110h1m17 0h2m18 0h1m45 0h1m17 0h2M56 112h1m9 0h1m33 0h1M96 114h1m31 0h1M28 116h1m79 0h1m5 0h1M30 118h1m51 0h2m4 0h1M62 122h1m35 0h1M36 124h1m57 0h1m3 0h1M76 126h1M100 128h1m3 0h1M54 130h1M52 134h1m45 0h1m19 0h1M30 138h1m31 0h1m13 0h1m9 0h1m21 0h1M58 140h1m11 0h1m21 0h1m9 0h1M60 142h1m39 0h1m1 0h1m3 0h1M40 144h1M32 146h1M52 148h1m49 0h1M50 154h1m1 0h1M44 158h1"/>
<path id="u12b" d="M174 15h1M158 17h1M160 19h1M154 23h1m17 0h1M162 25h1M134 27h1m17 0h1M146 41h1m33 0h1M136 43h1M50 45h1m75 0h1m31 0h1m1 0h1m25 0h1M48 49h1m3 0h2m2 0h1M56 51h1m25 0h2m2 0h1m25 0h1m9 0h1M50 53h1m31 0h1m53 0h1M48 55h1m7 0h1m37 0h1m27 0h1M90 57h1m33 0h1m41 0h1M102 59h1m59 0h1M52 61h1m61 0h1m31 0h1m13 0h1M64 65h1m3 0h2m4 0h2m16 0h1m1 0h1m19 0h1M96 67h1m43 0h1m17 0h2m18 0h1M70 69h1m25 0h1m31 0h1M72 71h1m1 0h1m65 0h1M64 73h1m31 0h1m11 0h1m29 0h1m9 0h1m29 0h1M86 75h1m61 0h1m29 0h1m3 0h2M66 77h1m19 0h1m21 0h1m11 0h1m17 0h1m35 0h1M12 79h1m125 0h1M144 81h1M132 83h1m7 0h1m47 0h1M144 85h1M68 87h1m7 0h1m17 0h1m43 0h1M52 89h1m3 0h1m19 0h1M84 91h1m45 0h1m41 0h1M100 93h1m35 0h1M46 95h1m27 0h1m5 0h1m95 0h1M76 97h1M94 99h1m63 0h1M120 101h1m51 0h1M40 103h1m77 0h1M116 105h1M38 107h1m19 0h2m2 0h2m24 0h1m15 0h1m7 0h1M34 113h1m5 0h1m41 0h1m21 0h1M28 115h1m9 0h1M40 117h1m11 0h1m13 0h1m21 0h2M80 119h1m1 0h1m41 0h1m5 0h1m1 0h1M104 121h1m19 0h1M68 123h1m21 0h1m21 0h1m1 0h1M116 125h1M122 127h1M32 129h1m1 0h1m45 0h1m3 0h1m1 0h1m3 0h1M54 131h1M32 133h1m81 0h1M32 135h1m5 0h1m67 0h1m7 0h1M42 137h2m60 0h1M58 139h1m43 0h1m5 0h1M28 141h1m61 0h1M126 143h1M54 145h1m17 0h2M34 147h1m3 0h1m15 0h1M38 149h1m59 0h1M62 151h1"/>
<path id="u12c" d="M169 12h1M143 22h1M137 30h1M179 32h1m7 0h1M171 34h1M147 36h1M141 38h1M133 40h1m49 0h1M117 42h1m35 0h1m3 0h1m1 0h1M51 46h1m87 0h2M55 48h2m30 0h1m83 0h1M97 50h1m1 0h1m15 0h1m33 0h1m13 0h1m15 0h1M49 52h1m5 0h1m27 0h1m71 0h1m23 0h1M81 54h1m5 0h1m13 0h1m1 0h2m20 0h1m19 0h1M93 56h2m52 0h1m1 0h1M53 58h1m1 0h1m23 0h2m12 0h1m3 0h1m33 0h1m33 0h1M55 60h1m43 0h1M49 62h1m23 0h2m54 0h1m37 0h1M59 64h1m9 0h1M71 66h1m5 0h4m20 0h1m11 0h1m5 0h2m10 0h1m7 0h1m11 0h1m11 0h1M55 68h1m9 0h1m3 0h1m65 0h1m3 0h1M69 70h1M55 72h1m11 0h1m49 0h1m19 0h1m3 0h1m1 0h1m3 0h1M65 74h1m119 0h1M129 76h1m19 0h3m7 0h1m29 0h1M91 78h1m3 0h1m29 0h1m3 0h1m13 0h1m7 0h1M53 80h1m83 0h1m9 0h1m19 0h1M75 82h1m81 0h1m5 0h1M103 84h1M7 86h1m61 0h1m59 0h1m31 0h1m11 0h1M23 88h1m31 0h1M35 90h1m11 0h1m11 0h1m15 0h1M79 92h1m5 0h1m43 0h1m33 0h1m7 0h1m5 0h1M45 94h1m21 0h1m39 0h1m19 0h1m39 0h1M79 96h1m11 0h1m75 0h1M103 98h1m69 0h1M175 100h1M47 102h1m33 0h1m91 0h1M85 104h1m25 0h1m47 0h1M95 106h1M99 108h2M25 110h1m17 0h1m3 0h1m53 0h1m29 0h1M55 112h2m24 0h1m47 0h1M37 114h1m49 0h1M51 118h1m31 0h1M97 120h1M45 122h1m41 0h1m19 0h1M73 124h1M103 126h1m1 0h1M65 128h1m87 0h1M67 130h1m27 0h1M39 132h1m15 0h1m27 0h1m9 0h1m11 0h1M37 134h1M51 136h1M71 138h1m3 0h2m38 0h1M29 140h1m33 0h1m19 0h1m21 0h1M53 142h1m25 0h1m9 0h1m23 0h1m5 0h1m9 0h1M51 144h1M35 146h1m29 0h1M71 150h1m15 0h1M45 152h1m19 0h1M39 154h1M41 156h1"/>
<path id="u12d" d="M179 11h1M149 13h1M169 17h1M159 23h1m25 0h1M151 25h1M167 31h1M145 33h1M125 37h1m41 0h1M51 41h1m135 0h1M51 43h1m71 0h1m25 0h1m3 0h1m19 0h1m17 0h1M147 47h1M53 49h1m43 0h1m35 0h1m1 0h1M55 51h2m24 0h3m1 0h2m6 0h1m7 0h1m29 0h1m31 0h1m5 0h1m17 0h1M103 53h1M109 55h1m51 0h1M93 57h1m1 0h1m57 0h1m3 0h1m17 0h1M49 59h1m29 0h1m17 0h1m3 0h2m20 0h1m15 0h1m7 0h1m17 0h1M73 61h1m11 0h1m71 0h1M65 63h1m51 0h1m45 0h1M57 65h1m5 0h2m4 0h1m5 0h1m31 0h1M55 67h1m3 0h1m9 0h1m65 0h1m21 0h3m33 0h1M61 69h1m33 0h2m18 0h1M65 71h1M69 73h1m81 0h1M139 75h1m3 0h1m9 0h1m29 0h1m13 0h1M125 77h1m3 0h1m5 0h1m9 0h1M117 79h1m17 0h1m11 0h1m3 0h1M65 81h1m77 0h2M105 83h1m31 0h1m1 0h2m2 0h1M49 85h1m79 0h1m29 0h1m17 0h1M53 87h1m121 0h1m1 0h1M55 89h2m4 0h1m9 0h1m29 0h1M53 91h1m53 0h1M53 93h1M43 95h1m29 0h2m88 0h1m9 0h1m1 0h2M65 97h1m59 0h1m37 0h1M111 99h1m3 0h1m15 0h1M79 101h1m29 0h1m49 0h1M31 103h1m11 0h1m35 0h1m9 0h1m5 0h1m21 0h2m48 0h1M59 107h1m3 0h1M131 109h1m1 0h1M117 111h1m11 0h1M39 113h2m48 0h1m5 0h1M117 115h1M29 117h1m53 0h1m5 0h1m1 0h1m21 0h1m5 0h1M39 119h1m37 0h1m33 0h1m9 0h1M39 121h1m7 0h1m9 0h1m55 0h1M61 123h1M51 129h1m7 0h1M113 131h1M55 135h1M43 137h1m91 0h1M63 143h1m29 0h1m15 0h1m21 0h1M73 145h1M51 147h1M43 149h1M39 153h1"/>
<path id="u13a" d="M154 12h1m9 0h1M148 14h1m31 0h1M184 16h1M146 20h1M150 24h1m17 0h1M186 26h1M150 28h1m21 0h1m9 0h1M146 30h1m37 0h1M190 32h1M134 34h1M154 42h1M118 44h1M146 46h1M134 48h1m19 0h1m13 0h1M50 50h1M94 52h1m15 0h1m9 0h1m41 0h1m1 0h1m7 0h1M114 54h1m1 0h1M104 56h1m61 0h1M112 58h1m21 0h1m31 0h1M102 60h1m23 0h1m3 0h1m9 0h1M110 62h1m41 0h1M56 64h1m7 0h2m74 0h1M68 66h1m73 0h1m13 0h1M60 68h1m23 0h1m33 0h1M62 70h1m31 0h1m49 0h1m9 0h2m28 0h1m5 0h1M62 72h1M64 74h1m13 0h1m7 0h1m5 0h2m26 0h1m5 0h1M100 76h1m75 0h1m7 0h1m5 0h1M124 78h1m19 0h1m11 0h1m19 0h1M86 80h1M104 82h1m25 0h1m9 0h1m5 0h1m3 0h1M90 84h1m17 0h1m15 0h1m1 0h1m41 0h1M8 86h1m39 0h1m13 0h1m31 0h1m31 0h1m7 0h1m37 0h1M46 88h1m87 0h1M84 90h1m25 0h1m25 0h1m45 0h1M46 92h1m57 0h1M48 94h1m9 0h1m47 0h1m5 0h1m23 0h1M96 96h1m25 0h1M54 98h1m39 0h1m79 0h2M118 100h1m11 0h1m29 0h1M32 102h1m37 0h1m3 0h1m45 0h1M76 104h1m23 0h1m5 0h1M82 106h1m3 0h2m18 0h1m7 0h1M78 108h1m33 0h1M72 110h1m27 0h1m33 0h1M96 112h2m10 0h1M70 114h1m11 0h1m11 0h1m9 0h1M150 116h1M50 118h1m23 0h1m1 0h1m13 0h1m13 0h1M50 120h1m59 0h1M48 122h1m61 0h1M50 124h2m16 0h1M46 126h1m59 0h1M80 128h1m27 0h1M78 130h1M48 132h1m9 0h1m3 0h2m24 0h1m3 0h1m17 0h1M34 134h1m15 0h1m7 0h1m49 0h1m3 0h2M38 138h1M84 140h1M38 142h1m91 0h1M74 146h1M36 148h1M64 150h1m7 0h1M54 154h1"/>
<path id="u13b" d="M152 15h1m27 0h1M170 21h1m11 0h1M138 23h1M134 25h1m1 0h1m23 0h1M136 27h2M144 33h1m13 0h1M156 35h1M124 37h1m21 0h1M118 43h1m1 0h1M138 47h1M98 49h1m35 0h1m15 0h1M138 51h1M86 53h2m12 0h1m43 0h1m3 0h1m7 0h1m13 0h1M170 55h1M102 57h1m47 0h1M100 59h1m13 0h1m21 0h1m3 0h1M50 61h1m71 0h2m32 0h1m5 0h1m3 0h1M122 63h1M52 65h1m59 0h1m31 0h1m23 0h1M76 67h2m22 0h1m49 0h1m9 0h1m31 0h1M64 69h1m29 0h1m47 0h1m7 0h1M142 71h2m2 0h1m3 0h2M62 73h1m29 0h1m47 0h1m3 0h1m37 0h1M120 75h1m5 0h1m13 0h1m43 0h1M144 77h1m1 0h1m7 0h1M106 79h1M152 81h1M90 83h1m47 0h1M128 85h1m11 0h1m23 0h1m5 0h1M140 87h1M108 89h1m11 0h1m5 0h1m9 0h1m47 0h1M52 91h1m13 0h1m41 0h1m17 0h1M88 93h1m19 0h1M106 95h1m17 0h1m5 0h1M124 97h1M46 99h1m5 0h1m9 0h1m41 0h1M70 101h1m11 0h1m13 0h1M34 103h1m13 0h1m1 0h1m63 0h1M74 105h1m11 0h1m7 0h1m11 0h2m44 0h1M52 109h1m31 0h1m45 0h1M112 111h1M92 113h2m32 0h2M56 115h1m1 0h1m61 0h1m1 0h1m3 0h1M150 117h1M28 119h1m7 0h1m3 0h2m6 0h1m17 0h1m35 0h1M44 121h1m11 0h1m35 0h1m35 0h1M40 125h2m78 0h1M78 127h1M40 129h1m21 0h1m3 0h1m9 0h1m5 0h1m15 0h1M30 131h1m33 0h1m29 0h1M28 133h1m41 0h1m21 0h1M28 135h1m11 0h1m9 0h1m27 0h2m14 0h1m49 0h1M88 137h1m21 0h1m5 0h1M38 139h1M38 141h1m5 0h1m3 0h1m7 0h1m3 0h1m15 0h2M58 143h1m7 0h1m17 0h1M88 149h1M104 151h1M52 153h1M48 155h1"/>
<path id="u13c" d="M183 14h1M177 18h1m1 0h1m3 0h1M143 20h1m19 0h1m5 0h1M183 24h1M167 26h1M179 28h1M169 30h1M159 32h1M143 34h1m45 0h1M137 36h1m1 0h1m5 0h1m25 0h1M131 38h1m17 0h1m37 0h1M51 42h1m71 0h1m1 0h1m15 0h1m49 0h1M125 44h1m5 0h1m35 0h1M121 46h1M147 48h1m9 0h1M117 50h1m5 0h1m21 0h1m9 0h1M101 52h1M49 54h1m61 0h1M89 56h1m73 0h1M77 58h1m23 0h1m3 0h1m23 0h1m21 0h1m3 0h1m1 0h1m3 0h1M73 60h1m35 0h1M99 62h1m23 0h1m31 0h1M51 64h1m13 0h1m39 0h1M137 66h1m3 0h2M53 68h1m97 0h1m1 0h1m5 0h1m33 0h1M99 70h1m7 0h1m41 0h1m5 0h1M127 72h1M93 74h1m21 0h1m13 0h1m25 0h1M141 76h1m11 0h1M191 78h1M59 80h1m5 0h1m33 0h1M69 82h1m69 0h2m4 0h2m32 0h1M129 84h1m47 0h1M181 88h1M97 90h1m37 0h2m34 0h1M45 92h2m44 0h1m15 0h1M63 94h1m45 0h1M67 96h1m9 0h1m3 0h1M43 98h1m31 0h1m1 0h1m13 0h1m23 0h1m53 0h1m5 0h1M77 100h1m7 0h1m29 0h1m5 0h1m43 0h1M41 102h1m41 0h1m27 0h1M43 104h1m35 0h1m9 0h1M87 106h1M117 108h1M105 110h1m27 0h2M59 112h1m37 0h1m21 0h1M107 114h1M73 116h1m3 0h1m45 0h1m1 0h1M39 118h1m71 0h1M71 120h1m1 0h1m21 0h1m31 0h1M63 122h1m9 0h1M51 124h1m39 0h1m7 0h1m23 0h1M81 126h1m13 0h1M45 128h1m47 0h1m1 0h1M63 130h1M53 132h1m9 0h1m15 0h1M75 134h1m13 0h1m23 0h1M47 136h1m19 0h1m3 0h1M51 138h1m9 0h1m21 0h1M27 142h1m67 0h1M63 144h1M31 148h1M67 152h1"/>
<path id="u13d" d="M157 9h1M159 11h1M137 27h1m39 0h1M143 29h1M187 31h1M163 35h1m19 0h1M121 39h1m47 0h1M145 43h1m1 0h1m19 0h1M51 45h1m67 0h1m15 0h1m5 0h1m41 0h1M93 47h1m73 0h1M119 49h1m71 0h1M143 51h1m1 0h1M83 53h1m3 0h1m27 0h1m27 0h2M49 55h1m29 0h1m7 0h1m57 0h1m5 0h1M91 57h1m9 0h2m6 0h1m11 0h1m1 0h1m3 0h1M53 59h1m1 0h1m97 0h1m7 0h1m1 0h1M99 61h1m23 0h1M119 63h1M51 65h2m78 0h1m3 0h1m23 0h1m41 0h1M77 67h1m121 0h1M153 69h1M61 71h1m63 0h1m17 0h1m7 0h1M49 73h1m11 0h2m72 0h1M105 75h1m23 0h1m17 0h1M137 77h1M187 79h1m7 0h1M149 81h1m17 0h1m17 0h1m9 0h1M127 83h1m21 0h1m5 0h1M65 85h1m23 0h1m53 0h1m37 0h1M95 87h1M9 89h1m55 0h1m67 0h1m29 0h1m7 0h1M49 91h1m1 0h2m122 0h1M61 93h1m7 0h1m31 0h1m1 0h1m1 0h1M129 95h2M67 99h1m3 0h1m9 0h1m21 0h2M31 101h1m33 0h1m19 0h1m75 0h1M91 103h1M97 105h1m9 0h1M79 107h1m51 0h1m17 0h1M91 109h1m3 0h1M103 111h1m11 0h1M93 113h1m5 0h1m17 0h1m9 0h1m1 0h1M67 115h1M59 117h1m69 0h1M41 119h1m5 0h2M37 121h1m29 0h1m3 0h1m13 0h1m15 0h1m3 0h1m3 0h1m13 0h1M33 123h1m69 0h1m7 0h1m7 0h1M41 125h1m13 0h1m3 0h1m11 0h1M67 131h1m33 0h1m45 0h1M45 133h1m19 0h1m23 0h1M79 135h1m25 0h1M39 137h1m17 0h1M119 139h1M77 141h1m37 0h1m11 0h1M99 145h1M79 149h1m7 0h2M59 153h1"/>
<path id="u14a" d="M170 14h1m5 0h1M168 16h1M158 18h1M160 20h2m18 0h1M182 30h1M184 32h1M150 36h1M160 40h1M124 44h1m3 0h1m15 0h1M122 46h1m7 0h1M136 48h1m5 0h1M144 50h1M128 52h1M132 54h1m33 0h1M56 58h1m43 0h1m3 0h1M138 60h1M48 62h1m97 0h1M50 64h1m63 0h1M136 66h1M58 68h1m69 0h1m1 0h1m25 0h2M122 70h1M136 72h1M140 74h1m43 0h1m11 0h1M96 76h1m49 0h1M118 78h1M56 80h1m35 0h1M68 84h1m63 0h1m13 0h1m15 0h1M130 86h1m61 0h1M74 88h1m29 0h1m21 0h1m1 0h1m49 0h1M52 90h1m13 0h1m41 0h2m74 0h1M78 92h1m11 0h1m17 0h1m13 0h1m5 0h1M98 94h1m33 0h1m49 0h1M116 96h1M84 98h1m41 0h1M14 100h1m71 0h1m3 0h1m13 0h1M92 102h1m29 0h1M40 104h1M18 106h1m71 0h1m25 0h2m8 0h1M76 108h1m57 0h1M82 110h2m12 0h1M64 112h1M48 114h1m7 0h1m61 0h1M32 116h1m35 0h1m13 0h2M84 118h1m37 0h1M30 120h1m51 0h1m43 0h1M32 122h1m61 0h1M54 124h1m49 0h1m1 0h1M72 126h1m23 0h1M44 128h1m37 0h1m11 0h1M84 130h1m57 0h1M38 132h1m69 0h1m9 0h1M72 134h1m13 0h1M52 136h1m13 0h1m21 0h1M48 138h1m67 0h1M32 140h1m43 0h1m3 0h1m15 0h1m3 0h1m3 0h1M74 142h1m57 0h1M30 146h1m7 0h1m9 0h2m34 0h1M32 148h1m33 0h1m31 0h1M88 150h1m11 0h1M58 152h1M42 156h1"/>
<path id="u14b" d="M162 9h1M166 11h2M156 13h1M144 17h1M158 25h1m11 0h1M184 31h1M128 33h1m53 0h1M130 35h1m1 0h1m9 0h1M156 37h1M144 39h1M138 41h1M164 43h2M116 45h1m13 0h1M116 47h1m7 0h1m5 0h1M114 49h1m33 0h1m43 0h1M106 51h1m37 0h1m9 0h1M88 53h1m13 0h1M116 55h1m39 0h1m1 0h1M92 57h1m55 0h1M104 59h1m49 0h1m3 0h1M106 61h1m63 0h1M106 63h1m71 0h1M56 65h1m63 0h1m35 0h1M54 67h1m63 0h1m37 0h1M50 69h1m75 0h1m37 0h1M60 71h1m37 0h1m49 0h2m32 0h1M126 73h1m7 0h1M132 75h1M136 77h1m5 0h1M66 81h1m111 0h1M94 83h1m89 0h1m5 0h1M50 85h1m59 0h1m19 0h1M62 87h1m3 0h1m89 0h1M48 89h1M118 91h1m13 0h1m47 0h1M74 93h1m23 0h1m5 0h1M12 95h1m47 0h1M42 97h1m29 0h1m17 0h1m23 0h2m10 0h1m3 0h1M118 99h1m13 0h1m31 0h1M14 101h1m65 0h1m5 0h1m15 0h1m15 0h1m3 0h1M44 103h1m35 0h1m23 0h2m58 0h1M90 105h1M68 107h1m3 0h1m41 0h1m55 0h1M88 109h1m23 0h1m35 0h1M90 111h1M60 113h1m17 0h1m23 0h2M118 115h2M74 117h1m1 0h1M40 121h1m55 0h1M116 123h1M28 125h1m19 0h1m27 0h1M76 127h1M34 131h1m27 0h1m35 0h1M112 133h1M66 135h1m23 0h1M56 137h1m1 0h1M44 139h1m73 0h1m19 0h1M26 141h2m26 0h1m51 0h1m23 0h2M34 143h1m51 0h1m3 0h1M70 145h1m3 0h1m19 0h1m1 0h1m1 0h1M48 147h1m1 0h1M42 151h1m21 0h1M68 153h1"/>
<path id="u14c" d="M167 12h1M149 14h1M161 20h1M165 26h1M175 30h1M191 32h1M191 36h1M121 38h1M157 40h1M133 44h1m17 0h1m13 0h1M143 46h1m27 0h1m15 0h1M125 48h1m7 0h1m11 0h1m21 0h1m13 0h1m3 0h1M135 50h1m15 0h1m13 0h1M89 52h1m61 0h1m5 0h1m31 0h1M117 54h1m19 0h1m5 0h1M107 56h1m59 0h1M107 60h1m39 0h1m13 0h1M55 62h1m45 0h1m47 0h1m1 0h1M109 64h1m25 0h1m7 0h1m21 0h1M59 66h1M157 68h1m23 0h1m17 0h1M159 70h1m25 0h1M53 72h1m3 0h1m51 0h1m35 0h1m3 0h1m7 0h1M119 74h1m19 0h2m2 0h1M47 76h1m11 0h1m79 0h1M99 78h1m31 0h1m15 0h1m25 0h1M123 80h1m1 0h1m5 0h1m11 0h1m9 0h1m1 0h1m21 0h1M93 82h1m39 0h1m7 0h1M61 84h1m33 0h1m57 0h1m21 0h1M91 86h1m35 0h1m41 0h1m7 0h1M159 88h1M87 90h1m11 0h1m9 0h1m17 0h1M113 92h1m7 0h2M131 94h2M53 96h1m41 0h1m9 0h1m5 0h1M83 98h2m14 0h1m7 0h1m5 0h1m3 0h1M171 100h1M121 102h2M51 104h1m67 0h1m33 0h1M47 106h1m69 0h1M87 108h1m23 0h1m3 0h1m17 0h2M75 110h1m7 0h1m23 0h1m11 0h1M73 112h1m5 0h1m23 0h1m3 0h1M63 114h1m11 0h1m19 0h1M27 116h1m55 0h1m3 0h1M49 118h1m17 0h1M77 120h1M49 122h1m11 0h1m5 0h1m25 0h2M69 124h1m15 0h1M61 126h1m21 0h1M55 128h1M55 130h1M85 132h1m31 0h2M43 134h1M41 136h1m15 0h1m29 0h2m6 0h1M23 138h1m23 0h2M31 142h1m17 0h1M37 144h1m11 0h1m21 0h1m35 0h1M49 146h1m23 0h1M63 148h1M45 150h1m23 0h1M47 152h1M41 154h1m17 0h1"/>
<path id="u14d" d="M167 11h1M171 13h1M183 15h1M163 17h1M163 19h1m15 0h1M181 21h1M141 23h1M165 25h1M185 27h1M151 29h1M141 33h1m29 0h1m7 0h1M145 37h1M135 41h1m5 0h1M161 43h1m3 0h1M161 45h1M163 47h1M121 49h1M129 51h1M49 53h1m57 0h1m29 0h1m41 0h1M117 59h1m17 0h1m15 0h1M51 61h1m63 0h1m53 0h2M167 63h1M151 65h1M111 67h1m11 0h1m17 0h1M53 69h1m53 0h1m41 0h1m7 0h1M57 71h1m1 0h2m46 0h1m7 0h1m33 0h1m3 0h1m23 0h1M101 73h1m17 0h1m27 0h1M55 75h1M151 77h1M93 79h1M103 81h1m43 0h1m3 0h1m29 0h1M51 83h1m101 0h1M91 85h1m7 0h1m9 0h2m64 0h1M41 87h1m55 0h1m27 0h1m15 0h1m43 0h1M47 89h2m26 0h1m35 0h1m19 0h1m37 0h1m11 0h1m5 0h1M107 93h1m15 0h1M57 95h1m59 0h1m15 0h1m1 0h1m33 0h1M71 97h2m2 0h1m1 0h1m5 0h1m31 0h1M107 99h1M93 101h1m23 0h2m2 0h2m6 0h1M67 103h1m29 0h1m7 0h1m15 0h1m33 0h1M67 105h1m61 0h1M75 107h1m37 0h2m18 0h1m13 0h1m7 0h1M57 109h1m35 0h1M103 113h1m1 0h1M27 115h1m21 0h1m29 0h1m19 0h1m19 0h1M51 119h1m51 0h1M127 121h1M65 123h1m25 0h1M121 127h1M31 129h1m35 0h1m3 0h1m37 0h1M85 131h1M37 133h1m37 0h1m7 0h1m13 0h1M67 137h1m29 0h1m11 0h1M53 139h1m23 0h1m23 0h1M27 141h1m55 0h1m13 0h1m7 0h2m4 0h1m19 0h1M97 143h1M33 145h1m7 0h1m7 0h1m3 0h1M55 149h1M67 151h1M51 153h1"/>
<path id="u15a" d="M168 12h1M152 14h1m21 0h1M164 18h1m9 0h2M142 22h1M148 26h1m13 0h1M156 32h1m9 0h1M154 36h1m1 0h1M128 40h2m10 0h1M138 42h1m23 0h1M148 44h1M142 46h1M190 48h1M114 50h1m37 0h1m19 0h1M90 52h2m44 0h1m33 0h1m9 0h1M94 54h1m49 0h1m9 0h2m2 0h3M92 56h1M154 58h1M114 60h1M120 62h1M134 64h1m9 0h1M98 66h1m51 0h1m43 0h1M134 68h1m39 0h1M112 70h1m47 0h1M50 72h1m69 0h1m25 0h1m5 0h1M102 74h1m7 0h1m19 0h1m11 0h1m3 0h1m39 0h1M136 76h1m19 0h1m35 0h1M114 78h1m1 0h1m17 0h1m17 0h1M108 80h1m21 0h1m45 0h1m7 0h1M56 82h1m35 0h1m81 0h1M92 84h1m57 0h1m5 0h1M138 86h1M40 88h1M96 90h1m3 0h1M52 92h1m111 0h1M56 94h2m106 0h1m19 0h1M40 96h1m23 0h1m7 0h1m1 0h1m45 0h1M98 98h1m5 0h2m4 0h2m6 0h1m9 0h1M46 100h1m13 0h1m13 0h1m45 0h1M114 102h2M46 104h1m23 0h1m33 0h1m5 0h1m3 0h1m3 0h1m11 0h1M110 106h1m9 0h1m47 0h1M52 108h1m117 0h1M108 110h1m23 0h1m23 0h1M72 112h1m47 0h1M126 114h1M92 116h1m5 0h1m17 0h1m3 0h1M28 118h1m97 0h1M40 120h1m15 0h1M158 122h1M86 124h1m29 0h1M30 126h1m13 0h1m57 0h1M28 128h1m35 0h1m31 0h1M94 130h1m3 0h1M64 132h1M36 134h1m63 0h1M68 136h1m15 0h1M58 138h2m10 0h1m49 0h1M48 140h1m23 0h1M30 142h1m19 0h1m53 0h1M44 144h1m1 0h1m53 0h1M54 148h1M48 152h1M38 154h1m17 0h1"/>
<path id="u15b" d="M178 13h1M158 15h1m19 0h1M168 21h1M156 23h1M150 25h1M170 27h1M138 29h1m23 0h1m21 0h1m5 0h1M168 31h1M172 33h1M136 37h2m42 0h1m5 0h1M168 39h1M168 41h1M132 43h1m59 0h1M94 53h1m11 0h1m3 0h1m17 0h2m24 0h1m3 0h1m21 0h1m9 0h1M112 55h1m1 0h1m5 0h2m32 0h2M104 61h2m22 0h1m21 0h1M150 63h1m15 0h1M54 65h1m63 0h1M48 67h1m11 0h1m83 0h1m7 0h1m15 0h1m25 0h1M180 69h1m11 0h1M154 71h1m29 0h1m1 0h1M130 73h1m11 0h1m51 0h1m3 0h1M60 75h1m47 0h1m43 0h1m1 0h1m41 0h1M62 77h1m47 0h1m47 0h1m17 0h1M92 79h1m53 0h1m7 0h1m21 0h1M140 81h2m4 0h1M62 83h1m39 0h1m19 0h1m19 0h1m1 0h3M152 85h1m25 0h1m7 0h1m5 0h1M74 89h1m37 0h1m51 0h1m3 0h1M138 91h1M46 93h1m5 0h1m7 0h1m17 0h1m49 0h2m38 0h1M64 95h1m3 0h1M102 97h1m25 0h1m45 0h1M44 99h1m39 0h1M100 101h1m15 0h1M68 103h1m19 0h1M72 105h1m3 0h1m11 0h1m39 0h1M52 107h1m47 0h1m19 0h1m13 0h1M110 109h1m9 0h1m13 0h1M78 111h1m9 0h1M100 113h1m15 0h1m1 0h2M108 115h1M46 117h1m45 0h1m9 0h1M78 119h1m47 0h2M102 121h1M58 123h1m5 0h1m7 0h1m1 0h1m51 0h1M54 125h1m29 0h1m1 0h1m3 0h1m57 0h1M32 127h1m41 0h1M28 129h1m15 0h1m29 0h1m25 0h2m2 0h1M80 131h1M66 133h1M116 135h1M62 137h1m15 0h1M92 139h1m21 0h1M74 141h2m58 0h1M80 143h1m17 0h1M124 145h1M86 149h1M42 153h1"/>
<path id="u15c" d="M153 12h1M157 18h1m17 0h1M145 20h1M141 24h1m17 0h1M173 26h1m7 0h1M139 28h1M159 30h1M141 32h1m39 0h1m1 0h1M127 34h1m17 0h1M127 36h1m21 0h1M155 38h1m3 0h1M129 40h1m9 0h2m8 0h1M135 42h1m49 0h1M121 44h1m23 0h1M165 48h1M113 50h2m4 0h1m23 0h1m27 0h2m12 0h1M91 52h1m1 0h1m37 0h1m31 0h1M129 54h1m25 0h1m3 0h2M129 56h1m11 0h1m23 0h1M135 58h1m7 0h1M121 60h1m47 0h1M113 62h1m47 0h1M103 64h1m37 0h1M159 66h1M59 68h1M61 70h1m49 0h2m24 0h1m7 0h1M105 72h1m7 0h1m47 0h1m17 0h1m5 0h1m11 0h1M127 74h1m5 0h1m15 0h1M51 76h1m5 0h1m73 0h1m1 0h1M133 78h2m6 0h1m37 0h1M93 80h1m3 0h1M121 82h1M45 84h1m11 0h1m31 0h1M49 86h1m81 0h1m27 0h1M127 88h1M63 90h1m27 0h1M51 92h2m4 0h1m61 0h1M57 94h1m57 0h1M85 96h1m95 0h1M41 98h1m63 0h1m5 0h1m15 0h2M55 100h1m1 0h1m33 0h1m5 0h1m9 0h1m1 0h1M43 102h1m25 0h1m45 0h1M101 104h1M51 106h1m15 0h1m9 0h1m23 0h1m13 0h1M63 108h1m37 0h1m33 0h1M49 110h1m35 0h1m43 0h1M21 112h1m87 0h1M69 114h1m45 0h1m3 0h1M29 116h1m89 0h2m8 0h1M123 118h1M43 120h1m3 0h1m17 0h1M33 122h1m79 0h1M53 124h1m11 0h1m5 0h1M43 128h1m19 0h2m12 0h1M59 132h1m29 0h1M53 134h1M43 138h1m15 0h1m17 0h1m3 0h1M53 140h1m31 0h1m33 0h1M115 142h1m11 0h1M109 144h1m5 0h1M125 146h1M67 148h1m5 0h1M47 150h1M37 152h1m3 0h1m9 0h1M45 154h1"/>
<path id="u15d" d="M159 9h1M173 11h1M171 15h1M157 17h1M151 21h1m33 0h1M161 23h1M159 27h1m27 0h1M179 29h1M157 35h1m3 0h1M137 37h1M149 39h1m3 0h1m1 0h1m33 0h1M135 43h1M117 47h1m41 0h1M153 49h1M113 51h1M125 53h1m1 0h3m19 0h1m13 0h1M121 55h1m33 0h1M113 57h1m29 0h1m5 0h1m13 0h1M107 59h1m25 0h1M103 61h3m19 0h1m37 0h1M111 63h1m53 0h2M133 65h1m7 0h1m3 0h1m51 0h1m1 0h1M129 67h1m13 0h2m34 0h1m17 0h1M111 69h1m53 0h1m11 0h1m17 0h1M47 71h1m63 0h1m29 0h1M47 73h1m137 0h1M123 75h1m7 0h1m3 0h1M57 77h1m61 0h1M125 79h1m19 0h2m22 0h1m15 0h1M93 81h1m11 0h1m3 0h1m23 0h1m7 0h1m3 0h2m6 0h1m17 0h1m1 0h1M53 83h1m35 0h1m19 0h1m35 0h2m46 0h1M101 85h1m33 0h1m1 0h1m31 0h1m21 0h2M49 87h1m83 0h1m9 0h1M63 89h1M71 91h1m99 0h1M77 93h2m46 0h1m3 0h1m33 0h1m9 0h1M103 95h1m7 0h1M45 97h1m15 0h1m61 0h1m7 0h1M53 99h1m23 0h1m13 0h1m33 0h1M57 101h1m57 0h2m16 0h1M49 103h1m59 0h1M75 105h2m8 0h1m17 0h1M83 107h1m31 0h1M61 109h1m9 0h1m57 0h1M51 111h1m7 0h1m5 0h1m1 0h1m27 0h1m13 0h1m17 0h1m39 0h1M47 113h1m23 0h1m11 0h1m3 0h1m31 0h1M53 115h1m19 0h1m53 0h1M39 117h1M27 119h1m99 0h1M31 121h1m45 0h1M35 125h1m41 0h1m25 0h1M71 127h1m25 0h1M85 129h1m15 0h1M105 131h1m37 0h1M91 133h1m3 0h1M45 135h1m1 0h1m65 0h1M47 137h1M33 139h1m27 0h1m41 0h1M75 141h1m53 0h1M55 143h1m33 0h1M53 147h1M47 153h1"/>
<path id="u16a" d="M152 12h1m19 0h1M144 18h1m41 0h1M164 22h1M186 24h1M170 26h1M170 28h1M158 32h1M152 36h1M126 38h1m9 0h1m3 0h1m31 0h1M160 42h1m7 0h1m21 0h1M138 44h1M128 46h1m7 0h1m21 0h1m9 0h1m19 0h1M162 48h1m1 0h1M126 50h1m35 0h1M132 52h1m5 0h1m9 0h2m4 0h1m13 0h1M120 54h1m27 0h1m1 0h1m19 0h1m9 0h1M106 56h1m51 0h1M106 58h1m19 0h1m33 0h1m1 0h1M112 60h1m35 0h1M100 62h1M118 64h1m7 0h1m33 0h1M58 66h1m65 0h1m13 0h1m5 0h1m7 0h1M50 68h1m65 0h1m21 0h1m13 0h1m41 0h1m3 0h1M156 70h1M54 72h1m45 0h1m29 0h1m13 0h1m33 0h1M198 74h1M48 76h1m9 0h1M140 78h1m1 0h1m3 0h1m37 0h1M58 80h1m65 0h1m11 0h1m57 0h1M58 82h1m43 0h1m45 0h1M102 84h1m37 0h2m30 0h1M104 86h2m22 0h1m25 0h1M124 88h1M58 90h1m115 0h1M54 92h1m51 0h1M100 94h1m13 0h1m47 0h1M44 96h1m43 0h1M58 98h2m104 0h2M76 100h1m5 0h1m25 0h1m3 0h2m2 0h2M44 102h1m129 0h1M90 104h1m25 0h1M16 106h1m115 0h1M94 108h1m21 0h1M78 110h1m35 0h1m9 0h1M82 112h2m18 0h1m9 0h1m5 0h1m9 0h1M72 114h1m15 0h1m27 0h2m2 0h1m3 0h1M104 116h1M62 118h1m47 0h1M76 120h1m19 0h1M44 122h1m7 0h1m23 0h1m27 0h2M74 124h1M42 126h2m48 0h1M68 128h1m9 0h1M62 130h1m37 0h1m1 0h1m9 0h1M72 132h1m25 0h1M66 134h1m25 0h1m45 0h1M34 136h1m51 0h1m23 0h1M24 138h1m15 0h1M30 140h1m87 0h1m9 0h1M76 142h1m3 0h1m35 0h1M48 144h1m55 0h1m3 0h1m9 0h1m5 0h1M60 146h1M70 148h1M50 150h1"/>
<path id="u16b" d="M160 9h1M180 11h1M174 13h1M168 19h1m1 0h1m1 0h1M140 21h1m37 0h1M142 23h1M140 27h1M148 33h1M148 35h1m33 0h1M178 37h1M136 39h1m51 0h1m3 0h1M124 41h1M140 43h1m11 0h1M120 45h1m19 0h1m9 0h1M144 47h1M166 49h1m17 0h1m1 0h1M118 51h1m67 0h1M140 53h1m27 0h1M88 55h1m21 0h1m35 0h1m13 0h1m1 0h2M130 57h1m23 0h1M146 59h1m3 0h1M100 61h1M108 63h1m45 0h2M140 65h1m9 0h1m47 0h1m1 0h1M130 67h1m7 0h2M160 69h1m17 0h1m9 0h1M94 71h1m1 0h1M48 73h1m101 0h1m7 0h1m25 0h1m7 0h1M98 75h1m39 0h1m3 0h1m1 0h1M128 77h1m11 0h1m37 0h1M110 79h1m13 0h1M136 81h1m1 0h1m15 0h1m11 0h1M110 83h1M90 85h1m55 0h2m20 0h1m7 0h1m7 0h1M40 87h1m89 0h1M132 89h1m27 0h1m1 0h1M176 91h1M62 93h1m7 0h1m41 0h1m9 0h1m3 0h1m7 0h1m31 0h1M52 95h1m17 0h3m37 0h1m1 0h1M112 97h1m3 0h1M76 99h1m1 0h1m13 0h1m31 0h1m1 0h1m1 0h1M108 101h1m3 0h1M108 103h1m1 0h2m8 0h1M50 105h1m13 0h1m15 0h1m51 0h1m1 0h1M116 107h2m10 0h1m1 0h1m19 0h1m3 0h1M106 111h1m19 0h1M90 113h1m29 0h1m7 0h1M52 115h1m1 0h1m73 0h1M130 117h1M84 121h1m25 0h1m45 0h1M32 123h1m21 0h1m15 0h1m21 0h1m29 0h1M60 125h1m57 0h1M56 127h1m7 0h1m49 0h1M108 129h1M70 131h1m3 0h1m1 0h1m7 0h1M36 133h1m17 0h1m25 0h1m13 0h1m1 0h1M52 135h1M92 137h1m15 0h1M30 139h1m29 0h1m25 0h1M116 141h1M46 143h1M34 145h1m13 0h1m27 0h1m25 0h1M40 149h2m24 0h1m33 0h1M60 153h1M44 155h1M44 157h2"/>
<path id="u16c" d="M159 10h1m21 0h1M161 26h1M155 28h1M143 32h1m45 0h1M131 34h1m51 0h1M155 36h1m23 0h1M171 42h1M143 44h1m9 0h1M141 46h1M139 48h1m29 0h1M169 50h1M149 52h1m3 0h2M107 54h1m23 0h1m21 0h1m11 0h1M91 56h1m69 0h1M153 58h1M105 60h1m23 0h1m23 0h1m1 0h1m7 0h1m1 0h1m5 0h1M135 62h1m33 0h1M147 64h1m7 0h1m1 0h1m9 0h1M157 66h1m9 0h1M121 68h1m11 0h1m15 0h1M59 70h1m59 0h1m3 0h1m23 0h1m39 0h1M47 72h1m105 0h1m29 0h1M121 74h1m19 0h1M53 78h1m55 0h1M63 80h1m117 0h1M101 82h2m22 0h1m57 0h1M141 84h1M95 86h1m9 0h1M61 88h1m11 0h1m113 0h1M67 90h1m33 0h1m15 0h1m51 0h1M115 92h1m9 0h1M71 94h1m41 0h2m22 0h1m35 0h1M51 96h1m3 0h1m15 0h1m1 0h1m1 0h1m21 0h1m17 0h1m15 0h1m45 0h1M59 98h1m105 0h1M47 100h1m1 0h1m9 0h1m5 0h1m7 0h1m19 0h1m11 0h1m7 0h1m3 0h1m1 0h1m41 0h1M113 102h1m11 0h1m45 0h1M45 104h1m25 0h1m43 0h2m6 0h1M45 106h1m61 0h1m11 0h1m7 0h1M47 108h1m3 0h1m51 0h1m25 0h1M77 110h2M47 112h1m35 0h1m1 0h1m15 0h2m24 0h2M83 114h1m33 0h1m5 0h2M67 116h1m11 0h1m11 0h1m7 0h1M73 118h1m17 0h1M109 120h1M105 122h1M63 124h1m51 0h1m3 0h1m27 0h1M43 126h1m45 0h1M47 128h1m75 0h1M91 130h1M29 132h1M29 134h1m65 0h1m13 0h1M33 136h2m4 0h1m9 0h1m13 0h1m1 0h1M39 138h2m8 0h1M61 140h1m27 0h1m3 0h1m43 0h1M39 142h1m17 0h1m9 0h1m1 0h1m23 0h1M29 144h1m55 0h1m43 0h1M33 148h1m25 0h1M43 150h1"/>
<path id="u16d" d="M165 11h1M177 15h1m3 0h1M173 17h1m5 0h1m1 0h1M143 19h1M147 25h1m29 0h1M141 29h1M141 31h1m3 0h1M173 33h1m3 0h1M147 35h2m42 0h1M159 37h1M163 41h1M131 45h1m13 0h1m7 0h1m11 0h1m3 0h1M127 47h1m11 0h1m11 0h1m17 0h1m19 0h1M123 51h1m41 0h1m7 0h1m15 0h1M171 53h1M119 55h1m43 0h1M137 57h1m23 0h1M149 59h2m6 0h1M135 61h1M129 63h1m21 0h1m3 0h1M103 65h1m39 0h1m3 0h1M51 67h1m81 0h1m5 0h1m11 0h1M59 69h1m67 0h1m31 0h2m32 0h1M55 71h1m45 0h1m31 0h1m21 0h1m1 0h1M93 73h1m3 0h1M101 75h1m15 0h1m23 0h2M105 77h1m33 0h2m2 0h1M115 79h1m37 0h1m1 0h1m41 0h1M131 81h1m43 0h1M57 83h1m1 0h1m41 0h1M93 85h1m53 0h1m15 0h1m7 0h1m1 0h1m9 0h2M63 87h1m65 0h2M53 89h1m45 0h1m27 0h1m11 0h1m45 0h1M99 91h1m9 0h1m63 0h1M89 93h1M59 95h1m7 0h1m3 0h2m2 0h1M57 97h1m5 0h1m65 0h1M63 99h1m59 0h2m34 0h1M53 101h1m27 0h1m17 0h1m3 0h1m21 0h1m39 0h1m5 0h1M59 103h1m27 0h1m15 0h1m7 0h1m7 0h2M59 105h1m55 0h1m3 0h1M101 107h1m15 0h1m9 0h2M65 109h1m33 0h1m5 0h1m13 0h1m51 0h1M63 111h1M35 113h1m43 0h1m27 0h1M95 115h1M61 117h1M37 119h1m25 0h1m15 0h1m1 0h1m17 0h1M91 121h1M53 123h2m32 0h1m7 0h1M63 125h1M61 127h1m21 0h1M43 129h1m13 0h1m19 0h1M73 131h2M105 133h1m7 0h1m1 0h1M49 135h1m1 0h2M71 137h1m41 0h1M75 139h1m13 0h1m23 0h1m23 0h1M37 141h1M29 143h1m5 0h1m75 0h1M85 145h1m27 0h1M45 147h1M41 149h1M37 151h1m15 0h1M45 157h1"/>
<path id="u17a" d="M180 10h1M182 12h1M180 16h1M146 18h1M146 26h1m41 0h1M178 28h1M132 34h1m11 0h1m39 0h1M126 36h1M122 38h1m33 0h1m31 0h1M182 40h1m3 0h2M120 42h1m27 0h1M158 44h1m33 0h1M120 46h1m41 0h1m3 0h1M146 48h1m5 0h1m3 0h1m9 0h1M112 50h1m45 0h1m5 0h1M92 52h1m57 0h1M108 54h1m1 0h1m19 0h1m31 0h1M90 56h1m23 0h1m41 0h2m6 0h1m3 0h1M120 58h2M120 60h1m3 0h1m39 0h1M122 62h1m11 0h1m23 0h1M116 64h1m3 0h1m29 0h1m5 0h1m1 0h1m33 0h1M146 66h1m1 0h2m10 0h2M182 68h1m17 0h1M56 70h1M58 72h1m55 0h1m23 0h1m53 0h1m5 0h1M54 74h1m41 0h1m9 0h1m83 0h1m3 0h1M52 76h1m81 0h1m7 0h1m11 0h2M62 78h2m86 0h1M104 80h1m33 0h1m15 0h1m13 0h1M188 82h1M112 84h1m73 0h1M124 86h2m18 0h1m25 0h1M70 88h1m27 0h1m39 0h1m3 0h1m45 0h2M112 90h1m9 0h1m7 0h2m6 0h2M116 92h1m55 0h1M68 94h1m1 0h1m21 0h1m17 0h2m68 0h1M46 96h1m57 0h1m5 0h1M42 98h1m5 0h1m7 0h1m65 0h1M80 100h1m77 0h1m3 0h1M46 102h1m1 0h1m1 0h1m13 0h1m43 0h3m5 0h1m9 0h1M60 104h1m3 0h1m47 0h2m8 0h1M44 106h1m27 0h1m27 0h1m11 0h1m11 0h1m3 0h1m21 0h1m11 0h1M108 108h1m11 0h1m11 0h1M92 110h2m26 0h1m45 0h1M46 112h1m41 0h1M86 114h1m15 0h1m3 0h1m7 0h1M90 116h1m39 0h1M28 120h1m3 0h2m50 0h2m66 0h1M30 122h1m39 0h1m21 0h1m33 0h1m1 0h1M110 126h1m3 0h1M50 128h1m5 0h2m12 0h1M50 132h1M46 134h1M60 136h1M42 138h1m45 0h3M28 140h1M30 144h1m19 0h1m25 0h1m3 0h1m31 0h1M62 146h1M32 150h1m11 0h1M40 152h1m3 0h1M40 156h1"/>
<path id="u17b" d="M172 11h1M144 19h1M168 23h1M182 25h2M158 27h1m17 0h1M144 29h1M142 31h1M150 33h1m25 0h1M140 35h1M126 43h1m43 0h1M164 45h1M152 47h1m5 0h1m7 0h1m3 0h1M118 49h1m13 0h1m23 0h1m15 0h1M164 51h1m3 0h1M126 53h1M126 55h1m23 0h1m15 0h1M156 57h1M144 59h2m10 0h1M140 63h1m5 0h1m5 0h1m11 0h1M50 65h1m109 0h1m5 0h2m28 0h1M60 69h1m125 0h1M118 71h1m9 0h1m1 0h1m13 0h1m15 0h1m17 0h1M58 73h1m61 0h1m69 0h1M50 75h1M96 77h1m29 0h1M94 79h1m27 0h1m65 0h1M54 81h1m39 0h1m77 0h1m11 0h1m11 0h1M50 83h1m55 0h3m39 0h1M126 85h1m21 0h2M42 87h1m65 0h1m77 0h2M102 89h1M114 91h1M102 93h1m3 0h1m11 0h1m5 0h1m13 0h1M128 95h1M48 97h1m71 0h1M112 99h2m8 0h1M84 101h1m25 0h1m15 0h1M70 103h1m45 0h1m7 0h2m48 0h1M16 105h1m67 0h1m7 0h1m25 0h1m7 0h2M70 107h1m27 0h1m3 0h1m15 0h1m13 0h1m3 0h1M48 109h1m47 0h1m21 0h1m3 0h2m40 0h1M60 111h1m23 0h1m23 0h1m9 0h1m1 0h1M56 113h1m23 0h1m5 0h1m21 0h2M74 115h1m27 0h1M78 117h1m37 0h1M64 119h1m7 0h1m1 0h1m15 0h1m7 0h1m57 0h1M66 121h1m1 0h1m1 0h1m7 0h1M40 123h1m11 0h1m13 0h1m11 0h1M38 127h1m13 0h1M152 129h1M72 133h1m13 0h1m17 0h1M82 135h1m13 0h2M24 137h1m19 0h1M56 139h1m5 0h1m1 0h1M78 141h2m32 0h1M56 143h1m37 0h1M36 145h1m7 0h1M60 147h1M32 149h2"/>
<path id="u17c" d="M177 12h1M147 14h1m9 0h1m19 0h1M171 16h1M163 18h1m1 0h1M175 20h1M157 22h1m9 0h1M151 24h1m27 0h1m1 0h1M139 26h1m37 0h1M173 28h1M157 32h1M177 34h1M121 40h1m21 0h1m43 0h1M139 44h1m9 0h1M137 46h1m15 0h1m5 0h1M161 48h1M133 50h1m33 0h1M137 52h1m31 0h1M115 54h1m35 0h1m17 0h1M105 56h1m17 0h1m33 0h1M121 58h1m37 0h1m9 0h1M133 60h1M145 62h1M115 64h2m8 0h1m5 0h1M49 66h1m5 0h1m1 0h1m85 0h1m5 0h1m11 0h1m31 0h1M115 68h1m15 0h1M51 70h1m43 0h1m33 0h1m23 0h1M123 72h1m7 0h1M95 74h2m56 0h1m5 0h1m37 0h1M49 76h1m97 0h1m7 0h1m35 0h1m3 0h1M47 78h1m15 0h1m53 0h1m17 0h1M127 80h1M53 82h1m65 0h1m27 0h1m45 0h1M111 84h2m38 0h1M125 86h1m7 0h1m13 0h1m43 0h1M107 88h1m33 0h2m42 0h1m3 0h1M131 90h1m7 0h1M53 92h1M49 94h1m23 0h1m25 0h1m11 0h1m9 0h1m1 0h1M45 96h2m2 0h1M61 98h1m67 0h1M83 100h1M15 102h1m47 0h2m44 0h2m24 0h1M67 104h1m7 0h1m11 0h1m15 0h1m5 0h1m3 0h1m3 0h1M17 106h1m23 0h1m93 0h1M79 108h1m1 0h1m13 0h1m35 0h2m20 0h1M65 110h1m27 0h1m15 0h1m3 0h1M61 112h1m105 0h1M49 114h1m29 0h1m9 0h1m1 0h1m29 0h1M69 116h1m45 0h1m33 0h1M55 118h1m71 0h1M33 120h1m51 0h1m21 0h1m17 0h1M75 122h1m27 0h1M121 124h1M41 126h1M57 128h1m21 0h1m1 0h1m59 0h1m9 0h1M29 130h1m49 0h1m5 0h1m23 0h1M65 132h1m5 0h1m41 0h1M65 134h1m65 0h1M25 136h1m29 0h1m49 0h1m7 0h1m11 0h1M89 138h2m6 0h1M31 140h1m25 0h1m59 0h1M101 142h1M35 144h1m7 0h1M39 146h1m21 0h2M67 150h1M47 154h1m1 0h1m7 0h1"/>
<path id="u17d" d="M163 9h1M151 13h1m17 0h1M147 15h1m31 0h1M147 17h1m23 0h1M159 25h1m9 0h1m3 0h1m9 0h1M133 27h1M181 31h1M149 35h1M149 37h1M137 39h1M189 41h1M155 43h1M139 45h1M137 47h1M167 49h1m21 0h1M135 51h1m1 0h1m11 0h1m1 0h1M89 53h1m55 0h1m7 0h1m3 0h1m1 0h1M93 55h1m35 0h1m19 0h2m8 0h1M131 57h1m19 0h1M145 59h1M161 61h1M97 65h1m25 0h1m43 0h1M113 67h1m35 0h1M55 69h1m81 0h1m5 0h1m7 0h1M121 71h1m63 0h1M95 73h1m87 0h1m15 0h1M53 75h1m59 0h1m19 0h1m3 0h1m55 0h1M55 77h1m59 0h1m15 0h1m17 0h1m5 0h1m21 0h1m13 0h1M61 79h1M117 81h1m1 0h1m5 0h1M95 83h1m11 0h2M107 85h1m41 0h1m17 0h1m17 0h1m1 0h1m5 0h1M47 87h1m57 0h1m33 0h1m47 0h1m3 0h1M95 89h1M117 91h1m45 0h1m1 0h1M121 93h1m47 0h1M49 95h1m15 0h1m3 0h1M47 97h2M93 99h1m19 0h1m51 0h1m1 0h1M61 101h1m45 0h1m15 0h1m7 0h1M15 103h1m77 0h1m19 0h1m1 0h2m8 0h1m39 0h1M77 105h1m35 0h1m3 0h2m8 0h1m5 0h1m25 0h1M93 107h1m35 0h1M59 109h1m27 0h1m15 0h1m17 0h3M53 111h1m25 0h1M109 113h1m15 0h1M121 115h1m27 0h1M31 117h1m31 0h1m9 0h1m47 0h1M155 119h2M33 121h1m41 0h1m81 0h1M29 123h1m45 0h1m45 0h1M115 125h1m33 0h1M31 127h1m11 0h1m19 0h1m87 0h1M63 129h1m27 0h1M47 131h1m5 0h1m45 0h1m3 0h1M31 133h1m9 0h1m11 0h1M93 135h1m3 0h1m9 0h1M27 137h1m31 0h1m29 0h1M31 139h1m15 0h1m11 0h1m27 0h1m5 0h1M31 141h1m37 0h1m1 0h1m7 0h1M39 143h1m3 0h1m73 0h1M63 147h1M33 149h1m5 0h1M65 151h1m3 0h1M51 155h1"/>
<path id="u18a" d="M186 22h1M138 26h1m33 0h1m9 0h1M168 28h1m5 0h1m1 0h1m3 0h1M138 30h1m17 0h1m33 0h1M168 38h1m21 0h1M156 40h1M150 44h1m21 0h1M124 46h1m7 0h1M126 48h1m1 0h1m19 0h1m9 0h1M130 50h1m5 0h1m5 0h1M114 52h1M88 54h1m47 0h1m15 0h1M120 56h2M132 58h1m19 0h1M118 60h1m3 0h1M102 62h1m9 0h1m47 0h1m1 0h1M122 64h1m77 0h1M104 66h1m91 0h1M98 68h1M104 70h1m25 0h1m55 0h1M52 72h1m43 0h1m93 0h1M58 74h1m123 0h1m5 0h1M50 76h1M54 78h1m3 0h1m33 0h1m43 0h1M120 80h1m11 0h1m13 0h1m35 0h1M106 82h1m65 0h1m3 0h1m17 0h1M142 84h2m8 0h1M98 86h1m1 0h1m5 0h1m71 0h1m1 0h1m3 0h1M106 88h1m15 0h2m12 0h1M128 90h1m35 0h1M112 92h1m1 0h1m5 0h1m11 0h1m1 0h1m31 0h1m1 0h2m6 0h1m3 0h1M72 94h1m43 0h1m11 0h1m37 0h1M70 96h1m43 0h1m9 0h1m55 0h1M62 98h1m49 0h1m7 0h1m3 0h2M44 100h1m21 0h1m39 0h1m7 0h1m7 0h1m9 0h1M62 102h1m27 0h1m21 0h1m11 0h1m5 0h3m1 0h1M62 104h1m57 0h2m44 0h1M54 106h1m7 0h1m7 0h1M60 108h1m9 0h1m31 0h1M64 110h1m11 0h1m49 0h1m25 0h1M34 112h1m43 0h1m15 0h1M108 114h1M52 116h2m20 0h1m3 0h1m9 0h1m13 0h2m48 0h1M52 118h1M80 120h1m75 0h1M66 122h1m53 0h1M28 124h2m22 0h1m17 0h1m13 0h1m17 0h1m17 0h1m5 0h1M50 126h1m33 0h1M42 128h1m49 0h1m59 0h1M58 130h1m17 0h2m10 0h1M30 132h1m43 0h1m37 0h1M80 134h1m21 0h1M24 136h1m37 0h1m43 0h1M60 138h1m33 0h1m5 0h1M66 142h1m17 0h1m23 0h1m3 0h1M52 146h1M44 148h1M40 150h1m19 0h1m9 0h1M46 152h1m13 0h1M48 154h1M46 156h1"/>
<path id="u18b" d="M174 11h1M184 13h1M148 17h1M158 23h1M180 27h2M178 29h1M138 31h1m13 0h1m3 0h2m6 0h1m13 0h1M174 33h1M180 35h1M128 39h1m1 0h1M148 43h1m23 0h1M142 45h1m13 0h1M162 47h1m27 0h1M130 51h1m5 0h1m19 0h1m5 0h1M142 53h1m19 0h1M130 55h1m9 0h1m11 0h1M116 57h1m11 0h1m9 0h2m6 0h1M132 59h1m19 0h1m13 0h1M48 61h1m59 0h1m15 0h1m15 0h1m23 0h2M54 63h1m69 0h1m13 0h1M138 65h1m13 0h1m5 0h1m33 0h1M50 67h1m53 0h1m41 0h1m1 0h1M54 69h1m53 0h1m89 0h1M152 71h1m45 0h1M50 73h1m81 0h1m3 0h2m48 0h1m9 0h1M124 75h2M56 77h1m41 0h3m15 0h1m5 0h1M52 79h1m11 0h1m53 0h1m7 0h1m3 0h3m39 0h1m1 0h1M130 81h1m1 0h1m9 0h1m33 0h1M126 83h1m51 0h1m15 0h1M124 85h1M118 87h1m45 0h1M104 89h1m23 0h1M110 91h1M50 95h1m71 0h1m9 0h1m1 0h1m45 0h2M70 97h1m47 0h1m47 0h1M88 99h3m7 0h1m1 0h1m65 0h1M42 101h1m23 0h1m1 0h1m21 0h1m23 0h1m19 0h1M60 103h1m29 0h1m39 0h1M122 105h1M108 107h1m15 0h2M68 109h1m5 0h1M46 111h1m15 0h1m51 0h1M76 115h1M98 117h1M58 119h1m37 0h1M42 123h1M50 125h1M42 127h1m107 0h1M96 129h1m45 0h1M50 131h1m85 0h1M30 133h1m9 0h1m1 0h1m39 0h1m5 0h1m49 0h1m7 0h1M30 135h2m4 0h1m25 0h1m29 0h1m19 0h1M96 137h1m1 0h1M40 139h1M84 141h1M52 143h1m1 0h1m7 0h1m33 0h1M46 145h1M30 147h1M34 149h1M34 151h1m5 0h1M46 155h1"/>
<path id="u18c" d="M167 10h1M165 12h1m7 0h1M167 14h1m13 0h1M173 16h1M173 22h1m3 0h1M161 24h1M163 28h1M131 36h1M137 38h1M125 40h1m65 0h1M129 44h1m39 0h1m13 0h1m7 0h1M119 46h1m7 0h1M137 48h1m3 0h1m9 0h1m37 0h1M107 50h1m45 0h1m35 0h1M143 52h1m17 0h1M139 54h1m1 0h1m7 0h1M121 56h1m15 0h1M119 58h1m25 0h1m3 0h1M103 60h1m23 0h1m11 0h1m17 0h1M165 62h1M121 66h1m25 0h1M137 68h1M57 70h1m93 0h1M137 74h1m49 0h2M117 76h1m1 0h1m17 0h1M61 78h1m53 0h1M51 80h1m3 0h1m5 0h1m47 0h1m31 0h1m9 0h1m43 0h1M103 82h1m77 0h1M91 84h1m51 0h1M49 88h1m53 0h1m1 0h2m16 0h1m5 0h1m3 0h1m9 0h1M103 90h1m7 0h1m3 0h1m63 0h1M105 92h1m5 0h2m4 0h1m51 0h1M181 94h1M97 98h1m27 0h1m7 0h1M111 100h1m13 0h1m33 0h1M49 102h1m47 0h1m33 0h2M93 104h1m27 0h1m9 0h1m3 0h1M43 106h1m17 0h2m30 0h1m31 0h1m5 0h1M85 108h1m7 0h1m13 0h1m1 0h1m11 0h1m3 0h1M91 110h1m3 0h1m21 0h1m39 0h1m7 0h1M63 112h1m29 0h2m10 0h1M53 116h1m49 0h1m9 0h1M89 118h1M41 120h1m63 0h1M65 122h2M29 124h1m59 0h1M77 130h1M73 132h2m2 0h1m3 0h1m9 0h1m9 0h1M87 134h1m13 0h2m4 0h1M93 136h1M31 138h1m5 0h1m49 0h1m25 0h1m5 0h1M35 142h1m47 0h2m46 0h1M47 144h1m47 0h1m9 0h1m11 0h1M47 146h1M53 148h1M43 156h1m1 0h2"/>
<path id="u18d" d="M169 15h1M183 17h1M167 21h1M141 25h1M181 27h1M157 31h1m27 0h1M153 35h1M157 37h1m5 0h1m25 0h1M133 39h1m7 0h1M125 41h1M133 43h1M133 45h1m37 0h1M129 47h1m1 0h1m11 0h1m1 0h1m7 0h1M147 49h1m11 0h1m5 0h1M125 51h1m27 0h1m37 0h1M89 55h1m17 0h1m61 0h1M139 57h1m15 0h1m9 0h1M103 59h1m55 0h1M129 61h1m1 0h1m33 0h1M131 63h1m29 0h1M99 65h1m61 0h1M53 67h1m45 0h1m1 0h1m1 0h2m4 0h1m7 0h1M155 69h1M95 71h1m51 0h1M137 73h1m51 0h1m3 0h1M63 75h1m55 0h1m5 0h1m47 0h1M99 77h2M109 79h1m13 0h1m7 0h2M103 83h1m17 0h1m25 0h1M95 85h1M55 87h1m45 0h1m21 0h1M137 89h1m3 0h1m41 0h1M65 91h1m31 0h1m3 0h1m11 0h1m13 0h1m5 0h1m3 0h1m43 0h1m3 0h1M63 93h1m47 0h1m25 0h1m45 0h1M45 95h1m85 0h2m48 0h1M69 97h2m40 0h1m1 0h1M85 99h1m3 0h2m18 0h1m17 0h1m5 0h1M51 101h1m121 0h1M47 103h1m25 0h1M55 105h1m75 0h1M45 107h1m23 0h1m7 0h1m47 0h1m43 0h1M47 109h1m61 0h1m17 0h1m7 0h1M91 111h1m15 0h1M59 113h1m17 0h1m3 0h1M103 115h1m21 0h1M97 117h2m12 0h1m41 0h1M91 119h1m9 0h1M69 121h1M37 123h1m3 0h2m116 0h1M121 125h1M79 127h1M65 129h1M27 135h1m3 0h1m9 0h1m43 0h1m15 0h1M25 137h1m35 0h1m15 0h1m15 0h1m13 0h1M95 139h1M53 141h1m41 0h1M33 143h1m51 0h1M35 145h1m7 0h1M29 147h2m30 0h1M69 149h1M59 151h1m1 0h1M43 153h1"/>
<path id="u19a" d="M160 10h1m17 0h1M172 16h1M184 18h1M176 24h2M180 26h1M134 28h1M152 30h1m33 0h1M142 32h1m43 0h1m1 0h1M172 34h3M136 36h1M188 40h1M118 42h1m31 0h1m41 0h1M134 44h1m1 0h1m51 0h1M148 46h1m15 0h1M170 48h1M148 50h1m11 0h1m29 0h1M112 52h1m5 0h1m23 0h1m9 0h1M134 54h1m5 0h1m1 0h1m3 0h1m9 0h1M134 56h1m1 0h1m3 0h1m19 0h1M118 58h1m9 0h1m27 0h1M104 60h1m23 0h1m3 0h1m11 0h1m1 0h1m19 0h1M144 62h1m5 0h1m5 0h1M104 64h1m33 0h1m27 0h1M114 66h1M106 68h1m25 0h1m11 0h1m23 0h1m27 0h1M52 70h2m60 0h1m21 0h1m15 0h1M94 72h1m13 0h1m79 0h1M60 74h1m97 0h1m33 0h2M120 76h3M120 78h1m5 0h1M48 80h1m57 0h1m5 0h1m3 0h4m2 0h1M64 82h1m117 0h1m13 0h1M104 84h1m25 0h1m45 0h1M108 86h1m3 0h1m1 0h1m53 0h1m19 0h1M110 88h1m33 0h1M64 90h1m53 0h1m1 0h2m56 0h1M100 92h1m17 0h1m51 0h1m3 0h1m9 0h1M74 94h1m43 0h1m3 0h1m1 0h1m5 0h1M48 96h1m1 0h1m7 0h1m7 0h1m35 0h1m9 0h1m5 0h1m9 0h2m48 0h1M92 104h1m35 0h2m4 0h1M108 106h1m9 0h1M122 108h1m5 0h1m7 0h1m13 0h1m13 0h1M110 110h1m17 0h1M76 112h2M54 114h1m55 0h1M110 116h1M100 118h1m53 0h1M52 120h1m17 0h1M56 122h1M90 124h1M82 126h1m67 0h1M52 128h1m9 0h1m3 0h1M34 130h1m47 0h1M46 132h1m7 0h1m15 0h1M78 134h1m11 0h1M56 136h1M84 138h1m13 0h1m35 0h1M60 140h1M34 142h1m59 0h1M34 144h1m19 0h1m9 0h1m65 0h1M44 146h1m9 0h1M42 148h1m13 0h1M38 150h1m17 0h1M42 154h2"/>
<path id="u19b" d="M158 9h1M176 13h1m5 0h1M184 15h2M178 19h1M140 23h1m43 0h1M188 27h1M182 31h1M172 35h1M162 37h1M156 39h1M186 43h1M134 45h1m1 0h2m24 0h1m3 0h1M126 47h1m5 0h2m20 0h1m9 0h1m23 0h1M128 49h1m13 0h1m9 0h1m7 0h1m1 0h1M158 51h1m1 0h1m9 0h1M90 53h1m23 0h1m3 0h1m31 0h1m1 0h1m13 0h1M92 55h1m15 0h1m33 0h1M134 57h1m17 0h1m5 0h1m1 0h1M110 59h1m13 0h1m5 0h1m17 0h1M100 63h1m55 0h1m1 0h1M142 65h1m3 0h1m1 0h2M56 67h1m1 0h1m139 0h1m1 0h1M120 69h1m23 0h1m3 0h1m3 0h1m5 0h1M138 71h1M52 73h2m52 0h1M62 75h1m51 0h1M48 77h1m11 0h1m89 0h1m5 0h1M54 79h1m45 0h1m39 0h1M50 81h1m53 0h1m1 0h2M118 83h1m1 0h1m9 0h2m2 0h1M100 85h1m31 0h1m21 0h1m17 0h1m15 0h1M48 87h1m55 0h1m9 0h1m51 0h1m3 0h1M100 89h1m21 0h1m17 0h1m29 0h1M112 91h1m15 0h2m52 0h1M114 93h2m54 0h1M44 95h1m43 0h1m19 0h1m5 0h1m1 0h1m47 0h1M52 97h1m3 0h1M80 99h1m25 0h1m1 0h1m5 0h1M62 101h1m61 0h1m39 0h1M52 103h2m12 0h1m7 0h1m37 0h1m9 0h2m4 0h1M56 105h1m5 0h1m7 0h1m25 0h1m17 0h1m5 0h1M86 107h2m2 0h1m15 0h2m14 0h1M54 109h1m3 0h1m11 0h1m5 0h1m15 0h1m11 0h1m19 0h1m3 0h1M50 111h1m77 0h1M72 113h1m15 0h1m17 0h1M60 115h1m11 0h1m43 0h1m45 0h1M62 117h1m19 0h1m71 0h1M54 119h1m73 0h1M74 121h1M38 123h1m37 0h1m17 0h1M106 125h1M66 127h1m17 0h1M58 131h1m31 0h1m17 0h1M98 133h1m3 0h1M42 135h2m10 0h1m49 0h1M26 137h1m9 0h1m31 0h1M54 139h1m61 0h1m11 0h1M32 141h1m49 0h1M38 143h1m63 0h1m1 0h1m1 0h1M42 149h1m5 0h1M56 151h1m13 0h1M36 153h1M40 155h1"/>
<path id="u19c" d="M179 16h1M147 18h1m23 0h1M177 24h1M147 26h1m1 0h1m21 0h1m13 0h1M169 28h1M173 34h2m16 0h1M171 40h1M121 42h1M135 46h1m27 0h2M111 50h1m47 0h2M107 52h1m9 0h2m10 0h1m37 0h1M89 54h1m37 0h1m33 0h1M119 56h1m31 0h1m7 0h2M117 60h1m17 0h1M131 62h1m27 0h1M161 64h1m31 0h1M99 66h1m33 0h1M119 68h1m9 0h1m11 0h1m53 0h2M53 70h1m59 0h2m16 0h1M61 72h1m53 0h1m71 0h2M51 74h1m57 0h1m73 0h1m9 0h1M63 76h1m41 0h1m1 0h1m13 0h2m2 0h1m1 0h1m57 0h1M55 78h1m3 0h1m33 0h1m45 0h1m35 0h1M117 80h3m69 0h1M63 82h2m52 0h1m9 0h1m1 0h1m19 0h1m39 0h1M125 84h1m21 0h1m1 0h1m17 0h1m5 0h1M121 86h1m1 0h1m11 0h1m35 0h1M47 88h1m61 0h2m26 0h1m37 0h1M107 90h1m13 0h1m7 0h1m45 0h1m9 0h1M123 92h1M133 94h1m31 0h1M121 96h1m7 0h1M79 100h1m43 0h1m9 0h1M87 102h1M91 104h2m34 0h3m3 0h2m26 0h1M97 106h1m71 0h1M57 108h1m31 0h1m37 0h2M67 110h1m29 0h1m23 0h1m5 0h2M51 112h1m13 0h1m11 0h1m35 0h1m1 0h1m9 0h1M59 114h1m13 0h1m39 0h1m47 0h1M51 116h1m13 0h1m43 0h2m10 0h1m31 0h1m9 0h1M93 118h1M51 120h2m4 0h1m1 0h1m19 0h1M157 122h1M61 124h1m41 0h1M31 128h1M97 130h1M75 132h1m21 0h1M39 134h1M45 136h1m13 0h1m25 0h1m13 0h1m7 0h1m7 0h1M25 138h1m31 0h1m7 0h1m27 0h1m15 0h1m17 0h1M37 140h1m11 0h1M29 142h1m73 0h1m7 0h1M101 144h1m11 0h1M33 146h1m83 0h1M39 148h1M37 150h2m20 0h1M43 154h1"/>
<path id="u19d" d="M185 15h1M145 17h1M145 19h1m13 0h1M183 21h1M139 27h1m33 0h1m1 0h1M165 29h1m5 0h1m1 0h1m15 0h1M143 33h1m45 0h1M181 35h1M135 37h1M139 39h1M159 41h1M163 43h1M127 45h1m9 0h1m17 0h1M133 47h1m53 0h2m2 0h1M155 49h1m1 0h1M107 51h1m31 0h1m1 0h1m5 0h1M131 53h1m7 0h1m15 0h1m9 0h2M127 55h1m9 0h1M127 61h1m17 0h1m3 0h1M49 63h1m103 0h1M55 65h1m93 0h1M115 67h1M131 69h1M49 71h1m3 0h1m75 0h1m1 0h1m55 0h1M53 73h1m45 0h1m87 0h1m3 0h1m5 0h1M99 75h1m7 0h1m51 0h1m21 0h1m7 0h1M133 77h1m51 0h1M47 79h1m3 0h1m1 0h2m72 0h1m11 0h2m32 0h1m15 0h1M107 81h1m79 0h1M129 83h3m35 0h1m5 0h1M99 87h1m31 0h1m33 0h2M97 89h1m7 0h1m1 0h1m27 0h1M115 91h1m3 0h1m1 0h1m7 0h1m9 0h1M113 93h3m3 0h1M51 95h1m47 0h1m21 0h1M67 97h1m23 0h1m25 0h1M51 99h1m45 0h1m7 0h2M113 101h1M53 103h1m15 0h1m29 0h1m23 0h1m7 0h1M41 105h1m7 0h1m3 0h1m71 0h1m35 0h1M87 107h1m19 0h1M75 109h2m8 0h1m15 0h1m5 0h1M73 111h1m23 0h1m3 0h1m3 0h1m47 0h1M115 113h1m5 0h1m1 0h1m31 0h1M109 115h1m1 0h1m3 0h2m6 0h1M115 117h1M85 119h1m9 0h1M65 121h1m13 0h1M63 123h1m3 0h1m25 0h2M29 125h1m3 0h1m39 0h1M91 127h1M47 129h1m47 0h1m45 0h1M57 131h2m34 0h1M29 133h1m51 0h1m3 0h1m1 0h1M37 135h1m5 0h1m9 0h2m20 0h1m33 0h1M23 137h1m41 0h1M39 139h1m23 0h1m33 0h1m7 0h1m21 0h2M47 141h1m45 0h1M45 143h1m13 0h1m1 0h1m39 0h2M47 145h1m23 0h1m51 0h1M39 147h1m17 0h1M43 155h1m3 0h1m9 0h1"/>
<path id="u20a" d="M164 8h1M176 12h1M152 16h1M170 18h1m9 0h1M168 20h1m1 0h1m7 0h1M168 22h2M158 26h2m14 0h1M144 30h1m27 0h1m3 0h1M136 32h1m7 0h1M188 34h1M182 36h1m1 0h1m1 0h1m1 0h1m1 0h1M142 38h1M142 40h1M186 42h1M126 44h1m3 0h1m37 0h1M126 46h1m29 0h2m2 0h2M180 48h1M124 50h1m9 0h1m21 0h2m12 0h1m21 0h1M188 52h1M90 54h1m35 0h1m1 0h1m39 0h1M150 56h1M114 58h1m15 0h1m7 0h1m7 0h1M108 62h1M112 64h1m29 0h1M52 66h1m47 0h1M108 68h1m17 0h1m15 0h2m2 0h1m1 0h1M54 70h1m5 0h1m35 0h1m99 0h1M186 72h1M128 74h1m9 0h1M98 76h1m19 0h1m5 0h1M112 78h2m18 0h1m41 0h1M54 80h1m97 0h1m17 0h1m3 0h1M110 82h1m7 0h1m3 0h2m2 0h1m1 0h1m3 0h1m1 0h1m51 0h1M62 84h1m57 0h1m73 0h1M156 86h2m4 0h1m27 0h1M96 88h1m23 0h1m11 0h1m27 0h1m3 0h1M126 90h1m5 0h1M98 92h1m37 0h1M50 94h1m51 0h1M100 96h1M70 98h2m20 0h2m12 0h1m61 0h1M92 100h1m17 0h1m15 0h1M58 102h1m7 0h1M74 104h1m57 0h1M98 106h1M46 108h1m9 0h1m7 0h1m1 0h2m20 0h1m9 0h1m5 0h1m9 0h1m9 0h1M62 110h1m7 0h1m23 0h1m23 0h1M48 112h1m3 0h1m33 0h1m35 0h1m1 0h1m29 0h1M50 114h2m6 0h1m3 0h1m49 0h1M54 118h1m41 0h1m21 0h1M74 120h1M36 122h1m27 0h1m41 0h1M64 124h1m17 0h1m17 0h2m20 0h1M68 126h1m17 0h1M76 128h1M90 130h1M94 132h1M96 134h1m13 0h1m3 0h1M104 136h1m9 0h1M66 138h1m43 0h1m1 0h1m5 0h1M26 140h1M32 142h2m62 0h1M58 144h1m3 0h1m31 0h1M46 146h1m9 0h1m1 0h1M40 148h1m17 0h1m1 0h1M34 150h1m1 0h1m21 0h1M42 152h2m10 0h1m15 0h1"/>
<path id="u20b" d="M164 9h1M146 15h1m35 0h1M170 17h1m11 0h1M186 19h1M174 21h2M180 25h1M168 27h2m14 0h1m1 0h1M146 29h1m5 0h1m21 0h2m10 0h1M144 31h1m13 0h1m13 0h1M142 33h1M138 37h1m19 0h1m23 0h1m1 0h2m4 0h1M140 39h1m7 0h1M118 41h1m1 0h2m66 0h1M130 43h2m18 0h1M122 45h1m1 0h1m19 0h1m3 0h1M140 47h1m15 0h1M144 49h1m9 0h1m33 0h1M120 51h1m25 0h1m1 0h1M92 53h2m52 0h2m12 0h2M90 55h2m14 0h1m41 0h1m19 0h1M106 57h1m7 0h1m5 0h1m43 0h1m3 0h1M128 59h1M134 61h1m3 0h1m5 0h1M120 63h1m5 0h1m33 0h1M128 65h1m1 0h1m5 0h1M142 67h1M106 69h1m27 0h1m11 0h1M48 71h1m59 0h1m3 0h1m11 0h1M60 73h1m51 0h1m5 0h1m57 0h1M58 75h1m43 0h1m89 0h1M102 77h1m15 0h1m71 0h1m3 0h1M60 79h1m55 0h1m3 0h1M52 81h1m3 0h1m7 0h1m53 0h1m7 0h1m43 0h1m19 0h1M58 83h1m93 0h1M112 85h1M98 87h1m7 0h1m5 0h1m9 0h1m11 0h1m23 0h1M106 89h1m7 0h4m12 0h1M100 91h1m19 0h1m3 0h1m9 0h1M120 93h1M76 95h1m25 0h1m1 0h1m69 0h1M62 97h1m47 0h1m53 0h1M60 101h1m15 0h1m29 0h1m23 0h1m1 0h1M58 103h1m25 0h3m19 0h1M52 105h1m47 0h1m29 0h1M54 107h1m27 0h1m11 0h1m31 0h1M86 109h1m13 0h1m25 0h1M66 111h1m7 0h1M50 113h1m11 0h1m11 0h1m35 0h1m11 0h1m1 0h1M50 115h2m38 0h1m19 0h1m1 0h1M50 117h1M120 119h1M36 123h1M62 127h1m27 0h1M56 129h1m7 0h1M46 133h2m30 0h1m21 0h1m29 0h1M74 135h1m27 0h1M84 137h1m9 0h2M94 139h1m17 0h1M50 141h1m41 0h1m25 0h1M48 143h1m11 0h1M30 145h1m29 0h1M56 147h1M36 149h1m19 0h1M36 151h1m21 0h1"/>
<path id="u20c" d="M153 14h1m19 0h1M143 18h1m15 0h1m9 0h2M169 22h1M159 26h1m3 0h1m15 0h1m3 0h1M135 28h1m39 0h1M165 30h1m5 0h2m12 0h1M157 36h1M157 38h1M119 42h1M135 44h1m51 0h1M147 46h1m7 0h3m3 0h1m3 0h1m1 0h1m1 0h1M121 48h1m7 0h1m23 0h1m1 0h1M157 50h1m3 0h1m25 0h1M141 52h1m23 0h1M93 54h1m69 0h1m3 0h2M127 56h1m5 0h1m11 0h1m7 0h1m1 0h1M113 58h2m12 0h1m9 0h2m28 0h1M145 60h1M107 64h1m29 0h1m15 0h1M103 66h1M143 68h1m1 0h2m50 0h1M49 72h1m125 0h1M47 74h1m5 0h1m3 0h1m49 0h1m15 0h1M193 76h1M101 78h1m11 0h1m9 0h1M169 80h2m2 0h2M123 82h1m7 0h2m42 0h1m1 0h1M113 84h1m5 0h2m10 0h1m55 0h1m3 0h1M99 86h1m1 0h1m11 0h1m23 0h1m19 0h1m7 0h1m13 0h1M63 88h1m35 0h1m15 0h1m15 0h2M123 90h1m53 0h1M167 92h1m15 0h1M117 94h1m57 0h1m3 0h1M57 96h1m1 0h1m47 0h1m5 0h1m5 0h1m13 0h1m31 0h1m5 0h1M65 98h1m1 0h1m3 0h1m1 0h1m19 0h1m25 0h1M67 100h1M65 102h2m56 0h1M65 104h1M71 106h1m19 0h1M67 108h1m3 0h1m11 0h1m13 0h2m24 0h2m24 0h1M59 110h1m51 0h1M75 112h1m15 0h1m19 0h1m9 0h2M51 114h1m25 0h1m27 0h1m3 0h1m15 0h1M89 116h1m21 0h1M109 118h1m45 0h1M69 122h1m57 0h1M39 124h1m61 0h1M45 126h1m19 0h1M61 128h1M57 130h1m41 0h1M47 132h1M41 134h1m49 0h1m1 0h1m45 0h1M37 136h1m5 0h1m47 0h1m17 0h1M85 138h1m9 0h1m5 0h1M33 140h1m5 0h1m1 0h1m29 0h1m3 0h1m15 0h1m3 0h1m7 0h1m9 0h1M33 142h1M53 144h1m69 0h1M63 146h1m3 0h1M69 148h1M39 150h1m11 0h1m11 0h1M43 152h1m25 0h2M53 154h1"/>
<path id="u20d" d="M161 9h1m5 0h1M153 13h1M147 19h1M175 21h1M179 25h2M135 27h1m17 0h1m15 0h1M175 29h1M127 35h1m57 0h1M185 37h1M121 41h1M121 43h1m7 0h3M143 45h2m2 0h2m14 0h1m3 0h1M155 47h2m4 0h1m3 0h1M129 49h1m19 0h1m11 0h1m1 0h1m7 0h1M167 51h1m3 0h1m13 0h1M91 53h3m17 0h1m21 0h1m13 0h1m3 0h1m9 0h1M91 55h1m49 0h1m25 0h2M167 57h2M111 61h1m7 0h1m13 0h2M141 63h1m5 0h1m1 0h1m7 0h1m1 0h2M105 65h1M49 67h1m81 0h1m13 0h1m1 0h1M57 69h1m87 0h2M137 71h1m57 0h1M123 73h1m3 0h1M127 75h1M47 77h1m11 0h1m51 0h1m9 0h1M113 79h1m5 0h2m8 0h1m45 0h1m17 0h1M59 81h1m61 0h1m1 0h1M63 83h1m35 0h1m19 0h1m3 0h1m53 0h1M109 87h1M115 89h3m3 0h1M99 93h1M113 95h1M51 97h1m49 0h1m5 0h1M55 99h1m27 0h1m15 0h1m19 0h1M67 101h1m43 0h1M71 103h1m13 0h2m46 0h1m1 0h1M91 105h1m43 0h1M91 107h1m5 0h1m7 0h1m3 0h1M55 109h1m11 0h1m11 0h1m45 0h2m24 0h1M77 111h1m33 0h1m1 0h1m9 0h1M51 115h1m11 0h1M125 119h1M43 123h1M31 125h1m7 0h1M85 127h1M81 129h1m7 0h1m13 0h1M33 131h1m75 0h1M39 133h1m7 0h1M37 137h1m3 0h1m13 0h1m31 0h1m3 0h1m3 0h1m15 0h1M27 139h1m13 0h1m39 0h1m3 0h1m21 0h1m7 0h1M39 141h1m67 0h1M113 143h1M29 145h2m24 0h1M57 153h1"/>
<path id="u21a" d="M174 12h2M182 14h1M170 16h1m7 0h1M182 18h1M174 20h1M140 22h1m15 0h1m15 0h1m11 0h1M170 24h1m1 0h1m5 0h1M164 26h1M138 28h1m45 0h1M176 32h1m3 0h1M140 34h2m20 0h1m19 0h1M192 38h1M120 40h1m25 0h1m43 0h1M116 44h1m37 0h1m11 0h1M116 46h1m17 0h1M192 48h1M118 50h1m35 0h1m11 0h1M160 52h1M92 54h1m45 0h1M116 56h1m5 0h1m5 0h1m23 0h1m1 0h1M124 58h2M106 60h1M50 62h1m85 0h1M54 64h1m69 0h1m7 0h1m19 0h1M50 66h1m5 0h1m53 0h1m89 0h2M162 68h1M50 70h1m7 0h1m65 0h1m73 0h1M48 72h1m55 0h1m11 0h1m1 0h1m9 0h1m67 0h1M178 74h1M116 76h1m65 0h1m3 0h1M60 78h1M60 80h1m41 0h2m22 0h1m61 0h1M50 82h1m9 0h2m46 0h1m3 0h1m7 0h1m17 0h1m53 0h1M94 84h1m19 0h1m7 0h2m54 0h1m9 0h2M110 86h2m6 0h2m2 0h1M94 88h2m4 0h2m6 0h1m5 0h1m1 0h1m23 0h1m31 0h2m2 0h1M94 90h1m11 0h1m7 0h1M124 92h1M134 94h1M56 96h1m19 0h1m31 0h1m55 0h1M52 98h1m11 0h1m43 0h1M54 100h1m23 0h1m19 0h1m29 0h1M52 102h2m2 0h1m3 0h1m67 0h2M48 104h3m35 0h1M92 106h1m1 0h1M50 108h1m3 0h1m31 0h1m3 0h2m34 0h1M86 110h1M58 112h1m1 0h1m1 0h1m29 0h1m17 0h1m3 0h1M66 116h1m45 0h1M64 120h1m3 0h1M28 122h1m25 0h2m18 0h1M30 124h1m7 0h1m21 0h1M62 126h1M58 128h1M46 130h1m27 0h1M32 132h1m1 0h2m64 0h1m3 0h1M36 136h1m59 0h1m15 0h1M78 138h2m12 0h1m3 0h1M40 140h1m53 0h1m11 0h1m1 0h1M28 142h1m13 0h1m3 0h2M68 144h1m33 0h1M68 146h1M30 148h1M42 150h1"/>
<path id="u21b" d="M168 13h1m1 0h1M180 19h1m3 0h1M156 21h1m29 0h1M188 25h1M178 27h1M168 29h2m12 0h1m5 0h1M180 31h1m5 0h1M186 33h1M170 35h1m13 0h1m7 0h1M160 37h1M158 39h1m31 0h2M156 41h1m33 0h1M128 43h1m31 0h1m1 0h1m5 0h1M128 47h1m5 0h1m11 0h1M136 49h1m21 0h1m9 0h3M114 51h1m27 0h1m9 0h1m13 0h1m21 0h1M130 53h1m33 0h1M108 59h2m2 0h2M112 61h1m13 0h1m5 0h1M48 63h1m61 0h1m31 0h3M122 65h1m3 0h1m67 0h1M106 67h1m7 0h1M58 69h1m63 0h1m39 0h1m33 0h1M54 71h1m65 0h1m13 0h1M114 73h1M100 75h1m9 0h1m5 0h1m1 0h1m3 0h1m67 0h1M50 77h2m2 0h1m129 0h1m1 0h1M50 79h1m7 0h1m45 0h1m7 0h1m1 0h1m77 0h1m5 0h1M102 81h1m5 0h1m11 0h1m1 0h1m5 0h1m53 0h1m5 0h1M60 83h1m51 0h2m14 0h1m57 0h1M94 85h1m19 0h1m5 0h2m28 0h1M100 87h1m19 0h2m38 0h2M96 89h1m27 0h1m51 0h2M106 91h1m9 0h1m5 0h1m61 0h1M116 93h2m64 0h1M84 95h1M58 97h1m9 0h1m39 0h2m22 0h1M74 99h1m35 0h1m61 0h1M54 101h1m43 0h1M54 103h2m36 0h1m39 0h1m1 0h1M46 105h1m13 0h1M60 107h1m3 0h1m1 0h2M94 109h1m3 0h1m7 0h1m1 0h1M96 111h1m5 0h1m7 0h1m11 0h1m1 0h2M48 113h2m8 0h1m53 0h1m1 0h1M70 115h2m6 0h1M54 117h1M32 121h1m31 0h1m11 0h1m29 0h1M48 123h1m13 0h1M34 125h1M80 127h1M94 129h1M32 131h1M34 133h1m3 0h1M26 135h1m59 0h1m23 0h1M32 137h2m32 0h1m19 0h1m15 0h1m9 0h1M32 139h1m67 0h1m9 0h1M94 141h1m9 0h1M30 143h1m1 0h1m35 0h1M42 145h1m25 0h1M42 147h1m15 0h1m7 0h1M54 149h1M38 151h1m11 0h1M48 153h1M42 155h1"/>
<path id="u21c" d="M175 12h1M145 16h1m35 0h1m1 0h1M181 18h2M173 20h2M175 22h1m3 0h1M169 26h1m5 0h1M151 28h1m29 0h1M137 32h1m33 0h1m1 0h1M137 34h1m3 0h1M143 38h1M163 42h1M171 44h1M135 48h1M129 50h1M145 52h1m13 0h2M119 54h1m13 0h1m13 0h1M125 58h1M113 60h1m5 0h1m3 0h1m25 0h1M103 62h1m7 0h1m21 0h1M111 64h1m37 0h1m45 0h1M105 66h1m1 0h1m7 0h1m9 0h1m19 0h1m53 0h3M49 68h1M105 70h1m15 0h1m71 0h1M59 72h1m35 0h1m11 0h1m13 0h1m71 0h1m1 0h2M97 74h1m1 0h1m17 0h1m71 0h1M55 76h1m5 0h1M105 78h1m21 0h1M103 80h1m9 0h1m7 0h1M49 82h2m10 0h1m45 0h2m64 0h1m11 0h1M97 84h1m23 0h3m9 0h1m51 0h1m3 0h1M109 86h3m7 0h1m47 0h1m19 0h1m1 0h1M95 88h1m5 0h1m19 0h1m13 0h1m3 0h2m24 0h1m5 0h3M125 90h1m57 0h1M101 92h1m29 0h1m3 0h1m29 0h1m7 0h1M101 94h1M117 96h1M47 98h1m15 0h2m36 0h1M69 100h1m5 0h1m97 0h1M51 102h3m21 0h1m51 0h3m3 0h1M49 104h2m6 0h1m3 0h1m11 0h1M49 106h1m13 0h1m45 0h1M65 108h1m25 0h1m13 0h1m45 0h1M79 110h1m43 0h1m1 0h1M89 112h1m5 0h1m27 0h1M57 114h1M55 116h1M53 118h1m65 0h1m1 0h1M31 122h1m5 0h1m17 0h1m59 0h1M33 124h1M85 126h1M91 128h1M31 130h1m71 0h1M31 132h2m2 0h1m67 0h2M77 134h1m3 0h1M23 136h1m3 0h1M27 138h1m51 0h1m11 0h2m12 0h1m5 0h1M59 140h1m17 0h1m21 0h1M47 142h1m23 0h1m13 0h1M33 144h1m5 0h1m1 0h1m3 0h1m9 0h1m3 0h1M45 146h1m5 0h1m3 0h1M37 148h1m13 0h1m3 0h1m1 0h1m3 0h1M49 150h1M53 152h1m3 0h1m3 0h1M55 154h1"/>
<path id="u21d" d="M173 13h1M175 19h1M169 21h1M169 23h1M163 25h1M145 27h1M145 29h1m23 0h1m7 0h1m3 0h2M153 31h1m19 0h1M137 33h1M189 35h1M155 37h1m25 0h1m5 0h1M191 39h1M119 41h1M119 47h1M127 49h1m41 0h2M111 51h1m7 0h1m37 0h1m3 0h1M113 53h1m5 0h1m49 0h1M111 55h1m5 0h1m15 0h1m19 0h1M115 57h1M109 59h1m3 0h1m41 0h1M143 61h1M107 63h1m5 0h1m23 0h1m1 0h1m3 0h2M49 65h1m3 0h1m61 0h1m9 0h2M125 67h1m69 0h1M147 69h1m39 0h1m11 0h1M105 71h1m17 0h1m73 0h1m1 0h1M103 73h1m7 0h1m17 0h1M51 75h1m7 0h1m43 0h1m17 0h2m72 0h1M49 77h3m1 0h2m6 0h1m1 0h1m37 0h1m21 0h1m69 0h1M63 79h1m37 0h1m89 0h2M101 81h2m8 0h1m1 0h1m13 0h2m62 0h1M65 83h1m31 0h1m13 0h3m81 0h1M111 85h1m1 0h2m6 0h1m1 0h1m1 0h1M103 87h1m3 0h1m3 0h1m3 0h1m5 0h1m39 0h1m5 0h1m1 0h1m3 0h1M103 89h1m15 0h1m57 0h1M93 91h1m41 0h1M109 93h1m7 0h1m13 0h1m1 0h1m31 0h1m1 0h1M101 95h1m7 0h1m5 0h1m7 0h1M53 97h1m55 0h1m9 0h1M45 99h1m15 0h1M59 101h1M55 103h1m19 0h1m51 0h1m1 0h1M65 105h1m23 0h1m11 0h1m19 0h1M43 107h1m11 0h1m11 0h1m51 0h1m3 0h1m11 0h1M83 109h1m29 0h1M83 111h1m9 0h1m27 0h2m2 0h1M49 113h1m25 0h1M55 115h1m13 0h3m5 0h2m12 0h1m21 0h1M53 117h2M59 121h1M39 123h1M53 125h1M33 129h1m45 0h1m13 0h2M75 131h1m5 0h1M81 135h1M33 137h1m17 0h1M57 139h1m7 0h1m25 0h1m17 0h2M33 141h1m69 0h2M41 143h1m7 0h1m3 0h1m41 0h1M63 145h1m1 0h1M33 147h1M53 149h2m4 0h1M47 151h1m23 0h1M35 153h1m17 0h1m15 0h1M45 155h1"/>
<path id="u22a" d="M168 14h2M182 16h1M178 18h1M174 22h1m1 0h1m1 0h1m1 0h4M174 24h1m5 0h1M160 26h1m7 0h1m9 0h1m5 0h1M134 30h1m35 0h1m7 0h3M164 32h1m3 0h2M142 34h1M138 36h1M182 42h1M154 46h1M140 48h1m19 0h1M130 52h1m3 0h1m11 0h1m11 0h1m7 0h1M108 58h1m49 0h1M108 60h1m25 0h1M124 62h1m13 0h1m1 0h4M110 64h1M126 66h1m41 0h1M52 68h1m3 0h1M108 70h1m11 0h1M112 72h1m9 0h1m11 0h1m59 0h1m5 0h1M100 74h2m10 0h1m1 0h1m1 0h1m1 0h1m3 0h1M56 76h1m45 0h1m9 0h4m10 0h1m5 0h1M104 78h1m17 0h1m65 0h2M62 80h1m47 0h1m3 0h2m12 0h2m60 0h2M48 82h1m3 0h1m47 0h1m13 0h1m1 0h1m53 0h1M50 84h1m13 0h1m33 0h1m19 0h1M54 86h3m59 0h2m2 0h1m15 0h1m57 0h2M8 88h1m93 0h1m9 0h1m53 0h4m4 0h1M8 90h1m65 0h1m41 0h1m7 0h1m45 0h1M10 92h1m77 0h2m4 0h2m90 0h1M86 94h1M12 96h1m65 0h1m3 0h1m15 0h1M80 98h1m19 0h1m31 0h1m47 0h1M68 100h1M76 102h1m7 0h1m93 0h1M14 104h1m41 0h1m15 0h1m35 0h1m17 0h1M50 106h1m9 0h1m5 0h1m109 0h1M68 108h1m27 0h1m9 0h1m67 0h2M18 112h1m55 0h1m15 0h1m81 0h1M20 114h1m39 0h1m15 0h1m1 0h1m43 0h1M22 116h1m145 0h2M24 118h1m39 0h1m33 0h2m66 0h2M26 120h2m136 0h1M72 124h1m3 0h1M156 126h2M36 128h1M152 130h1M90 132h1m11 0h1m47 0h2M40 134h1m41 0h1m11 0h1m53 0h1M22 136h1m3 0h1m1 0h1m71 0h4m40 0h2M22 138h1m9 0h2m72 0h2M34 140h1m1 0h1m31 0h1m29 0h1m11 0h3m1 0h1m25 0h1M26 142h1m13 0h2m6 0h1m87 0h1M56 144h2m2 0h1m71 0h1M28 146h1m5 0h1m5 0h1m1 0h2m6 0h1m67 0h1m1 0h1m1 0h3m1 0h2M28 148h1m19 0h1m1 0h1m11 0h1m53 0h1M28 150h1m1 0h2m20 0h2m20 0h1m1 0h2m4 0h2m10 0h1m1 0h2m14 0h5M34 152h1m21 0h1m11 0h1m3 0h1m29 0h1M34 154h1m1 0h1m21 0h1m1 0h1m1 0h1m7 0h1M50 158h1"/>
<path id="u22b" d="M152 13h1M170 15h1M182 19h2M170 23h2m6 0h3M172 25h1m3 0h1M150 27h1m23 0h1M164 29h1m5 0h1m5 0h1M136 31h1m29 0h1m9 0h2M164 33h1m23 0h1M138 35h1m49 0h1M188 37h1M178 43h2M168 45h1m19 0h2M142 47h1m17 0h1m31 0h1M132 51h1M132 53h1m1 0h2m2 0h1M118 59h1M142 61h1M112 63h1m19 0h1m1 0h1M100 65h1m3 0h1m19 0h1M52 67h1m71 0h1M52 69h1M104 71h1m9 0h1m7 0h1M98 73h1m17 0h1m5 0h1m65 0h1M52 75h1m141 0h1M112 77h3m9 0h1m7 0h1m65 0h1M48 79h1m79 0h1m61 0h1M48 81h1m13 0h1m37 0h1m9 0h1m1 0h1m1 0h3m75 0h1M64 83h1m1 0h2m30 0h1m93 0h1m3 0h1M96 85h1m1 0h1m17 0h1m5 0h1M72 87h1m23 0h1m13 0h1m25 0h1m25 0h2m4 0h1m3 0h1m15 0h3m1 0h1M8 89h1m109 0h1m59 0h1m1 0h1m9 0h1M10 91h1m63 0h1m17 0h1m1 0h1M76 93h1m9 0h1m23 0h1m21 0h1M98 95h1M12 97h1m69 0h1m11 0h1m85 0h2M12 99h1m57 0h1m31 0h1m77 0h1M44 101h1m11 0h1m1 0h1m15 0h1m29 0h1m23 0h1M126 103h1m51 0h1M108 105h1M44 107h1M50 109h2m12 0h1m1 0h1m107 0h1M52 111h1m119 0h2M20 113h1m55 0h1M104 115h2m18 0h1M22 117h1m41 0h1m47 0h1m7 0h1M164 119h1M26 121h1M28 123h1M72 125h1m85 0h1M44 127h1M30 129h1m27 0h1m95 0h1M36 131h1m9 0h1m105 0h1M84 133h1m5 0h1M28 137h1m1 0h1m29 0h1m15 0h1m23 0h2m4 0h1m37 0h1M24 139h3m1 0h2m4 0h1m13 0h2m18 0h1m37 0h1m33 0h2M68 141h1m39 0h3m3 0h1m21 0h1M28 143h1m7 0h2m2 0h1m1 0h1m7 0h1M50 145h1m11 0h1m1 0h1M44 147h1m23 0h1m47 0h1M30 149h1m19 0h3m5 0h1m9 0h1m21 0h1m1 0h2m22 0h1M48 151h2m10 0h1m7 0h1m19 0h2m10 0h1m5 0h1M34 153h1m19 0h1m15 0h1M54 155h1m7 0h1m1 0h1M40 157h1m1 0h1m7 0h1m1 0h1M44 159h1m1 0h2"/>
<path id="u22c" d="M169 14h1M185 18h1M177 20h1m7 0h1M181 22h3M173 24h2m12 0h1M187 28h1m1 0h1M177 30h4M167 32h3m7 0h1m7 0h1M187 34h1M183 36h1m1 0h1M139 38h1M141 40h1M151 42h1M127 44h1M127 48h1m15 0h1m47 0h1M125 50h1M111 52h1m21 0h2M91 54h1M119 62h1m21 0h3m13 0h1M49 64h1m3 0h1m67 0h1m1 0h1m9 0h1m5 0h1m5 0h1M51 66h1m1 0h1m141 0h1M147 68h1M55 70h1m139 0h1m1 0h1m1 0h1M51 72h1m67 0h1m13 0h2m54 0h1m9 0h2M101 74h1m77 0h1m11 0h1M111 76h5m7 0h1m75 0h1M49 78h1m69 0h1m1 0h2m62 0h1m3 0h1M115 80h1m13 0h1m61 0h1M57 82h1m41 0h2m8 0h1m1 0h1m1 0h2m76 0h1M63 84h2m4 0h1m45 0h1m79 0h1M55 86h2m58 0h3m77 0h1M7 88h2m88 0h1m13 0h2m4 0h1m1 0h1m5 0h1m37 0h1m3 0h3m21 0h1M113 90h1m5 0h1m43 0h1m1 0h1m15 0h1M89 92h1m5 0h1m13 0h1m23 0h1m51 0h2M11 94h1m73 0h2m32 0h1M11 96h2m56 0h1m31 0h1m7 0h1M109 98h1m57 0h1M61 100h1M13 102h1m45 0h1m7 0h1m37 0h1M53 104h1m5 0h1m3 0h1m43 0h2m16 0h2m50 0h1M65 106h2m54 0h1m1 0h1m51 0h2M49 108h1m3 0h1m1 0h1m19 0h1m37 0h1m5 0h1m55 0h1M51 110h1m9 0h1m1 0h1m51 0h1m57 0h1M57 112h1m29 0h1M111 114h1M169 116h1M23 118h2m72 0h3m67 0h1M25 120h3m135 0h2M75 124h2m82 0h1M27 126h1m5 0h1m1 0h1m121 0h1M27 130h1m47 0h1m5 0h1M27 132h1m71 0h1m51 0h1M35 134h1m67 0h1M35 136h1m61 0h1m3 0h3m41 0h1M29 138h1m3 0h1m1 0h1m31 0h1m31 0h1m7 0h1m33 0h1m1 0h1M109 140h4M37 142h1m3 0h1M27 144h1m29 0h1M43 146h1m13 0h1m11 0h1m53 0h2m2 0h1M41 148h1M31 150h1m3 0h1m5 0h1m11 0h1m3 0h1m19 0h1m1 0h1m3 0h1m9 0h2m2 0h1m15 0h4M33 152h2m24 0h1m45 0h1M29 154h1m3 0h2m32 0h1M39 156h1M43 158h1m5 0h2"/>
<path id="u22d" d="M183 19h1m1 0h1M173 21h1m3 0h1M143 23h1m27 0h1m1 0h1m1 0h1m1 0h4M149 25h1m11 0h1m13 0h2M133 29h1m33 0h1m17 0h1m1 0h1M175 31h3M163 33h2m10 0h1m11 0h2M137 35h2M161 37h1M129 39h1m31 0h1M161 41h1M171 43h1m7 0h1M125 45h1m23 0h1m39 0h1M141 47h2M113 49h1m29 0h1M159 51h1M135 53h1m5 0h1M139 55h1M145 57h1M113 61h1m25 0h1M103 63h1m17 0h1m1 0h1m1 0h1m19 0h1M109 65h1m11 0h1m5 0h1m29 0h1m35 0h1m1 0h1M51 69h2m52 0h1m13 0h1m1 0h1m1 0h1m77 0h1M51 71h1m137 0h1m3 0h1M57 73h1m1 0h1m53 0h1m1 0h2m4 0h2m10 0h1m61 0h1M49 75h1m59 0h1m5 0h1m83 0h1M107 77h1m5 0h2m2 0h1m9 0h1m55 0h1M103 79h1m1 0h1M51 81h1m3 0h1m5 0h2m52 0h2m12 0h1m39 0h1m19 0h1m7 0h1M61 83h1m5 0h1m47 0h1m1 0h1m67 0h1m1 0h1M115 85h2m2 0h1m75 0h1M113 87h1m3 0h1m1 0h1m15 0h2m20 0h1m1 0h1m3 0h1m7 0h2m16 0h2M93 89h1m19 0h1m9 0h1m41 0h1M9 91h2m78 0h1m21 0h1m11 0h1m45 0h1m13 0h1m3 0h1M75 93h2M11 95h1m85 0h2m20 0h1m45 0h1m13 0h1m3 0h1M99 97h1m81 0h1M47 99h1m9 0h1m15 0h1m1 0h1m25 0h2m26 0h1M13 101h1m55 0h1M63 103h1m1 0h1M15 105h1m45 0h1m9 0h1m23 0h1m81 0h1M15 107h1m33 0h1m21 0h1m103 0h1M17 109h1m33 0h1m11 0h2m32 0h1m17 0h1m57 0h2M61 111h1m111 0h1M19 113h2m30 0h1m5 0h1m3 0h1m49 0h1m1 0h1M105 115h1m63 0h1M167 117h1M73 119h1M107 121h1m53 0h1M27 123h2m86 0h1M27 125h1M155 127h1M27 129h1m7 0h1m117 0h2M35 131h2m26 0h1m87 0h2M101 133h1m1 0h1m45 0h1M29 135h1m5 0h1m31 0h1m23 0h1m11 0h1m7 0h1m33 0h1M35 137h1m49 0h1m13 0h3m13 0h1M25 139h2m2 0h1m7 0h1m11 0h1m17 0h2m72 0h1M25 141h1m83 0h2m2 0h2m2 0h1M37 143h1m9 0h1m57 0h1m27 0h1M39 145h1m17 0h1m9 0h1m1 0h1m31 0h1M41 147h1m25 0h2m56 0h1M35 149h1m9 0h1m1 0h1m3 0h2m4 0h2m8 0h2m20 0h2m2 0h1m13 0h1m1 0h1m1 0h1M35 151h1m5 0h1m1 0h1m5 0h1m7 0h1m29 0h3m9 0h2M49 153h1M39 157h2M47 159h1"/>
<path id="u23a" d="M156 8h4m2 0h2m2 0h1m1 0h1M154 10h2m16 0h2M148 12h4m32 0h1M146 14h1M144 16h1M142 18h1M140 20h1m41 0h3M136 22h4M132 24h3M176 26h1M186 28h1m1 0h1M130 30h2m42 0h1M172 32h1m1 0h2M162 36h1M186 44h1M190 46h2M188 50h1M130 64h1m15 0h1m49 0h4m2 0h1M202 66h1M200 70h1M124 72h1M52 74h1M54 76h1m7 0h1m45 0h3M10 78h4m34 0h1m57 0h1m91 0h1M10 80h1m3 0h3m35 0h1m139 0h2m4 0h1M10 82h1m5 0h1m51 0h1m121 0h1M6 84h1m9 0h1m25 0h3m7 0h1m63 0h2m66 0h1m11 0h1M6 86h1m11 0h3m19 0h2m16 0h4m8 0h2M24 88h13m35 0h1m45 0h1m71 0h1m1 0h1M92 90h2m86 0h1m7 0h1M110 92h1M10 94h1m65 0h2m18 0h2M84 96h1m97 0h1M12 98h1m55 0h2m60 0h1M62 100h1m39 0h2m76 0h1M14 102h1m91 0h1M52 104h1m1 0h1m69 0h1M52 106h1m69 0h1M16 108h2m30 0h1m69 0h1M18 110h1m31 0h1m9 0h1m55 0h1M80 112h1M170 114h2M22 118h1m97 0h1M32 124h1m125 0h1M34 126h1M154 128h2M30 130h1m1 0h2M36 132h1M22 134h3m1 0h2m78 0h1m39 0h1M30 136h1M28 138h1m5 0h1m1 0h1m105 0h1M24 140h2m112 0h2M36 142h1m31 0h1M28 144h1m9 0h1M66 146h1m49 0h1m11 0h1M38 148h1m7 0h1m21 0h1M48 150h1m5 0h1m13 0h1m9 0h1m1 0h2m2 0h1m1 0h1m11 0h2m6 0h1M28 152h2m6 0h1m67 0h1m1 0h1M66 154h1m1 0h2M52 156h1M42 158h1"/>
<path id="u23b" d="M162 7h4M156 9h1m11 0h4m2 0h9M152 11h3M146 13h2M144 15h2M140 19h3M134 23h2m38 0h1m1 0h1m9 0h1M132 25h1m41 0h1M180 29h1M174 31h1M162 35h1m23 0h2m2 0h1M160 39h1M160 41h1M134 43h1M120 59h1M136 63h1M202 65h1M126 67h1m75 0h1M200 69h1M50 71h1m143 0h1m5 0h1M128 73h1M48 75h1m63 0h1M106 77h1M10 79h1M10 81h1m5 0h1m43 0h1m125 0h1m7 0h1M6 83h4m6 0h1m27 0h6m18 0h1m45 0h1m1 0h1M6 85h1m9 0h2m24 0h1m9 0h3m7 0h1m7 0h1m47 0h1m77 0h1M6 87h2m12 0h5m31 0h2m58 0h1M36 89h4m32 0h2m20 0h1m93 0h2M90 91h2m94 0h1M10 93h1m173 0h2M78 95h1m103 0h1M80 97h2m18 0h1m81 0h1M68 99h2M180 101h1M14 103h1m41 0h1m7 0h1M124 105h1m51 0h1M50 107h2m58 0h2M60 109h1m53 0h1m1 0h2M18 111h1M62 115h1m107 0h1M168 117h1M24 119h2m140 0h1M28 121h2m132 0h2M30 123h2m128 0h1M32 125h1M34 127h2m120 0h1M148 133h1M22 135h1m1 0h2m120 0h1M22 137h1m11 0h1m79 0h1M36 139h1m61 0h2M34 141h3m3 0h1m97 0h1M132 143h1m1 0h1M28 145h1m9 0h1m1 0h1m15 0h1m1 0h2m6 0h1m61 0h2M28 147h1m11 0h1m5 0h2m76 0h1m1 0h1M28 149h1m17 0h1m61 0h1m1 0h1m1 0h1M28 151h3m23 0h2m30 0h1m15 0h1M28 153h2m26 0h1M38 155h2m12 0h2m2 0h1m1 0h1M48 159h1"/>
<path id="u23c" d="M157 8h3m1 0h3m1 0h2M155 10h1m15 0h3m9 0h1M147 12h5m31 0h2M145 14h2M143 16h2M139 20h2m42 0h2M135 22h5m45 0h1M133 24h2m36 0h1m3 0h1M131 26h1M131 28h1m45 0h1M131 30h1m41 0h2m6 0h1M165 32h1m9 0h1M163 34h1M161 36h2m24 0h1m1 0h1M161 40h1m27 0h1M175 44h1M189 46h3M191 50h1M135 52h1M125 62h1m11 0h1m1 0h1M129 64h2m66 0h3m1 0h2M51 68h1m71 0h1m77 0h1M129 72h1M59 74h1m51 0h1m1 0h1m85 0h1M109 76h2m70 0h1M11 78h3M13 80h4m30 0h1m145 0h1m3 0h2M9 82h2m36 0h1m3 0h1m63 0h1m71 0h1m9 0h1M5 84h2m36 0h2m4 0h1m1 0h2m64 0h1M17 86h4m18 0h3m15 0h5m9 0h1m121 0h1M25 88h12m2 0h1m73 0h1M9 90h1m63 0h1m19 0h1m93 0h2M75 92h1M77 94h1m19 0h1m85 0h1M83 96h2m14 0h1M53 98h1m15 0h1M13 100h1m31 0h1m57 0h1m25 0h1M179 102h1M15 104h1M15 106h1M17 108h1M17 110h2M19 112h1m151 0h1M21 114h1m39 0h1m109 0h1M21 116h1M63 118h1M27 122h1m1 0h1m131 0h1M27 124h1m3 0h2M27 128h1m7 0h1m119 0h1M33 130h1m1 0h1m11 0h1m105 0h1M33 132h1M23 134h2m2 0h1M29 136h2m80 0h1M25 140h1m9 0h1m103 0h1M25 142h1m109 0h1M61 144h1m69 0h1M41 146h1m17 0h1m59 0h1m1 0h1M45 148h2m2 0h1M27 150h1m5 0h1m39 0h1m1 0h1m5 0h1m7 0h1m5 0h1m3 0h1M29 152h1m5 0h2m12 0h1m5 0h1m15 0h1m31 0h2M35 154h1m1 0h1m23 0h1m3 0h2m2 0h1"/>
<path id="u23d" d="M163 7h3M155 9h2m12 0h3m1 0h10M151 11h4m28 0h1M147 13h1M145 15h1M143 17h1M141 19h2m38 0h1M139 21h1M135 23h1M131 25h2M131 27h1M131 29h1M187 35h1M157 39h1M177 43h1m5 0h1M133 51h1M119 59h2M141 61h1M133 63h1m1 0h2M201 67h2M197 69h1M113 71h1m5 0h1M117 73h1M47 75h2m62 0h2M199 77h1M13 79h1m45 0h1m61 0h1M47 81h1M7 83h3m35 0h5m147 0h1M5 85h2m10 0h1m23 0h2m10 0h2m6 0h2m6 0h2m26 0h1m19 0h2m70 0h1M7 87h1m13 0h4m14 0h1m17 0h1m13 0h1m121 0h1M37 89h3m33 0h1m51 0h1m53 0h1m9 0h1M75 91h1m15 0h1M87 93h1m7 0h1m89 0h1M77 95h2m6 0h1M79 97h3M13 99h1m55 0h1M43 101h1m31 0h1m29 0h1m21 0h1m51 0h2M107 103h1m69 0h1M63 105h1m45 0h1m13 0h2M51 107h1m1 0h1m7 0h1m3 0h1m45 0h1m9 0h1M49 109h1m67 0h1M171 113h1M21 115h1M25 119h1m139 0h2M27 121h3m133 0h1M31 123h1M157 125h1M27 127h1m7 0h1m9 0h1M27 131h1m3 0h1M27 133h1m7 0h1M25 135h1m13 0h1M29 137h1m1 0h1m111 0h1M23 139h1m11 0h2m62 0h1m11 0h1M35 141h2m100 0h2M27 143h1m29 0h1M45 145h1m13 0h1m1 0h1m67 0h1M43 147h1m3 0h1m11 0h1m63 0h2M49 149h1m41 0h1M27 151h4m2 0h1m5 0h1m15 0h1m17 0h1m9 0h1m17 0h2M29 153h1m3 0h1m21 0h2m14 0h1M37 155h3m13 0h1m1 0h2m6 0h1M41 157h1m9 0h1M43 159h1m1 0h1"/>
<linearGradient id="vg" x1="0" y1="0" x2="0" y2="1"><stop offset="0" stop-color="#fde725"/><stop offset="0.05" stop-color="#dfe318"/><stop offset="0.1" stop-color="#bddf26"/><stop offset="0.15" stop-color="#9bd93c"/><stop offset="0.2" stop-color="#7ad151"/><stop offset="0.25" stop-color="#5ec962"/><stop offset="0.3" stop-color="#44bf70"/><stop offset="0.35" stop-color="#2fb47c"/><stop offset="0.4" stop-color="#22a884"/><stop offset="0.45" stop-color="#1e9c89"/><stop offset="0.5" stop-color="#21918c"/><stop offset="0.55" stop-color="#25848e"/><stop offset="0.6" stop-color="#2a788e"/><stop offset="0.65" stop-color="#2f6c8e"/><stop offset="0.7" stop-color="#355f8d"/><stop offset="0.75" stop-color="#3b528b"/><stop offset="0.8" stop-color="#414487"/><stop offset="0.85" stop-color="#463480"/><stop offset="0.9" stop-color="#482475"/><stop offset="0.95" stop-color="#471365"/><stop offset="1" stop-color="#440154"/></linearGradient>
</defs>
<rect width="2100" height="2100" fill="#fff"/>
<text x="131.3" y="216.9" font-size="55" fill="#000">Common Sandpiper 2008</text>
<g>
<rect x="131" y="252" width="827.8" height="69" fill="#d9d9d9"/>
<text x="544.9" y="299" font-size="36.1" fill="#1a1a1a" text-anchor="middle">est</text>
<rect x="131" y="321" width="827.8" height="727.7" fill="#ebebeb"/>
<path d="M131 349.9h827.8M131 453.64h827.8M131 557.38h827.8M131 661.12h827.8M131 764.86h827.8M131 868.6h827.8M131 972.34h827.8M332.2 321v727.7M560.2 321v727.7M788.2 321v727.7" stroke="#fff" stroke-width="4.45" fill="none"/>
<g transform="translate(149.8,326.13) scale(3.8,4.3225)" fill="none" stroke-width="1" stroke-dasharray="1 1">
<use href="#l0a" stroke="#440154"/>
<use href="#l0b" stroke="#440154"/>
<use href="#l0c" stroke="#440154"/>
<use href="#l0d" stroke="#440154"/>
<use href="#l1a" stroke="#471164"/>
<use href="#l1b" stroke="#471164"/>
<use href="#l1c" stroke="#471164"/>
<use href="#l1d" stroke="#471164"/>
<use href="#l2a" stroke="#482071"/>
<use href="#l2b" stroke="#482071"/>
<use href="#l2c" stroke="#482071"/>
<use href="#l2d" stroke="#482071"/>
<use href="#l3a" stroke="#472e7c"/>
<use href="#l3b" stroke="#472e7c"/>
<use href="#l3c" stroke="#472e7c"/>
<use href="#l3d" stroke="#472e7c"/>
<use href="#l4a" stroke="#443b84"/>
<use href="#l4b" stroke="#443b84"/>
<use href="#l4c" stroke="#443b84"/>
<use href="#l4d" stroke="#443b84"/>
<use href="#l5a" stroke="#3f4889"/>
<use href="#l5b" stroke="#3f4889"/>
<use href="#l5c" stroke="#3f4889"/>
<use href="#l5d" stroke="#3f4889"/>
<use href="#l6a" stroke="#3a548c"/>
<use href="#l6b" stroke="#3a548c"/>
<use href="#l6c" stroke="#3a548c"/>
<use href="#l6d" stroke="#3a548c"/>
<use href="#l7a" stroke="#34608d"/>
<use href="#l7b" stroke="#34608d"/>
<use href="#l7c" stroke="#34608d"/>
<use href="#l7d" stroke="#34608d"/>
<use href="#l8a" stroke="#2f6c8e"/>
<use href="#l8b" stroke="#2f6c8e"/>
<use href="#l8c" stroke="#2f6c8e"/>
<use href="#l8d" stroke="#2f6c8e"/>
<use href="#l9a" stroke="#2a768e"/>
<use href="#l9b" stroke="#2a768e"/>
<use href="#l9c" stroke="#2a768e"/>
<use href="#l9d" stroke="#2a768e"/>
<use href="#l10a" stroke="#26818e"/>
<use href="#l10b" stroke="#26818e"/>
<use href="#l10c" stroke="#26818e"/>
<use href="#l10d" stroke="#26818e"/>
<use href="#l11a" stroke="#228b8d"/>
<use href="#l11b" stroke="#228b8d"/>
<use href="#l11c" stroke="#228b8d"/>
<use href="#l11d" stroke="#228b8d"/>
<use href="#l12a" stroke="#1f958b"/>
<use href="#l12b" stroke="#1f958b"/>
<use href="#l12c" stroke="#1f958b"/>
<use href="#l12d" stroke="#1f958b"/>
<use href="#l13a" stroke="#1fa088"/>
<use href="#l13b" stroke="#1fa088"/>
<use href="#l13c" stroke="#1fa088"/>
<use href="#l13d" stroke="#1fa088"/>
<use href="#l14a" stroke="#24aa83"/>
<use href="#l14b" stroke="#24aa83"/>
<use href="#l14c" stroke="#24aa83"/>
<use href="#l14d" stroke="#24aa83"/>
<use href="#l15a" stroke="#2fb47c"/>
<use href="#l15b" stroke="#2fb47c"/>
<use href="#l15c" stroke="#2fb47c"/>
<use href="#l15d" stroke="#2fb47c"/>
<use href="#l16a" stroke="#42be71"/>
<use href="#l16b" stroke="#42be71"/>
<use href="#l16c" stroke="#42be71"/>
<use href="#l16d" stroke="#42be71"/>
<use href="#l17a" stroke="#58c765"/>
<use href="#l17b" stroke="#58c765"/>
<use href="#l17c" stroke="#58c765"/>
<use href="#l17d" stroke="#58c765"/>
<use href="#l18a" stroke="#70cf57"/>
<use href="#l18b" stroke="#70cf57"/>
<use href="#l18c" stroke="#70cf57"/>
<use href="#l18d" stroke="#70cf57"/>
<use href="#l19a" stroke="#8bd646"/>
<use href="#l19b" stroke="#8bd646"/>
<use href="#l19c" stroke="#8bd646"/>
<use href="#l19d" stroke="#8bd646"/>
<use href="#l20a" stroke="#a8db34"/>
<use href="#l20b" stroke="#a8db34"/>
<use href="#l20c" stroke="#a8db34"/>
<use href="#l20d" stroke="#a8db34"/>
<use href="#l21a" stroke="#c5e021"/>
<use href="#l21b" stroke="#c5e021"/>
<use href="#l21c" stroke="#c5e021"/>
<use href="#l21d" stroke="#c5e021"/>
<use href="#l22a" stroke="#e2e418"/>
<use href="#l22b" stroke="#e2e418"/>
<use href="#l22c" stroke="#e2e418"/>
<use href="#l22d" stroke="#e2e418"/>
<use href="#l23a" stroke="#fde725"/>
<use href="#l23b" stroke="#fde725"/>
<use href="#l23c" stroke="#fde725"/>
<use href="#l23d" stroke="#fde725"/>
</g>
<path d="M119.54 349.9h11.46M119.54 453.64h11.46M119.54 557.38h11.46M119.54 661.12h11.46M119.54 764.86h11.46M119.54 868.6h11.46M119.54 972.34h11.46" stroke="#333" stroke-width="4.45" fill="none"/>
<text x="110.1" y="363" font-size="36.1" fill="#4d4d4d" text-anchor="end">22°S</text>
<text x="110.1" y="466.74" font-size="36.1" fill="#4d4d4d" text-anchor="end">24°S</text>
<text x="110.1" y="570.48" font-size="36.1" fill="#4d4d4d" text-anchor="end">26°S</text>
<text x="110.1" y="674.22" font-size="36.1" fill="#4d4d4d" text-anchor="end">28°S</text>
<text x="110.1" y="777.96" font-size="36.1" fill="#4d4d4d" text-anchor="end">30°S</text>
<text x="110.1" y="881.7" font-size="36.1" fill="#4d4d4d" text-anchor="end">32°S</text>
<text x="110.1" y="985.44" font-size="36.1" fill="#4d4d4d" text-anchor="end">34°S</text>
</g>
<g>
<rect x="981.6" y="252" width="827.8" height="69" fill="#d9d9d9"/>
<text x="1395.5" y="299" font-size="36.1" fill="#1a1a1a" text-anchor="middle">lb</text>
<rect x="981.6" y="321" width="827.8" height="727.7" fill="#ebebeb"/>
<path d="M981.6 349.9h827.8M981.6 453.64h827.8M981.6 557.38h827.8M981.6 661.12h827.8M981.6 764.86h827.8M981.6 868.6h827.8M981.6 972.34h827.8M1182.8 321v727.7M1410.8 321v727.7M1638.8 321v727.7" stroke="#fff" stroke-width="4.45" fill="none"/>
<g transform="translate(1000.4,326.13) scale(3.8,4.3225)" fill="none" stroke-width="1" stroke-dasharray="1 1">
<use href="#l0a" stroke="#440154"/>
<use href="#l0b" stroke="#440154"/>
<use href="#l0c" stroke="#440154"/>
<use href="#l0d" stroke="#440154"/>
<use href="#l1a" stroke="#46075a"/>
<use href="#l1b" stroke="#46075a"/>
<use href="#l1c" stroke="#46075a"/>
<use href="#l1d" stroke="#46075a"/>
<use href="#l2a" stroke="#470d60"/>
<use href="#l2b" stroke="#470d60"/>
<use href="#l2c" stroke="#470d60"/>
<use href="#l2d" stroke="#470d60"/>
<use href="#l3a" stroke="#471365"/>
<use href="#l3b" stroke="#471365"/>
<use href="#l3c" stroke="#471365"/>
<use href="#l3d" stroke="#471365"/>
<use href="#l4a" stroke="#48186a"/>
<use href="#l4b" stroke="#48186a"/>
<use href="#l4c" stroke="#48186a"/>
<use href="#l4d" stroke="#48186a"/>
<use href="#l5a" stroke="#481f70"/>
<use href="#l5b" stroke="#481f70"/>
<use href="#l5c" stroke="#481f70"/>
<use href="#l5d" stroke="#481f70"/>
<use href="#l6a" stroke="#482475"/>
<use href="#l6b" stroke="#482475"/>
<use href="#l6c" stroke="#482475"/>
<use href="#l6d" stroke="#482475"/>
<use href="#l7a" stroke="#472a7a"/>
<use href="#l7b" stroke="#472a7a"/>
<use href="#l7c" stroke="#472a7a"/>
<use href="#l7d" stroke="#472a7a"/>
<use href="#l8a" stroke="#46307e"/>
<use href="#l8b" stroke="#46307e"/>
<use href="#l8c" stroke="#46307e"/>
<use href="#l8d" stroke="#46307e"/>
<use href="#l9a" stroke="#453781"/>
<use href="#l9b" stroke="#453781"/>
<use href="#l9c" stroke="#453781"/>
<use href="#l9d" stroke="#453781"/>
<use href="#l10a" stroke="#433d84"/>
<use href="#l10b" stroke="#433d84"/>
<use href="#l10c" stroke="#433d84"/>
<use href="#l10d" stroke="#433d84"/>
<use href="#l11a" stroke="#414487"/>
<use href="#l11b" stroke="#414487"/>
<use href="#l11c" stroke="#414487"/>
<use href="#l11d" stroke="#414487"/>
<use href="#l12a" stroke="#3e4c8a"/>
<use href="#l12b" stroke="#3e4c8a"/>
<use href="#l12c" stroke="#3e4c8a"/>
<use href="#l12d" stroke="#3e4c8a"/>
<use href="#l13a" stroke="#3a538b"/>
<use href="#l13b" stroke="#3a538b"/>
<use href="#l13c" stroke="#3a538b"/>
<use href="#l13d" stroke="#3a538b"/>
<use href="#l14a" stroke="#375b8d"/>
<use href="#l14b" stroke="#375b8d"/>
<use href="#l14c" stroke="#375b8d"/>
<use href="#l14d" stroke="#375b8d"/>
<use href="#l15a" stroke="#32648e"/>
<use href="#l15b" stroke="#32648e"/>
<use href="#l15c" stroke="#32648e"/>
<use href="#l15d" stroke="#32648e"/>
<use href="#l16a" stroke="#2e6e8e"/>
<use href="#l16b" stroke="#2e6e8e"/>
<use href="#l16c" stroke="#2e6e8e"/>
<use href="#l16d" stroke="#2e6e8e"/>
<use href="#l17a" stroke="#2a788e"/>
<use href="#l17b" stroke="#2a788e"/>
<use href="#l17c" stroke="#2a788e"/>
<use href="#l17d" stroke="#2a788e"/>
<use href="#l18a" stroke="#25848e"/>
<use href="#l18b" stroke="#25848e"/>
<use href="#l18c" stroke="#25848e"/>
<use href="#l18d" stroke="#25848e"/>
<use href="#l19a" stroke="#20938c"/>
<use href="#l19b" stroke="#20938c"/>
<use href="#l19c" stroke="#20938c"/>
<use href="#l19d" stroke="#20938c"/>
<use href="#l20a" stroke="#21a685"/>
<use href="#l20b" stroke="#21a685"/>
<use href="#l20c" stroke="#21a685"/>
<use href="#l20d" stroke="#21a685"/>
<use href="#l21a" stroke="#3fbc73"/>
<use href="#l21b" stroke="#3fbc73"/>
<use href="#l21c" stroke="#3fbc73"/>
<use href="#l21d" stroke="#3fbc73"/>
<use href="#l22a" stroke="#86d549"/>
<use href="#l22b" stroke="#86d549"/>
<use href="#l22c" stroke="#86d549"/>
<use href="#l22d" stroke="#86d549"/>
<use href="#l23a" stroke="#9bd93c"/>
<use href="#l23b" stroke="#9bd93c"/>
<use href="#l23c" stroke="#9bd93c"/>
<use href="#l23d" stroke="#9bd93c"/>
</g>
</g>
<g>
<rect x="131" y="1071.9" width="827.8" height="69" fill="#d9d9d9"/>
<text x="544.9" y="1118.9" font-size="36.1" fill="#1a1a1a" text-anchor="middle">med</text>
<rect x="131" y="1140.9" width="827.8" height="727.7" fill="#ebebeb"/>
<path d="M131 1169.8h827.8M131 1273.54h827.8M131 1377.28h827.8M131 1481.02h827.8M131 1584.76h827.8M131 1688.5h827.8M131 1792.24h827.8M332.2 1140.9v727.7M560.2 1140.9v727.7M788.2 1140.9v727.7" stroke="#fff" stroke-width="4.45" fill="none"/>
<g transform="translate(149.8,1146.03) scale(3.8,4.3225)" fill="none" stroke-width="1" stroke-dasharray="1 1">
<use href="#l0a" stroke="#440154"/>
<use href="#l0b" stroke="#440154"/>
<use href="#l0c" stroke="#440154"/>
<use href="#l0d" stroke="#440154"/>
<use href="#l1a" stroke="#471063"/>
<use href="#l1b" stroke="#471063"/>
<use href="#l1c" stroke="#471063"/>
<use href="#l1d" stroke="#471063"/>
<use href="#l2a" stroke="#481d6f"/>
<use href="#l2b" stroke="#481d6f"/>
<use href="#l2c" stroke="#481d6f"/>
<use href="#l2d" stroke="#481d6f"/>
<use href="#l3a" stroke="#472a7a"/>
<use href="#l3b" stroke="#472a7a"/>
<use href="#l3c" stroke="#472a7a"/>
<use href="#l3d" stroke="#472a7a"/>
<use href="#l4a" stroke="#453781"/>
<use href="#l4b" stroke="#453781"/>
<use href="#l4c" stroke="#453781"/>
<use href="#l4d" stroke="#453781"/>
<use href="#l5a" stroke="#414487"/>
<use href="#l5b" stroke="#414487"/>
<use href="#l5c" stroke="#414487"/>
<use href="#l5d" stroke="#414487"/>
<use href="#l6a" stroke="#3c4f8a"/>
<use href="#l6b" stroke="#3c4f8a"/>
<use href="#l6c" stroke="#3c4f8a"/>
<use href="#l6d" stroke="#3c4f8a"/>
<use href="#l7a" stroke="#375b8d"/>
<use href="#l7b" stroke="#375b8d"/>
<use href="#l7c" stroke="#375b8d"/>
<use href="#l7d" stroke="#375b8d"/>
<use href="#l8a" stroke="#31668e"/>
<use href="#l8b" stroke="#31668e"/>
<use href="#l8c" stroke="#31668e"/>
<use href="#l8d" stroke="#31668e"/>
<use href="#l9a" stroke="#2d718e"/>
<use href="#l9b" stroke="#2d718e"/>
<use href="#l9c" stroke="#2d718e"/>
<use href="#l9d" stroke="#2d718e"/>
<use href="#l10a" stroke="#297b8e"/>
<use href="#l10b" stroke="#297b8e"/>
<use href="#l10c" stroke="#297b8e"/>
<use href="#l10d" stroke="#297b8e"/>
<use href="#l11a" stroke="#25858e"/>
<use href="#l11b" stroke="#25858e"/>
<use href="#l11c" stroke="#25858e"/>
<use href="#l11d" stroke="#25858e"/>
<use href="#l12a" stroke="#21908d"/>
<use href="#l12b" stroke="#21908d"/>
<use href="#l12c" stroke="#21908d"/>
<use href="#l12d" stroke="#21908d"/>
<use href="#l13a" stroke="#1f9a8a"/>
<use href="#l13b" stroke="#1f9a8a"/>
<use href="#l13c" stroke="#1f9a8a"/>
<use href="#l13d" stroke="#1f9a8a"/>
<use href="#l14a" stroke="#20a486"/>
<use href="#l14b" stroke="#20a486"/>
<use href="#l14c" stroke="#20a486"/>
<use href="#l14d" stroke="#20a486"/>
<use href="#l15a" stroke="#29af7f"/>
<use href="#l15b" stroke="#29af7f"/>
<use href="#l15c" stroke="#29af7f"/>
<use href="#l15d" stroke="#29af7f"/>
<use href="#l16a" stroke="#38b977"/>
<use href="#l16b" stroke="#38b977"/>
<use href="#l16c" stroke="#38b977"/>
<use href="#l16d" stroke="#38b977"/>
<use href="#l17a" stroke="#4ec36b"/>
<use href="#l17b" stroke="#4ec36b"/>
<use href="#l17c" stroke="#4ec36b"/>
<use href="#l17d" stroke="#4ec36b"/>
<use href="#l18a" stroke="#65cb5e"/>
<use href="#l18b" stroke="#65cb5e"/>
<use href="#l18c" stroke="#65cb5e"/>
<use href="#l18d" stroke="#65cb5e"/>
<use href="#l19a" stroke="#81d34d"/>
<use href="#l19b" stroke="#81d34d"/>
<use href="#l19c" stroke="#81d34d"/>
<use href="#l19d" stroke="#81d34d"/>
<use href="#l20a" stroke="#a0da39"/>
<use href="#l20b" stroke="#a0da39"/>
<use href="#l20c" stroke="#a0da39"/>
<use href="#l20d" stroke="#a0da39"/>
<use href="#l21a" stroke="#c0df25"/>
<use href="#l21b" stroke="#c0df25"/>
<use href="#l21c" stroke="#c0df25"/>
<use href="#l21d" stroke="#c0df25"/>
<use href="#l22a" stroke="#dfe318"/>
<use href="#l22b" stroke="#dfe318"/>
<use href="#l22c" stroke="#dfe318"/>
<use href="#l22d" stroke="#dfe318"/>
<use href="#l23a" stroke="#fde725"/>
<use href="#l23b" stroke="#fde725"/>
<use href="#l23c" stroke="#fde725"/>
<use href="#l23d" stroke="#fde725"/>
</g>
<path d="M119.54 1169.8h11.46M119.54 1273.54h11.46M119.54 1377.28h11.46M119.54 1481.02h11.46M119.54 1584.76h11.46M119.54 1688.5h11.46M119.54 1792.24h11.46" stroke="#333" stroke-width="4.45" fill="none"/>
<text x="110.1" y="1182.9" font-size="36.1" fill="#4d4d4d" text-anchor="end">22°S</text>
<text x="110.1" y="1286.64" font-size="36.1" fill="#4d4d4d" text-anchor="end">24°S</text>
<text x="110.1" y="1390.38" font-size="36.1" fill="#4d4d4d" text-anchor="end">26°S</text>
<text x="110.1" y="1494.12" font-size="36.1" fill="#4d4d4d" text-anchor="end">28°S</text>
<text x="110.1" y="1597.86" font-size="36.1" fill="#4d4d4d" text-anchor="end">30°S</text>
<text x="110.1" y="1701.6" font-size="36.1" fill="#4d4d4d" text-anchor="end">32°S</text>
<text x="110.1" y="1805.34" font-size="36.1" fill="#4d4d4d" text-anchor="end">34°S</text>
<path d="M332.2 1868.6v11.46M560.2 1868.6v11.46M788.2 1868.6v11.46" stroke="#333" stroke-width="4.45" fill="none"/>
<text x="332.2" y="1915" font-size="36.1" fill="#4d4d4d" text-anchor="middle">20°E</text>
<text x="560.2" y="1915" font-size="36.1" fill="#4d4d4d" text-anchor="middle">25°E</text>
<text x="788.2" y="1915" font-size="36.1" fill="#4d4d4d" text-anchor="middle">30°E</text>
</g>
<g>
<rect x="981.6" y="1071.9" width="827.8" height="69" fill="#d9d9d9"/>
<text x="1395.5" y="1118.9" font-size="36.1" fill="#1a1a1a" text-anchor="middle">ub</text>
<rect x="981.6" y="1140.9" width="827.8" height="727.7" fill="#ebebeb"/>
<path d="M981.6 1169.8h827.8M981.6 1273.54h827.8M981.6 1377.28h827.8M981.6 1481.02h827.8M981.6 1584.76h827.8M981.6 1688.5h827.8M981.6 1792.24h827.8M1182.8 1140.9v727.7M1410.8 1140.9v727.7M1638.8 1140.9v727.7" stroke="#fff" stroke-width="4.45" fill="none"/>
<g transform="translate(1000.4,1146.03) scale(3.8,4.3225)" fill="none" stroke-width="1" stroke-dasharray="1 1">
<use href="#u0a" stroke="#440154"/>
<use href="#u0b" stroke="#440154"/>
<use href="#u0c" stroke="#440154"/>
<use href="#u0d" stroke="#440154"/>
<use href="#u1a" stroke="#471164"/>
<use href="#u1b" stroke="#471164"/>
<use href="#u1c" stroke="#471164"/>
<use href="#u1d" stroke="#471164"/>
<use href="#u2a" stroke="#482071"/>
<use href="#u2b" stroke="#482071"/>
<use href="#u2c" stroke="#482071"/>
<use href="#u2d" stroke="#482071"/>
<use href="#u3a" stroke="#472e7c"/>
<use href="#u3b" stroke="#472e7c"/>
<use href="#u3c" stroke="#472e7c"/>
<use href="#u3d" stroke="#472e7c"/>
<use href="#u4a" stroke="#443b84"/>
<use href="#u4b" stroke="#443b84"/>
<use href="#u4c" stroke="#443b84"/>
<use href="#u4d" stroke="#443b84"/>
<use href="#u5a" stroke="#3f4889"/>
<use href="#u5b" stroke="#3f4889"/>
<use href="#u5c" stroke="#3f4889"/>
<use href="#u5d" stroke="#3f4889"/>
<use href="#u6a" stroke="#3a548c"/>
<use href="#u6b" stroke="#3a548c"/>
<use href="#u6c" stroke="#3a548c"/>
<use href="#u6d" stroke="#3a548c"/>
<use href="#u7a" stroke="#34608d"/>
<use href="#u7b" stroke="#34608d"/>
<use href="#u7c" stroke="#34608d"/>
<use href="#u7d" stroke="#34608d"/>
<use href="#u8a" stroke="#2f6c8e"/>
<use href="#u8b" stroke="#2f6c8e"/>
<use href="#u8c" stroke="#2f6c8e"/>
<use href="#u8d" stroke="#2f6c8e"/>
<use href="#u9a" stroke="#2a768e"/>
<use href="#u9b" stroke="#2a768e"/>
<use href="#u9c" stroke="#2a768e"/>
<use href="#u9d" stroke="#2a768e"/>
<use href="#u10a" stroke="#26818e"/>
<use href="#u10b" stroke="#26818e"/>
<use href="#u10c" stroke="#26818e"/>
<use href="#u10d" stroke="#26818e"/>
<use href="#u11a" stroke="#228b8d"/>
<use href="#u11b" stroke="#228b8d"/>
<use href="#u11c" stroke="#228b8d"/>
<use href="#u11d" stroke="#228b8d"/>
<use href="#u12a" stroke="#1f958b"/>
<use href="#u12b" stroke="#1f958b"/>
<use href="#u12c" stroke="#1f958b"/>
<use href="#u12d" stroke="#1f958b"/>
<use href="#u13a" stroke="#1fa088"/>
<use href="#u13b" stroke="#1fa088"/>
<use href="#u13c" stroke="#1fa088"/>
<use href="#u13d" stroke="#1fa088"/>
<use href="#u14a" stroke="#24aa83"/>
<use href="#u14b" stroke="#24aa83"/>
<use href="#u14c" stroke="#24aa83"/>
<use href="#u14d" stroke="#24aa83"/>
<use href="#u15a" stroke="#2fb47c"/>
<use href="#u15b" stroke="#2fb47c"/>
<use href="#u15c" stroke="#2fb47c"/>
<use href="#u15d" stroke="#2fb47c"/>
<use href="#u16a" stroke="#42be71"/>
<use href="#u16b" stroke="#42be71"/>
<use href="#u16c" stroke="#42be71"/>
<use href="#u16d" stroke="#42be71"/>
<use href="#u17a" stroke="#58c765"/>
<use href="#u17b" stroke="#58c765"/>
<use href="#u17c" stroke="#58c765"/>
<use href="#u17d" stroke="#58c765"/>
<use href="#u18a" stroke="#70cf57"/>
<use href="#u18b" stroke="#70cf57"/>
<use href="#u18c" stroke="#70cf57"/>
<use href="#u18d" stroke="#70cf57"/>
<use href="#u19a" stroke="#8bd646"/>
<use href="#u19b" stroke="#8bd646"/>
<use href="#u19c" stroke="#8bd646"/>
<use href="#u19d" stroke="#8bd646"/>
<use href="#u20a" stroke="#a8db34"/>
<use href="#u20b" stroke="#a8db34"/>
<use href="#u20c" stroke="#a8db34"/>
<use href="#u20d" stroke="#a8db34"/>
<use href="#u21a" stroke="#c5e021"/>
<use href="#u21b" stroke="#c5e021"/>
<use href="#u21c" stroke="#c5e021"/>
<use href="#u21d" stroke="#c5e021"/>
<use href="#u22a" stroke="#e2e418"/>
<use href="#u22b" stroke="#e2e418"/>
<use href="#u22c" stroke="#e2e418"/>
<use href="#u22d" stroke="#e2e418"/>
<use href="#u23a" stroke="#fde725"/>
<use href="#u23b" stroke="#fde725"/>
<use href="#u23c" stroke="#fde725"/>
<use href="#u23d" stroke="#fde725"/>
</g>
<path d="M1182.8 1868.6v11.46M1410.8 1868.6v11.46M1638.8 1868.6v11.46" stroke="#333" stroke-width="4.45" fill="none"/>
<text x="1182.8" y="1915" font-size="36.1" fill="#4d4d4d" text-anchor="middle">20°E</text>
<text x="1410.8" y="1915" font-size="36.1" fill="#4d4d4d" text-anchor="middle">25°E</text>
<text x="1638.8" y="1915" font-size="36.1" fill="#4d4d4d" text-anchor="middle">30°E</text>
</g>
<g>
<text x="1878" y="920.8" font-size="45.83" fill="#000">psi</text>
<rect x="1877.8" y="948.2" width="72" height="358.5" fill="url(#vg)"/>
<text x="1972.7" y="1319.7" font-size="36.1" fill="#000">0.00</text>
<text x="1972.7" y="1230.1" font-size="36.1" fill="#000">0.25</text>
<text x="1972.7" y="1140.5" font-size="36.1" fill="#000">0.50</text>
<text x="1972.7" y="1050.9" font-size="36.1" fill="#000">0.75</text>
<text x="1972.7" y="961.3" font-size="36.1" fill="#000">1.00</text>
<path d="M1877.8 1306.4h14.4M1935.4 1306.4h14.4M1877.8 1216.8h14.4M1935.4 1216.8h14.4M1877.8 1127.2h14.4M1935.4 1127.2h14.4M1877.8 1037.6h14.4M1935.4 1037.6h14.4M1877.8 948h14.4M1935.4 948h14.4" stroke="#fff" stroke-width="2.1" fill="none"/>
</g>
</svg></body></html>
